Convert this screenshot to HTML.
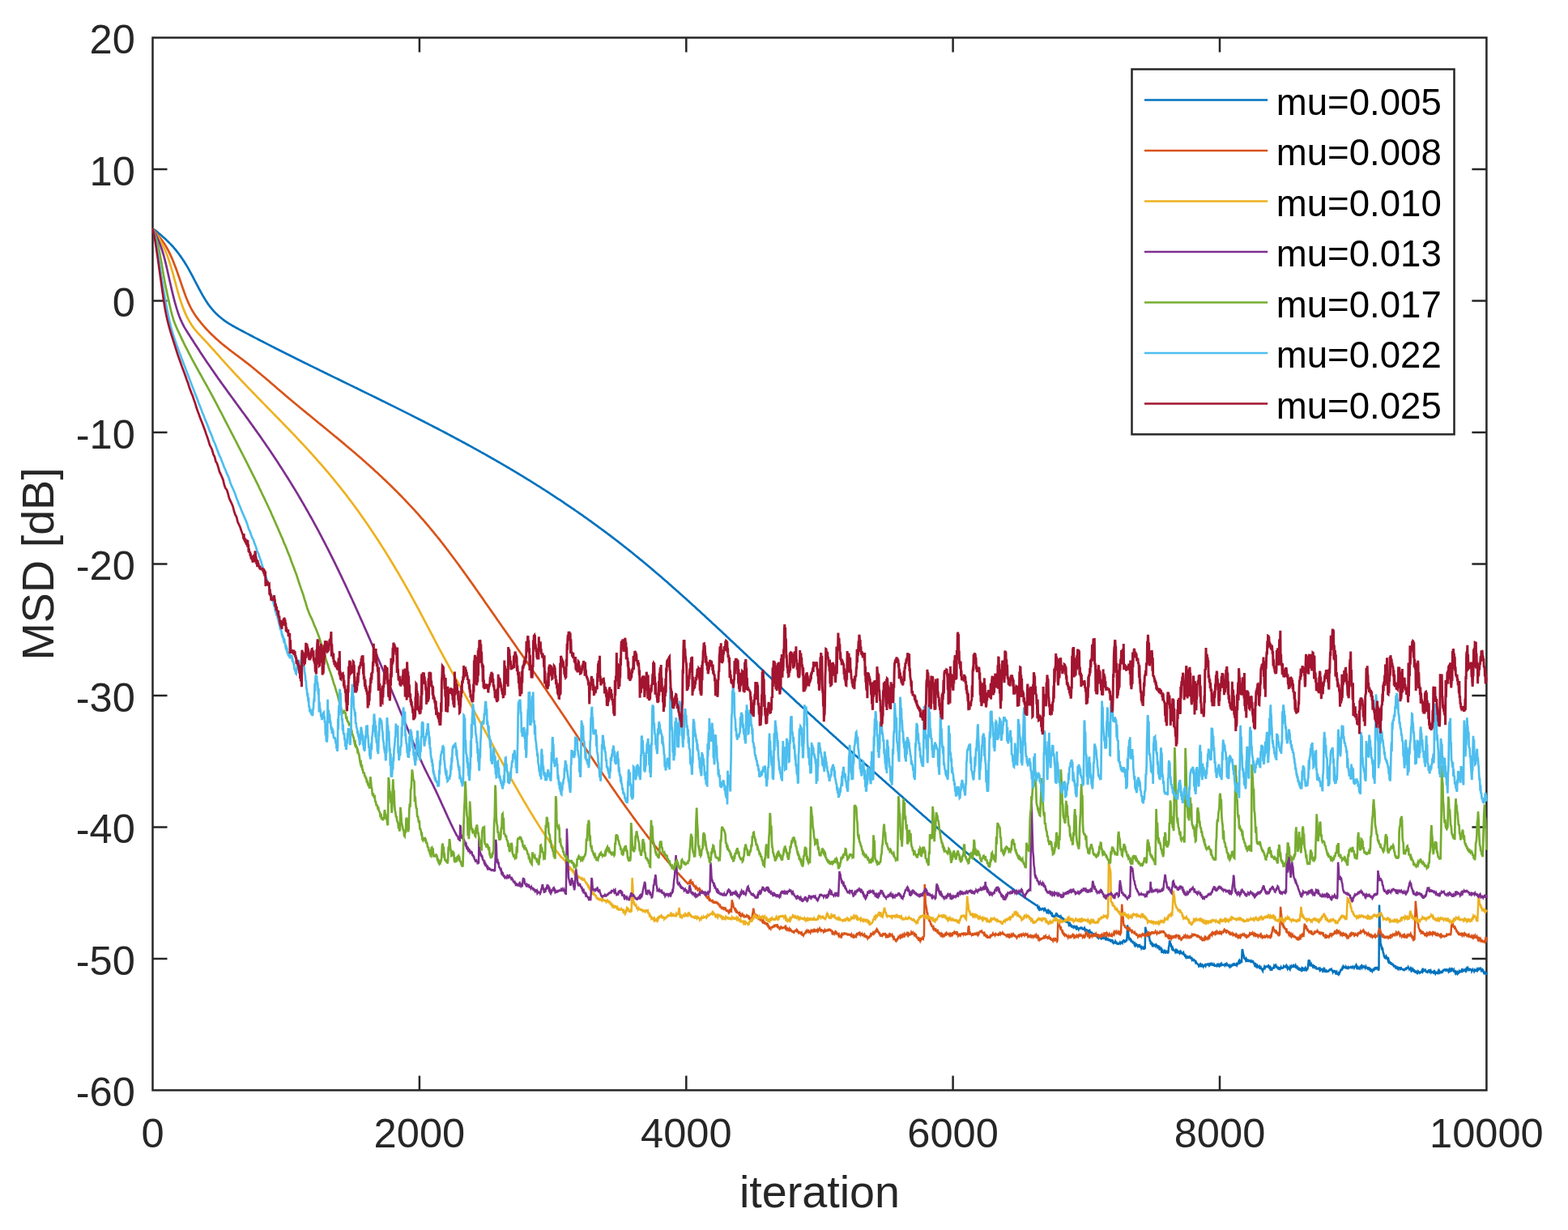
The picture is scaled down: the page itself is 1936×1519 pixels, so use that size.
<!DOCTYPE html>
<html lang="en"><head><meta charset="utf-8"><title>MSD vs iteration</title>
<style>html,body{margin:0;padding:0;background:#fff}body{width:1936px;height:1519px;overflow:hidden}svg{display:block}text{font-family:"Liberation Sans",sans-serif}</style></head><body>
<svg width="1936" height="1519" viewBox="0 0 1936 1519">
<rect width="1936" height="1519" fill="#fff"/>
<defs><clipPath id="ax"><rect x="187.2" y="45.2" width="1649.5" height="1302.5"/></clipPath></defs>
<g stroke="#262626" stroke-width="2.5" fill="none">
<path d="M517.9,1346.4 v-18 M517.9,46.5 v18"/>
<path d="M847.3,1346.4 v-18 M847.3,46.5 v18"/>
<path d="M1176.6,1346.4 v-18 M1176.6,46.5 v18"/>
<path d="M1506.0,1346.4 v-18 M1506.0,46.5 v18"/>
<path d="M188.5,209.0 h18 M1835.4,209.0 h-18"/>
<path d="M188.5,371.5 h18 M1835.4,371.5 h-18"/>
<path d="M188.5,534.0 h18 M1835.4,534.0 h-18"/>
<path d="M188.5,696.5 h18 M1835.4,696.5 h-18"/>
<path d="M188.5,858.9 h18 M1835.4,858.9 h-18"/>
<path d="M188.5,1021.4 h18 M1835.4,1021.4 h-18"/>
<path d="M188.5,1183.9 h18 M1835.4,1183.9 h-18"/>
<rect x="188.5" y="46.5" width="1646.9" height="1299.9"/>
</g>
<g clip-path="url(#ax)" fill="none" stroke-width="2.7" stroke-linejoin="round" stroke-linecap="butt">
<path stroke="#0072BD" d="M188.5,282.1 L190.0,283.3 L191.5,284.4 L193.0,285.6 L194.5,286.8 L196.0,288.1 L197.5,289.3 L199.0,290.6 L200.5,291.9 L202.0,293.2 L203.5,294.5 L205.0,295.9 L206.5,297.4 L208.0,298.8 L209.5,300.4 L211.0,301.9 L212.5,303.5 L214.0,305.2 L215.5,307.0 L217.0,308.7 L218.5,310.6 L220.0,312.5 L221.5,314.5 L223.0,316.6 L224.5,318.7 L226.0,321.0 L227.5,323.3 L229.0,325.7 L230.5,328.1 L232.0,330.7 L233.5,333.4 L235.0,336.1 L236.5,338.9 L238.0,341.7 L239.5,344.6 L241.0,347.5 L242.5,350.3 L244.0,353.2 L245.5,356.1 L247.0,358.9 L248.5,361.6 L250.0,364.3 L251.5,366.9 L253.0,369.4 L254.5,371.8 L256.0,374.1 L257.5,376.2 L259.0,378.3 L260.5,380.2 L262.0,382.0 L263.5,383.7 L265.0,385.3 L266.5,386.9 L268.0,388.3 L269.5,389.7 L271.0,391.0 L272.5,392.3 L274.0,393.5 L275.5,394.7 L277.0,395.8 L278.5,396.9 L280.0,397.9 L281.5,398.9 L283.0,399.8 L284.5,400.7 L286.0,401.6 L287.5,402.5 L289.0,403.3 L290.5,404.1 L292.0,405.0 L293.5,405.8 L295.0,406.6 L296.5,407.4 L298.0,408.2 L299.5,409.0 L301.0,409.8 L302.5,410.6 L304.0,411.4 L305.5,412.1 L307.0,412.9 L308.5,413.7 L310.0,414.5 L311.5,415.3 L313.0,416.1 L314.5,416.9 L316.0,417.6 L317.5,418.4 L319.0,419.2 L320.5,420.0 L322.0,420.8 L323.5,421.5 L325.0,422.3 L326.5,423.1 L328.0,423.8 L329.5,424.6 L331.0,425.4 L332.5,426.1 L334.0,426.9 L335.5,427.7 L337.0,428.4 L338.5,429.2 L340.0,430.0 L341.5,430.7 L343.0,431.5 L344.5,432.2 L346.0,433.0 L347.5,433.7 L349.0,434.5 L350.5,435.3 L352.0,436.0 L353.5,436.8 L355.0,437.5 L356.5,438.3 L358.0,439.0 L359.5,439.8 L361.0,440.5 L362.5,441.3 L364.0,442.0 L365.5,442.8 L367.0,443.5 L368.5,444.2 L370.0,445.0 L371.5,445.7 L373.0,446.5 L374.5,447.2 L376.0,448.0 L377.5,448.7 L379.0,449.4 L380.5,450.2 L382.0,450.9 L383.5,451.7 L385.0,452.4 L386.5,453.1 L388.0,453.9 L389.5,454.6 L391.0,455.3 L392.5,456.1 L394.0,456.8 L395.5,457.6 L397.0,458.3 L398.5,459.0 L400.0,459.8 L401.5,460.5 L403.0,461.2 L404.5,462.0 L406.0,462.7 L407.5,463.4 L409.0,464.2 L410.5,464.9 L412.0,465.6 L413.5,466.4 L415.0,467.1 L416.5,467.8 L418.0,468.5 L419.5,469.3 L421.0,470.0 L422.5,470.7 L424.0,471.5 L425.5,472.2 L427.0,472.9 L428.5,473.7 L430.0,474.4 L431.5,475.1 L433.0,475.9 L434.5,476.6 L436.0,477.3 L437.5,478.1 L439.0,478.8 L440.5,479.5 L442.0,480.3 L443.5,481.0 L445.0,481.7 L446.5,482.5 L448.0,483.2 L449.5,483.9 L451.0,484.7 L452.5,485.4 L454.0,486.1 L455.5,486.9 L457.0,487.6 L458.5,488.3 L460.0,489.1 L461.5,489.8 L463.0,490.5 L464.5,491.3 L466.0,492.0 L467.5,492.8 L469.0,493.5 L470.5,494.2 L472.0,495.0 L473.5,495.7 L475.0,496.4 L476.5,497.2 L478.0,497.9 L479.5,498.7 L481.0,499.4 L482.5,500.2 L484.0,500.9 L485.5,501.6 L487.0,502.4 L488.5,503.1 L490.0,503.9 L491.5,504.6 L493.0,505.4 L494.5,506.1 L496.0,506.9 L497.5,507.6 L499.0,508.4 L500.5,509.1 L502.0,509.9 L503.5,510.6 L505.0,511.4 L506.5,512.1 L508.0,512.9 L509.5,513.7 L511.0,514.4 L512.5,515.2 L514.0,515.9 L515.5,516.7 L517.0,517.5 L518.5,518.2 L520.0,519.0 L521.5,519.7 L523.0,520.5 L524.5,521.3 L526.0,522.1 L527.5,522.8 L529.0,523.6 L530.5,524.4 L532.0,525.1 L533.5,525.9 L535.0,526.7 L536.5,527.5 L538.0,528.2 L539.5,529.0 L541.0,529.8 L542.5,530.6 L544.0,531.4 L545.5,532.1 L547.0,532.9 L548.5,533.7 L550.0,534.5 L551.5,535.3 L553.0,536.1 L554.5,536.9 L556.0,537.7 L557.5,538.5 L559.0,539.3 L560.5,540.1 L562.0,540.9 L563.5,541.7 L565.0,542.5 L566.5,543.3 L568.0,544.1 L569.5,544.9 L571.0,545.7 L572.5,546.5 L574.0,547.3 L575.5,548.1 L577.0,549.0 L578.5,549.8 L580.0,550.6 L581.5,551.4 L583.0,552.2 L584.5,553.1 L586.0,553.9 L587.5,554.7 L589.0,555.6 L590.5,556.4 L592.0,557.2 L593.5,558.1 L595.0,558.9 L596.5,559.7 L598.0,560.6 L599.5,561.4 L601.0,562.3 L602.5,563.1 L604.0,564.0 L605.5,564.8 L607.0,565.7 L608.5,566.5 L610.0,567.4 L611.5,568.2 L613.0,569.1 L614.5,570.0 L616.0,570.8 L617.5,571.7 L619.0,572.6 L620.5,573.4 L622.0,574.3 L623.5,575.2 L625.0,576.1 L626.5,577.0 L628.0,577.8 L629.5,578.7 L631.0,579.6 L632.5,580.5 L634.0,581.4 L635.5,582.3 L637.0,583.2 L638.5,584.1 L640.0,585.0 L641.5,585.9 L643.0,586.8 L644.5,587.7 L646.0,588.6 L647.5,589.5 L649.0,590.5 L650.5,591.4 L652.0,592.3 L653.5,593.2 L655.0,594.2 L656.5,595.1 L658.0,596.0 L659.5,597.0 L661.0,597.9 L662.5,598.8 L664.0,599.8 L665.5,600.7 L667.0,601.7 L668.5,602.6 L670.0,603.6 L671.5,604.5 L673.0,605.5 L674.5,606.5 L676.0,607.4 L677.5,608.4 L679.0,609.4 L680.5,610.3 L682.0,611.3 L683.5,612.3 L685.0,613.3 L686.5,614.3 L688.0,615.3 L689.5,616.3 L691.0,617.2 L692.5,618.2 L694.0,619.2 L695.5,620.2 L697.0,621.3 L698.5,622.3 L700.0,623.3 L701.5,624.3 L703.0,625.3 L704.5,626.3 L706.0,627.4 L707.5,628.4 L709.0,629.4 L710.5,630.5 L712.0,631.5 L713.5,632.5 L715.0,633.6 L716.5,634.6 L718.0,635.7 L719.5,636.7 L721.0,637.8 L722.5,638.9 L724.0,639.9 L725.5,641.0 L727.0,642.1 L728.5,643.1 L730.0,644.2 L731.5,645.3 L733.0,646.4 L734.5,647.5 L736.0,648.6 L737.5,649.7 L739.0,650.8 L740.5,651.9 L742.0,653.0 L743.5,654.1 L745.0,655.2 L746.5,656.3 L748.0,657.4 L749.5,658.5 L751.0,659.7 L752.5,660.8 L754.0,661.9 L755.5,663.1 L757.0,664.2 L758.5,665.4 L760.0,666.5 L761.5,667.7 L763.0,668.8 L764.5,670.0 L766.0,671.2 L767.5,672.3 L769.0,673.5 L770.5,674.7 L772.0,675.9 L773.5,677.0 L775.0,678.2 L776.5,679.4 L778.0,680.6 L779.5,681.8 L781.0,683.0 L782.5,684.2 L784.0,685.5 L785.5,686.7 L787.0,687.9 L788.5,689.1 L790.0,690.4 L791.5,691.6 L793.0,692.8 L794.5,694.1 L796.0,695.3 L797.5,696.6 L799.0,697.8 L800.5,699.1 L802.0,700.3 L803.5,701.6 L805.0,702.9 L806.5,704.1 L808.0,705.4 L809.5,706.7 L811.0,708.0 L812.5,709.2 L814.0,710.5 L815.5,711.8 L817.0,713.1 L818.5,714.4 L820.0,715.7 L821.5,717.0 L823.0,718.3 L824.5,719.6 L826.0,721.0 L827.5,722.3 L829.0,723.6 L830.5,724.9 L832.0,726.2 L833.5,727.6 L835.0,728.9 L836.5,730.2 L838.0,731.6 L839.5,732.9 L841.0,734.2 L842.5,735.6 L844.0,736.9 L845.5,738.3 L847.0,739.6 L848.5,741.0 L850.0,742.3 L851.5,743.7 L853.0,745.1 L854.5,746.4 L856.0,747.8 L857.5,749.1 L859.0,750.5 L860.5,751.9 L862.0,753.3 L863.5,754.6 L865.0,756.0 L866.5,757.4 L868.0,758.8 L869.5,760.1 L871.0,761.5 L872.5,762.9 L874.0,764.3 L875.5,765.7 L877.0,767.1 L878.5,768.5 L880.0,769.9 L881.5,771.2 L883.0,772.6 L884.5,774.0 L886.0,775.4 L887.5,776.8 L889.0,778.2 L890.5,779.6 L892.0,781.0 L893.5,782.4 L895.0,783.8 L896.5,785.2 L898.0,786.7 L899.5,788.1 L901.0,789.5 L902.5,790.9 L904.0,792.3 L905.5,793.7 L907.0,795.1 L908.5,796.5 L910.0,797.9 L911.5,799.3 L913.0,800.8 L914.5,802.2 L916.0,803.6 L917.5,805.0 L919.0,806.4 L920.5,807.8 L922.0,809.2 L923.5,810.6 L925.0,812.1 L926.5,813.5 L928.0,814.9 L929.5,816.3 L931.0,817.7 L932.5,819.1 L934.0,820.5 L935.5,822.0 L937.0,823.4 L938.5,824.8 L940.0,826.2 L941.5,827.6 L943.0,829.0 L944.5,830.4 L946.0,831.9 L947.5,833.3 L949.0,834.7 L950.5,836.1 L952.0,837.5 L953.5,838.9 L955.0,840.3 L956.5,841.7 L958.0,843.1 L959.5,844.5 L961.0,845.9 L962.5,847.3 L964.0,848.7 L965.5,850.1 L967.0,851.5 L968.5,852.9 L970.0,854.3 L971.5,855.7 L973.0,857.1 L974.5,858.5 L976.0,859.9 L977.5,861.3 L979.0,862.7 L980.5,864.1 L982.0,865.5 L983.5,866.9 L985.0,868.2 L986.5,869.6 L988.0,871.0 L989.5,872.4 L991.0,873.8 L992.5,875.1 L994.0,876.5 L995.5,877.9 L997.0,879.3 L998.5,880.7 L1000.0,882.0 L1001.5,883.4 L1003.0,884.8 L1004.5,886.1 L1006.0,887.5 L1007.5,888.9 L1009.0,890.2 L1010.5,891.6 L1012.0,893.0 L1013.5,894.3 L1015.0,895.7 L1016.5,897.1 L1018.0,898.4 L1019.5,899.8 L1021.0,901.1 L1022.5,902.5 L1024.0,903.9 L1025.5,905.2 L1027.0,906.6 L1028.5,907.9 L1030.0,909.3 L1031.5,910.6 L1033.0,912.0 L1034.5,913.3 L1036.0,914.7 L1037.5,916.0 L1039.0,917.4 L1040.5,918.7 L1042.0,920.1 L1043.5,921.4 L1045.0,922.8 L1046.5,924.1 L1048.0,925.5 L1049.5,926.8 L1051.0,928.1 L1052.5,929.5 L1054.0,930.8 L1055.5,932.2 L1057.0,933.5 L1058.5,934.8 L1060.0,936.2 L1061.5,937.5 L1063.0,938.9 L1064.5,940.2 L1066.0,941.5 L1067.5,942.9 L1069.0,944.2 L1070.5,945.5 L1072.0,946.9 L1073.5,948.2 L1075.0,949.5 L1076.5,950.9 L1078.0,952.2 L1079.5,953.6 L1081.0,954.9 L1082.5,956.2 L1084.0,957.5 L1085.5,958.9 L1087.0,960.2 L1088.5,961.5 L1090.0,962.9 L1091.5,964.2 L1093.0,965.5 L1094.5,966.9 L1096.0,968.2 L1097.5,969.5 L1099.0,970.9 L1100.5,972.2 L1102.0,973.5 L1103.5,974.8 L1105.0,976.2 L1106.5,977.5 L1108.0,978.8 L1109.5,980.2 L1111.0,981.5 L1112.5,982.8 L1114.0,984.1 L1115.5,985.5 L1117.0,986.8 L1118.5,988.1 L1120.0,989.4 L1121.5,990.8 L1123.0,992.1 L1124.5,993.4 L1126.0,994.8 L1127.5,996.1 L1129.0,997.4 L1130.5,998.7 L1132.0,1000.0 L1133.5,1001.4 L1135.0,1002.7 L1136.5,1004.0 L1138.0,1005.3 L1139.5,1006.7 L1141.0,1008.0 L1142.5,1009.3 L1144.0,1010.6 L1145.5,1011.9 L1147.0,1013.2 L1148.5,1014.5 L1150.0,1015.8 L1151.5,1017.2 L1153.0,1018.5 L1154.5,1019.8 L1156.0,1021.1 L1157.5,1022.4 L1159.0,1023.7 L1160.5,1025.0 L1162.0,1026.3 L1163.5,1027.6 L1165.0,1028.9 L1166.5,1030.2 L1168.0,1031.4 L1169.5,1032.7 L1171.0,1034.0 L1172.5,1035.3 L1174.0,1036.6 L1175.5,1037.9 L1177.0,1039.1 L1178.5,1040.4 L1180.0,1041.7 L1181.5,1043.0 L1183.0,1044.2 L1184.5,1045.5 L1186.0,1046.8 L1187.5,1048.0 L1189.0,1049.3 L1190.5,1050.5 L1192.0,1051.8 L1193.5,1053.0 L1195.0,1054.3 L1196.5,1055.5 L1198.0,1056.7 L1199.5,1058.0 L1201.0,1059.2 L1202.5,1060.4 L1204.0,1061.7 L1205.5,1062.9 L1207.0,1064.1 L1208.5,1065.3 L1210.0,1066.5 L1211.5,1067.8 L1213.0,1069.0 L1214.5,1070.2 L1216.0,1071.4 L1217.5,1072.6 L1219.0,1073.8 L1220.5,1074.9 L1222.0,1076.1 L1223.5,1077.3 L1225.0,1078.5 L1226.5,1079.6 L1228.0,1080.8 L1229.5,1082.0 L1231.0,1083.1 L1232.5,1084.3 L1234.0,1085.4 L1235.5,1086.6 L1237.0,1087.7 L1238.5,1088.9 L1240.0,1090.0 L1241.5,1091.1 L1243.0,1092.3 L1244.5,1093.4 L1246.0,1094.5 L1247.5,1095.6 L1249.0,1096.7 L1250.5,1097.8 L1252.0,1098.9 L1253.5,1100.0 L1255.0,1101.1 L1256.5,1102.2 L1258.0,1103.2 L1259.5,1104.3 L1261.0,1105.4 L1262.5,1106.4 L1264.0,1107.5 L1265.5,1108.5 L1267.0,1109.6 L1268.5,1110.6 L1270.0,1111.7 L1271.5,1112.7 L1273.0,1113.7 L1274.5,1114.7 L1276.0,1115.7 L1277.5,1116.7 L1279.0,1117.7 L1280.2,1118.5"/>
<path stroke="#0072BD" stroke-width="2.5" stroke-linejoin="miter" stroke-miterlimit="3" d="M1280.2,1118.5 L1280.8,1118.2 L1281.4,1120.8 L1282.0,1120.4 L1282.6,1122.3 L1283.2,1121.1 L1283.8,1122.9 L1284.4,1122.0 L1285.0,1122.5 L1285.6,1123.3 L1286.2,1122.6 L1286.8,1122.8 L1287.3,1121.1 L1287.9,1123.1 L1288.5,1121.4 L1289.1,1123.7 L1289.7,1122.7 L1290.3,1125.1 L1290.8,1123.2 L1291.4,1124.1 L1292.0,1125.6 L1292.6,1123.8 L1293.2,1125.8 L1293.8,1124.7 L1294.4,1126.6 L1295.0,1125.3 L1295.6,1126.6 L1296.2,1127.3 L1296.8,1126.3 L1297.4,1127.8 L1298.0,1127.7 L1298.6,1129.9 L1299.2,1129.1 L1299.8,1131.5 L1300.4,1131.6 L1301.0,1131.3 L1301.6,1133.0 L1302.2,1130.1 L1302.8,1132.5 L1303.4,1130.5 L1304.2,1127.3 L1304.8,1128.6 L1305.3,1130.9 L1305.8,1131.3 L1306.5,1130.8 L1307.1,1132.8 L1307.8,1130.6 L1308.4,1132.2 L1309.0,1132.9 L1309.7,1131.7 L1310.3,1133.6 L1310.9,1132.2 L1311.6,1135.0 L1312.2,1133.3 L1312.8,1135.1 L1313.4,1136.6 L1314.0,1134.5 L1314.6,1137.6 L1315.1,1135.6 L1315.7,1139.0 L1316.3,1136.6 L1316.9,1139.5 L1317.5,1138.1 L1318.1,1138.8 L1318.6,1138.6 L1319.2,1139.9 L1319.8,1142.1 L1320.4,1141.1 L1321.0,1143.8 L1321.6,1141.6 L1322.2,1142.9 L1322.8,1141.8 L1323.4,1145.2 L1324.0,1143.9 L1324.6,1144.4 L1325.2,1145.4 L1325.8,1144.5 L1326.3,1146.2 L1326.9,1143.4 L1327.5,1145.1 L1328.1,1144.6 L1328.7,1146.3 L1329.3,1145.2 L1329.8,1146.5 L1330.4,1145.5 L1331.0,1146.3 L1331.7,1147.8 L1332.3,1145.7 L1332.9,1147.8 L1333.5,1145.2 L1334.1,1147.5 L1334.7,1144.6 L1335.4,1146.8 L1336.0,1144.9 L1336.6,1148.0 L1337.2,1146.2 L1337.8,1148.6 L1338.4,1147.1 L1339.0,1146.1 L1339.6,1148.2 L1340.2,1146.9 L1340.8,1149.5 L1341.3,1147.5 L1341.9,1149.8 L1342.5,1148.0 L1343.1,1150.7 L1343.7,1148.2 L1344.3,1151.1 L1344.8,1150.3 L1345.4,1149.5 L1346.0,1151.6 L1346.6,1151.2 L1347.2,1152.0 L1347.8,1151.8 L1348.4,1153.6 L1349.0,1152.8 L1349.6,1153.5 L1350.3,1154.5 L1350.9,1153.9 L1351.5,1156.4 L1352.1,1153.4 L1352.7,1156.3 L1353.3,1154.8 L1353.9,1155.6 L1354.6,1155.6 L1355.2,1157.1 L1355.8,1155.9 L1356.4,1157.6 L1357.0,1156.0 L1357.6,1156.7 L1358.2,1157.9 L1358.8,1157.4 L1359.4,1158.7 L1360.0,1157.5 L1360.6,1158.5 L1361.1,1157.9 L1361.7,1158.5 L1362.3,1156.5 L1362.9,1159.2 L1363.5,1157.7 L1364.0,1159.1 L1364.6,1159.6 L1365.2,1158.5 L1365.8,1161.5 L1366.4,1158.8 L1367.0,1160.3 L1367.5,1158.3 L1368.1,1161.3 L1368.7,1159.5 L1369.3,1162.3 L1369.9,1159.6 L1370.5,1161.5 L1371.1,1162.0 L1371.7,1160.1 L1372.3,1162.0 L1372.9,1160.4 L1373.6,1163.1 L1374.2,1162.5 L1374.8,1164.4 L1375.4,1163.7 L1376.1,1163.9 L1376.7,1165.3 L1377.3,1162.6 L1377.9,1163.8 L1378.5,1163.8 L1379.2,1166.2 L1379.8,1164.4 L1380.4,1166.6 L1381.0,1163.9 L1381.7,1165.5 L1382.3,1165.0 L1382.9,1163.7 L1383.5,1164.8 L1384.2,1163.2 L1384.8,1165.4 L1385.4,1162.6 L1386.0,1164.0 L1386.6,1161.9 L1387.3,1161.5 L1387.8,1163.6 L1388.4,1160.9 L1389.0,1162.9 L1389.6,1162.2 L1390.1,1162.4 L1390.7,1160.8 L1391.3,1162.3 L1392.1,1142.3 L1392.6,1148.1 L1393.1,1151.3 L1393.7,1157.5 L1394.2,1159.1 L1394.8,1157.8 L1395.4,1161.2 L1396.0,1159.0 L1396.5,1162.0 L1397.1,1161.8 L1397.7,1163.1 L1398.3,1163.8 L1398.8,1162.1 L1399.4,1165.3 L1400.0,1163.9 L1400.6,1166.3 L1401.2,1165.3 L1401.8,1167.3 L1402.3,1166.1 L1402.9,1168.8 L1403.5,1166.5 L1404.1,1167.1 L1404.7,1168.4 L1405.2,1166.9 L1405.8,1169.2 L1406.4,1166.2 L1407.0,1169.8 L1407.6,1168.5 L1408.2,1170.6 L1408.7,1168.3 L1409.3,1170.9 L1409.9,1169.7 L1410.5,1171.2 L1411.1,1171.2 L1411.8,1170.3 L1412.4,1172.8 L1413.0,1170.4 L1413.7,1172.0 L1414.2,1144.7 L1414.8,1148.0 L1415.4,1149.1 L1416.1,1153.5 L1416.7,1154.8 L1417.3,1153.6 L1417.9,1155.8 L1418.5,1155.9 L1419.1,1157.8 L1419.7,1161.8 L1420.3,1162.0 L1420.9,1165.5 L1421.5,1165.9 L1422.0,1165.2 L1422.6,1167.2 L1423.2,1166.2 L1423.8,1167.4 L1424.3,1165.7 L1424.9,1167.9 L1425.5,1167.9 L1426.2,1166.0 L1426.8,1168.0 L1427.5,1166.5 L1428.1,1167.1 L1428.7,1168.8 L1429.3,1167.2 L1429.9,1171.1 L1430.5,1170.0 L1431.1,1171.4 L1431.7,1170.2 L1432.3,1172.2 L1432.9,1172.0 L1433.5,1171.3 L1434.1,1174.4 L1434.7,1173.6 L1435.3,1176.8 L1435.9,1174.1 L1436.5,1175.7 L1437.1,1174.5 L1437.7,1176.0 L1438.3,1176.4 L1438.9,1174.8 L1439.5,1175.7 L1440.1,1173.9 L1440.7,1176.5 L1441.3,1175.0 L1441.9,1177.4 L1442.5,1176.0 L1443.0,1169.9 L1443.6,1167.7 L1444.1,1161.5 L1444.7,1163.1 L1445.3,1166.8 L1445.9,1166.6 L1446.5,1169.6 L1447.1,1171.4 L1447.7,1170.5 L1448.2,1172.8 L1448.8,1172.5 L1449.4,1173.7 L1449.9,1173.5 L1450.5,1173.6 L1451.1,1175.3 L1451.7,1173.7 L1452.3,1175.0 L1452.9,1173.8 L1453.5,1175.4 L1454.1,1174.8 L1454.7,1176.3 L1455.3,1176.0 L1455.9,1175.4 L1456.5,1177.0 L1457.1,1175.8 L1457.7,1178.1 L1458.3,1176.5 L1458.9,1178.0 L1459.5,1175.7 L1460.1,1177.6 L1460.7,1178.2 L1461.3,1177.0 L1461.9,1179.7 L1462.5,1178.0 L1463.0,1180.4 L1463.6,1180.0 L1464.2,1181.7 L1464.8,1180.1 L1465.4,1182.2 L1465.9,1181.7 L1466.5,1181.6 L1467.1,1183.6 L1467.7,1180.4 L1468.3,1182.1 L1468.9,1181.5 L1469.4,1183.3 L1470.0,1181.6 L1470.6,1184.6 L1471.2,1182.1 L1471.8,1185.3 L1472.4,1184.5 L1472.9,1184.8 L1473.5,1185.9 L1474.1,1185.2 L1474.7,1186.1 L1475.3,1186.2 L1475.9,1187.9 L1476.5,1186.4 L1477.1,1189.6 L1477.7,1189.6 L1478.4,1190.1 L1479.0,1191.2 L1479.7,1191.6 L1480.3,1193.4 L1480.9,1192.8 L1481.5,1191.4 L1482.1,1192.5 L1482.7,1191.1 L1483.3,1192.3 L1483.9,1191.8 L1484.4,1194.3 L1485.0,1192.5 L1485.6,1193.6 L1486.2,1191.2 L1486.8,1193.0 L1487.3,1192.8 L1487.9,1191.6 L1488.5,1192.7 L1489.1,1190.1 L1489.7,1192.4 L1490.3,1190.0 L1490.8,1192.0 L1491.4,1189.6 L1492.0,1191.2 L1492.6,1190.7 L1493.2,1192.6 L1493.8,1192.0 L1494.3,1189.1 L1494.9,1192.2 L1495.5,1190.3 L1496.1,1191.2 L1496.7,1190.5 L1497.2,1192.3 L1497.8,1190.6 L1498.4,1192.8 L1499.0,1191.3 L1499.6,1192.8 L1500.2,1192.8 L1500.7,1191.1 L1501.3,1193.6 L1501.9,1191.6 L1502.5,1194.1 L1503.1,1191.5 L1503.6,1192.0 L1504.2,1191.1 L1504.8,1192.1 L1505.4,1190.1 L1506.0,1192.7 L1506.6,1192.0 L1507.1,1190.8 L1507.7,1191.8 L1508.3,1190.6 L1508.9,1192.7 L1509.5,1190.6 L1510.1,1192.5 L1510.6,1190.6 L1511.2,1193.0 L1511.8,1190.5 L1512.4,1191.9 L1513.0,1190.4 L1513.6,1190.6 L1514.2,1191.6 L1514.8,1190.2 L1515.4,1191.1 L1516.0,1191.4 L1516.6,1192.5 L1517.2,1192.2 L1517.8,1193.6 L1518.4,1194.3 L1518.9,1193.0 L1519.5,1194.8 L1520.1,1192.0 L1520.7,1193.5 L1521.3,1190.9 L1521.8,1193.3 L1522.4,1189.7 L1523.0,1191.2 L1523.6,1190.4 L1524.2,1191.2 L1524.8,1192.6 L1525.4,1189.8 L1526.0,1191.2 L1526.6,1190.4 L1527.2,1191.9 L1527.8,1190.3 L1528.4,1190.4 L1529.0,1188.8 L1529.5,1187.4 L1530.1,1188.5 L1530.7,1186.5 L1531.3,1187.8 L1531.8,1186.3 L1532.4,1188.2 L1533.0,1188.0 L1533.8,1172.0 L1534.4,1174.1 L1535.0,1178.2 L1535.6,1179.6 L1536.2,1183.2 L1536.8,1184.0 L1537.5,1183.7 L1538.1,1185.6 L1538.7,1184.2 L1539.4,1186.4 L1540.0,1185.9 L1540.5,1185.6 L1541.1,1187.8 L1541.7,1185.1 L1542.2,1187.8 L1542.8,1186.5 L1543.4,1186.4 L1544.0,1187.3 L1544.5,1186.4 L1545.1,1187.1 L1545.7,1185.7 L1546.2,1189.0 L1546.8,1186.3 L1547.4,1188.0 L1548.0,1189.3 L1548.5,1189.6 L1549.1,1191.8 L1549.7,1190.9 L1550.3,1192.6 L1550.8,1191.5 L1551.4,1192.8 L1552.0,1194.0 L1552.6,1192.6 L1553.2,1194.0 L1553.8,1193.8 L1554.4,1194.6 L1555.0,1193.6 L1555.6,1195.6 L1556.2,1196.0 L1556.8,1194.9 L1557.4,1196.8 L1557.9,1195.5 L1558.5,1198.2 L1559.1,1199.2 L1559.5,1196.8 L1560.0,1196.8 L1560.6,1195.8 L1561.2,1193.9 L1561.8,1195.1 L1562.4,1192.8 L1563.0,1195.3 L1563.6,1192.5 L1564.2,1193.8 L1564.8,1193.6 L1565.4,1193.0 L1566.0,1195.1 L1566.6,1193.6 L1567.2,1195.0 L1567.8,1194.2 L1568.4,1196.5 L1569.0,1195.4 L1569.6,1196.8 L1570.2,1198.7 L1570.8,1195.6 L1571.4,1196.8 L1572.0,1193.9 L1572.6,1196.2 L1573.2,1192.9 L1573.8,1193.9 L1574.4,1192.0 L1575.0,1191.6 L1575.6,1194.4 L1576.2,1192.6 L1576.8,1195.8 L1577.4,1194.2 L1578.0,1197.2 L1578.6,1195.7 L1579.2,1196.8 L1579.8,1197.0 L1580.4,1194.4 L1581.0,1195.7 L1581.5,1194.6 L1582.1,1196.6 L1582.7,1194.3 L1583.3,1196.8 L1583.9,1194.2 L1584.5,1195.7 L1585.0,1193.1 L1585.6,1193.6 L1586.2,1193.9 L1586.8,1193.4 L1587.4,1193.7 L1587.9,1192.8 L1588.5,1195.8 L1589.1,1194.4 L1589.7,1196.4 L1590.3,1195.2 L1590.9,1197.1 L1591.4,1195.3 L1592.0,1196.0 L1592.6,1197.0 L1593.2,1194.0 L1593.8,1194.9 L1594.4,1193.5 L1594.9,1195.1 L1595.5,1192.9 L1596.1,1194.6 L1596.7,1192.8 L1597.3,1193.5 L1597.8,1192.3 L1598.4,1192.8 L1599.0,1193.6 L1599.6,1192.3 L1600.2,1194.3 L1600.8,1193.8 L1601.3,1194.9 L1601.9,1194.4 L1602.5,1197.6 L1603.1,1194.7 L1603.7,1196.8 L1604.3,1196.2 L1604.8,1196.8 L1605.4,1198.6 L1606.0,1195.4 L1606.6,1197.5 L1607.2,1196.1 L1607.8,1197.6 L1608.4,1196.5 L1609.0,1198.0 L1609.6,1197.6 L1610.2,1194.9 L1610.8,1196.9 L1611.4,1195.8 L1612.0,1198.9 L1612.6,1196.9 L1613.2,1198.1 L1613.8,1197.3 L1614.4,1196.8 L1615.1,1193.0 L1615.7,1186.4 L1616.3,1186.3 L1616.8,1189.5 L1617.4,1188.7 L1617.9,1192.2 L1618.4,1192.0 L1619.1,1190.9 L1619.7,1193.4 L1620.3,1191.4 L1620.9,1193.6 L1621.6,1192.6 L1622.2,1194.0 L1622.8,1192.2 L1623.4,1195.5 L1624.0,1194.4 L1624.7,1194.3 L1625.3,1197.3 L1625.9,1195.2 L1626.5,1197.1 L1627.1,1195.3 L1627.7,1197.3 L1628.3,1194.7 L1628.9,1196.8 L1629.5,1198.1 L1630.1,1196.6 L1630.7,1197.9 L1631.3,1197.2 L1631.9,1197.2 L1632.5,1196.0 L1633.1,1199.1 L1633.7,1198.4 L1634.3,1197.0 L1634.9,1198.8 L1635.5,1197.6 L1636.1,1200.1 L1636.7,1198.4 L1637.3,1200.9 L1637.9,1198.7 L1638.5,1199.2 L1639.1,1200.7 L1639.7,1198.5 L1640.3,1200.3 L1640.9,1197.4 L1641.5,1199.0 L1642.1,1196.2 L1642.7,1197.4 L1643.3,1197.6 L1643.9,1196.9 L1644.5,1198.5 L1645.1,1198.7 L1645.7,1200.5 L1646.3,1198.9 L1646.9,1200.8 L1647.5,1198.1 L1648.1,1200.0 L1648.6,1200.9 L1649.2,1198.8 L1649.8,1201.2 L1650.4,1200.3 L1650.9,1202.4 L1651.5,1202.4 L1652.1,1203.2 L1652.6,1203.7 L1653.2,1201.5 L1653.8,1202.0 L1654.4,1200.1 L1654.9,1199.7 L1655.5,1197.6 L1656.1,1197.6 L1656.7,1197.7 L1657.4,1195.1 L1658.0,1195.5 L1658.6,1193.0 L1659.3,1193.6 L1659.9,1195.5 L1660.5,1193.7 L1661.1,1196.0 L1661.7,1194.1 L1662.3,1195.3 L1662.9,1194.7 L1663.5,1195.4 L1664.1,1196.0 L1664.7,1194.8 L1665.3,1196.2 L1665.9,1193.7 L1666.5,1195.9 L1667.1,1194.1 L1667.7,1195.9 L1668.3,1194.1 L1668.9,1194.4 L1669.5,1195.0 L1670.1,1194.1 L1670.7,1195.8 L1671.3,1193.7 L1671.9,1195.2 L1672.5,1193.7 L1673.1,1193.6 L1673.7,1192.8 L1674.3,1191.8 L1674.9,1194.5 L1675.5,1193.7 L1676.1,1195.6 L1676.7,1194.9 L1677.3,1197.2 L1677.9,1193.9 L1678.5,1195.2 L1679.1,1196.0 L1679.7,1193.7 L1680.3,1194.0 L1680.9,1192.9 L1681.5,1194.8 L1682.1,1193.3 L1682.7,1194.2 L1683.3,1193.6 L1683.9,1193.2 L1684.5,1195.7 L1685.1,1193.7 L1685.7,1195.2 L1686.3,1193.8 L1686.9,1195.9 L1687.5,1193.7 L1688.1,1196.0 L1688.7,1196.5 L1689.3,1194.3 L1689.9,1197.4 L1690.5,1196.1 L1691.1,1197.2 L1691.7,1196.6 L1692.3,1199.1 L1692.9,1199.2 L1693.5,1198.2 L1694.1,1199.2 L1694.7,1196.6 L1695.3,1198.1 L1695.9,1197.2 L1696.5,1197.7 L1697.1,1195.5 L1697.7,1195.2 L1698.3,1197.6 L1698.9,1194.7 L1699.5,1196.3 L1700.1,1194.0 L1700.7,1197.3 L1701.3,1194.8 L1701.9,1198.5 L1702.5,1196.8 L1703.0,1117.5 L1703.5,1133.6 L1704.1,1152.2 L1704.6,1167.1 L1705.2,1167.0 L1705.9,1171.1 L1706.5,1170.4 L1707.1,1171.4 L1707.7,1176.3 L1708.3,1177.3 L1708.9,1180.8 L1709.6,1182.3 L1710.2,1181.6 L1710.8,1182.7 L1711.5,1181.2 L1712.1,1183.2 L1712.7,1183.9 L1713.3,1183.4 L1713.8,1186.0 L1714.4,1185.0 L1715.0,1188.1 L1715.5,1187.5 L1716.1,1188.0 L1716.7,1190.4 L1717.3,1188.3 L1717.8,1191.6 L1718.4,1189.7 L1719.0,1191.9 L1719.6,1189.9 L1720.1,1192.0 L1720.7,1192.9 L1721.3,1191.4 L1721.9,1194.2 L1722.5,1192.3 L1723.1,1194.7 L1723.7,1194.2 L1724.3,1195.6 L1724.9,1196.0 L1725.5,1195.0 L1726.1,1196.2 L1726.7,1194.1 L1727.3,1196.0 L1727.9,1194.4 L1728.5,1196.4 L1729.1,1195.4 L1729.7,1195.2 L1730.3,1197.6 L1730.9,1195.8 L1731.5,1197.7 L1732.1,1196.1 L1732.7,1198.6 L1733.3,1196.2 L1733.9,1197.7 L1734.5,1196.8 L1735.1,1196.4 L1735.7,1198.1 L1736.3,1194.7 L1736.9,1196.9 L1737.5,1194.2 L1738.1,1195.9 L1738.7,1194.2 L1739.3,1195.2 L1739.9,1196.7 L1740.5,1195.2 L1741.1,1197.8 L1741.7,1196.3 L1742.3,1198.2 L1742.9,1196.9 L1743.5,1198.9 L1744.1,1198.4 L1744.7,1197.1 L1745.3,1198.3 L1745.9,1197.2 L1746.5,1200.6 L1747.1,1198.3 L1747.7,1201.8 L1748.3,1199.1 L1748.9,1200.8 L1749.5,1201.5 L1750.1,1199.9 L1750.7,1201.2 L1751.3,1200.3 L1751.9,1201.9 L1752.5,1199.7 L1753.1,1201.5 L1753.8,1200.8 L1754.4,1200.4 L1755.0,1200.3 L1755.6,1198.8 L1756.2,1199.9 L1756.8,1197.7 L1757.4,1198.8 L1758.0,1197.6 L1758.6,1198.4 L1759.2,1198.9 L1759.8,1198.1 L1760.4,1200.2 L1761.0,1198.4 L1761.6,1201.4 L1762.2,1198.7 L1762.8,1200.2 L1763.4,1199.2 L1764.0,1198.5 L1764.6,1199.6 L1765.2,1197.3 L1765.8,1199.3 L1766.4,1198.5 L1767.0,1200.8 L1767.6,1199.8 L1768.2,1200.0 L1768.8,1200.6 L1769.4,1200.1 L1770.0,1201.2 L1770.6,1200.1 L1771.2,1202.4 L1771.8,1200.9 L1772.4,1202.6 L1773.0,1201.6 L1773.5,1199.7 L1774.1,1202.7 L1774.7,1199.9 L1775.3,1201.1 L1775.9,1199.3 L1776.5,1200.5 L1777.0,1198.9 L1777.6,1200.4 L1778.2,1199.0 L1778.8,1202.0 L1779.4,1200.8 L1780.0,1200.1 L1780.6,1201.8 L1781.2,1198.6 L1781.8,1199.9 L1782.4,1196.9 L1783.0,1199.2 L1783.6,1197.4 L1784.2,1197.6 L1784.8,1198.2 L1785.4,1196.5 L1786.0,1199.2 L1786.6,1197.8 L1787.2,1198.4 L1787.8,1197.9 L1788.4,1199.7 L1789.0,1198.4 L1789.6,1197.1 L1790.2,1198.9 L1790.8,1197.6 L1791.4,1198.3 L1792.0,1196.9 L1792.6,1198.1 L1793.2,1197.1 L1793.8,1198.4 L1794.4,1198.7 L1795.0,1197.7 L1795.6,1200.9 L1796.2,1198.5 L1796.8,1201.1 L1797.4,1200.2 L1798.0,1202.3 L1798.6,1201.6 L1799.2,1200.6 L1799.8,1202.3 L1800.4,1201.0 L1801.0,1201.4 L1801.6,1199.8 L1802.2,1201.5 L1802.8,1198.2 L1803.4,1200.0 L1804.0,1199.9 L1804.6,1198.3 L1805.2,1199.4 L1805.8,1198.2 L1806.4,1200.3 L1807.0,1196.9 L1807.6,1199.2 L1808.2,1197.6 L1808.8,1197.4 L1809.4,1198.8 L1810.0,1197.3 L1810.6,1198.4 L1811.2,1196.0 L1811.8,1196.9 L1812.4,1195.4 L1813.0,1196.8 L1813.6,1197.7 L1814.2,1195.8 L1814.8,1197.9 L1815.4,1196.1 L1816.0,1198.6 L1816.6,1196.8 L1817.2,1199.5 L1817.8,1198.4 L1818.4,1197.4 L1819.0,1199.3 L1819.6,1197.5 L1820.2,1199.5 L1820.8,1198.2 L1821.4,1199.8 L1822.0,1197.8 L1822.6,1197.6 L1823.2,1198.4 L1823.8,1196.9 L1824.4,1198.3 L1825.0,1197.0 L1825.6,1197.4 L1826.2,1196.1 L1826.8,1196.8 L1827.4,1196.8 L1828.0,1196.0 L1828.7,1198.0 L1829.3,1196.8 L1830.0,1200.2 L1830.6,1197.6 L1831.2,1198.4 L1831.9,1200.6 L1832.5,1199.5 L1833.2,1203.4 L1833.8,1201.6 L1834.3,1201.1 L1834.9,1203.5 L1835.4,1202.4 L1836.9,1201.9"/>
<path stroke="#D95319" d="M188.5,282.1 L190.0,284.2 L191.5,286.2 L193.0,288.1 L194.5,289.9 L196.0,291.8 L197.5,293.6 L199.0,295.5 L200.5,297.5 L202.0,299.7 L203.5,301.9 L205.0,304.4 L206.5,307.0 L208.0,309.8 L209.5,312.9 L211.0,316.1 L212.5,319.5 L214.0,323.1 L215.5,326.9 L217.0,330.8 L218.5,334.9 L220.0,339.2 L221.5,343.5 L223.0,347.9 L224.5,352.4 L226.0,356.7 L227.5,361.0 L229.0,365.1 L230.5,369.0 L232.0,372.6 L233.5,375.9 L235.0,379.0 L236.5,381.9 L238.0,384.5 L239.5,386.9 L241.0,389.2 L242.5,391.4 L244.0,393.4 L245.5,395.4 L247.0,397.2 L248.5,399.1 L250.0,400.9 L251.5,402.6 L253.0,404.3 L254.5,406.0 L256.0,407.6 L257.5,409.2 L259.0,410.7 L260.5,412.2 L262.0,413.7 L263.5,415.1 L265.0,416.5 L266.5,417.9 L268.0,419.3 L269.5,420.6 L271.0,421.9 L272.5,423.2 L274.0,424.5 L275.5,425.7 L277.0,426.9 L278.5,428.1 L280.0,429.3 L281.5,430.5 L283.0,431.7 L284.5,432.8 L286.0,434.0 L287.5,435.1 L289.0,436.2 L290.5,437.4 L292.0,438.5 L293.5,439.6 L295.0,440.7 L296.5,441.9 L298.0,443.0 L299.5,444.1 L301.0,445.3 L302.5,446.4 L304.0,447.6 L305.5,448.7 L307.0,449.9 L308.5,451.1 L310.0,452.3 L311.5,453.5 L313.0,454.7 L314.5,456.0 L316.0,457.2 L317.5,458.4 L319.0,459.7 L320.5,460.9 L322.0,462.2 L323.5,463.5 L325.0,464.7 L326.5,466.0 L328.0,467.3 L329.5,468.6 L331.0,469.8 L332.5,471.1 L334.0,472.4 L335.5,473.7 L337.0,475.0 L338.5,476.3 L340.0,477.6 L341.5,478.9 L343.0,480.2 L344.5,481.5 L346.0,482.8 L347.5,484.0 L349.0,485.3 L350.5,486.6 L352.0,487.9 L353.5,489.2 L355.0,490.4 L356.5,491.7 L358.0,493.0 L359.5,494.2 L361.0,495.5 L362.5,496.7 L364.0,498.0 L365.5,499.2 L367.0,500.5 L368.5,501.7 L370.0,503.0 L371.5,504.2 L373.0,505.4 L374.5,506.7 L376.0,507.9 L377.5,509.1 L379.0,510.4 L380.5,511.6 L382.0,512.8 L383.5,514.1 L385.0,515.3 L386.5,516.5 L388.0,517.7 L389.5,519.0 L391.0,520.2 L392.5,521.4 L394.0,522.7 L395.5,523.9 L397.0,525.1 L398.5,526.3 L400.0,527.6 L401.5,528.8 L403.0,530.0 L404.5,531.3 L406.0,532.5 L407.5,533.7 L409.0,535.0 L410.5,536.2 L412.0,537.4 L413.5,538.7 L415.0,539.9 L416.5,541.1 L418.0,542.4 L419.5,543.6 L421.0,544.9 L422.5,546.1 L424.0,547.4 L425.5,548.6 L427.0,549.9 L428.5,551.2 L430.0,552.4 L431.5,553.7 L433.0,555.0 L434.5,556.3 L436.0,557.5 L437.5,558.8 L439.0,560.1 L440.5,561.4 L442.0,562.7 L443.5,564.0 L445.0,565.3 L446.5,566.6 L448.0,567.9 L449.5,569.3 L451.0,570.6 L452.5,571.9 L454.0,573.2 L455.5,574.6 L457.0,575.9 L458.5,577.3 L460.0,578.6 L461.5,580.0 L463.0,581.4 L464.5,582.8 L466.0,584.1 L467.5,585.5 L469.0,586.9 L470.5,588.3 L472.0,589.7 L473.5,591.2 L475.0,592.6 L476.5,594.0 L478.0,595.4 L479.5,596.9 L481.0,598.3 L482.5,599.8 L484.0,601.3 L485.5,602.8 L487.0,604.2 L488.5,605.7 L490.0,607.2 L491.5,608.8 L493.0,610.3 L494.5,611.8 L496.0,613.3 L497.5,614.9 L499.0,616.4 L500.5,618.0 L502.0,619.6 L503.5,621.2 L505.0,622.8 L506.5,624.4 L508.0,626.0 L509.5,627.6 L511.0,629.2 L512.5,630.9 L514.0,632.5 L515.5,634.2 L517.0,635.9 L518.5,637.6 L520.0,639.3 L521.5,641.0 L523.0,642.7 L524.5,644.5 L526.0,646.2 L527.5,648.0 L529.0,649.7 L530.5,651.5 L532.0,653.3 L533.5,655.1 L535.0,656.9 L536.5,658.8 L538.0,660.6 L539.5,662.5 L541.0,664.3 L542.5,666.2 L544.0,668.1 L545.5,670.0 L547.0,671.9 L548.5,673.9 L550.0,675.8 L551.5,677.8 L553.0,679.7 L554.5,681.7 L556.0,683.7 L557.5,685.7 L559.0,687.7 L560.5,689.7 L562.0,691.7 L563.5,693.8 L565.0,695.8 L566.5,697.8 L568.0,699.9 L569.5,702.0 L571.0,704.0 L572.5,706.1 L574.0,708.2 L575.5,710.3 L577.0,712.4 L578.5,714.5 L580.0,716.6 L581.5,718.7 L583.0,720.8 L584.5,722.9 L586.0,725.1 L587.5,727.2 L589.0,729.3 L590.5,731.5 L592.0,733.6 L593.5,735.8 L595.0,737.9 L596.5,740.1 L598.0,742.2 L599.5,744.4 L601.0,746.5 L602.5,748.7 L604.0,750.8 L605.5,753.0 L607.0,755.1 L608.5,757.3 L610.0,759.4 L611.5,761.6 L613.0,763.7 L614.5,765.9 L616.0,768.0 L617.5,770.2 L619.0,772.3 L620.5,774.5 L622.0,776.6 L623.5,778.8 L625.0,780.9 L626.5,783.1 L628.0,785.2 L629.5,787.3 L631.0,789.5 L632.5,791.6 L634.0,793.8 L635.5,795.9 L637.0,798.1 L638.5,800.2 L640.0,802.4 L641.5,804.5 L643.0,806.7 L644.5,808.8 L646.0,811.0 L647.5,813.1 L649.0,815.3 L650.5,817.4 L652.0,819.6 L653.5,821.7 L655.0,823.9 L656.5,826.1 L658.0,828.2 L659.5,830.4 L661.0,832.6 L662.5,834.8 L664.0,836.9 L665.5,839.1 L667.0,841.3 L668.5,843.5 L670.0,845.7 L671.5,847.9 L673.0,850.1 L674.5,852.3 L676.0,854.5 L677.5,856.7 L679.0,858.9 L680.5,861.1 L682.0,863.3 L683.5,865.5 L685.0,867.7 L686.5,870.0 L688.0,872.2 L689.5,874.4 L691.0,876.6 L692.5,878.9 L694.0,881.1 L695.5,883.3 L697.0,885.6 L698.5,887.8 L700.0,890.1 L701.5,892.3 L703.0,894.5 L704.5,896.8 L706.0,899.0 L707.5,901.3 L709.0,903.5 L710.5,905.7 L712.0,908.0 L713.5,910.2 L715.0,912.5 L716.5,914.7 L718.0,916.9 L719.5,919.2 L721.0,921.4 L722.5,923.6 L724.0,925.9 L725.5,928.1 L727.0,930.3 L728.5,932.6 L730.0,934.8 L731.5,937.0 L733.0,939.2 L734.5,941.4 L736.0,943.7 L737.5,945.9 L739.0,948.1 L740.5,950.3 L742.0,952.5 L743.5,954.7 L745.0,956.9 L746.5,959.1 L748.0,961.3 L749.5,963.4 L751.0,965.6 L752.5,967.8 L754.0,970.0 L755.5,972.1 L757.0,974.3 L758.5,976.4 L760.0,978.6 L761.5,980.7 L763.0,982.9 L764.5,985.0 L766.0,987.1 L767.5,989.3 L769.0,991.4 L770.5,993.5 L772.0,995.6 L773.5,997.7 L775.0,999.8 L776.5,1001.8 L778.0,1003.9 L779.5,1006.0 L781.0,1008.0 L782.5,1010.1 L784.0,1012.1 L785.5,1014.2 L787.0,1016.2 L788.5,1018.2 L790.0,1020.2 L791.5,1022.2 L793.0,1024.2 L794.5,1026.2 L796.0,1028.2 L797.5,1030.2 L799.0,1032.1 L800.5,1034.1 L802.0,1036.0 L803.5,1037.9 L805.0,1039.8 L806.5,1041.8 L808.0,1043.7 L809.5,1045.5 L811.0,1047.4 L812.5,1049.3 L814.0,1051.1 L815.5,1053.0 L817.0,1054.8 L818.5,1056.6 L820.0,1058.5 L821.5,1060.3 L823.0,1062.0 L824.5,1063.8 L826.0,1065.6 L827.5,1067.3 L829.0,1069.1 L830.5,1070.8 L832.0,1072.5 L833.5,1074.2 L835.0,1075.9 L836.5,1077.6 L838.0,1079.2 L839.5,1080.9 L841.0,1082.5 L842.5,1084.1 L844.0,1085.7 L845.5,1087.3 L847.0,1088.9 L848.5,1090.4 L850.0,1092.0 L850.1,1092.1"/>
<path stroke="#D95319" stroke-width="2.5" stroke-linejoin="miter" stroke-miterlimit="3" d="M850.1,1092.1 L850.8,1089.8 L851.5,1090.4 L852.2,1087.3 L852.8,1087.0 L853.3,1090.1 L853.8,1089.8 L854.4,1091.8 L854.9,1092.1 L855.5,1090.8 L856.2,1093.3 L856.8,1093.2 L857.4,1094.8 L858.0,1094.7 L858.6,1096.4 L859.2,1095.1 L859.9,1096.8 L860.5,1096.4 L861.1,1098.1 L861.7,1096.6 L862.3,1098.9 L862.9,1098.5 L863.5,1097.7 L864.2,1100.4 L864.8,1099.7 L865.4,1102.5 L866.0,1100.5 L866.6,1102.4 L867.2,1100.7 L867.9,1103.2 L868.5,1101.5 L869.1,1104.3 L869.7,1102.6 L870.3,1104.9 L870.9,1104.9 L871.5,1104.7 L872.1,1108.2 L872.7,1106.6 L873.3,1108.5 L873.9,1108.0 L874.5,1109.2 L875.1,1108.1 L875.7,1110.5 L876.3,1109.3 L876.9,1112.8 L877.5,1111.3 L878.1,1113.5 L878.7,1111.1 L879.3,1112.9 L879.9,1112.4 L880.5,1114.5 L881.1,1114.7 L881.7,1112.7 L882.3,1115.1 L882.9,1113.6 L883.5,1115.8 L884.2,1114.1 L884.8,1114.6 L885.4,1115.3 L885.9,1115.0 L886.5,1117.2 L887.1,1115.1 L887.7,1118.5 L888.3,1116.9 L888.8,1120.4 L889.4,1119.1 L890.0,1121.3 L890.6,1119.7 L891.2,1121.6 L891.8,1120.9 L892.4,1120.8 L893.0,1122.0 L893.6,1120.1 L894.2,1122.9 L894.8,1121.0 L895.4,1124.0 L896.0,1122.5 L896.6,1124.1 L897.1,1125.6 L897.7,1123.5 L898.3,1125.9 L898.9,1124.4 L899.5,1126.4 L900.1,1125.2 L900.6,1126.2 L901.2,1124.7 L901.8,1126.2 L902.4,1124.2 L903.0,1124.9 L903.8,1111.3 L904.4,1114.5 L905.0,1115.7 L905.6,1119.7 L906.2,1120.9 L906.8,1121.7 L907.4,1123.5 L908.0,1122.9 L908.6,1125.4 L909.2,1124.7 L909.8,1126.4 L910.4,1126.0 L911.0,1127.3 L911.6,1127.7 L912.1,1126.4 L912.7,1128.7 L913.3,1127.7 L913.9,1129.8 L914.5,1129.1 L915.0,1131.0 L915.6,1129.9 L916.2,1130.4 L916.8,1129.1 L917.4,1130.5 L918.0,1131.4 L918.5,1129.4 L919.1,1132.1 L919.7,1130.7 L920.3,1133.3 L920.9,1131.0 L921.5,1132.8 L922.0,1130.7 L922.6,1131.4 L923.2,1129.7 L923.8,1132.1 L924.4,1133.6 L925.0,1132.7 L925.6,1134.2 L926.2,1132.8 L926.8,1135.1 L927.4,1132.8 L928.0,1134.6 L928.6,1134.6 L929.1,1128.9 L929.7,1126.2 L930.2,1121.7 L930.7,1124.2 L931.3,1127.9 L931.8,1130.5 L932.4,1130.0 L933.0,1132.5 L933.5,1130.7 L934.1,1131.9 L934.7,1131.3 L935.3,1133.8 L935.9,1132.1 L936.4,1134.2 L937.0,1133.4 L937.6,1134.4 L938.2,1135.4 L938.8,1133.5 L939.4,1136.4 L940.0,1134.8 L940.7,1136.9 L941.3,1135.6 L941.9,1138.1 L942.5,1136.9 L943.1,1139.2 L943.7,1138.9 L944.4,1141.0 L945.0,1139.3 L945.6,1142.1 L946.2,1140.2 L946.8,1140.3 L947.4,1142.3 L948.0,1141.8 L948.6,1144.3 L949.2,1144.0 L949.8,1146.1 L950.4,1145.4 L951.0,1145.8 L951.6,1146.9 L952.2,1144.7 L952.8,1146.5 L953.5,1144.2 L954.1,1146.0 L954.7,1143.1 L955.3,1145.0 L955.9,1143.2 L956.5,1143.8 L957.2,1141.9 L957.8,1144.6 L958.4,1141.5 L959.0,1143.4 L959.6,1144.3 L960.2,1143.4 L960.8,1145.2 L961.3,1145.0 L961.9,1146.1 L962.5,1144.5 L963.1,1146.7 L963.7,1145.7 L964.2,1147.0 L964.8,1145.1 L965.4,1145.8 L966.0,1147.2 L966.6,1144.6 L967.3,1146.6 L967.9,1144.5 L968.5,1146.5 L969.1,1145.0 L969.7,1146.3 L970.3,1144.8 L971.0,1146.8 L971.6,1145.4 L972.2,1148.0 L972.8,1147.2 L973.4,1147.4 L974.0,1148.6 L974.6,1147.1 L975.2,1148.8 L975.7,1146.4 L976.3,1150.2 L976.9,1148.1 L977.5,1150.6 L978.1,1149.3 L978.7,1151.8 L979.2,1149.6 L979.8,1151.4 L980.4,1151.6 L981.0,1149.4 L981.6,1150.8 L982.2,1148.2 L982.8,1150.5 L983.4,1148.6 L984.0,1149.9 L984.6,1149.0 L985.2,1149.9 L985.8,1151.5 L986.4,1150.1 L987.0,1153.1 L987.5,1150.6 L988.1,1152.3 L988.7,1152.0 L989.3,1153.3 L989.9,1152.2 L990.5,1154.2 L991.0,1154.6 L991.6,1152.8 L992.2,1154.9 L992.8,1153.6 L993.4,1153.1 L993.9,1151.6 L994.5,1153.4 L995.1,1149.0 L995.7,1150.9 L996.3,1149.3 L996.9,1150.5 L997.4,1149.8 L998.1,1149.2 L998.7,1151.0 L999.4,1150.3 L1000.0,1150.6 L1000.6,1151.8 L1001.2,1150.0 L1001.7,1151.3 L1002.3,1148.3 L1002.9,1150.8 L1003.5,1147.8 L1004.1,1149.9 L1004.7,1148.9 L1005.2,1151.2 L1005.8,1149.0 L1006.4,1149.8 L1007.0,1150.0 L1007.6,1147.6 L1008.2,1150.2 L1008.7,1148.0 L1009.3,1149.7 L1009.9,1148.1 L1010.5,1149.2 L1011.1,1147.4 L1011.6,1148.8 L1012.2,1146.8 L1012.8,1148.2 L1013.4,1149.2 L1014.0,1147.3 L1014.6,1150.4 L1015.1,1148.5 L1015.7,1150.4 L1016.3,1148.2 L1016.9,1150.6 L1017.5,1149.7 L1018.1,1151.5 L1018.6,1148.8 L1019.2,1149.8 L1019.8,1149.8 L1020.4,1147.8 L1021.0,1150.2 L1021.6,1148.0 L1022.2,1150.3 L1022.8,1147.1 L1023.4,1148.3 L1024.0,1148.2 L1024.6,1147.9 L1025.2,1149.0 L1025.8,1148.8 L1026.3,1150.5 L1026.9,1148.8 L1027.5,1152.0 L1028.1,1151.1 L1028.7,1152.7 L1029.3,1151.6 L1029.8,1151.7 L1030.4,1153.0 L1031.0,1151.5 L1031.6,1153.4 L1032.2,1151.6 L1032.8,1152.9 L1033.3,1152.4 L1033.9,1154.2 L1034.5,1152.4 L1035.1,1154.5 L1035.7,1153.7 L1036.2,1156.2 L1036.8,1155.4 L1037.4,1155.8 L1038.0,1156.8 L1038.6,1155.0 L1039.2,1156.0 L1039.7,1154.1 L1040.3,1155.4 L1040.9,1152.7 L1041.5,1154.6 L1042.1,1151.6 L1042.7,1154.2 L1043.2,1153.0 L1043.8,1152.9 L1044.4,1154.4 L1045.0,1152.1 L1045.6,1154.1 L1046.1,1152.8 L1046.7,1155.5 L1047.3,1152.7 L1047.9,1155.3 L1048.5,1154.0 L1049.1,1154.1 L1049.6,1154.6 L1050.2,1153.1 L1050.8,1155.2 L1051.4,1154.1 L1052.0,1156.1 L1052.5,1156.2 L1053.1,1157.1 L1053.7,1155.9 L1054.3,1158.5 L1054.9,1156.4 L1055.5,1157.1 L1056.0,1157.0 L1056.6,1155.4 L1057.2,1156.3 L1057.8,1154.4 L1058.3,1155.4 L1058.9,1152.2 L1059.5,1154.0 L1060.0,1152.2 L1060.7,1151.9 L1061.3,1153.6 L1061.9,1152.6 L1062.5,1154.2 L1063.2,1152.4 L1063.8,1154.8 L1064.4,1153.5 L1065.0,1155.0 L1065.7,1154.6 L1066.2,1154.3 L1066.8,1155.6 L1067.4,1154.3 L1068.0,1156.1 L1068.6,1155.8 L1069.1,1156.7 L1069.7,1155.0 L1070.3,1157.4 L1070.9,1156.0 L1071.5,1158.8 L1072.1,1157.8 L1072.7,1158.0 L1073.3,1157.9 L1073.9,1156.3 L1074.5,1156.3 L1075.1,1153.9 L1075.7,1154.6 L1076.3,1152.0 L1076.9,1153.8 L1077.5,1153.6 L1078.1,1151.9 L1078.7,1153.1 L1079.3,1151.3 L1079.9,1153.3 L1080.5,1150.3 L1081.1,1150.3 L1081.7,1149.0 L1082.3,1147.8 L1082.9,1149.7 L1083.5,1149.0 L1084.1,1151.3 L1084.7,1149.9 L1085.3,1153.6 L1085.9,1151.6 L1086.5,1154.6 L1087.1,1156.4 L1087.7,1154.2 L1088.3,1156.6 L1088.9,1153.6 L1089.5,1155.1 L1090.1,1153.7 L1090.7,1154.2 L1091.3,1153.0 L1091.9,1153.0 L1092.5,1153.8 L1093.1,1153.4 L1093.7,1155.8 L1094.3,1154.6 L1094.9,1158.2 L1095.5,1155.5 L1096.1,1156.2 L1096.7,1156.8 L1097.3,1155.3 L1097.9,1157.1 L1098.5,1154.3 L1099.1,1155.3 L1099.7,1154.1 L1100.3,1154.9 L1100.9,1155.4 L1101.5,1154.5 L1102.1,1156.8 L1102.7,1156.5 L1103.3,1159.0 L1103.9,1158.2 L1104.5,1160.6 L1105.1,1159.3 L1105.7,1161.8 L1106.3,1162.3 L1106.9,1159.8 L1107.5,1162.0 L1108.1,1159.3 L1108.7,1159.3 L1109.3,1157.2 L1109.9,1157.9 L1110.5,1157.8 L1111.1,1156.2 L1111.7,1157.6 L1112.3,1155.9 L1112.9,1157.1 L1113.5,1156.0 L1114.1,1158.2 L1114.7,1154.5 L1115.3,1155.4 L1115.9,1156.0 L1116.6,1153.8 L1117.2,1155.3 L1117.9,1153.8 L1118.5,1153.8 L1119.1,1153.9 L1119.7,1152.8 L1120.3,1154.5 L1120.9,1153.2 L1121.5,1154.9 L1122.1,1153.4 L1122.7,1154.7 L1123.3,1154.6 L1123.9,1153.5 L1124.6,1153.6 L1125.2,1151.3 L1125.9,1152.8 L1126.5,1152.2 L1127.1,1151.6 L1127.7,1154.4 L1128.3,1152.6 L1128.9,1154.5 L1129.5,1153.3 L1130.1,1154.7 L1130.7,1153.3 L1131.3,1156.2 L1131.9,1158.2 L1132.4,1156.6 L1133.0,1159.9 L1133.6,1158.1 L1134.2,1161.8 L1134.7,1159.8 L1135.3,1161.0 L1135.9,1162.1 L1136.4,1159.6 L1137.0,1160.5 L1137.6,1158.4 L1138.2,1160.8 L1138.7,1158.6 L1139.3,1159.4 L1139.8,1159.8 L1140.4,1156.6 L1140.9,1156.2 L1141.7,1092.1 L1142.3,1104.5 L1142.8,1116.1 L1143.5,1119.1 L1144.1,1122.5 L1144.6,1127.3 L1145.2,1127.5 L1145.7,1132.1 L1146.4,1134.4 L1147.0,1133.8 L1147.6,1138.3 L1148.3,1136.8 L1148.9,1140.2 L1149.5,1141.8 L1150.1,1141.8 L1150.7,1144.8 L1151.3,1143.3 L1151.9,1145.7 L1152.5,1144.8 L1153.1,1147.5 L1153.7,1146.6 L1154.3,1146.9 L1154.9,1148.8 L1155.5,1148.3 L1156.1,1150.5 L1156.7,1148.1 L1157.3,1150.6 L1157.9,1149.6 L1158.5,1151.4 L1159.1,1152.5 L1159.7,1151.1 L1160.3,1154.3 L1160.9,1152.6 L1161.4,1154.5 L1162.0,1153.3 L1162.6,1155.0 L1163.2,1154.1 L1163.8,1155.8 L1164.3,1154.7 L1164.9,1155.4 L1165.5,1156.1 L1166.1,1154.4 L1166.7,1154.8 L1167.3,1153.3 L1167.9,1154.0 L1168.5,1152.4 L1169.1,1153.6 L1169.7,1153.0 L1170.3,1152.8 L1170.9,1154.7 L1171.5,1153.0 L1172.1,1154.7 L1172.7,1153.6 L1173.3,1154.9 L1173.9,1153.2 L1174.5,1153.8 L1175.1,1154.9 L1175.7,1153.3 L1176.3,1154.0 L1176.9,1152.2 L1177.5,1151.9 L1178.1,1151.0 L1178.7,1152.6 L1179.3,1152.2 L1179.9,1150.2 L1180.5,1152.6 L1181.1,1152.1 L1181.7,1154.6 L1182.3,1153.2 L1182.9,1155.3 L1183.5,1154.0 L1184.1,1153.8 L1184.7,1156.2 L1185.3,1154.6 L1185.9,1155.2 L1186.5,1152.7 L1187.1,1154.7 L1187.6,1152.0 L1188.2,1154.5 L1188.8,1152.2 L1189.4,1153.6 L1190.0,1151.7 L1190.5,1153.0 L1191.1,1153.6 L1191.7,1151.8 L1192.3,1153.9 L1192.8,1153.4 L1193.4,1154.9 L1194.0,1152.7 L1194.6,1154.6 L1195.1,1152.0 L1195.6,1145.5 L1196.2,1143.4 L1196.7,1149.4 L1197.3,1153.0 L1197.9,1152.4 L1198.6,1154.5 L1199.2,1152.8 L1199.8,1154.6 L1200.5,1153.6 L1201.1,1154.8 L1201.8,1154.6 L1202.4,1152.6 L1203.0,1154.8 L1203.6,1151.8 L1204.2,1155.0 L1204.8,1152.4 L1205.4,1155.0 L1206.0,1152.9 L1206.6,1153.8 L1207.2,1154.7 L1207.8,1152.6 L1208.4,1153.4 L1209.0,1151.7 L1209.6,1151.3 L1210.2,1150.2 L1210.8,1150.4 L1211.4,1149.8 L1212.0,1149.5 L1212.6,1151.6 L1213.2,1151.7 L1213.8,1152.3 L1214.4,1152.0 L1215.0,1153.9 L1215.6,1152.9 L1216.2,1155.4 L1216.8,1155.9 L1217.4,1155.3 L1218.0,1157.7 L1218.6,1154.5 L1219.2,1158.8 L1219.8,1156.1 L1220.4,1158.4 L1221.0,1157.0 L1221.6,1157.0 L1222.2,1157.5 L1222.8,1155.5 L1223.4,1156.0 L1224.0,1154.2 L1224.6,1156.0 L1225.2,1154.2 L1225.8,1153.0 L1226.4,1155.4 L1226.9,1152.9 L1227.5,1154.9 L1228.1,1152.8 L1228.7,1154.8 L1229.3,1153.6 L1229.9,1155.1 L1230.4,1153.4 L1231.0,1155.1 L1231.6,1153.1 L1232.2,1154.6 L1232.8,1155.8 L1233.4,1152.0 L1234.0,1154.6 L1234.6,1152.7 L1235.2,1153.9 L1235.8,1152.5 L1236.4,1153.2 L1237.0,1153.0 L1237.6,1152.0 L1238.1,1154.3 L1238.7,1151.9 L1239.3,1154.4 L1239.9,1153.0 L1240.5,1155.3 L1241.1,1153.7 L1241.6,1155.6 L1242.2,1153.7 L1242.8,1156.4 L1243.4,1156.2 L1244.0,1154.9 L1244.6,1156.1 L1245.1,1155.2 L1245.7,1156.4 L1246.3,1155.2 L1246.9,1157.0 L1247.5,1156.1 L1248.0,1157.2 L1248.6,1154.6 L1249.2,1155.8 L1249.8,1154.6 L1250.4,1153.7 L1251.0,1155.1 L1251.5,1154.3 L1252.1,1156.0 L1252.7,1154.1 L1253.3,1157.1 L1253.9,1155.2 L1254.5,1158.0 L1255.0,1156.1 L1255.6,1158.1 L1256.2,1157.0 L1256.8,1156.1 L1257.4,1155.9 L1258.0,1153.8 L1258.6,1155.7 L1259.2,1154.6 L1259.8,1155.3 L1260.4,1154.2 L1261.0,1153.8 L1261.6,1155.2 L1262.2,1153.5 L1262.7,1155.5 L1263.3,1154.0 L1263.9,1155.7 L1264.5,1152.9 L1265.1,1155.0 L1265.7,1153.9 L1266.2,1155.5 L1266.8,1152.7 L1267.4,1154.6 L1268.0,1154.9 L1268.6,1154.1 L1269.2,1156.7 L1269.8,1155.9 L1270.4,1156.6 L1271.0,1155.9 L1271.6,1156.9 L1272.2,1157.0 L1272.8,1155.6 L1273.4,1156.7 L1274.0,1155.0 L1274.5,1156.6 L1275.1,1154.7 L1275.7,1157.2 L1276.3,1156.2 L1276.9,1156.5 L1277.5,1155.5 L1278.0,1156.5 L1278.6,1155.4 L1279.2,1154.4 L1279.8,1156.2 L1280.4,1154.6 L1280.9,1156.8 L1281.5,1156.1 L1282.1,1159.4 L1282.7,1158.4 L1283.3,1160.3 L1283.9,1158.9 L1284.4,1161.3 L1285.0,1159.4 L1285.6,1159.6 L1286.2,1159.5 L1286.8,1158.8 L1287.4,1158.8 L1288.0,1158.1 L1288.6,1159.6 L1289.2,1156.2 L1289.8,1156.2 L1290.4,1157.2 L1291.0,1156.2 L1291.6,1159.0 L1292.2,1156.4 L1292.8,1159.1 L1293.4,1156.3 L1294.0,1158.5 L1294.6,1157.8 L1295.2,1156.7 L1295.8,1158.5 L1296.4,1158.5 L1297.0,1160.7 L1297.6,1159.3 L1298.2,1160.5 L1298.8,1160.3 L1299.4,1161.0 L1300.0,1162.0 L1300.6,1160.0 L1301.1,1160.8 L1301.7,1160.1 L1302.3,1160.9 L1302.9,1159.1 L1303.4,1159.4 L1304.0,1160.7 L1304.5,1161.0 L1305.1,1162.5 L1305.6,1161.5 L1306.4,1137.5 L1307.0,1139.2 L1307.6,1141.8 L1308.2,1142.9 L1308.8,1144.7 L1309.4,1146.7 L1310.0,1146.1 L1310.5,1148.4 L1311.1,1148.9 L1311.7,1151.1 L1312.2,1150.5 L1312.8,1152.7 L1313.4,1154.0 L1314.0,1153.4 L1314.6,1154.8 L1315.2,1153.1 L1315.8,1155.3 L1316.4,1153.9 L1317.0,1156.3 L1317.6,1156.7 L1318.2,1155.3 L1318.8,1157.6 L1319.4,1156.3 L1319.9,1157.9 L1320.5,1155.7 L1321.1,1157.3 L1321.7,1156.5 L1322.3,1157.1 L1322.9,1154.8 L1323.4,1157.5 L1324.0,1155.1 L1324.6,1154.2 L1325.2,1155.4 L1325.8,1153.7 L1326.3,1157.1 L1326.9,1156.1 L1327.5,1157.4 L1328.1,1156.5 L1328.7,1156.4 L1329.3,1155.4 L1329.8,1156.7 L1330.4,1155.9 L1331.0,1154.3 L1331.6,1156.4 L1332.2,1155.0 L1332.8,1156.8 L1333.4,1154.0 L1334.0,1156.1 L1334.6,1154.4 L1335.2,1155.1 L1335.8,1156.9 L1336.4,1154.8 L1336.9,1157.0 L1337.5,1155.9 L1338.1,1158.2 L1338.7,1156.8 L1339.2,1157.5 L1339.9,1156.3 L1340.6,1152.5 L1341.3,1151.1 L1341.9,1152.4 L1342.4,1152.7 L1342.9,1155.0 L1343.5,1154.1 L1344.0,1155.9 L1344.7,1157.2 L1345.3,1155.2 L1345.9,1156.4 L1346.5,1154.5 L1347.1,1156.7 L1347.8,1155.0 L1348.4,1156.2 L1349.0,1154.4 L1349.6,1155.1 L1350.2,1155.6 L1350.8,1153.9 L1351.4,1156.7 L1352.0,1154.4 L1352.6,1155.2 L1353.2,1153.6 L1353.8,1155.4 L1354.4,1154.3 L1355.1,1154.3 L1355.7,1155.3 L1356.3,1155.3 L1356.9,1156.7 L1357.6,1155.5 L1358.2,1156.4 L1358.8,1155.5 L1359.4,1158.0 L1360.0,1155.9 L1360.7,1154.4 L1361.3,1156.4 L1361.9,1154.0 L1362.5,1157.0 L1363.2,1153.7 L1363.8,1154.8 L1364.4,1151.6 L1365.0,1153.1 L1365.7,1152.7 L1366.2,1152.1 L1366.8,1155.2 L1367.4,1154.1 L1368.0,1156.0 L1368.6,1153.5 L1369.1,1154.9 L1369.7,1153.4 L1370.3,1154.8 L1370.9,1154.7 L1371.5,1155.9 L1372.1,1155.9 L1372.7,1154.1 L1373.3,1155.2 L1373.9,1153.3 L1374.5,1155.3 L1375.1,1152.6 L1375.7,1153.7 L1376.3,1150.9 L1376.9,1151.9 L1377.5,1151.8 L1378.1,1150.5 L1378.7,1152.0 L1379.3,1150.6 L1379.9,1153.2 L1380.5,1151.2 L1381.1,1152.6 L1381.7,1151.6 L1382.3,1152.9 L1382.9,1151.4 L1383.5,1153.2 L1384.1,1151.9 L1384.6,1133.7 L1385.2,1116.7 L1385.9,1126.0 L1386.6,1132.9 L1387.3,1141.5 L1387.8,1143.5 L1388.4,1142.0 L1389.0,1144.7 L1389.6,1144.7 L1390.1,1146.3 L1390.7,1144.6 L1391.3,1146.3 L1391.9,1147.7 L1392.5,1146.9 L1393.1,1148.7 L1393.7,1147.0 L1394.3,1148.3 L1394.9,1147.1 L1395.5,1148.8 L1396.1,1148.7 L1396.7,1148.7 L1397.3,1150.8 L1397.9,1150.0 L1398.5,1152.1 L1399.1,1150.0 L1399.7,1151.9 L1400.3,1151.5 L1400.9,1151.1 L1401.5,1154.0 L1402.1,1152.2 L1402.7,1154.0 L1403.3,1153.7 L1403.9,1155.7 L1404.5,1153.7 L1405.1,1156.9 L1405.7,1155.9 L1406.3,1155.4 L1406.9,1157.4 L1407.5,1155.7 L1408.1,1157.1 L1408.7,1154.6 L1409.3,1155.9 L1409.9,1154.2 L1410.5,1153.5 L1411.1,1154.5 L1411.7,1154.0 L1412.3,1155.9 L1412.9,1153.2 L1413.5,1155.0 L1414.1,1153.5 L1414.7,1155.7 L1415.3,1155.1 L1415.9,1153.5 L1416.5,1154.4 L1417.1,1152.7 L1417.7,1153.8 L1418.3,1152.3 L1418.9,1153.8 L1419.5,1151.9 L1420.1,1151.9 L1420.7,1153.4 L1421.3,1151.8 L1421.8,1153.4 L1422.4,1150.1 L1423.0,1153.6 L1423.6,1150.7 L1424.2,1152.8 L1424.8,1150.8 L1425.3,1152.1 L1425.9,1151.4 L1426.5,1150.3 L1427.1,1152.7 L1427.7,1150.8 L1428.3,1152.7 L1428.9,1151.4 L1429.5,1153.3 L1430.1,1151.4 L1430.7,1153.4 L1431.3,1151.9 L1431.9,1150.9 L1432.5,1152.8 L1433.0,1149.6 L1433.6,1151.5 L1434.2,1149.7 L1434.8,1151.8 L1435.4,1149.2 L1436.0,1152.2 L1436.5,1149.2 L1437.1,1151.6 L1437.7,1151.9 L1438.3,1152.1 L1438.9,1154.4 L1439.5,1153.1 L1440.0,1155.8 L1440.6,1155.6 L1441.2,1156.4 L1441.8,1155.6 L1442.4,1157.5 L1442.9,1156.5 L1443.5,1159.0 L1444.1,1159.1 L1444.7,1156.9 L1445.3,1158.2 L1445.9,1157.0 L1446.5,1158.9 L1447.1,1157.4 L1447.7,1157.9 L1448.3,1156.4 L1448.9,1156.7 L1449.5,1157.3 L1450.1,1155.0 L1450.7,1156.7 L1451.3,1156.0 L1451.9,1157.0 L1452.5,1155.3 L1453.1,1156.1 L1453.7,1155.9 L1454.3,1155.6 L1454.9,1157.3 L1455.5,1156.4 L1456.1,1158.5 L1456.7,1157.5 L1457.3,1159.9 L1457.9,1158.4 L1458.5,1160.7 L1459.1,1160.3 L1459.7,1157.6 L1460.3,1159.2 L1460.9,1156.3 L1461.5,1158.8 L1462.1,1156.4 L1462.7,1157.6 L1463.3,1157.5 L1463.9,1155.6 L1464.5,1157.0 L1465.1,1155.0 L1465.7,1157.5 L1466.3,1156.2 L1466.9,1157.7 L1467.5,1156.9 L1468.1,1156.7 L1468.7,1157.6 L1469.3,1155.6 L1469.9,1158.2 L1470.5,1155.1 L1471.1,1156.5 L1471.7,1154.9 L1472.3,1156.6 L1472.9,1154.3 L1473.5,1153.9 L1474.1,1155.9 L1474.7,1153.4 L1475.3,1155.8 L1475.8,1154.6 L1476.4,1155.1 L1477.0,1154.9 L1477.6,1155.8 L1478.2,1154.4 L1478.8,1156.6 L1479.3,1156.7 L1479.9,1156.1 L1480.5,1157.0 L1481.1,1155.7 L1481.7,1159.3 L1482.3,1158.1 L1482.8,1160.6 L1483.4,1158.7 L1484.0,1160.2 L1484.6,1159.5 L1485.2,1162.1 L1485.7,1159.9 L1486.3,1159.7 L1486.9,1160.4 L1487.5,1157.8 L1488.1,1159.0 L1488.7,1157.8 L1489.3,1159.3 L1489.9,1158.3 L1490.5,1158.3 L1491.1,1159.3 L1491.7,1157.5 L1492.3,1158.2 L1492.9,1156.5 L1493.5,1157.5 L1494.2,1154.6 L1494.8,1154.7 L1495.4,1153.5 L1495.9,1152.8 L1496.5,1154.4 L1497.1,1152.6 L1497.7,1154.2 L1498.3,1152.3 L1498.8,1152.9 L1499.4,1152.2 L1500.0,1153.4 L1500.6,1151.7 L1501.2,1152.7 L1501.8,1151.1 L1502.4,1150.2 L1503.0,1151.8 L1503.6,1150.3 L1504.2,1153.0 L1504.8,1151.0 L1505.4,1153.9 L1506.0,1151.5 L1506.6,1152.7 L1507.1,1153.0 L1507.7,1151.4 L1508.3,1152.5 L1508.9,1150.5 L1509.5,1152.5 L1510.1,1149.5 L1510.6,1150.5 L1511.2,1149.1 L1511.8,1151.0 L1512.4,1148.7 L1513.0,1149.5 L1513.5,1150.4 L1514.1,1148.2 L1514.7,1150.2 L1515.3,1148.8 L1515.9,1151.3 L1516.5,1149.9 L1517.0,1151.7 L1517.6,1151.3 L1518.2,1152.8 L1518.8,1151.6 L1519.4,1151.9 L1520.0,1154.9 L1520.6,1152.3 L1521.2,1154.8 L1521.8,1153.1 L1522.4,1154.7 L1523.0,1153.9 L1523.6,1155.9 L1524.2,1154.3 L1524.8,1154.6 L1525.3,1155.5 L1525.9,1154.1 L1526.5,1155.7 L1527.1,1154.7 L1527.7,1156.0 L1528.2,1154.4 L1528.8,1157.3 L1529.4,1156.4 L1530.0,1158.9 L1530.6,1156.7 L1531.2,1155.4 L1531.8,1157.0 L1532.4,1155.5 L1533.0,1155.4 L1533.6,1153.5 L1534.2,1155.6 L1534.8,1153.7 L1535.4,1154.3 L1536.0,1156.2 L1536.6,1154.4 L1537.2,1155.8 L1537.8,1155.4 L1538.4,1156.7 L1539.0,1155.7 L1539.6,1157.4 L1540.2,1156.7 L1540.8,1156.0 L1541.4,1156.4 L1542.0,1154.8 L1542.6,1154.9 L1543.2,1152.8 L1543.8,1153.7 L1544.4,1152.8 L1545.0,1153.5 L1545.6,1152.9 L1546.2,1152.1 L1546.7,1154.8 L1547.3,1152.8 L1547.9,1154.5 L1548.5,1153.0 L1549.1,1154.1 L1549.6,1152.1 L1550.2,1154.9 L1550.8,1153.9 L1551.4,1154.3 L1552.0,1156.7 L1552.6,1155.4 L1553.1,1156.4 L1553.7,1153.7 L1554.3,1157.1 L1554.9,1155.2 L1555.5,1157.0 L1556.1,1155.1 L1556.6,1156.2 L1557.2,1154.4 L1557.8,1155.9 L1558.3,1157.1 L1558.9,1155.1 L1559.4,1157.4 L1560.0,1156.7 L1560.6,1155.4 L1561.2,1158.6 L1561.8,1156.3 L1562.4,1156.9 L1563.0,1155.4 L1563.6,1157.6 L1564.2,1155.3 L1564.8,1155.9 L1565.4,1156.9 L1566.0,1155.0 L1566.6,1157.6 L1567.2,1154.9 L1567.8,1156.8 L1568.4,1155.8 L1569.0,1157.5 L1569.6,1156.7 L1570.2,1152.4 L1570.9,1149.9 L1571.5,1145.5 L1572.1,1145.1 L1572.7,1147.7 L1573.3,1148.1 L1573.8,1150.4 L1574.4,1150.3 L1575.0,1149.9 L1575.7,1153.1 L1576.3,1151.2 L1576.9,1152.5 L1577.5,1152.1 L1578.1,1153.9 L1578.8,1153.0 L1579.4,1154.9 L1580.0,1154.3 L1580.6,1136.1 L1581.1,1119.9 L1581.8,1127.4 L1582.5,1133.4 L1583.2,1141.5 L1583.9,1142.9 L1584.5,1142.2 L1585.1,1146.4 L1585.8,1144.1 L1586.4,1147.1 L1587.0,1147.5 L1587.6,1146.3 L1588.1,1149.4 L1588.7,1148.7 L1589.3,1151.4 L1589.9,1151.2 L1590.4,1151.9 L1591.0,1153.4 L1591.6,1152.3 L1592.2,1154.7 L1592.8,1153.5 L1593.4,1155.0 L1594.0,1153.8 L1594.6,1156.3 L1595.2,1155.1 L1595.8,1154.3 L1596.4,1157.4 L1597.0,1155.0 L1597.6,1156.4 L1598.2,1156.2 L1598.8,1158.2 L1599.4,1156.4 L1600.0,1158.3 L1600.6,1158.8 L1601.2,1158.6 L1601.7,1160.6 L1602.3,1159.3 L1602.9,1161.5 L1603.5,1159.1 L1604.0,1159.9 L1604.7,1159.7 L1605.3,1156.5 L1606.0,1157.7 L1606.6,1155.1 L1607.2,1154.3 L1607.8,1155.5 L1608.4,1154.4 L1609.0,1155.8 L1609.6,1155.9 L1610.2,1147.4 L1610.8,1140.7 L1611.3,1143.1 L1611.9,1143.3 L1612.5,1145.6 L1613.1,1145.0 L1613.6,1147.1 L1614.2,1148.7 L1614.8,1148.3 L1615.4,1150.5 L1615.9,1148.9 L1616.5,1152.6 L1617.1,1149.0 L1617.6,1151.1 L1618.2,1151.9 L1618.8,1151.1 L1619.4,1153.5 L1619.9,1152.3 L1620.5,1154.3 L1621.1,1152.0 L1621.6,1153.5 L1622.3,1152.8 L1622.9,1151.1 L1623.5,1151.8 L1624.1,1149.9 L1624.8,1151.9 L1625.4,1149.2 L1626.0,1151.8 L1626.6,1149.4 L1627.3,1150.3 L1627.9,1152.5 L1628.5,1150.5 L1629.1,1152.4 L1629.7,1151.7 L1630.3,1152.7 L1630.9,1151.1 L1631.5,1153.5 L1632.1,1151.9 L1632.7,1152.1 L1633.3,1153.8 L1633.9,1153.2 L1634.5,1156.5 L1635.1,1154.8 L1635.7,1156.6 L1636.3,1155.6 L1636.9,1157.5 L1637.5,1158.8 L1638.1,1156.1 L1638.7,1157.1 L1639.3,1156.8 L1639.9,1156.9 L1640.5,1154.9 L1641.1,1156.9 L1641.7,1155.9 L1642.3,1153.9 L1642.9,1154.7 L1643.5,1153.8 L1644.1,1155.1 L1644.7,1152.8 L1645.3,1155.3 L1645.9,1153.2 L1646.5,1153.5 L1647.1,1152.8 L1647.7,1151.1 L1648.3,1152.1 L1649.0,1150.9 L1649.6,1151.8 L1650.2,1150.0 L1650.8,1151.4 L1651.4,1149.5 L1652.1,1150.3 L1652.6,1151.4 L1653.2,1150.4 L1653.8,1152.0 L1654.4,1152.4 L1654.9,1153.8 L1655.5,1152.2 L1656.1,1153.5 L1656.7,1154.4 L1657.3,1151.9 L1657.9,1154.1 L1658.5,1153.0 L1659.1,1154.3 L1659.7,1153.6 L1660.3,1155.0 L1660.9,1155.1 L1661.4,1154.4 L1662.0,1157.3 L1662.6,1155.9 L1663.2,1157.7 L1663.7,1156.6 L1664.3,1158.2 L1664.9,1158.3 L1665.5,1155.5 L1666.1,1157.0 L1666.7,1154.4 L1667.4,1155.2 L1668.0,1153.3 L1668.6,1154.1 L1669.2,1152.4 L1669.9,1153.4 L1670.5,1152.7 L1671.1,1152.5 L1671.7,1154.2 L1672.3,1152.7 L1672.9,1154.7 L1673.5,1153.7 L1674.1,1155.7 L1674.7,1152.9 L1675.3,1154.3 L1675.9,1155.1 L1676.5,1152.9 L1677.0,1153.4 L1677.6,1151.7 L1678.2,1153.8 L1678.8,1150.4 L1679.4,1152.1 L1679.9,1150.4 L1680.5,1151.6 L1681.1,1150.3 L1681.7,1150.3 L1682.3,1150.2 L1682.9,1149.2 L1683.5,1151.6 L1684.1,1150.2 L1684.7,1151.7 L1685.3,1150.0 L1685.9,1153.1 L1686.5,1151.9 L1687.1,1152.1 L1687.7,1153.9 L1688.3,1152.6 L1688.9,1155.0 L1689.5,1153.3 L1690.1,1154.7 L1690.7,1153.7 L1691.3,1154.3 L1691.9,1155.8 L1692.5,1155.0 L1693.1,1156.3 L1693.7,1155.4 L1694.3,1156.7 L1694.9,1154.8 L1695.5,1156.9 L1696.1,1156.7 L1696.7,1155.7 L1697.3,1156.5 L1697.9,1154.9 L1698.5,1156.5 L1699.1,1154.9 L1699.7,1157.4 L1700.3,1155.6 L1700.9,1155.1 L1701.5,1154.5 L1702.1,1150.2 L1702.7,1150.0 L1703.3,1147.1 L1703.9,1147.9 L1704.5,1151.8 L1705.1,1151.7 L1705.7,1154.3 L1706.3,1155.9 L1706.9,1154.9 L1707.5,1156.3 L1708.1,1155.5 L1708.7,1157.1 L1709.3,1156.9 L1709.9,1158.8 L1710.5,1156.7 L1711.2,1156.9 L1711.8,1158.7 L1712.4,1155.8 L1713.1,1157.5 L1713.7,1158.3 L1714.3,1156.3 L1714.9,1159.0 L1715.5,1156.9 L1716.1,1157.5 L1716.7,1155.8 L1717.3,1156.8 L1717.9,1153.8 L1718.5,1155.1 L1719.1,1155.9 L1719.7,1154.5 L1720.3,1156.1 L1720.9,1153.4 L1721.5,1155.4 L1722.1,1152.6 L1722.7,1154.5 L1723.3,1153.5 L1723.9,1151.7 L1724.5,1153.0 L1725.0,1151.1 L1725.6,1153.2 L1726.2,1152.1 L1726.8,1153.7 L1727.3,1151.9 L1727.9,1152.8 L1728.5,1155.2 L1729.0,1154.2 L1729.6,1156.1 L1730.2,1154.5 L1730.8,1156.7 L1731.3,1155.9 L1731.9,1155.1 L1732.5,1156.1 L1733.1,1155.0 L1733.7,1156.4 L1734.3,1155.0 L1734.9,1156.4 L1735.5,1155.0 L1736.1,1157.5 L1736.7,1157.8 L1737.3,1155.5 L1737.9,1156.2 L1738.5,1154.8 L1739.1,1156.1 L1739.7,1153.6 L1740.3,1155.1 L1740.9,1154.3 L1741.6,1153.1 L1742.2,1155.7 L1742.8,1155.4 L1743.4,1157.5 L1744.1,1157.0 L1744.7,1159.6 L1745.3,1158.6 L1745.9,1160.5 L1746.5,1159.9 L1747.2,1136.0 L1747.8,1112.7 L1748.5,1120.9 L1749.1,1127.2 L1749.7,1135.1 L1750.3,1139.0 L1750.9,1140.4 L1751.5,1144.5 L1752.1,1147.1 L1752.8,1148.1 L1753.4,1151.0 L1754.1,1148.3 L1754.7,1151.9 L1755.4,1151.1 L1756.0,1150.9 L1756.6,1152.4 L1757.2,1151.8 L1757.8,1153.7 L1758.4,1152.0 L1759.0,1154.2 L1759.6,1153.7 L1760.2,1155.1 L1760.7,1154.8 L1761.3,1153.3 L1761.9,1155.2 L1762.5,1154.1 L1763.1,1155.5 L1763.6,1152.6 L1764.2,1153.2 L1764.8,1152.2 L1765.4,1153.4 L1766.0,1151.4 L1766.6,1151.9 L1767.2,1154.7 L1767.8,1152.1 L1768.4,1153.7 L1769.0,1151.9 L1769.6,1152.8 L1770.2,1151.8 L1770.8,1153.0 L1771.4,1153.5 L1772.0,1152.4 L1772.6,1153.7 L1773.2,1152.2 L1773.8,1154.2 L1774.4,1153.7 L1775.0,1156.1 L1775.6,1153.6 L1776.2,1154.3 L1776.7,1156.1 L1777.3,1153.4 L1777.9,1155.5 L1778.5,1154.6 L1779.1,1156.5 L1779.7,1155.0 L1780.2,1156.3 L1780.8,1155.6 L1781.4,1156.3 L1782.0,1155.8 L1782.6,1155.9 L1783.2,1156.5 L1783.8,1155.0 L1784.4,1157.1 L1785.0,1155.1 L1785.6,1156.6 L1786.2,1154.3 L1786.8,1154.9 L1787.4,1154.3 L1787.9,1153.1 L1788.5,1155.3 L1789.1,1152.9 L1789.7,1154.9 L1790.2,1152.4 L1790.8,1154.9 L1791.4,1153.5 L1791.9,1145.5 L1792.5,1138.3 L1793.2,1141.6 L1793.9,1141.4 L1794.6,1144.7 L1795.2,1145.1 L1795.9,1144.6 L1796.5,1147.8 L1797.1,1146.4 L1797.8,1147.9 L1798.4,1150.0 L1799.0,1149.9 L1799.6,1151.7 L1800.2,1152.7 L1800.8,1152.2 L1801.4,1155.1 L1801.9,1153.3 L1802.5,1155.0 L1803.1,1152.0 L1803.7,1154.0 L1804.3,1153.4 L1804.8,1154.4 L1805.4,1151.7 L1806.0,1154.6 L1806.6,1153.5 L1807.2,1153.1 L1807.8,1154.8 L1808.4,1153.3 L1809.0,1155.0 L1809.6,1152.6 L1810.2,1155.7 L1810.8,1154.0 L1811.4,1155.9 L1812.0,1155.6 L1812.6,1154.7 L1813.1,1156.0 L1813.7,1154.9 L1814.3,1157.4 L1814.9,1155.3 L1815.5,1157.8 L1816.1,1156.0 L1816.6,1158.6 L1817.2,1155.9 L1817.8,1156.7 L1818.4,1157.9 L1819.0,1156.3 L1819.5,1157.5 L1820.1,1156.3 L1820.7,1157.1 L1821.3,1155.6 L1821.9,1157.5 L1822.5,1157.2 L1823.0,1157.7 L1823.6,1156.6 L1824.2,1158.3 L1824.8,1160.1 L1825.4,1159.0 L1826.0,1160.7 L1826.6,1159.3 L1827.2,1160.5 L1827.8,1159.5 L1828.4,1161.7 L1829.0,1160.7 L1829.6,1160.9 L1830.3,1163.4 L1830.9,1161.9 L1831.6,1164.2 L1832.2,1162.3 L1832.9,1161.8 L1833.5,1162.9 L1834.1,1159.9 L1834.8,1161.2 L1835.4,1158.4 L1836.9,1158.9"/>
<path stroke="#EDB120" d="M188.5,282.1 L190.0,284.5 L191.5,286.9 L193.0,289.2 L194.5,291.5 L196.0,294.0 L197.5,296.5 L199.0,299.1 L200.5,301.9 L202.0,304.9 L203.5,308.1 L205.0,311.7 L206.5,315.5 L208.0,319.7 L209.5,324.2 L211.0,329.1 L212.5,334.3 L214.0,339.7 L215.5,345.3 L217.0,350.9 L218.5,356.5 L220.0,361.8 L221.5,366.9 L223.0,371.6 L224.5,376.0 L226.0,380.1 L227.5,383.9 L229.0,387.4 L230.5,390.6 L232.0,393.6 L233.5,396.3 L235.0,398.8 L236.5,401.2 L238.0,403.4 L239.5,405.4 L241.0,407.3 L242.5,409.1 L244.0,410.8 L245.5,412.5 L247.0,414.1 L248.5,415.7 L250.0,417.3 L251.5,418.9 L253.0,420.5 L254.5,422.1 L256.0,423.7 L257.5,425.4 L259.0,427.0 L260.5,428.7 L262.0,430.3 L263.5,432.0 L265.0,433.7 L266.5,435.4 L268.0,437.0 L269.5,438.7 L271.0,440.4 L272.5,442.1 L274.0,443.8 L275.5,445.4 L277.0,447.1 L278.5,448.8 L280.0,450.4 L281.5,452.1 L283.0,453.7 L284.5,455.4 L286.0,457.0 L287.5,458.6 L289.0,460.3 L290.5,461.9 L292.0,463.5 L293.5,465.1 L295.0,466.7 L296.5,468.3 L298.0,469.9 L299.5,471.5 L301.0,473.0 L302.5,474.6 L304.0,476.2 L305.5,477.8 L307.0,479.3 L308.5,480.9 L310.0,482.4 L311.5,484.0 L313.0,485.5 L314.5,487.1 L316.0,488.6 L317.5,490.2 L319.0,491.7 L320.5,493.3 L322.0,494.8 L323.5,496.3 L325.0,497.9 L326.5,499.4 L328.0,500.9 L329.5,502.5 L331.0,504.0 L332.5,505.5 L334.0,507.1 L335.5,508.6 L337.0,510.1 L338.5,511.7 L340.0,513.2 L341.5,514.7 L343.0,516.3 L344.5,517.8 L346.0,519.3 L347.5,520.9 L349.0,522.4 L350.5,524.0 L352.0,525.5 L353.5,527.1 L355.0,528.6 L356.5,530.2 L358.0,531.7 L359.5,533.3 L361.0,534.9 L362.5,536.4 L364.0,538.0 L365.5,539.6 L367.0,541.2 L368.5,542.8 L370.0,544.4 L371.5,546.0 L373.0,547.6 L374.5,549.2 L376.0,550.8 L377.5,552.4 L379.0,554.1 L380.5,555.7 L382.0,557.3 L383.5,559.0 L385.0,560.7 L386.5,562.3 L388.0,564.0 L389.5,565.7 L391.0,567.4 L392.5,569.1 L394.0,570.8 L395.5,572.5 L397.0,574.2 L398.5,575.9 L400.0,577.7 L401.5,579.4 L403.0,581.2 L404.5,582.9 L406.0,584.7 L407.5,586.5 L409.0,588.3 L410.5,590.1 L412.0,591.9 L413.5,593.8 L415.0,595.6 L416.5,597.5 L418.0,599.3 L419.5,601.2 L421.0,603.1 L422.5,605.0 L424.0,606.9 L425.5,608.8 L427.0,610.8 L428.5,612.7 L430.0,614.7 L431.5,616.7 L433.0,618.7 L434.5,620.7 L436.0,622.7 L437.5,624.7 L439.0,626.8 L440.5,628.9 L442.0,630.9 L443.5,633.0 L445.0,635.1 L446.5,637.2 L448.0,639.4 L449.5,641.5 L451.0,643.7 L452.5,645.8 L454.0,648.0 L455.5,650.2 L457.0,652.4 L458.5,654.7 L460.0,656.9 L461.5,659.2 L463.0,661.4 L464.5,663.7 L466.0,666.0 L467.5,668.3 L469.0,670.7 L470.5,673.0 L472.0,675.4 L473.5,677.7 L475.0,680.1 L476.5,682.5 L478.0,684.9 L479.5,687.4 L481.0,689.8 L482.5,692.3 L484.0,694.7 L485.5,697.2 L487.0,699.7 L488.5,702.2 L490.0,704.8 L491.5,707.3 L493.0,709.9 L494.5,712.5 L496.0,715.1 L497.5,717.7 L499.0,720.3 L500.5,722.9 L502.0,725.6 L503.5,728.2 L505.0,730.9 L506.5,733.6 L508.0,736.3 L509.5,739.1 L511.0,741.8 L512.5,744.6 L514.0,747.3 L515.5,750.1 L517.0,752.9 L518.5,755.7 L520.0,758.6 L521.5,761.4 L523.0,764.2 L524.5,767.1 L526.0,769.9 L527.5,772.8 L529.0,775.7 L530.5,778.5 L532.0,781.4 L533.5,784.2 L535.0,787.1 L536.5,790.0 L538.0,792.8 L539.5,795.6 L541.0,798.5 L542.5,801.3 L544.0,804.1 L545.5,806.9 L547.0,809.7 L548.5,812.5 L550.0,815.2 L551.5,818.0 L553.0,820.7 L554.5,823.4 L556.0,826.1 L557.5,828.8 L559.0,831.4 L560.5,834.1 L562.0,836.7 L563.5,839.4 L565.0,842.0 L566.5,844.7 L568.0,847.3 L569.5,850.0 L571.0,852.6 L572.5,855.2 L574.0,857.9 L575.5,860.5 L577.0,863.2 L578.5,865.9 L580.0,868.5 L581.5,871.2 L583.0,873.9 L584.5,876.6 L586.0,879.3 L587.5,882.0 L589.0,884.8 L590.5,887.5 L592.0,890.2 L593.5,893.0 L595.0,895.7 L596.5,898.4 L598.0,901.2 L599.5,904.0 L601.0,906.7 L602.5,909.5 L604.0,912.2 L605.5,915.0 L607.0,917.7 L608.5,920.5 L610.0,923.2 L611.5,926.0 L613.0,928.8 L614.5,931.5 L616.0,934.3 L617.5,937.0 L619.0,939.7 L620.5,942.5 L622.0,945.2 L623.5,947.9 L625.0,950.6 L626.5,953.4 L628.0,956.1 L629.5,958.8 L631.0,961.4 L632.5,964.1 L634.0,966.8 L635.5,969.4 L637.0,972.1 L638.5,974.7 L640.0,977.4 L641.5,980.0 L643.0,982.6 L644.5,985.2 L646.0,987.7 L647.5,990.3 L649.0,992.8 L650.5,995.4 L652.0,997.9 L653.5,1000.4 L655.0,1002.9 L656.5,1005.3 L658.0,1007.8 L659.5,1010.2 L661.0,1012.6 L662.5,1015.0 L664.0,1017.4 L665.5,1019.7 L667.0,1022.1 L668.5,1024.4 L670.0,1026.7 L671.5,1028.9 L673.0,1031.2 L674.5,1033.4 L676.0,1035.6 L677.5,1037.7 L679.0,1039.9 L680.5,1042.0 L682.0,1044.1 L683.5,1046.1 L685.0,1048.2 L686.5,1050.2 L688.0,1052.2 L689.5,1054.1 L691.0,1056.0 L692.5,1057.9 L694.0,1059.8 L694.2,1060.1"/>
<path stroke="#EDB120" stroke-width="2.5" stroke-linejoin="miter" stroke-miterlimit="3" d="M694.2,1060.1 L694.8,1060.1 L695.4,1060.0 L696.0,1062.3 L696.6,1060.7 L697.2,1063.6 L697.8,1062.3 L698.4,1065.1 L699.0,1064.3 L699.6,1066.5 L700.2,1068.3 L700.8,1068.3 L701.4,1070.7 L701.9,1069.3 L702.5,1071.6 L703.1,1070.1 L703.7,1073.0 L704.3,1072.4 L704.8,1075.0 L705.4,1072.3 L706.0,1074.5 L706.6,1075.5 L707.2,1075.2 L707.9,1078.3 L708.5,1077.0 L709.1,1078.9 L709.7,1078.0 L710.3,1080.4 L710.9,1080.0 L711.6,1081.9 L712.2,1079.4 L712.8,1081.7 L713.4,1081.5 L714.0,1082.5 L714.6,1083.3 L715.3,1083.1 L715.9,1085.2 L716.5,1083.5 L717.1,1085.4 L717.7,1083.6 L718.3,1086.8 L718.9,1085.5 L719.6,1087.7 L720.2,1084.7 L720.8,1087.5 L721.4,1086.1 L722.0,1087.3 L722.6,1088.9 L723.3,1089.2 L723.9,1091.8 L724.5,1089.9 L725.1,1093.6 L725.7,1092.0 L726.3,1095.2 L727.0,1094.7 L727.6,1097.4 L728.2,1097.0 L728.8,1099.0 L729.4,1098.4 L730.0,1100.1 L730.6,1102.6 L731.2,1101.2 L731.8,1104.8 L732.4,1103.1 L732.9,1104.5 L733.5,1104.0 L734.1,1104.9 L734.7,1105.1 L735.3,1106.5 L735.9,1106.4 L736.4,1108.1 L737.1,1110.3 L737.7,1107.9 L738.3,1110.9 L738.9,1108.8 L739.5,1112.0 L740.1,1109.4 L740.7,1112.2 L741.4,1109.5 L742.0,1112.4 L742.6,1110.6 L743.2,1112.0 L743.8,1110.4 L744.4,1111.3 L745.0,1112.9 L745.6,1110.7 L746.2,1112.2 L746.8,1112.3 L747.4,1113.6 L747.9,1111.2 L748.5,1113.3 L749.1,1111.9 L749.7,1114.5 L750.3,1112.2 L750.8,1112.9 L751.4,1114.5 L752.0,1112.3 L752.6,1115.9 L753.2,1114.4 L753.8,1117.6 L754.3,1116.0 L754.9,1117.3 L755.5,1116.9 L756.1,1119.2 L756.7,1118.1 L757.3,1119.3 L757.8,1120.1 L758.4,1117.9 L759.0,1119.9 L759.6,1118.3 L760.2,1120.2 L760.7,1120.1 L761.3,1121.4 L761.9,1120.5 L762.5,1123.2 L763.1,1121.6 L763.7,1122.5 L764.3,1124.6 L764.9,1122.0 L765.5,1124.5 L766.1,1121.8 L766.7,1124.3 L767.3,1122.5 L767.9,1123.5 L768.5,1124.1 L769.0,1122.7 L769.6,1125.8 L770.2,1124.8 L770.7,1126.5 L771.3,1126.2 L771.9,1128.4 L772.5,1127.3 L773.0,1124.3 L773.5,1124.5 L774.1,1120.9 L774.7,1121.4 L775.3,1123.6 L776.0,1123.1 L776.6,1125.4 L777.3,1125.7 L777.9,1124.8 L778.5,1126.8 L779.1,1124.9 L779.7,1125.7 L780.1,1105.2 L780.6,1084.1 L781.4,1097.2 L782.1,1114.5 L782.6,1116.0 L783.2,1115.4 L783.8,1118.3 L784.4,1116.7 L784.9,1119.6 L785.5,1118.4 L786.1,1120.9 L786.7,1122.8 L787.2,1120.2 L787.8,1122.8 L788.4,1121.6 L789.0,1123.9 L789.6,1121.8 L790.2,1124.0 L790.7,1122.0 L791.3,1124.6 L791.9,1122.2 L792.5,1124.1 L793.1,1124.8 L793.6,1123.3 L794.2,1126.5 L794.8,1124.1 L795.4,1126.0 L796.0,1123.6 L796.6,1125.3 L797.1,1124.0 L797.7,1126.2 L798.3,1123.2 L798.9,1125.7 L799.5,1126.2 L800.0,1125.3 L800.6,1128.6 L801.2,1126.8 L801.8,1129.9 L802.4,1128.8 L803.0,1132.6 L803.5,1131.2 L804.1,1133.9 L804.7,1132.8 L805.3,1133.8 L805.9,1134.6 L806.4,1134.2 L807.0,1135.6 L807.6,1134.4 L808.1,1136.6 L808.7,1135.5 L809.3,1137.0 L809.9,1136.9 L810.5,1135.8 L811.2,1137.0 L811.8,1134.7 L812.4,1135.7 L813.0,1133.0 L813.7,1133.3 L814.3,1131.8 L814.9,1132.1 L815.5,1131.4 L816.1,1130.8 L816.6,1132.2 L817.2,1131.4 L817.8,1132.6 L818.4,1131.4 L819.0,1134.2 L819.6,1132.0 L820.1,1134.9 L820.7,1134.0 L821.3,1133.8 L821.9,1135.0 L822.5,1131.9 L823.1,1133.6 L823.7,1130.7 L824.3,1132.6 L824.9,1130.4 L825.5,1130.9 L826.1,1130.5 L826.7,1130.0 L827.3,1131.7 L828.0,1129.0 L828.6,1130.3 L829.2,1128.9 L829.8,1130.3 L830.4,1129.7 L831.0,1130.7 L831.6,1129.7 L832.3,1131.6 L832.9,1129.8 L833.5,1132.0 L834.1,1130.5 L834.8,1128.6 L835.4,1130.2 L836.0,1128.9 L836.7,1129.0 L837.3,1128.9 L838.0,1124.1 L838.6,1120.9 L839.2,1127.4 L839.7,1132.1 L840.3,1131.9 L840.9,1134.0 L841.5,1131.4 L842.1,1132.5 L842.7,1130.4 L843.3,1132.2 L843.9,1130.5 L844.5,1131.2 L845.1,1129.9 L845.7,1131.8 L846.3,1129.3 L846.9,1130.5 L847.5,1132.2 L848.1,1129.7 L848.7,1129.9 L849.3,1128.7 L849.8,1130.2 L850.4,1129.0 L851.0,1131.0 L851.6,1129.0 L852.2,1130.4 L852.7,1129.8 L853.3,1130.5 L853.9,1133.1 L854.5,1131.1 L855.1,1133.5 L855.7,1131.4 L856.2,1133.3 L856.8,1131.8 L857.4,1134.5 L858.0,1133.1 L858.6,1134.6 L859.1,1132.7 L859.7,1133.8 L860.3,1134.5 L860.9,1132.8 L861.5,1134.3 L862.1,1131.8 L862.7,1134.5 L863.3,1133.2 L863.9,1135.7 L864.5,1134.6 L865.1,1134.0 L865.7,1135.0 L866.3,1133.2 L866.9,1134.7 L867.4,1132.3 L868.0,1134.4 L868.6,1132.5 L869.2,1134.0 L869.8,1131.6 L870.4,1133.6 L870.9,1132.1 L871.5,1131.8 L872.1,1133.2 L872.7,1131.7 L873.3,1132.1 L873.9,1129.9 L874.5,1130.7 L875.1,1130.2 L875.7,1130.5 L876.3,1130.2 L876.9,1127.7 L877.5,1129.5 L878.1,1127.7 L878.7,1129.6 L879.3,1127.6 L879.9,1128.7 L880.5,1126.5 L881.1,1127.3 L881.7,1128.5 L882.3,1128.7 L882.9,1130.4 L883.5,1128.9 L884.2,1131.6 L884.8,1130.8 L885.4,1132.1 L886.0,1133.0 L886.6,1130.2 L887.3,1131.1 L887.9,1130.0 L888.6,1130.5 L889.1,1131.4 L889.7,1129.9 L890.3,1132.1 L890.9,1131.8 L891.5,1134.0 L892.0,1133.1 L892.6,1134.1 L893.2,1133.2 L893.8,1134.6 L894.4,1134.1 L895.0,1133.8 L895.5,1134.6 L896.1,1132.5 L896.7,1133.8 L897.3,1133.1 L897.9,1134.5 L898.5,1132.1 L899.0,1135.5 L899.6,1133.1 L900.2,1135.5 L900.8,1133.8 L901.4,1133.8 L901.9,1136.1 L902.5,1133.0 L903.1,1134.4 L903.7,1132.8 L904.3,1134.4 L904.9,1132.2 L905.4,1134.4 L906.0,1134.0 L906.6,1135.7 L907.2,1133.0 L907.8,1134.6 L908.4,1134.7 L909.0,1133.3 L909.6,1135.1 L910.2,1134.0 L910.8,1135.3 L911.4,1134.2 L912.0,1136.1 L912.6,1135.4 L913.2,1135.4 L913.8,1137.2 L914.4,1136.2 L915.0,1139.2 L915.6,1137.3 L916.2,1138.9 L916.8,1136.9 L917.4,1138.6 L918.0,1140.0 L918.6,1138.6 L919.2,1140.4 L919.9,1139.1 L920.5,1140.4 L921.1,1138.9 L921.7,1139.7 L922.4,1140.0 L923.0,1140.2 L923.6,1141.6 L924.2,1140.6 L924.8,1140.8 L925.5,1137.3 L926.1,1139.1 L926.7,1136.2 L927.3,1138.4 L928.0,1136.0 L928.6,1137.0 L929.2,1136.0 L929.9,1132.9 L930.5,1133.5 L931.1,1130.1 L931.8,1129.7 L932.4,1132.0 L933.1,1131.4 L933.7,1133.2 L934.3,1132.6 L935.0,1133.8 L935.6,1133.9 L936.2,1132.0 L936.8,1133.7 L937.5,1131.7 L938.1,1133.1 L938.7,1131.4 L939.3,1133.2 L939.9,1131.4 L940.5,1133.2 L941.1,1132.1 L941.8,1133.3 L942.4,1131.8 L943.0,1132.1 L943.6,1133.0 L944.2,1132.0 L944.8,1134.9 L945.4,1132.8 L946.0,1135.3 L946.6,1134.1 L947.2,1136.3 L947.8,1137.0 L948.4,1136.2 L949.0,1138.5 L949.5,1137.2 L950.1,1137.9 L950.7,1134.3 L951.3,1135.4 L951.9,1133.4 L952.5,1135.0 L953.0,1134.0 L953.6,1136.3 L954.2,1134.6 L954.8,1135.0 L955.4,1136.6 L956.1,1133.9 L956.7,1136.7 L957.3,1134.5 L957.9,1134.2 L958.5,1132.5 L959.1,1134.0 L959.7,1132.3 L960.4,1134.4 L961.0,1132.9 L961.6,1134.1 L962.2,1132.1 L962.8,1131.7 L963.4,1133.0 L964.0,1130.6 L964.5,1132.7 L965.1,1130.3 L965.7,1132.7 L966.3,1130.0 L966.9,1132.1 L967.5,1130.4 L968.0,1133.0 L968.6,1132.1 L969.2,1131.3 L969.8,1134.2 L970.4,1133.1 L971.0,1135.9 L971.6,1135.2 L972.2,1136.8 L972.8,1135.1 L973.4,1137.0 L974.0,1137.3 L974.6,1135.5 L975.2,1136.7 L975.8,1134.2 L976.4,1135.4 L977.0,1133.7 L977.6,1133.1 L978.2,1132.1 L978.8,1130.6 L979.5,1131.7 L980.1,1130.0 L980.7,1133.9 L981.3,1131.8 L981.9,1134.3 L982.5,1132.1 L983.2,1133.2 L983.8,1131.7 L984.4,1134.3 L985.0,1132.7 L985.6,1134.4 L986.2,1132.9 L986.8,1133.4 L987.4,1134.9 L988.0,1133.6 L988.6,1135.2 L989.1,1133.0 L989.7,1135.2 L990.3,1132.9 L990.9,1135.8 L991.5,1133.6 L992.1,1135.1 L992.6,1135.4 L993.2,1134.0 L993.8,1135.6 L994.4,1134.9 L995.0,1136.5 L995.5,1135.3 L996.1,1135.8 L996.7,1134.7 L997.3,1136.1 L997.9,1134.7 L998.5,1135.5 L999.0,1134.6 L999.5,1134.6 L1000.0,1134.6 L1000.6,1136.8 L1001.2,1135.2 L1001.7,1136.3 L1002.3,1133.9 L1002.9,1136.7 L1003.5,1134.9 L1004.1,1135.4 L1004.7,1134.3 L1005.2,1136.5 L1005.8,1134.8 L1006.4,1135.4 L1007.0,1136.7 L1007.6,1134.3 L1008.2,1137.0 L1008.7,1134.4 L1009.3,1136.1 L1009.9,1133.2 L1010.5,1134.0 L1011.1,1131.5 L1011.6,1132.1 L1012.2,1131.3 L1012.8,1132.1 L1013.4,1133.2 L1014.0,1131.0 L1014.6,1133.5 L1015.1,1130.9 L1015.7,1134.2 L1016.3,1132.6 L1016.9,1133.7 L1017.5,1133.5 L1018.1,1135.4 L1018.6,1133.1 L1019.2,1134.6 L1019.9,1133.2 L1020.6,1129.5 L1021.3,1128.1 L1021.8,1129.5 L1022.4,1129.4 L1022.9,1131.9 L1023.5,1131.9 L1024.0,1133.8 L1024.6,1133.8 L1025.2,1131.2 L1025.8,1132.6 L1026.4,1130.5 L1027.0,1131.9 L1027.6,1130.7 L1028.2,1131.8 L1028.8,1131.3 L1029.4,1130.6 L1030.0,1132.1 L1030.6,1131.3 L1031.2,1134.3 L1031.7,1132.7 L1032.3,1135.1 L1032.9,1133.1 L1033.5,1134.8 L1034.1,1133.9 L1034.6,1134.9 L1035.2,1135.4 L1035.8,1133.9 L1036.4,1135.4 L1037.0,1134.7 L1037.6,1136.4 L1038.1,1134.9 L1038.7,1137.2 L1039.3,1135.2 L1039.9,1137.7 L1040.5,1135.4 L1041.0,1136.9 L1041.6,1136.2 L1042.2,1135.7 L1042.8,1138.0 L1043.4,1134.9 L1044.0,1136.2 L1044.5,1135.1 L1045.1,1135.5 L1045.7,1134.3 L1046.3,1136.1 L1046.9,1133.2 L1047.5,1136.1 L1048.0,1135.4 L1048.6,1135.5 L1049.2,1136.5 L1049.8,1135.3 L1050.4,1135.1 L1051.0,1133.2 L1051.6,1134.1 L1052.2,1132.3 L1052.8,1134.5 L1053.4,1132.7 L1054.0,1133.6 L1054.6,1131.1 L1055.2,1132.1 L1055.9,1134.1 L1056.5,1132.1 L1057.1,1133.4 L1057.7,1132.1 L1058.4,1134.6 L1059.0,1133.5 L1059.6,1135.3 L1060.2,1134.8 L1060.8,1135.4 L1061.4,1135.2 L1062.0,1134.4 L1062.6,1136.4 L1063.2,1135.2 L1063.8,1137.7 L1064.3,1136.1 L1064.9,1136.9 L1065.5,1135.8 L1066.1,1136.9 L1066.7,1134.7 L1067.3,1136.2 L1067.9,1137.0 L1068.5,1134.9 L1069.1,1136.9 L1069.7,1135.2 L1070.3,1137.5 L1070.9,1136.7 L1071.5,1138.3 L1072.1,1137.0 L1072.7,1137.4 L1073.3,1140.4 L1074.0,1139.6 L1074.6,1141.6 L1075.3,1141.0 L1075.9,1140.6 L1076.5,1140.1 L1077.1,1138.8 L1077.7,1137.9 L1078.3,1134.7 L1078.9,1136.0 L1079.5,1132.9 L1080.1,1133.8 L1080.6,1134.6 L1081.2,1131.6 L1081.8,1132.7 L1082.4,1131.0 L1083.0,1131.5 L1083.6,1128.8 L1084.1,1131.1 L1084.7,1128.3 L1085.3,1129.2 L1085.9,1127.1 L1086.5,1127.3 L1087.1,1129.7 L1087.7,1128.7 L1088.4,1131.6 L1089.0,1131.1 L1089.7,1132.1 L1090.2,1129.9 L1090.8,1126.3 L1091.4,1124.4 L1091.9,1120.9 L1092.6,1123.2 L1093.2,1126.7 L1093.8,1126.9 L1094.5,1130.5 L1095.1,1131.6 L1095.7,1129.6 L1096.3,1132.3 L1096.9,1130.5 L1097.5,1132.4 L1098.1,1130.3 L1098.7,1131.8 L1099.3,1132.1 L1099.9,1130.5 L1100.4,1132.4 L1101.0,1131.4 L1101.6,1132.7 L1102.2,1130.4 L1102.8,1132.7 L1103.4,1130.4 L1103.9,1132.5 L1104.5,1129.8 L1105.1,1131.8 L1105.7,1130.5 L1106.3,1130.3 L1106.9,1131.6 L1107.5,1130.4 L1108.1,1131.5 L1108.7,1130.2 L1109.3,1133.5 L1109.9,1131.2 L1110.5,1131.3 L1111.1,1132.7 L1111.7,1132.0 L1112.3,1133.4 L1112.9,1132.2 L1113.5,1134.9 L1114.1,1132.8 L1114.7,1135.7 L1115.3,1135.4 L1115.9,1133.8 L1116.5,1136.2 L1117.0,1133.7 L1117.6,1135.8 L1118.2,1134.0 L1118.8,1135.5 L1119.4,1132.6 L1119.9,1135.9 L1120.5,1132.6 L1121.1,1134.5 L1121.7,1133.8 L1122.3,1132.9 L1122.9,1134.7 L1123.4,1133.0 L1124.0,1135.4 L1124.6,1133.3 L1125.2,1136.2 L1125.8,1134.6 L1126.4,1136.8 L1126.9,1134.7 L1127.5,1137.5 L1128.1,1135.4 L1128.7,1135.8 L1129.2,1138.2 L1129.8,1136.7 L1130.4,1139.5 L1131.0,1137.6 L1131.5,1140.1 L1132.1,1139.4 L1132.7,1137.6 L1133.2,1138.4 L1133.8,1135.1 L1134.4,1136.2 L1135.0,1132.2 L1135.5,1134.4 L1136.1,1132.1 L1136.7,1130.6 L1137.3,1133.4 L1137.9,1130.3 L1138.5,1132.3 L1139.1,1129.7 L1139.7,1132.5 L1140.3,1130.5 L1140.9,1131.3 L1141.5,1132.4 L1142.1,1130.3 L1142.7,1132.9 L1143.2,1131.4 L1143.8,1133.0 L1144.4,1132.1 L1145.0,1133.4 L1145.6,1132.2 L1146.1,1133.6 L1146.7,1132.1 L1147.3,1132.1 L1147.9,1134.9 L1148.5,1132.5 L1149.1,1134.3 L1149.6,1133.1 L1150.2,1135.6 L1150.8,1134.3 L1151.4,1135.7 L1152.0,1134.8 L1152.6,1138.3 L1153.1,1135.6 L1153.7,1137.8 L1154.3,1138.3 L1154.9,1135.5 L1155.5,1136.1 L1156.1,1134.3 L1156.7,1136.5 L1157.3,1133.8 L1157.9,1132.8 L1158.5,1132.1 L1159.1,1130.8 L1159.7,1132.6 L1160.3,1130.5 L1160.9,1132.2 L1161.4,1130.4 L1162.0,1131.8 L1162.6,1129.5 L1163.2,1131.8 L1163.8,1131.0 L1164.3,1132.1 L1164.9,1131.3 L1165.5,1130.5 L1166.1,1132.0 L1166.7,1131.4 L1167.3,1132.7 L1167.8,1132.1 L1168.4,1135.3 L1169.0,1132.9 L1169.6,1135.2 L1170.2,1134.4 L1170.8,1136.4 L1171.3,1135.4 L1171.9,1134.1 L1172.5,1136.3 L1173.1,1134.0 L1173.7,1136.9 L1174.2,1134.7 L1174.8,1135.9 L1175.4,1134.2 L1176.0,1136.6 L1176.6,1135.3 L1177.2,1136.6 L1177.7,1136.2 L1178.3,1134.9 L1178.9,1137.9 L1179.5,1135.1 L1180.1,1138.0 L1180.6,1136.0 L1181.2,1138.8 L1181.8,1137.5 L1182.4,1138.7 L1183.0,1137.8 L1183.6,1139.0 L1184.1,1139.4 L1184.7,1136.4 L1185.3,1136.5 L1185.9,1133.8 L1186.5,1132.1 L1187.1,1132.3 L1187.7,1129.9 L1188.3,1132.4 L1188.8,1130.4 L1189.4,1132.4 L1190.0,1130.8 L1190.5,1129.7 L1191.1,1132.2 L1191.7,1131.7 L1192.3,1134.7 L1192.9,1135.4 L1193.6,1120.7 L1194.2,1106.5 L1194.9,1113.5 L1195.5,1117.5 L1196.2,1124.1 L1196.8,1125.8 L1197.4,1125.6 L1198.0,1129.1 L1198.6,1130.5 L1199.2,1127.7 L1199.8,1131.0 L1200.4,1129.6 L1201.0,1131.3 L1201.6,1130.0 L1202.2,1131.3 L1202.8,1129.3 L1203.4,1129.7 L1204.0,1131.5 L1204.6,1129.9 L1205.2,1131.0 L1205.8,1130.5 L1206.4,1133.1 L1207.0,1131.8 L1207.6,1133.5 L1208.2,1132.1 L1208.7,1132.0 L1209.3,1133.8 L1209.9,1132.7 L1210.5,1135.1 L1211.1,1132.5 L1211.7,1134.0 L1212.2,1133.6 L1212.8,1135.4 L1213.4,1133.8 L1214.0,1135.4 L1214.6,1133.8 L1215.2,1133.5 L1215.8,1135.7 L1216.4,1133.3 L1217.1,1135.4 L1217.7,1135.1 L1218.3,1137.1 L1218.9,1135.8 L1219.5,1137.7 L1220.2,1137.8 L1220.8,1135.7 L1221.4,1139.6 L1222.0,1137.4 L1222.7,1137.4 L1223.3,1135.3 L1223.9,1136.6 L1224.5,1134.9 L1225.2,1135.5 L1225.8,1135.4 L1226.4,1133.5 L1227.0,1135.9 L1227.6,1134.5 L1228.2,1136.4 L1228.8,1134.2 L1229.4,1136.1 L1230.0,1135.5 L1230.6,1136.2 L1231.2,1137.5 L1231.7,1136.6 L1232.3,1138.4 L1232.9,1136.6 L1233.5,1138.6 L1234.1,1136.7 L1234.7,1139.1 L1235.2,1137.3 L1235.8,1140.4 L1236.4,1138.8 L1237.0,1139.4 L1237.6,1141.9 L1238.2,1138.3 L1238.8,1139.5 L1239.4,1136.6 L1240.0,1138.4 L1240.6,1135.6 L1241.2,1137.2 L1241.8,1135.4 L1242.4,1135.2 L1243.0,1137.4 L1243.5,1134.8 L1244.1,1136.1 L1244.7,1133.7 L1245.3,1136.3 L1245.9,1132.9 L1246.4,1134.3 L1247.0,1131.4 L1247.6,1134.8 L1248.2,1133.8 L1248.8,1131.5 L1249.4,1133.2 L1250.1,1130.5 L1250.7,1131.2 L1251.3,1128.9 L1251.9,1130.5 L1252.6,1127.3 L1253.2,1128.1 L1253.8,1126.5 L1254.4,1126.2 L1254.9,1128.6 L1255.5,1128.1 L1256.1,1130.1 L1256.7,1129.0 L1257.2,1130.8 L1257.8,1131.3 L1258.4,1130.8 L1259.0,1132.2 L1259.6,1131.8 L1260.2,1133.2 L1260.8,1133.1 L1261.4,1136.0 L1262.0,1135.2 L1262.6,1135.4 L1263.2,1135.2 L1263.9,1132.9 L1264.5,1133.4 L1265.2,1130.8 L1265.8,1131.3 L1266.4,1131.9 L1267.0,1130.6 L1267.6,1132.0 L1268.1,1130.4 L1268.7,1132.9 L1269.3,1129.7 L1269.9,1133.4 L1270.5,1131.1 L1271.0,1133.9 L1271.6,1133.4 L1272.2,1133.8 L1272.8,1136.2 L1273.4,1135.1 L1274.0,1136.5 L1274.6,1135.7 L1275.2,1138.0 L1275.8,1136.8 L1276.4,1140.6 L1277.0,1138.6 L1277.6,1138.7 L1278.2,1140.0 L1278.8,1137.2 L1279.3,1138.9 L1279.9,1136.8 L1280.5,1136.7 L1281.1,1135.2 L1281.7,1135.4 L1282.3,1134.4 L1282.8,1135.6 L1283.4,1135.4 L1284.0,1134.8 L1284.6,1136.5 L1285.2,1134.0 L1285.7,1135.8 L1286.3,1134.9 L1286.9,1136.3 L1287.5,1134.8 L1288.1,1135.1 L1288.7,1134.2 L1289.2,1134.9 L1289.8,1134.6 L1290.4,1133.5 L1291.0,1137.0 L1291.6,1136.2 L1292.2,1138.1 L1292.8,1136.8 L1293.4,1140.0 L1294.0,1138.3 L1294.6,1141.0 L1295.2,1140.6 L1295.8,1138.8 L1296.3,1139.3 L1296.9,1137.9 L1297.5,1139.2 L1298.1,1138.4 L1298.6,1138.6 L1299.3,1140.2 L1300.0,1137.5 L1300.6,1135.5 L1301.1,1137.2 L1301.7,1135.6 L1302.3,1136.2 L1302.9,1134.8 L1303.4,1135.8 L1304.0,1134.3 L1304.6,1135.5 L1305.1,1136.5 L1305.7,1136.0 L1306.3,1137.3 L1306.9,1135.5 L1307.4,1139.0 L1308.0,1138.3 L1308.6,1137.0 L1309.2,1138.3 L1309.8,1136.8 L1310.3,1138.2 L1310.9,1137.6 L1311.5,1138.2 L1312.1,1136.7 L1312.7,1139.1 L1313.2,1136.8 L1313.8,1138.5 L1314.4,1136.7 L1315.0,1136.1 L1315.6,1138.1 L1316.2,1136.2 L1316.7,1136.3 L1317.3,1135.6 L1317.9,1137.6 L1318.5,1133.8 L1319.1,1134.5 L1319.7,1133.3 L1320.2,1135.5 L1320.8,1134.3 L1321.4,1134.5 L1322.0,1135.8 L1322.6,1135.1 L1323.1,1136.9 L1323.7,1134.6 L1324.3,1137.7 L1324.9,1136.1 L1325.5,1137.8 L1326.1,1136.2 L1326.6,1138.4 L1327.2,1136.7 L1327.8,1135.5 L1328.4,1137.3 L1329.0,1135.6 L1329.6,1136.5 L1330.1,1134.8 L1330.7,1138.0 L1331.3,1136.3 L1331.9,1137.2 L1332.5,1136.2 L1333.0,1137.0 L1333.6,1135.1 L1334.2,1135.0 L1334.8,1136.8 L1335.4,1135.5 L1336.0,1137.1 L1336.5,1136.1 L1337.1,1137.9 L1337.7,1135.4 L1338.3,1137.1 L1338.9,1134.5 L1339.4,1136.2 L1340.0,1136.7 L1340.6,1135.3 L1341.2,1137.5 L1341.8,1135.3 L1342.4,1137.1 L1342.9,1136.1 L1343.5,1138.6 L1344.1,1137.3 L1344.7,1139.0 L1345.3,1138.2 L1345.9,1139.7 L1346.4,1138.3 L1347.1,1136.7 L1347.7,1138.4 L1348.3,1137.1 L1348.9,1137.9 L1349.5,1136.7 L1350.1,1138.4 L1350.7,1137.7 L1351.4,1140.2 L1352.0,1138.5 L1352.6,1140.8 L1353.2,1138.0 L1353.8,1140.3 L1354.4,1138.3 L1355.0,1138.3 L1355.6,1139.0 L1356.2,1136.0 L1356.8,1136.6 L1357.4,1133.8 L1358.0,1135.3 L1358.6,1134.6 L1359.2,1133.5 L1359.8,1135.2 L1360.4,1132.4 L1361.0,1133.9 L1361.6,1131.6 L1362.2,1133.9 L1362.8,1131.1 L1363.4,1131.9 L1364.0,1131.9 L1364.6,1130.1 L1365.2,1131.9 L1365.8,1131.5 L1366.3,1132.7 L1366.9,1131.4 L1367.5,1132.8 L1368.1,1131.1 L1368.9,1064.7 L1369.5,1067.3 L1370.1,1071.7 L1370.7,1073.2 L1371.3,1077.5 L1371.7,1112.7 L1372.3,1114.3 L1372.9,1114.5 L1373.5,1117.0 L1374.1,1116.4 L1374.7,1119.0 L1375.3,1119.1 L1375.9,1119.0 L1376.5,1121.2 L1377.1,1120.0 L1377.7,1123.5 L1378.3,1121.9 L1378.9,1124.7 L1379.5,1123.4 L1380.1,1125.5 L1380.7,1126.8 L1381.3,1124.4 L1381.9,1127.5 L1382.5,1127.0 L1383.1,1128.7 L1383.7,1127.2 L1384.3,1130.2 L1384.9,1130.3 L1385.5,1129.1 L1386.1,1129.6 L1386.7,1128.2 L1387.3,1129.5 L1387.9,1128.6 L1388.5,1131.0 L1389.1,1127.9 L1389.7,1128.7 L1390.3,1130.8 L1390.9,1130.2 L1391.5,1131.6 L1392.1,1130.7 L1392.7,1132.4 L1393.3,1131.0 L1393.9,1133.1 L1394.5,1131.9 L1395.1,1131.7 L1395.6,1133.6 L1396.2,1131.4 L1396.8,1132.6 L1397.4,1130.2 L1398.0,1131.5 L1398.5,1129.6 L1399.1,1130.1 L1399.7,1128.9 L1400.3,1129.7 L1400.9,1129.5 L1401.5,1128.3 L1402.0,1131.2 L1402.6,1129.3 L1403.2,1130.9 L1403.8,1129.5 L1404.4,1130.3 L1405.0,1130.0 L1405.5,1132.4 L1406.1,1130.5 L1406.7,1132.6 L1407.3,1131.1 L1407.9,1131.1 L1408.4,1132.1 L1409.0,1130.6 L1409.6,1132.4 L1410.2,1130.4 L1410.8,1131.8 L1411.4,1130.3 L1411.9,1131.5 L1412.5,1131.1 L1413.1,1132.8 L1413.7,1131.9 L1414.3,1132.3 L1414.8,1134.4 L1415.4,1134.2 L1416.0,1136.4 L1416.5,1134.9 L1417.1,1139.1 L1417.7,1138.3 L1418.3,1136.5 L1418.9,1139.4 L1419.6,1137.2 L1420.2,1138.9 L1420.8,1136.7 L1421.4,1140.4 L1422.1,1138.5 L1422.7,1139.5 L1423.3,1138.3 L1423.9,1138.1 L1424.5,1139.7 L1425.1,1137.9 L1425.7,1140.0 L1426.3,1138.3 L1426.9,1140.0 L1427.5,1139.0 L1428.1,1139.9 L1428.7,1140.4 L1429.3,1139.1 L1429.8,1139.4 L1430.4,1138.5 L1431.0,1140.7 L1431.6,1139.4 L1432.2,1139.7 L1432.8,1138.2 L1433.3,1139.4 L1433.9,1136.1 L1434.5,1137.5 L1435.1,1138.3 L1435.7,1137.5 L1436.3,1138.3 L1436.8,1135.9 L1437.4,1137.1 L1438.0,1134.7 L1438.6,1135.8 L1439.2,1134.3 L1439.7,1136.0 L1440.3,1134.3 L1440.9,1135.1 L1441.5,1135.5 L1442.2,1132.1 L1442.8,1132.6 L1443.5,1129.9 L1444.1,1130.3 L1444.8,1129.4 L1445.4,1128.6 L1446.0,1130.5 L1446.7,1129.0 L1447.3,1129.5 L1447.8,1120.6 L1448.4,1109.4 L1448.9,1099.9 L1449.5,1105.1 L1450.1,1107.7 L1450.7,1114.4 L1451.3,1117.5 L1451.9,1118.3 L1452.5,1120.8 L1453.1,1120.9 L1453.7,1122.3 L1454.3,1123.8 L1454.9,1122.4 L1455.5,1124.7 L1456.1,1123.3 L1456.7,1125.5 L1457.3,1124.7 L1457.9,1126.0 L1458.5,1127.1 L1459.2,1127.4 L1459.8,1130.8 L1460.4,1130.6 L1461.1,1134.2 L1461.7,1133.5 L1462.3,1133.3 L1462.9,1134.1 L1463.5,1133.3 L1464.1,1133.6 L1464.7,1132.5 L1465.3,1135.5 L1465.9,1134.2 L1466.5,1135.1 L1467.1,1136.5 L1467.7,1136.1 L1468.2,1139.0 L1468.8,1138.4 L1469.4,1139.8 L1470.0,1140.5 L1470.5,1141.5 L1471.1,1142.8 L1471.7,1140.1 L1472.2,1140.4 L1472.8,1138.1 L1473.4,1139.8 L1474.0,1136.0 L1474.5,1136.7 L1475.1,1136.4 L1475.7,1134.2 L1476.3,1136.3 L1476.9,1135.1 L1477.4,1136.8 L1478.0,1135.3 L1478.6,1137.3 L1479.2,1134.9 L1479.8,1137.1 L1480.4,1135.0 L1480.9,1135.1 L1481.5,1136.3 L1482.1,1135.1 L1482.7,1136.3 L1483.3,1135.6 L1483.9,1137.1 L1484.5,1136.4 L1485.1,1138.6 L1485.7,1138.3 L1486.3,1137.4 L1486.9,1141.1 L1487.5,1138.5 L1488.1,1139.5 L1488.7,1138.3 L1489.3,1139.9 L1489.9,1138.5 L1490.5,1139.9 L1491.1,1140.0 L1491.7,1136.6 L1492.3,1138.5 L1492.9,1137.0 L1493.5,1139.4 L1494.2,1136.9 L1494.8,1140.3 L1495.4,1136.7 L1496.0,1136.6 L1496.6,1137.5 L1497.2,1136.5 L1497.8,1137.9 L1498.4,1135.6 L1499.0,1138.0 L1499.6,1136.5 L1500.2,1136.7 L1500.8,1138.1 L1501.4,1137.1 L1502.0,1139.2 L1502.6,1136.9 L1503.2,1138.7 L1503.8,1137.0 L1504.4,1140.4 L1505.0,1139.1 L1505.5,1137.7 L1506.1,1139.1 L1506.7,1137.2 L1507.3,1138.7 L1507.9,1136.5 L1508.5,1137.8 L1509.0,1137.8 L1509.6,1137.8 L1510.2,1135.4 L1510.8,1137.5 L1511.4,1135.9 L1512.0,1135.1 L1512.6,1137.1 L1513.2,1135.8 L1513.8,1137.3 L1514.4,1136.2 L1515.0,1138.5 L1515.6,1136.2 L1516.2,1136.7 L1516.8,1137.8 L1517.4,1136.2 L1518.0,1137.8 L1518.7,1135.0 L1519.3,1136.3 L1519.9,1133.9 L1520.5,1134.9 L1521.1,1132.5 L1521.8,1132.7 L1522.3,1134.9 L1522.9,1133.3 L1523.5,1135.3 L1524.1,1133.8 L1524.6,1136.1 L1525.2,1133.7 L1525.8,1135.1 L1526.4,1135.9 L1526.9,1133.6 L1527.5,1136.1 L1528.1,1134.3 L1528.7,1136.5 L1529.3,1134.9 L1529.9,1136.4 L1530.4,1134.6 L1531.0,1135.2 L1531.6,1132.8 L1532.2,1135.1 L1532.8,1135.3 L1533.3,1134.2 L1533.9,1137.4 L1534.5,1135.7 L1535.1,1138.4 L1535.7,1136.7 L1536.3,1137.6 L1536.8,1136.3 L1537.4,1138.3 L1538.0,1136.0 L1538.6,1137.5 L1539.2,1137.3 L1539.7,1135.8 L1540.3,1136.6 L1540.9,1135.9 L1541.5,1138.2 L1542.1,1134.9 L1542.7,1136.7 L1543.2,1134.7 L1543.8,1136.3 L1544.4,1134.3 L1545.0,1135.1 L1545.6,1135.6 L1546.2,1134.3 L1546.7,1136.4 L1547.3,1134.8 L1547.9,1135.9 L1548.5,1133.4 L1549.1,1135.2 L1549.6,1134.1 L1550.2,1134.6 L1550.8,1133.5 L1551.4,1135.1 L1552.0,1135.7 L1552.6,1133.8 L1553.1,1135.2 L1553.7,1133.5 L1554.3,1137.0 L1554.9,1134.2 L1555.5,1134.6 L1556.1,1131.5 L1556.6,1132.5 L1557.2,1131.8 L1557.8,1132.7 L1558.3,1134.8 L1558.9,1134.1 L1559.4,1136.1 L1560.0,1134.3 L1560.6,1133.6 L1561.2,1133.3 L1561.8,1131.1 L1562.4,1133.3 L1563.0,1131.9 L1563.6,1134.3 L1564.2,1131.6 L1564.8,1131.9 L1565.4,1132.5 L1566.0,1130.7 L1566.6,1132.1 L1567.2,1131.4 L1567.8,1132.7 L1568.4,1131.4 L1569.0,1133.5 L1569.6,1133.5 L1570.2,1131.7 L1570.9,1132.5 L1571.5,1131.4 L1572.2,1133.0 L1572.8,1131.1 L1573.5,1131.9 L1574.1,1134.6 L1574.7,1133.7 L1575.4,1136.5 L1576.0,1136.7 L1576.6,1136.6 L1577.2,1137.9 L1577.8,1135.1 L1578.4,1138.6 L1579.0,1136.6 L1579.6,1137.5 L1580.2,1134.2 L1580.8,1135.1 L1581.4,1135.4 L1582.0,1134.4 L1582.6,1136.4 L1583.2,1135.3 L1583.8,1137.0 L1584.4,1136.1 L1585.0,1138.1 L1585.6,1136.7 L1586.2,1135.7 L1586.8,1136.5 L1587.4,1134.1 L1588.0,1135.0 L1588.6,1134.2 L1589.2,1134.5 L1589.8,1132.8 L1590.4,1134.3 L1591.0,1134.7 L1591.6,1133.8 L1592.2,1136.1 L1592.8,1134.2 L1593.4,1137.1 L1594.0,1135.4 L1594.6,1137.6 L1595.2,1136.7 L1595.8,1135.7 L1596.4,1137.2 L1597.0,1134.7 L1597.6,1138.0 L1598.2,1135.7 L1598.8,1137.6 L1599.4,1135.6 L1600.0,1137.5 L1600.6,1138.0 L1601.2,1136.3 L1601.8,1138.3 L1602.4,1136.2 L1603.0,1136.8 L1603.6,1136.1 L1604.2,1137.0 L1604.8,1136.7 L1605.4,1129.9 L1605.9,1127.4 L1606.4,1119.9 L1607.0,1124.0 L1607.5,1129.5 L1608.0,1132.7 L1608.6,1131.5 L1609.2,1134.1 L1609.8,1132.7 L1610.4,1134.1 L1611.0,1134.4 L1611.6,1136.0 L1612.2,1134.1 L1612.8,1135.9 L1613.4,1136.9 L1614.0,1135.4 L1614.6,1136.5 L1615.2,1135.5 L1615.8,1135.6 L1616.4,1134.9 L1617.0,1136.1 L1617.6,1136.7 L1618.2,1135.4 L1618.8,1137.8 L1619.4,1137.0 L1620.0,1137.8 L1620.6,1134.7 L1621.1,1135.9 L1621.7,1135.0 L1622.3,1135.4 L1622.9,1134.5 L1623.5,1135.8 L1624.0,1135.1 L1624.7,1134.8 L1625.3,1136.4 L1625.9,1135.7 L1626.5,1136.9 L1627.1,1136.5 L1627.7,1137.8 L1628.3,1136.5 L1628.9,1138.3 L1629.4,1137.6 L1630.0,1136.2 L1630.6,1135.6 L1631.1,1132.7 L1631.7,1134.0 L1632.3,1132.2 L1632.9,1132.7 L1633.6,1131.7 L1634.2,1128.9 L1634.9,1128.7 L1635.5,1130.4 L1636.0,1130.5 L1636.6,1134.0 L1637.1,1133.2 L1637.7,1135.1 L1638.2,1136.1 L1638.8,1135.3 L1639.4,1137.9 L1639.9,1136.0 L1640.5,1137.7 L1641.1,1136.8 L1641.7,1136.7 L1642.2,1137.5 L1642.8,1135.9 L1643.4,1136.5 L1644.0,1134.8 L1644.5,1136.6 L1645.1,1135.7 L1645.7,1135.1 L1646.3,1137.1 L1646.9,1135.2 L1647.5,1137.5 L1648.1,1137.5 L1648.7,1138.9 L1649.3,1138.0 L1649.9,1139.9 L1650.5,1139.9 L1651.0,1139.3 L1651.6,1139.6 L1652.2,1137.3 L1652.8,1137.1 L1653.3,1135.6 L1653.9,1135.9 L1654.5,1135.1 L1655.1,1132.9 L1655.8,1133.2 L1656.4,1131.6 L1657.0,1132.6 L1657.7,1131.9 L1658.3,1129.9 L1658.9,1133.1 L1659.5,1131.3 L1660.1,1134.7 L1660.7,1133.3 L1661.3,1135.2 L1661.9,1135.1 L1662.5,1135.1 L1663.1,1123.6 L1663.8,1109.5 L1664.3,1110.0 L1664.8,1112.4 L1665.4,1111.5 L1665.9,1114.4 L1666.5,1114.3 L1667.1,1115.2 L1667.7,1120.6 L1668.3,1120.7 L1668.9,1123.9 L1669.5,1126.7 L1670.2,1125.0 L1670.8,1128.6 L1671.4,1128.5 L1672.1,1130.3 L1672.7,1132.2 L1673.3,1130.4 L1673.9,1132.9 L1674.5,1130.9 L1675.1,1133.2 L1675.7,1131.9 L1676.3,1133.0 L1676.9,1133.5 L1677.5,1132.2 L1678.1,1133.8 L1678.7,1131.2 L1679.3,1131.9 L1679.9,1130.0 L1680.5,1132.6 L1681.1,1130.6 L1681.7,1131.1 L1682.3,1131.6 L1682.9,1131.1 L1683.5,1132.2 L1684.1,1130.8 L1684.7,1133.1 L1685.3,1131.0 L1685.9,1133.1 L1686.5,1132.7 L1687.1,1132.6 L1687.7,1133.6 L1688.3,1131.8 L1688.9,1133.2 L1689.5,1131.9 L1690.1,1133.4 L1690.7,1132.6 L1691.3,1134.3 L1691.9,1133.4 L1692.5,1131.6 L1693.1,1133.5 L1693.7,1132.6 L1694.3,1133.2 L1694.9,1131.4 L1695.5,1131.5 L1696.1,1130.3 L1696.7,1128.6 L1697.3,1131.4 L1697.9,1129.5 L1698.5,1132.1 L1699.1,1129.3 L1699.7,1131.3 L1700.3,1130.2 L1700.9,1131.1 L1701.5,1132.1 L1702.2,1130.9 L1702.8,1130.4 L1703.5,1128.0 L1704.1,1128.7 L1704.8,1128.9 L1705.4,1128.2 L1706.0,1130.6 L1706.7,1130.7 L1707.3,1132.7 L1707.9,1134.6 L1708.5,1133.1 L1709.1,1135.8 L1709.7,1134.0 L1710.3,1135.9 L1710.9,1134.0 L1711.5,1135.8 L1712.1,1135.1 L1712.7,1134.2 L1713.4,1135.1 L1714.0,1134.1 L1714.6,1135.4 L1715.2,1135.3 L1715.9,1137.6 L1716.5,1136.4 L1717.1,1139.0 L1717.7,1137.5 L1718.3,1137.4 L1719.0,1137.6 L1719.6,1135.7 L1720.2,1138.3 L1720.8,1136.1 L1721.5,1139.3 L1722.1,1136.3 L1722.7,1137.3 L1723.3,1136.7 L1723.9,1136.1 L1724.5,1137.8 L1725.1,1136.7 L1725.7,1138.0 L1726.3,1136.1 L1726.9,1138.8 L1727.5,1137.2 L1728.1,1137.5 L1728.7,1137.6 L1729.3,1135.7 L1729.9,1137.0 L1730.5,1134.1 L1731.1,1135.0 L1731.7,1132.2 L1732.3,1134.3 L1732.9,1132.7 L1733.6,1132.9 L1734.2,1134.3 L1734.9,1132.0 L1735.5,1133.3 L1736.1,1131.9 L1736.7,1132.1 L1737.3,1133.9 L1737.9,1132.5 L1738.4,1133.6 L1739.0,1132.1 L1739.6,1134.5 L1740.1,1134.3 L1740.8,1127.7 L1741.4,1124.7 L1742.1,1127.9 L1742.7,1129.0 L1743.3,1133.5 L1743.9,1133.7 L1744.5,1132.6 L1745.1,1134.5 L1745.6,1133.6 L1746.2,1134.4 L1746.8,1134.0 L1747.3,1134.3 L1747.9,1135.6 L1748.5,1134.5 L1749.1,1137.1 L1749.7,1135.9 L1750.3,1137.3 L1750.9,1136.8 L1751.5,1138.7 L1752.1,1138.3 L1752.7,1136.6 L1753.3,1137.4 L1754.0,1135.0 L1754.6,1136.5 L1755.2,1133.9 L1755.8,1135.4 L1756.4,1132.6 L1757.0,1133.5 L1757.6,1135.2 L1758.2,1132.1 L1758.8,1136.1 L1759.4,1134.0 L1760.0,1135.8 L1760.6,1133.1 L1761.2,1135.5 L1761.8,1134.3 L1762.3,1132.7 L1762.9,1134.8 L1763.5,1133.2 L1764.1,1133.9 L1764.7,1132.8 L1765.2,1132.8 L1765.8,1130.8 L1766.4,1132.4 L1767.0,1130.2 L1767.6,1131.4 L1768.2,1131.1 L1768.8,1130.6 L1769.4,1133.6 L1770.0,1133.2 L1770.6,1135.5 L1771.2,1134.1 L1771.8,1136.8 L1772.4,1135.3 L1773.0,1136.7 L1773.6,1136.5 L1774.2,1134.1 L1774.8,1135.7 L1775.4,1134.6 L1776.0,1136.3 L1776.6,1135.0 L1777.2,1136.4 L1777.8,1135.1 L1778.4,1134.2 L1778.9,1136.1 L1779.5,1133.5 L1780.1,1135.4 L1780.7,1132.8 L1781.3,1136.0 L1781.8,1134.2 L1782.4,1135.8 L1783.0,1134.0 L1783.6,1136.3 L1784.2,1134.3 L1784.8,1134.4 L1785.4,1136.1 L1786.0,1135.3 L1786.6,1136.4 L1787.2,1135.5 L1787.8,1137.8 L1788.4,1135.7 L1789.0,1136.7 L1789.6,1138.4 L1790.3,1137.2 L1790.9,1139.1 L1791.5,1137.3 L1792.2,1139.9 L1792.8,1139.4 L1793.3,1136.4 L1793.9,1137.8 L1794.5,1136.0 L1795.1,1137.0 L1795.7,1135.1 L1796.3,1135.5 L1796.8,1133.2 L1797.4,1134.8 L1798.0,1133.0 L1798.6,1133.5 L1799.2,1134.3 L1799.8,1133.8 L1800.4,1134.7 L1801.0,1133.5 L1801.6,1136.1 L1802.2,1133.9 L1802.8,1136.2 L1803.4,1135.9 L1804.0,1134.5 L1804.6,1136.7 L1805.1,1134.9 L1805.7,1137.0 L1806.3,1134.5 L1806.9,1136.6 L1807.5,1135.5 L1808.0,1136.4 L1808.6,1134.9 L1809.2,1135.9 L1809.8,1135.1 L1810.4,1135.4 L1811.0,1137.5 L1811.5,1136.4 L1812.1,1137.2 L1812.7,1135.9 L1813.3,1136.6 L1813.9,1135.6 L1814.5,1136.6 L1815.0,1135.3 L1815.6,1137.4 L1816.2,1136.7 L1816.8,1134.4 L1817.4,1135.8 L1818.0,1133.7 L1818.6,1134.2 L1819.2,1131.1 L1819.8,1132.2 L1820.4,1131.1 L1821.0,1131.1 L1821.6,1132.8 L1822.3,1133.1 L1822.9,1136.1 L1823.6,1135.9 L1824.2,1138.3 L1824.8,1124.1 L1825.5,1107.9 L1826.1,1110.1 L1826.8,1115.2 L1827.4,1117.5 L1828.0,1117.5 L1828.7,1120.7 L1829.3,1120.5 L1830.0,1123.7 L1830.6,1123.1 L1831.2,1122.9 L1831.8,1124.3 L1832.4,1123.9 L1833.0,1125.3 L1833.6,1124.0 L1834.2,1126.0 L1834.8,1124.8 L1835.4,1124.7 L1836.9,1125.0"/>
<path stroke="#7E2F8E" d="M188.5,282.1 L190.0,285.0 L191.5,288.0 L193.0,291.0 L194.5,294.2 L196.0,297.7 L197.5,301.4 L199.0,305.5 L200.5,310.0 L202.0,315.0 L203.5,320.6 L205.0,326.8 L206.5,333.3 L208.0,340.0 L209.5,346.7 L211.0,353.3 L212.5,359.8 L214.0,365.9 L215.5,371.8 L217.0,377.2 L218.5,382.2 L220.0,386.8 L221.5,390.9 L223.0,394.6 L224.5,397.9 L226.0,401.0 L227.5,403.8 L229.0,406.4 L230.5,408.8 L232.0,411.2 L233.5,413.5 L235.0,415.9 L236.5,418.2 L238.0,420.5 L239.5,422.9 L241.0,425.2 L242.5,427.5 L244.0,429.8 L245.5,432.1 L247.0,434.4 L248.5,436.7 L250.0,438.9 L251.5,441.2 L253.0,443.4 L254.5,445.7 L256.0,447.9 L257.5,450.1 L259.0,452.3 L260.5,454.5 L262.0,456.7 L263.5,458.8 L265.0,461.0 L266.5,463.1 L268.0,465.2 L269.5,467.4 L271.0,469.5 L272.5,471.6 L274.0,473.7 L275.5,475.8 L277.0,477.9 L278.5,479.9 L280.0,482.0 L281.5,484.1 L283.0,486.1 L284.5,488.2 L286.0,490.3 L287.5,492.3 L289.0,494.4 L290.5,496.4 L292.0,498.5 L293.5,500.5 L295.0,502.6 L296.5,504.6 L298.0,506.7 L299.5,508.7 L301.0,510.8 L302.5,512.8 L304.0,514.9 L305.5,516.9 L307.0,519.0 L308.5,521.1 L310.0,523.2 L311.5,525.3 L313.0,527.4 L314.5,529.5 L316.0,531.6 L317.5,533.7 L319.0,535.8 L320.5,537.9 L322.0,540.1 L323.5,542.2 L325.0,544.4 L326.5,546.6 L328.0,548.7 L329.5,550.9 L331.0,553.1 L332.5,555.3 L334.0,557.6 L335.5,559.8 L337.0,562.0 L338.5,564.3 L340.0,566.5 L341.5,568.8 L343.0,571.1 L344.5,573.4 L346.0,575.7 L347.5,578.0 L349.0,580.4 L350.5,582.7 L352.0,585.1 L353.5,587.4 L355.0,589.8 L356.5,592.2 L358.0,594.6 L359.5,597.1 L361.0,599.5 L362.5,602.0 L364.0,604.4 L365.5,606.9 L367.0,609.4 L368.5,611.9 L370.0,614.5 L371.5,617.0 L373.0,619.6 L374.5,622.2 L376.0,624.7 L377.5,627.4 L379.0,630.0 L380.5,632.6 L382.0,635.3 L383.5,638.0 L385.0,640.7 L386.5,643.4 L388.0,646.1 L389.5,648.9 L391.0,651.6 L392.5,654.4 L394.0,657.2 L395.5,660.1 L397.0,662.9 L398.5,665.8 L400.0,668.6 L401.5,671.6 L403.0,674.5 L404.5,677.4 L406.0,680.4 L407.5,683.4 L409.0,686.4 L410.5,689.4 L412.0,692.4 L413.5,695.4 L415.0,698.5 L416.5,701.6 L418.0,704.7 L419.5,707.8 L421.0,710.9 L422.5,714.1 L424.0,717.3 L425.5,720.4 L427.0,723.6 L428.5,726.8 L430.0,730.1 L431.5,733.3 L433.0,736.6 L434.5,739.8 L436.0,743.1 L437.5,746.4 L439.0,749.7 L440.5,753.0 L442.0,756.4 L443.5,759.7 L445.0,763.1 L446.5,766.4 L448.0,769.8 L449.5,773.2 L451.0,776.6 L452.5,780.0 L454.0,783.4 L455.5,786.9 L457.0,790.3 L458.5,793.8 L460.0,797.2 L461.5,800.7 L463.0,804.2 L464.5,807.7 L466.0,811.2 L467.5,814.7 L469.0,818.2 L470.5,821.7 L472.0,825.3 L473.5,828.8 L475.0,832.4 L476.5,835.9 L478.0,839.5 L479.5,843.0 L481.0,846.6 L482.5,850.2 L484.0,853.8 L485.5,857.4 L487.0,860.9 L488.5,864.5 L490.0,868.1 L491.5,871.7 L493.0,875.4 L494.5,879.0 L496.0,882.6 L497.5,886.2 L499.0,889.8 L500.5,893.4 L502.0,897.1 L503.5,900.7 L505.0,904.3 L506.5,908.0 L508.0,911.6 L509.5,915.2 L511.0,918.8 L512.5,922.3 L514.0,925.9 L515.5,929.4 L517.0,932.9 L518.5,936.3 L520.0,939.6 L521.5,943.0 L523.0,946.2 L524.5,949.4 L526.0,952.5 L527.5,955.5 L529.0,958.5 L530.5,961.4 L532.0,964.3 L533.5,967.2 L535.0,970.2 L536.5,973.3 L538.0,976.4 L539.5,979.6 L541.0,982.8 L542.5,986.1 L544.0,989.4 L545.5,992.7 L547.0,996.0 L548.5,999.3 L550.0,1002.6 L551.5,1005.9 L553.0,1009.2 L554.5,1012.5 L556.0,1015.7 L557.5,1018.9 L559.0,1022.0 L560.5,1025.0 L562.0,1028.0 L563.5,1030.9 L564.5,1032.9"/>
<path stroke="#7E2F8E" stroke-width="2.5" stroke-linejoin="miter" stroke-miterlimit="3" d="M564.5,1032.9 L565.2,1032.9 L565.8,1035.8 L566.5,1035.7 L567.1,1037.4 L567.7,1037.7 L568.2,1020.1 L568.8,1020.5 L569.3,1032.9 L569.9,1035.3 L570.5,1033.9 L571.1,1035.5 L571.6,1035.6 L572.2,1037.9 L572.8,1036.8 L573.3,1037.7 L573.9,1040.8 L574.5,1039.7 L575.1,1043.4 L575.6,1042.7 L576.2,1046.8 L576.8,1046.4 L577.3,1048.9 L577.9,1050.1 L578.5,1048.6 L579.1,1050.4 L579.7,1049.9 L580.3,1052.2 L580.9,1050.9 L581.5,1054.2 L582.1,1052.1 L582.7,1052.7 L583.3,1057.1 L584.0,1055.2 L584.6,1058.0 L585.2,1058.0 L585.8,1061.1 L586.4,1061.5 L587.0,1063.3 L587.5,1063.0 L588.1,1062.5 L588.7,1064.7 L589.2,1063.0 L589.8,1067.2 L590.4,1065.2 L591.0,1066.5 L591.4,1034.5 L592.0,1045.9 L592.6,1052.1 L593.1,1053.0 L593.7,1056.1 L594.3,1055.9 L594.8,1057.9 L595.4,1057.8 L596.0,1061.5 L596.6,1061.7 L597.2,1062.8 L597.8,1065.3 L598.4,1064.6 L599.0,1067.7 L599.6,1067.1 L600.2,1069.1 L600.8,1068.9 L601.4,1071.3 L602.0,1072.7 L602.6,1071.5 L603.2,1073.7 L603.8,1071.1 L604.4,1074.6 L605.0,1073.2 L605.6,1074.0 L606.2,1074.5 L606.8,1073.0 L607.4,1075.5 L608.0,1073.3 L608.6,1075.6 L609.2,1074.0 L609.8,1076.3 L610.4,1074.5 L611.0,1076.1 L611.6,1061.6 L612.3,1036.9 L612.8,1043.0 L613.4,1060.1 L613.9,1063.6 L614.5,1062.9 L615.1,1066.2 L615.7,1066.0 L616.2,1070.7 L616.8,1070.9 L617.4,1072.9 L618.0,1074.2 L618.6,1073.6 L619.2,1078.0 L619.8,1077.4 L620.4,1079.7 L621.0,1079.1 L621.6,1081.7 L622.2,1082.5 L622.8,1082.0 L623.3,1083.4 L623.9,1082.1 L624.5,1085.1 L625.1,1082.2 L625.7,1083.5 L626.3,1081.7 L626.8,1082.5 L627.4,1080.4 L628.0,1083.2 L628.6,1082.5 L629.2,1081.7 L629.8,1084.6 L630.4,1082.9 L631.0,1084.6 L631.6,1083.0 L632.2,1086.9 L632.8,1085.2 L633.4,1087.3 L634.0,1089.4 L634.6,1087.9 L635.2,1091.1 L635.8,1089.8 L636.4,1091.5 L637.0,1090.1 L637.6,1092.6 L638.2,1092.1 L638.8,1092.1 L639.4,1094.3 L640.0,1091.2 L640.6,1092.6 L641.2,1091.2 L641.8,1092.7 L642.4,1091.0 L643.0,1092.1 L643.5,1094.2 L644.1,1093.2 L644.6,1095.3 L645.1,1092.0 L645.7,1086.3 L646.2,1084.1 L646.8,1087.0 L647.4,1086.6 L648.0,1090.8 L648.6,1092.1 L649.2,1092.7 L649.8,1093.8 L650.5,1092.3 L651.1,1093.5 L651.7,1091.7 L652.3,1094.0 L653.0,1092.1 L653.6,1096.7 L654.2,1095.3 L654.8,1095.3 L655.4,1097.0 L656.1,1095.5 L656.7,1097.7 L657.3,1095.7 L657.9,1098.0 L658.5,1097.6 L659.1,1098.8 L659.7,1098.4 L660.4,1100.0 L661.0,1098.2 L661.6,1100.9 L662.2,1100.9 L662.8,1100.0 L663.4,1102.9 L664.0,1101.8 L664.6,1103.4 L665.2,1100.8 L665.8,1103.6 L666.4,1101.2 L667.0,1103.3 L667.6,1102.1 L668.2,1098.4 L668.7,1098.3 L669.3,1094.1 L669.9,1092.1 L670.5,1096.2 L671.2,1097.9 L671.8,1101.7 L672.4,1101.6 L673.0,1099.3 L673.6,1099.8 L674.2,1095.7 L674.8,1098.5 L675.4,1094.6 L676.0,1095.5 L676.6,1093.7 L677.3,1094.4 L677.9,1098.7 L678.5,1097.9 L679.2,1102.4 L679.8,1103.3 L680.5,1100.2 L681.1,1101.2 L681.7,1099.5 L682.4,1099.3 L683.0,1096.9 L683.7,1096.3 L684.3,1099.1 L684.9,1098.7 L685.6,1102.2 L686.2,1101.7 L686.8,1100.8 L687.4,1102.6 L688.0,1100.4 L688.5,1101.9 L689.1,1100.1 L690.0,1100.1 L690.6,1099.6 L691.2,1100.9 L691.7,1098.7 L692.3,1100.5 L692.9,1098.5 L693.5,1099.3 L694.1,1098.2 L694.7,1100.3 L695.2,1097.7 L695.8,1101.0 L696.4,1098.5 L697.0,1099.7 L697.6,1102.4 L698.2,1102.3 L698.8,1104.9 L699.4,1065.2 L699.9,1023.3 L700.6,1041.8 L701.3,1064.6 L702.0,1084.1 L702.6,1086.2 L703.2,1089.3 L703.8,1091.0 L704.4,1093.7 L704.9,1091.9 L705.5,1086.5 L706.0,1084.1 L706.7,1088.5 L707.3,1088.4 L707.9,1093.3 L708.6,1095.7 L709.2,1099.3 L709.9,1093.6 L710.6,1078.8 L711.3,1072.9 L711.9,1080.2 L712.6,1084.2 L713.2,1090.5 L713.8,1092.5 L714.4,1091.8 L714.9,1094.3 L715.5,1091.2 L716.1,1094.7 L716.6,1093.5 L717.2,1095.3 L717.8,1096.3 L718.4,1096.0 L719.0,1099.2 L719.6,1098.7 L720.2,1100.9 L720.8,1100.0 L721.4,1102.7 L722.0,1103.3 L722.6,1102.9 L723.2,1105.6 L723.8,1104.7 L724.4,1106.9 L725.0,1107.0 L725.6,1108.2 L726.2,1108.1 L726.8,1110.3 L727.4,1109.5 L728.0,1111.5 L728.6,1109.7 L729.2,1112.1 L729.8,1101.5 L730.4,1084.1 L731.0,1086.1 L731.7,1096.3 L732.4,1100.1 L733.0,1097.5 L733.6,1100.6 L734.1,1098.1 L734.7,1099.6 L735.3,1098.3 L735.9,1099.0 L736.4,1098.5 L737.1,1097.4 L737.7,1100.4 L738.4,1098.7 L739.0,1100.6 L739.6,1100.1 L740.3,1099.6 L740.9,1102.8 L741.6,1103.8 L742.2,1106.3 L742.8,1106.5 L743.4,1107.1 L744.0,1107.6 L744.6,1105.7 L745.2,1107.6 L745.8,1104.9 L746.4,1106.9 L747.0,1105.3 L747.6,1106.5 L748.2,1106.6 L748.8,1104.7 L749.4,1106.4 L750.0,1103.8 L750.6,1105.4 L751.1,1102.7 L751.7,1104.2 L752.3,1101.7 L752.9,1103.8 L753.5,1101.9 L754.0,1101.7 L754.7,1102.1 L755.3,1099.1 L755.9,1101.2 L756.5,1099.0 L757.1,1101.4 L757.7,1099.9 L758.3,1101.6 L758.9,1100.1 L759.5,1099.2 L760.1,1103.0 L760.8,1103.4 L761.4,1105.2 L762.1,1104.9 L762.7,1103.7 L763.3,1104.2 L764.0,1100.0 L764.6,1101.3 L765.3,1100.1 L765.9,1100.0 L766.5,1102.1 L767.1,1101.5 L767.7,1104.0 L768.3,1103.1 L768.9,1106.8 L769.5,1104.5 L770.1,1106.5 L770.6,1108.3 L771.2,1107.0 L771.8,1109.0 L772.4,1107.9 L773.0,1108.7 L773.6,1107.9 L774.1,1109.9 L774.7,1109.1 L775.3,1110.8 L775.9,1109.1 L776.5,1111.3 L777.1,1111.2 L777.7,1107.0 L778.4,1106.8 L779.0,1103.4 L779.7,1103.3 L780.3,1105.5 L780.8,1104.7 L781.4,1105.6 L782.0,1104.3 L782.6,1107.1 L783.2,1105.9 L783.7,1108.2 L784.3,1108.8 L784.9,1109.9 L785.5,1110.1 L786.1,1109.7 L786.7,1111.6 L787.2,1109.3 L787.8,1109.6 L788.4,1108.4 L789.0,1109.0 L789.6,1107.4 L790.2,1108.4 L790.7,1106.3 L791.3,1107.3 L791.9,1105.6 L792.5,1106.5 L793.1,1104.4 L793.7,1100.3 L794.2,1098.1 L794.8,1094.7 L795.4,1092.7 L796.0,1088.9 L796.7,1091.8 L797.4,1100.8 L798.1,1104.9 L798.7,1102.7 L799.3,1103.4 L799.9,1100.0 L800.5,1100.1 L801.1,1102.7 L801.7,1101.3 L802.3,1103.4 L802.9,1102.9 L803.5,1106.3 L804.1,1104.5 L804.7,1108.4 L805.3,1108.1 L805.9,1103.2 L806.4,1100.3 L807.0,1092.4 L807.6,1093.3 L808.1,1086.8 L808.7,1085.1 L809.3,1080.1 L809.9,1083.9 L810.5,1093.5 L811.1,1094.8 L811.7,1100.1 L812.3,1099.8 L812.9,1099.3 L813.5,1100.2 L814.1,1098.8 L814.7,1100.6 L815.3,1098.5 L815.9,1102.2 L816.5,1100.1 L817.1,1099.9 L817.7,1103.8 L818.3,1101.7 L818.9,1103.8 L819.5,1101.3 L820.1,1106.0 L820.7,1103.1 L821.3,1106.5 L821.9,1105.5 L822.5,1104.7 L823.1,1106.2 L823.7,1103.1 L824.3,1105.7 L824.9,1103.2 L825.5,1105.9 L826.1,1104.9 L826.7,1104.3 L827.3,1105.5 L827.9,1103.8 L828.5,1105.0 L829.1,1102.5 L829.7,1103.8 L830.3,1099.6 L830.9,1100.1 L831.5,1095.3 L832.1,1087.9 L832.7,1083.9 L833.3,1077.7 L834.0,1064.9 L834.6,1056.1 L835.2,1069.0 L835.9,1079.0 L836.5,1090.5 L837.1,1091.6 L837.7,1089.8 L838.2,1092.3 L838.8,1091.1 L839.4,1093.2 L839.9,1092.2 L840.5,1095.3 L841.1,1096.4 L841.7,1095.9 L842.3,1097.5 L842.9,1095.6 L843.5,1098.5 L844.1,1096.9 L844.7,1099.5 L845.3,1098.5 L845.9,1097.9 L846.5,1100.8 L847.1,1098.2 L847.7,1101.6 L848.3,1101.3 L848.9,1103.5 L849.5,1102.1 L850.1,1103.3 L850.7,1100.3 L851.2,1095.2 L851.7,1092.9 L852.3,1097.0 L852.8,1098.5 L853.3,1101.7 L853.9,1103.9 L854.6,1101.4 L855.2,1103.8 L855.8,1103.0 L856.4,1104.0 L857.0,1102.7 L857.6,1105.5 L858.3,1104.4 L858.9,1106.6 L859.5,1105.3 L860.1,1106.4 L860.7,1104.3 L861.3,1106.5 L861.9,1106.2 L862.5,1103.4 L863.1,1105.7 L863.7,1103.0 L864.3,1104.1 L864.9,1101.5 L865.5,1103.5 L866.1,1101.7 L866.7,1100.9 L867.3,1103.6 L867.9,1100.5 L868.5,1104.1 L869.0,1100.9 L869.6,1103.8 L870.2,1102.6 L870.8,1104.3 L871.4,1103.3 L872.0,1105.1 L872.5,1104.9 L873.1,1103.4 L873.7,1104.8 L874.3,1102.4 L874.8,1103.4 L875.4,1100.9 L876.0,1102.2 L876.5,1100.1 L877.3,1064.9 L877.9,1070.1 L878.4,1081.1 L878.9,1087.3 L879.5,1087.2 L880.1,1090.6 L880.7,1089.5 L881.3,1092.8 L881.9,1092.2 L882.5,1095.6 L883.1,1095.0 L883.8,1096.9 L884.4,1098.8 L885.0,1097.3 L885.6,1100.6 L886.2,1099.6 L886.8,1101.9 L887.4,1101.3 L888.0,1103.3 L888.6,1103.3 L889.2,1103.3 L889.8,1105.5 L890.4,1102.6 L891.0,1105.3 L891.6,1103.4 L892.2,1106.2 L892.9,1104.7 L893.5,1105.3 L894.1,1103.9 L894.7,1105.8 L895.3,1103.8 L895.9,1106.5 L896.6,1104.9 L897.2,1103.6 L897.8,1103.3 L898.5,1100.3 L899.1,1100.6 L899.8,1098.5 L900.4,1098.9 L901.0,1101.4 L901.7,1101.1 L902.3,1105.1 L903.0,1104.9 L903.6,1103.6 L904.2,1104.2 L904.8,1101.4 L905.4,1104.5 L906.0,1101.3 L906.6,1104.4 L907.2,1103.0 L907.8,1101.7 L908.4,1103.5 L909.0,1102.4 L909.6,1104.7 L910.2,1104.0 L910.8,1106.4 L911.4,1105.9 L912.0,1107.0 L912.6,1108.1 L913.2,1105.5 L913.9,1105.9 L914.5,1102.7 L915.1,1103.4 L915.8,1100.1 L916.4,1101.1 L917.0,1102.2 L917.6,1101.5 L918.2,1105.0 L918.8,1102.7 L919.4,1104.0 L920.0,1104.0 L920.6,1104.9 L921.2,1103.4 L921.8,1099.4 L922.4,1097.8 L923.0,1095.3 L923.6,1094.7 L924.1,1098.6 L924.7,1098.1 L925.3,1101.7 L925.8,1100.2 L926.4,1102.3 L927.0,1103.3 L927.6,1103.6 L928.1,1105.8 L928.7,1104.5 L929.3,1105.3 L929.9,1104.6 L930.5,1106.5 L931.1,1104.6 L931.6,1107.1 L932.2,1107.3 L932.8,1109.5 L933.4,1108.1 L934.0,1107.7 L934.6,1109.5 L935.2,1106.2 L935.8,1106.9 L936.4,1103.0 L937.0,1103.7 L937.6,1101.8 L938.2,1103.3 L938.8,1103.7 L939.3,1100.9 L939.9,1101.4 L940.5,1098.5 L941.1,1098.3 L941.6,1095.9 L942.2,1096.1 L942.8,1098.2 L943.4,1097.8 L944.0,1099.9 L944.6,1100.1 L945.2,1097.9 L945.8,1099.5 L946.4,1096.3 L947.0,1096.1 L947.6,1098.2 L948.1,1097.3 L948.7,1099.7 L949.3,1098.5 L949.9,1100.9 L950.4,1100.3 L951.0,1101.7 L951.6,1103.0 L952.2,1102.1 L952.7,1104.5 L953.3,1102.6 L953.9,1104.6 L954.5,1103.5 L955.1,1105.3 L955.7,1104.4 L956.2,1106.8 L956.8,1104.2 L957.4,1104.9 L958.0,1106.1 L958.6,1104.3 L959.2,1106.0 L959.8,1105.9 L960.4,1107.8 L961.0,1106.2 L961.6,1107.3 L962.2,1108.1 L962.9,1106.0 L963.5,1106.7 L964.1,1102.7 L964.8,1102.8 L965.4,1100.9 L966.0,1100.8 L966.6,1102.1 L967.2,1101.5 L967.7,1102.5 L968.3,1101.5 L968.9,1104.3 L969.5,1102.2 L970.1,1103.1 L970.7,1101.9 L971.2,1102.9 L971.8,1103.3 L972.4,1100.2 L973.0,1102.4 L973.6,1099.5 L974.2,1101.7 L974.8,1099.9 L975.4,1101.3 L976.0,1098.6 L976.6,1100.1 L977.2,1101.8 L977.8,1100.2 L978.4,1102.9 L979.0,1101.8 L979.6,1103.9 L980.2,1104.1 L980.8,1106.1 L981.4,1106.5 L982.0,1106.9 L982.6,1108.1 L983.2,1106.1 L983.8,1108.6 L984.4,1107.6 L985.0,1110.3 L985.6,1107.4 L986.2,1108.1 L986.8,1109.2 L987.4,1107.0 L988.0,1109.6 L988.6,1108.5 L989.2,1110.5 L989.8,1109.2 L990.4,1112.6 L991.0,1112.9 L991.7,1111.4 L992.3,1111.6 L993.0,1109.7 L993.6,1110.0 L994.2,1108.1 L994.8,1108.3 L995.4,1112.4 L996.0,1111.3 L996.6,1112.9 L997.2,1112.4 L997.8,1109.3 L998.4,1108.4 L999.0,1106.5 L999.5,1106.7 L1000.0,1108.1 L1000.6,1108.9 L1001.2,1107.8 L1001.8,1108.9 L1002.4,1107.2 L1003.0,1107.4 L1003.6,1106.9 L1004.2,1107.6 L1004.8,1106.5 L1005.4,1106.7 L1006.0,1108.0 L1006.6,1107.1 L1007.2,1109.8 L1007.8,1108.5 L1008.4,1111.1 L1009.0,1111.0 L1009.6,1112.1 L1010.2,1111.0 L1010.9,1108.3 L1011.5,1108.2 L1012.2,1105.2 L1012.8,1104.9 L1013.4,1106.3 L1014.0,1104.0 L1014.6,1106.8 L1015.2,1105.2 L1015.8,1107.1 L1016.4,1105.4 L1017.0,1107.7 L1017.6,1106.5 L1018.2,1104.8 L1018.8,1107.2 L1019.3,1105.2 L1019.9,1107.6 L1020.5,1106.6 L1021.0,1109.4 L1021.6,1108.1 L1022.3,1105.5 L1022.9,1105.8 L1023.5,1102.0 L1024.2,1102.7 L1024.8,1099.3 L1025.5,1100.1 L1026.1,1103.0 L1026.7,1101.9 L1027.4,1104.6 L1028.0,1104.9 L1028.6,1105.1 L1029.2,1106.1 L1029.7,1104.0 L1030.3,1106.5 L1030.9,1104.3 L1031.5,1105.4 L1032.0,1103.3 L1032.7,1103.0 L1033.3,1104.8 L1033.9,1103.9 L1034.6,1106.3 L1035.2,1107.3 L1035.9,1088.4 L1036.5,1076.1 L1037.1,1079.0 L1037.6,1079.7 L1038.1,1084.2 L1038.7,1085.9 L1039.2,1088.9 L1039.9,1091.5 L1040.5,1090.1 L1041.2,1092.4 L1041.8,1091.2 L1042.4,1093.7 L1043.0,1095.5 L1043.6,1095.0 L1044.1,1097.5 L1044.7,1097.5 L1045.3,1099.7 L1045.9,1100.6 L1046.4,1101.7 L1047.0,1103.0 L1047.6,1100.2 L1048.2,1101.6 L1048.8,1100.4 L1049.4,1102.0 L1050.0,1100.5 L1050.6,1100.7 L1051.2,1100.1 L1051.8,1100.0 L1052.4,1103.5 L1053.0,1103.9 L1053.6,1106.5 L1054.2,1106.1 L1054.8,1103.8 L1055.4,1105.1 L1055.9,1102.0 L1056.5,1103.0 L1057.1,1100.6 L1057.6,1100.1 L1058.3,1100.7 L1058.9,1097.9 L1059.5,1100.2 L1060.1,1098.7 L1060.8,1100.7 L1061.4,1098.7 L1062.0,1099.9 L1062.6,1097.6 L1063.2,1099.3 L1063.9,1102.4 L1064.5,1101.0 L1065.1,1102.9 L1065.7,1102.4 L1066.4,1105.9 L1067.0,1105.4 L1067.6,1108.0 L1068.2,1107.3 L1068.9,1109.7 L1069.5,1108.8 L1070.1,1105.6 L1070.8,1105.7 L1071.4,1101.6 L1072.1,1101.7 L1072.7,1103.7 L1073.3,1100.9 L1073.9,1101.5 L1074.5,1100.5 L1075.1,1101.6 L1075.7,1100.9 L1076.3,1101.3 L1076.9,1100.9 L1077.4,1100.4 L1078.0,1102.2 L1078.6,1101.4 L1079.2,1104.5 L1079.8,1102.6 L1080.4,1105.2 L1080.9,1104.4 L1081.5,1105.9 L1082.1,1104.9 L1082.7,1107.8 L1083.3,1108.1 L1083.9,1105.8 L1084.5,1107.0 L1085.1,1104.3 L1085.7,1105.3 L1086.3,1103.0 L1086.9,1103.2 L1087.5,1100.0 L1088.1,1100.1 L1088.7,1101.1 L1089.3,1100.8 L1089.9,1104.7 L1090.5,1102.1 L1091.1,1107.4 L1091.7,1104.9 L1092.3,1107.6 L1092.9,1108.1 L1093.5,1108.2 L1094.0,1109.1 L1094.6,1106.7 L1095.2,1108.7 L1095.8,1105.9 L1096.4,1107.8 L1096.9,1104.5 L1097.5,1106.1 L1098.1,1105.1 L1098.7,1107.0 L1099.3,1104.9 L1099.9,1103.7 L1100.5,1106.1 L1101.1,1105.5 L1101.7,1106.9 L1102.3,1105.6 L1102.9,1107.8 L1103.5,1106.8 L1104.1,1108.1 L1104.7,1108.3 L1105.3,1106.3 L1105.9,1107.5 L1106.5,1104.6 L1107.1,1107.4 L1107.7,1104.0 L1108.3,1106.1 L1108.9,1104.1 L1109.5,1102.3 L1110.1,1104.7 L1110.8,1104.3 L1111.4,1106.0 L1112.0,1105.6 L1112.6,1107.4 L1113.2,1105.9 L1113.9,1109.1 L1114.5,1109.7 L1115.1,1107.3 L1115.8,1107.0 L1116.4,1103.8 L1117.1,1102.6 L1117.7,1100.1 L1118.3,1098.0 L1118.9,1100.0 L1119.5,1097.6 L1120.1,1098.6 L1120.8,1095.9 L1121.4,1096.9 L1121.9,1099.7 L1122.5,1099.6 L1123.0,1103.5 L1123.6,1102.9 L1124.1,1106.5 L1124.7,1105.4 L1125.3,1102.2 L1125.9,1102.9 L1126.5,1100.1 L1127.1,1098.8 L1127.7,1102.0 L1128.2,1099.8 L1128.8,1103.8 L1129.4,1102.3 L1130.0,1103.4 L1130.6,1101.9 L1131.2,1104.4 L1131.7,1103.1 L1132.3,1106.2 L1132.9,1104.9 L1133.5,1104.7 L1134.1,1107.5 L1134.6,1105.2 L1135.2,1106.5 L1135.8,1105.3 L1136.4,1106.1 L1137.0,1104.8 L1137.6,1105.6 L1138.1,1104.9 L1138.7,1107.0 L1139.3,1104.9 L1139.9,1101.7 L1140.6,1103.1 L1141.2,1100.2 L1141.9,1100.1 L1142.5,1097.7 L1143.2,1097.7 L1143.8,1101.4 L1144.4,1100.8 L1145.1,1105.0 L1145.7,1104.9 L1146.3,1103.8 L1146.9,1104.8 L1147.5,1104.3 L1148.0,1106.4 L1148.6,1104.0 L1149.2,1107.1 L1149.8,1104.8 L1150.4,1107.5 L1151.0,1106.5 L1151.5,1108.9 L1152.1,1108.1 L1152.8,1107.2 L1153.4,1109.2 L1154.0,1107.3 L1154.7,1109.6 L1155.3,1108.9 L1156.0,1097.8 L1156.6,1091.3 L1157.2,1094.1 L1157.8,1094.2 L1158.4,1098.7 L1158.9,1098.2 L1159.5,1101.8 L1160.1,1103.3 L1160.7,1102.1 L1161.3,1104.0 L1161.9,1102.8 L1162.5,1105.4 L1163.0,1105.0 L1163.6,1108.0 L1164.2,1106.4 L1164.8,1108.3 L1165.4,1107.9 L1165.9,1109.4 L1166.5,1108.1 L1167.2,1107.7 L1167.8,1108.7 L1168.4,1107.0 L1169.0,1107.8 L1169.6,1106.1 L1170.3,1107.7 L1170.9,1104.6 L1171.5,1105.3 L1172.1,1104.9 L1172.8,1104.3 L1173.4,1108.0 L1174.1,1106.9 L1174.7,1110.8 L1175.3,1109.7 L1176.0,1108.0 L1176.6,1110.0 L1177.2,1107.6 L1177.8,1108.8 L1178.4,1106.0 L1179.1,1108.0 L1179.7,1105.6 L1180.3,1107.5 L1180.9,1106.5 L1181.5,1105.2 L1182.1,1107.3 L1182.7,1104.3 L1183.3,1105.3 L1183.9,1101.7 L1184.4,1104.0 L1185.0,1102.4 L1185.6,1103.6 L1186.2,1101.6 L1186.8,1102.6 L1187.3,1101.7 L1187.9,1100.7 L1188.5,1105.1 L1189.1,1102.6 L1189.7,1104.6 L1190.3,1101.4 L1190.9,1104.0 L1191.5,1102.6 L1192.1,1103.3 L1192.7,1102.4 L1193.3,1100.9 L1194.0,1102.0 L1194.6,1100.0 L1195.2,1101.6 L1195.8,1100.1 L1196.4,1102.1 L1197.0,1100.1 L1197.6,1100.1 L1198.2,1102.1 L1198.8,1100.5 L1199.4,1101.9 L1200.0,1101.1 L1200.6,1103.6 L1201.2,1102.2 L1201.8,1101.7 L1202.3,1104.2 L1202.9,1100.6 L1203.5,1101.9 L1204.1,1099.8 L1204.7,1101.6 L1205.2,1099.4 L1205.8,1100.6 L1206.4,1100.1 L1207.0,1101.2 L1207.6,1099.4 L1208.2,1100.1 L1208.8,1099.7 L1209.4,1097.7 L1210.0,1099.8 L1210.6,1097.4 L1211.2,1098.5 L1211.8,1097.4 L1212.4,1098.2 L1213.0,1096.9 L1213.6,1096.2 L1214.2,1099.2 L1214.9,1096.3 L1215.5,1097.3 L1216.2,1096.1 L1216.6,1088.9 L1217.4,1096.9 L1218.0,1096.4 L1218.6,1099.4 L1219.2,1098.3 L1219.7,1100.6 L1220.3,1099.9 L1220.9,1102.7 L1221.4,1102.5 L1222.0,1105.2 L1222.6,1104.9 L1223.2,1102.9 L1223.8,1104.0 L1224.4,1103.3 L1225.0,1104.8 L1225.6,1103.1 L1226.2,1104.9 L1226.8,1102.0 L1227.4,1101.7 L1227.9,1102.1 L1228.5,1099.1 L1229.1,1099.3 L1229.7,1097.8 L1230.2,1098.7 L1230.8,1096.1 L1231.4,1096.1 L1232.0,1097.8 L1232.5,1097.0 L1233.1,1099.6 L1233.7,1098.8 L1234.2,1101.9 L1234.8,1101.8 L1235.4,1103.3 L1236.0,1105.0 L1236.6,1103.6 L1237.2,1108.4 L1237.8,1105.2 L1238.4,1108.4 L1239.0,1107.8 L1239.6,1111.5 L1240.2,1109.7 L1240.8,1108.7 L1241.4,1109.6 L1242.0,1106.7 L1242.6,1107.6 L1243.2,1105.0 L1243.8,1105.5 L1244.4,1102.8 L1245.0,1103.3 L1245.6,1102.7 L1246.2,1102.4 L1246.7,1103.0 L1247.3,1101.8 L1247.9,1102.6 L1248.5,1100.9 L1249.1,1103.7 L1249.6,1101.3 L1250.2,1101.8 L1250.8,1099.6 L1251.4,1100.1 L1252.0,1102.2 L1252.6,1099.9 L1253.2,1102.3 L1253.8,1101.1 L1254.4,1101.9 L1255.0,1100.8 L1255.6,1103.8 L1256.2,1103.3 L1256.8,1101.6 L1257.4,1102.3 L1258.0,1100.8 L1258.6,1102.4 L1259.2,1100.0 L1259.8,1102.4 L1260.4,1099.4 L1261.0,1098.5 L1261.6,1100.4 L1262.1,1099.9 L1262.7,1102.7 L1263.3,1103.5 L1263.9,1105.6 L1264.4,1105.8 L1265.0,1108.1 L1265.6,1107.9 L1266.1,1103.8 L1266.7,1105.2 L1267.3,1102.2 L1267.9,1103.4 L1268.4,1100.5 L1269.0,1100.1 L1269.6,1101.4 L1270.3,1098.0 L1270.9,1100.5 L1271.6,1098.0 L1272.2,1098.5 L1272.8,1044.0 L1273.3,984.8 L1274.0,1003.6 L1274.7,1030.5 L1275.4,1052.1 L1276.0,1057.9 L1276.6,1069.0 L1277.2,1071.7 L1277.8,1080.9 L1278.4,1083.2 L1279.0,1082.5 L1279.5,1085.2 L1280.1,1083.6 L1280.7,1088.5 L1281.2,1086.9 L1281.8,1088.9 L1282.4,1090.5 L1283.0,1088.8 L1283.6,1090.7 L1284.2,1089.5 L1284.8,1091.9 L1285.4,1090.1 L1286.0,1092.5 L1286.6,1092.1 L1287.3,1090.6 L1287.9,1092.6 L1288.5,1091.8 L1289.2,1094.3 L1289.8,1093.7 L1290.5,1094.6 L1291.1,1098.7 L1291.7,1098.5 L1292.4,1100.7 L1293.0,1101.7 L1293.6,1100.2 L1294.2,1102.9 L1294.8,1100.7 L1295.4,1103.8 L1296.0,1102.0 L1296.6,1103.3 L1297.2,1101.3 L1297.8,1101.7 L1298.4,1103.8 L1298.9,1102.9 L1299.5,1105.4 L1300.0,1104.7 L1300.6,1103.6 L1301.2,1104.7 L1301.8,1102.9 L1302.4,1104.4 L1303.0,1103.0 L1303.6,1103.8 L1304.2,1103.8 L1304.8,1103.1 L1305.4,1105.1 L1306.0,1104.2 L1306.7,1105.6 L1307.3,1104.3 L1307.9,1106.3 L1308.5,1103.8 L1309.2,1106.1 L1309.8,1105.6 L1310.4,1107.9 L1311.0,1107.9 L1311.7,1106.3 L1312.3,1106.9 L1312.9,1104.1 L1313.5,1105.2 L1314.1,1103.1 L1314.8,1105.1 L1315.4,1101.7 L1316.0,1103.1 L1316.6,1103.7 L1317.3,1102.5 L1317.9,1103.9 L1318.5,1100.3 L1319.1,1102.2 L1319.7,1100.9 L1320.4,1101.6 L1321.0,1099.7 L1321.6,1099.1 L1322.2,1100.6 L1322.9,1098.7 L1323.5,1100.6 L1324.1,1099.3 L1324.7,1100.1 L1325.4,1099.2 L1326.0,1102.1 L1326.6,1100.8 L1327.2,1101.5 L1327.8,1103.4 L1328.5,1102.4 L1329.1,1103.4 L1329.7,1102.9 L1330.3,1102.9 L1331.0,1101.4 L1331.6,1102.5 L1332.2,1100.9 L1332.8,1103.1 L1333.4,1102.2 L1334.1,1099.5 L1334.7,1101.0 L1335.3,1099.5 L1335.9,1100.5 L1336.6,1099.5 L1337.2,1100.9 L1337.8,1097.4 L1338.4,1097.5 L1339.0,1098.5 L1339.6,1098.0 L1340.2,1099.5 L1340.8,1098.4 L1341.4,1100.1 L1342.0,1099.7 L1342.6,1101.7 L1343.2,1101.5 L1343.8,1100.3 L1344.4,1101.0 L1345.0,1099.6 L1345.6,1100.0 L1346.2,1098.8 L1346.8,1100.3 L1347.4,1099.4 L1348.0,1099.9 L1348.6,1095.1 L1349.2,1087.9 L1349.9,1090.5 L1350.5,1094.1 L1351.2,1096.7 L1351.8,1096.0 L1352.4,1099.1 L1353.0,1097.4 L1353.5,1100.7 L1354.1,1100.5 L1354.7,1102.3 L1355.2,1101.5 L1355.8,1101.6 L1356.4,1102.2 L1357.0,1100.2 L1357.5,1101.7 L1358.1,1100.6 L1358.7,1101.2 L1359.2,1099.1 L1359.8,1099.4 L1360.4,1101.7 L1361.0,1101.6 L1361.6,1103.8 L1362.2,1104.0 L1362.8,1106.8 L1363.4,1106.3 L1364.0,1107.9 L1364.7,1108.8 L1365.3,1106.8 L1366.0,1108.3 L1366.6,1106.4 L1367.3,1105.5 L1367.9,1106.9 L1368.5,1104.0 L1369.1,1105.5 L1369.7,1103.4 L1370.3,1105.5 L1370.9,1103.0 L1371.5,1105.4 L1372.1,1103.1 L1372.7,1103.8 L1373.3,1105.7 L1374.0,1105.9 L1374.6,1108.2 L1375.3,1108.7 L1375.9,1106.8 L1376.5,1107.6 L1377.2,1103.5 L1377.8,1105.2 L1378.5,1103.1 L1379.1,1103.0 L1379.7,1105.5 L1380.4,1103.9 L1381.0,1107.0 L1381.7,1106.3 L1382.3,1093.5 L1382.9,1087.1 L1383.6,1092.2 L1384.2,1095.0 L1384.9,1101.5 L1385.5,1103.6 L1386.1,1101.5 L1386.8,1104.8 L1387.4,1104.5 L1388.1,1104.7 L1388.7,1107.2 L1389.3,1104.8 L1390.0,1108.6 L1390.6,1107.1 L1391.3,1109.5 L1391.8,1110.1 L1392.4,1108.0 L1393.0,1109.8 L1393.6,1107.2 L1394.1,1107.7 L1394.7,1105.9 L1395.3,1106.3 L1396.1,1069.5 L1396.7,1072.2 L1397.3,1070.6 L1397.9,1074.8 L1398.5,1074.3 L1399.0,1078.4 L1399.5,1084.0 L1400.1,1087.1 L1400.7,1088.0 L1401.3,1092.3 L1401.9,1093.2 L1402.5,1096.7 L1403.1,1098.2 L1403.8,1098.3 L1404.4,1100.8 L1405.0,1101.0 L1405.7,1103.1 L1406.3,1104.4 L1406.9,1103.0 L1407.5,1105.3 L1408.1,1103.3 L1408.7,1105.6 L1409.3,1103.7 L1409.9,1104.7 L1410.5,1104.7 L1411.1,1103.5 L1411.6,1106.0 L1412.2,1103.5 L1412.8,1106.4 L1413.3,1104.6 L1413.9,1107.3 L1414.5,1107.1 L1415.1,1105.1 L1415.8,1105.9 L1416.4,1102.3 L1417.1,1103.0 L1417.7,1101.5 L1418.3,1100.1 L1418.9,1102.9 L1419.5,1100.9 L1420.1,1099.9 L1420.6,1088.7 L1421.1,1097.8 L1421.7,1099.9 L1422.3,1098.6 L1422.9,1100.2 L1423.4,1098.8 L1424.0,1102.0 L1424.6,1099.0 L1425.2,1101.1 L1425.8,1098.6 L1426.4,1101.2 L1426.9,1097.8 L1427.5,1099.7 L1428.1,1099.9 L1428.7,1099.1 L1429.3,1100.7 L1429.9,1099.2 L1430.5,1102.1 L1431.1,1100.4 L1431.7,1101.9 L1432.3,1098.7 L1432.9,1101.5 L1433.5,1100.2 L1434.2,1098.9 L1434.8,1100.9 L1435.5,1098.9 L1436.1,1099.9 L1436.7,1094.9 L1437.3,1088.9 L1437.9,1085.7 L1438.5,1079.9 L1439.1,1083.1 L1439.7,1089.0 L1440.3,1089.6 L1440.9,1095.1 L1441.5,1097.2 L1442.2,1094.7 L1442.8,1097.4 L1443.5,1096.7 L1444.1,1098.3 L1444.7,1099.9 L1445.3,1099.6 L1445.9,1102.5 L1446.5,1103.1 L1447.0,1096.1 L1447.6,1095.6 L1448.1,1088.7 L1448.8,1088.1 L1449.4,1092.6 L1450.0,1092.2 L1450.7,1095.5 L1451.3,1096.7 L1451.9,1093.7 L1452.5,1097.0 L1453.0,1095.2 L1453.6,1097.8 L1454.2,1097.4 L1454.7,1099.6 L1455.3,1098.3 L1456.0,1096.4 L1456.6,1096.9 L1457.2,1093.7 L1457.9,1095.7 L1458.5,1095.1 L1459.1,1095.5 L1459.7,1097.8 L1460.3,1097.1 L1460.9,1100.7 L1461.5,1100.1 L1462.1,1102.9 L1462.7,1102.3 L1463.3,1104.7 L1463.9,1106.1 L1464.5,1102.6 L1465.1,1103.8 L1465.7,1102.1 L1466.3,1103.2 L1466.9,1100.9 L1467.5,1102.6 L1468.1,1101.5 L1468.7,1100.1 L1469.3,1100.6 L1469.8,1097.5 L1470.4,1100.1 L1471.0,1096.7 L1471.6,1099.2 L1472.1,1096.7 L1472.7,1096.0 L1473.3,1098.7 L1473.8,1097.1 L1474.4,1100.1 L1475.0,1099.3 L1475.6,1101.6 L1476.1,1101.5 L1476.7,1102.0 L1477.3,1102.9 L1477.9,1102.0 L1478.5,1103.6 L1479.1,1102.0 L1479.7,1104.0 L1480.3,1102.0 L1480.9,1103.1 L1481.5,1104.0 L1482.1,1103.4 L1482.7,1106.9 L1483.3,1103.8 L1483.9,1108.8 L1484.5,1106.4 L1485.1,1109.6 L1485.7,1109.5 L1486.3,1108.4 L1486.9,1109.3 L1487.5,1107.2 L1488.1,1108.9 L1488.7,1106.2 L1489.3,1108.8 L1489.9,1106.6 L1490.5,1106.3 L1491.1,1106.3 L1491.7,1104.6 L1492.3,1104.8 L1492.9,1104.0 L1493.5,1104.8 L1494.2,1104.0 L1494.8,1105.4 L1495.4,1103.1 L1496.0,1101.6 L1496.6,1101.7 L1497.3,1098.3 L1497.9,1098.0 L1498.6,1095.9 L1499.2,1094.6 L1499.8,1097.7 L1500.5,1097.1 L1501.1,1099.6 L1501.8,1099.9 L1502.4,1098.5 L1503.0,1098.8 L1503.7,1096.6 L1504.3,1097.0 L1505.0,1095.1 L1505.6,1094.9 L1506.2,1097.4 L1506.8,1094.6 L1507.4,1098.0 L1508.0,1096.9 L1508.6,1098.2 L1509.2,1097.7 L1509.8,1098.3 L1510.3,1099.5 L1510.9,1097.9 L1511.5,1100.5 L1512.1,1097.9 L1512.7,1100.5 L1513.3,1098.4 L1513.8,1100.7 L1514.4,1100.2 L1515.0,1100.8 L1515.6,1099.9 L1516.2,1099.9 L1516.8,1101.4 L1517.4,1100.6 L1518.0,1102.5 L1518.6,1101.2 L1519.2,1102.8 L1519.8,1101.8 L1520.4,1103.4 L1521.0,1102.3 L1521.7,1094.3 L1522.4,1090.1 L1523.1,1080.7 L1523.7,1084.4 L1524.3,1095.1 L1525.0,1099.9 L1525.6,1099.4 L1526.2,1102.8 L1526.8,1102.8 L1527.5,1104.5 L1528.1,1103.3 L1528.7,1105.1 L1529.3,1102.9 L1530.0,1104.4 L1530.6,1105.5 L1531.2,1103.0 L1531.9,1103.6 L1532.5,1100.6 L1533.1,1101.3 L1533.8,1099.1 L1534.4,1099.9 L1535.0,1102.1 L1535.6,1100.6 L1536.2,1103.7 L1536.8,1102.5 L1537.4,1105.9 L1538.0,1104.8 L1538.6,1106.3 L1539.2,1106.4 L1539.8,1103.4 L1540.4,1104.9 L1541.0,1102.7 L1541.6,1103.7 L1542.2,1102.0 L1542.8,1103.7 L1543.4,1102.3 L1544.0,1101.4 L1544.6,1102.8 L1545.2,1102.5 L1545.8,1103.6 L1546.4,1103.1 L1547.0,1105.0 L1547.6,1104.4 L1548.2,1106.3 L1548.8,1107.6 L1549.4,1105.6 L1550.0,1106.5 L1550.6,1105.0 L1551.2,1105.4 L1551.8,1103.8 L1552.4,1104.3 L1553.0,1103.1 L1553.6,1100.9 L1554.2,1104.5 L1554.8,1101.9 L1555.4,1104.2 L1556.0,1100.5 L1556.6,1102.6 L1557.2,1100.2 L1557.8,1099.9 L1558.3,1099.0 L1558.9,1096.4 L1559.4,1096.3 L1560.0,1093.5 L1560.6,1094.9 L1561.3,1098.6 L1561.9,1098.7 L1562.6,1102.3 L1563.2,1103.1 L1563.8,1102.0 L1564.3,1102.7 L1564.9,1102.0 L1565.5,1103.0 L1566.1,1101.7 L1566.6,1104.0 L1567.2,1101.5 L1567.8,1099.2 L1568.3,1099.8 L1568.9,1097.9 L1569.5,1097.9 L1570.1,1095.7 L1570.6,1097.0 L1571.2,1095.1 L1571.8,1095.5 L1572.5,1099.0 L1573.1,1097.6 L1573.8,1101.0 L1574.4,1101.5 L1575.1,1098.9 L1575.7,1100.3 L1576.3,1096.0 L1577.0,1097.9 L1577.6,1094.3 L1578.3,1095.0 L1578.9,1098.1 L1579.5,1099.5 L1580.2,1102.6 L1580.8,1103.1 L1581.4,1102.0 L1582.0,1103.0 L1582.6,1102.3 L1583.2,1103.2 L1583.8,1101.2 L1584.4,1102.9 L1585.0,1100.5 L1585.6,1102.3 L1586.2,1102.7 L1586.8,1100.9 L1587.4,1102.4 L1588.0,1101.5 L1588.8,1053.5 L1589.5,1060.1 L1590.1,1077.5 L1590.6,1072.8 L1591.2,1061.6 L1591.7,1057.5 L1592.3,1068.6 L1593.0,1073.2 L1593.6,1083.9 L1594.2,1079.8 L1594.7,1070.3 L1595.2,1063.9 L1595.8,1069.2 L1596.4,1070.9 L1597.0,1079.6 L1597.6,1083.9 L1598.2,1084.6 L1598.8,1087.0 L1599.3,1086.8 L1599.9,1091.4 L1600.5,1090.2 L1601.1,1092.2 L1601.6,1093.5 L1602.2,1093.8 L1602.8,1097.0 L1603.4,1098.3 L1604.0,1100.4 L1604.6,1101.3 L1605.2,1103.8 L1605.8,1105.2 L1606.4,1107.1 L1607.1,1107.3 L1607.7,1104.0 L1608.4,1104.5 L1609.0,1100.8 L1609.6,1101.5 L1610.2,1103.4 L1610.8,1101.3 L1611.4,1102.9 L1612.0,1100.9 L1612.6,1103.1 L1613.2,1101.5 L1613.8,1104.0 L1614.4,1103.1 L1615.0,1102.0 L1615.6,1103.0 L1616.2,1101.2 L1616.8,1102.0 L1617.4,1100.8 L1618.0,1101.5 L1618.6,1099.4 L1619.2,1099.1 L1619.9,1102.1 L1620.5,1101.0 L1621.2,1104.4 L1621.8,1103.5 L1622.4,1105.5 L1623.1,1105.6 L1623.7,1102.9 L1624.4,1102.6 L1625.0,1098.8 L1625.7,1099.1 L1626.3,1101.1 L1626.9,1100.1 L1627.5,1102.4 L1628.1,1101.5 L1628.7,1104.9 L1629.3,1103.2 L1629.9,1106.1 L1630.5,1106.3 L1631.1,1106.7 L1631.7,1107.1 L1632.3,1105.7 L1632.9,1107.8 L1633.5,1105.8 L1634.1,1106.5 L1634.7,1104.7 L1635.3,1104.7 L1635.9,1106.1 L1636.5,1104.0 L1637.1,1105.5 L1637.7,1104.5 L1638.3,1106.4 L1638.9,1104.9 L1639.5,1106.5 L1640.1,1104.7 L1640.7,1105.2 L1641.3,1108.9 L1642.0,1106.6 L1642.6,1109.4 L1643.3,1110.3 L1643.8,1109.3 L1644.4,1110.2 L1645.0,1107.7 L1645.6,1108.9 L1646.1,1105.9 L1646.7,1107.3 L1647.3,1106.3 L1647.8,1105.3 L1648.4,1107.1 L1649.0,1105.8 L1649.6,1109.7 L1650.1,1106.8 L1650.7,1110.2 L1651.3,1107.9 L1652.1,1064.7 L1652.6,1070.3 L1653.1,1079.4 L1653.7,1085.5 L1654.3,1085.5 L1654.9,1086.8 L1655.5,1083.9 L1656.1,1084.7 L1656.7,1089.5 L1657.3,1090.9 L1657.9,1096.4 L1658.5,1099.9 L1659.0,1100.3 L1659.6,1103.1 L1660.2,1101.0 L1660.8,1103.4 L1661.3,1101.9 L1661.9,1104.6 L1662.5,1103.1 L1663.1,1102.9 L1663.6,1105.5 L1664.2,1103.4 L1664.8,1106.0 L1665.3,1104.6 L1665.9,1105.7 L1666.5,1106.3 L1667.0,1106.1 L1667.6,1109.9 L1668.1,1107.9 L1668.7,1112.1 L1669.2,1112.7 L1669.8,1110.9 L1670.4,1111.6 L1670.9,1108.4 L1671.5,1108.3 L1672.1,1106.3 L1672.7,1105.1 L1673.3,1107.1 L1673.9,1103.8 L1674.5,1105.6 L1675.1,1103.5 L1675.7,1105.3 L1676.3,1102.9 L1676.9,1102.3 L1677.5,1104.3 L1678.1,1101.4 L1678.7,1102.7 L1679.3,1100.1 L1679.9,1102.8 L1680.5,1100.8 L1681.1,1102.2 L1681.7,1101.5 L1682.3,1102.6 L1682.9,1104.3 L1683.5,1103.0 L1684.1,1105.8 L1684.7,1104.1 L1685.3,1106.8 L1685.9,1105.6 L1686.5,1107.9 L1687.1,1106.7 L1687.6,1105.6 L1688.2,1107.5 L1688.8,1105.3 L1689.4,1107.4 L1689.9,1104.8 L1690.5,1104.7 L1691.1,1106.8 L1691.6,1105.4 L1692.2,1108.4 L1692.8,1106.0 L1693.4,1109.0 L1693.9,1107.4 L1694.5,1109.5 L1695.1,1108.5 L1695.8,1106.3 L1696.4,1106.3 L1697.1,1103.5 L1697.7,1105.5 L1698.3,1105.3 L1698.9,1102.7 L1699.4,1105.9 L1700.0,1103.1 L1700.6,1104.7 L1701.4,1075.1 L1702.0,1079.6 L1702.7,1082.3 L1703.3,1087.1 L1703.9,1087.0 L1704.5,1084.4 L1705.1,1086.9 L1705.7,1087.1 L1706.4,1088.7 L1707.0,1093.2 L1707.6,1093.4 L1708.3,1098.3 L1708.9,1099.9 L1709.6,1099.4 L1710.2,1101.8 L1710.8,1100.1 L1711.5,1102.5 L1712.1,1103.1 L1712.7,1101.4 L1713.3,1102.3 L1713.8,1100.7 L1714.4,1101.7 L1715.0,1100.3 L1715.5,1101.7 L1716.1,1101.5 L1716.7,1099.8 L1717.3,1101.6 L1717.9,1100.0 L1718.5,1101.5 L1719.1,1098.6 L1719.7,1100.0 L1720.3,1096.9 L1720.9,1098.3 L1721.5,1099.0 L1722.1,1099.1 L1722.6,1100.2 L1723.2,1099.7 L1723.8,1101.7 L1724.4,1100.8 L1724.9,1103.1 L1725.6,1103.3 L1726.2,1100.5 L1726.8,1101.2 L1727.5,1099.6 L1728.1,1099.9 L1728.7,1100.9 L1729.3,1098.9 L1729.9,1101.8 L1730.5,1100.4 L1731.1,1101.7 L1731.7,1101.4 L1732.3,1102.9 L1732.9,1102.3 L1733.5,1101.3 L1734.1,1103.7 L1734.7,1101.7 L1735.3,1103.3 L1735.9,1101.8 L1736.5,1103.3 L1737.1,1102.2 L1737.7,1101.5 L1738.4,1099.7 L1739.0,1095.8 L1739.7,1094.5 L1740.3,1090.7 L1740.9,1089.5 L1741.6,1092.2 L1742.2,1091.7 L1742.9,1096.9 L1743.5,1097.1 L1744.1,1099.9 L1744.8,1102.4 L1745.4,1101.5 L1746.1,1104.3 L1746.7,1104.3 L1747.3,1104.7 L1747.9,1105.2 L1748.5,1103.4 L1749.1,1104.2 L1749.7,1102.8 L1750.3,1104.2 L1750.9,1103.3 L1751.5,1103.9 L1752.1,1103.1 L1752.8,1103.1 L1753.4,1105.3 L1754.0,1103.3 L1754.6,1105.5 L1755.3,1104.9 L1755.9,1107.1 L1756.5,1106.6 L1757.1,1108.7 L1757.8,1108.7 L1758.4,1107.2 L1759.0,1107.4 L1759.7,1105.9 L1760.3,1106.3 L1761.0,1104.7 L1761.5,1100.9 L1762.0,1100.8 L1762.6,1096.7 L1763.2,1096.6 L1763.8,1098.4 L1764.5,1097.5 L1765.1,1100.5 L1765.8,1099.9 L1766.4,1099.6 L1767.0,1101.5 L1767.6,1098.8 L1768.3,1101.8 L1768.9,1099.5 L1769.5,1102.0 L1770.1,1099.8 L1770.7,1103.3 L1771.4,1101.5 L1772.0,1102.3 L1772.6,1103.7 L1773.2,1102.4 L1773.8,1104.0 L1774.4,1104.2 L1775.0,1106.4 L1775.6,1103.1 L1776.2,1104.7 L1776.8,1105.7 L1777.4,1104.0 L1778.0,1104.9 L1778.6,1102.6 L1779.2,1104.1 L1779.8,1101.4 L1780.4,1102.2 L1781.0,1101.5 L1781.6,1101.2 L1782.2,1101.8 L1782.8,1101.2 L1783.4,1103.4 L1784.0,1103.9 L1784.6,1105.0 L1785.2,1104.8 L1785.8,1104.7 L1786.4,1105.5 L1787.0,1103.3 L1787.6,1104.9 L1788.2,1102.0 L1788.8,1104.5 L1789.4,1103.4 L1790.0,1105.5 L1790.6,1103.1 L1791.2,1103.7 L1791.9,1106.3 L1792.5,1103.6 L1793.1,1107.6 L1793.8,1106.3 L1794.4,1105.2 L1795.0,1107.4 L1795.6,1104.5 L1796.2,1106.2 L1796.8,1103.2 L1797.4,1104.2 L1798.0,1101.6 L1798.6,1101.5 L1799.2,1103.0 L1799.8,1101.5 L1800.4,1104.2 L1801.0,1102.4 L1801.6,1105.0 L1802.2,1103.4 L1802.8,1105.8 L1803.4,1104.7 L1804.0,1103.1 L1804.6,1104.2 L1805.2,1102.1 L1805.8,1103.1 L1806.4,1099.8 L1807.0,1102.1 L1807.6,1100.5 L1808.2,1102.3 L1808.8,1099.2 L1809.4,1102.0 L1810.0,1100.2 L1810.6,1099.9 L1811.2,1101.6 L1811.7,1099.8 L1812.3,1102.3 L1812.9,1100.8 L1813.5,1103.4 L1814.0,1101.6 L1814.6,1104.7 L1815.2,1104.3 L1815.8,1102.3 L1816.4,1104.3 L1817.0,1103.1 L1817.6,1104.2 L1818.2,1102.8 L1818.8,1105.1 L1819.4,1103.1 L1820.0,1103.0 L1820.6,1104.5 L1821.2,1103.1 L1821.8,1104.9 L1822.4,1102.9 L1823.0,1106.0 L1823.6,1103.5 L1824.2,1106.3 L1824.8,1106.9 L1825.4,1105.0 L1826.0,1106.7 L1826.5,1105.4 L1827.1,1106.1 L1827.7,1104.8 L1828.3,1107.0 L1828.9,1105.7 L1829.4,1109.0 L1830.0,1107.6 L1830.6,1107.1 L1831.2,1108.4 L1831.8,1106.8 L1832.4,1108.7 L1833.0,1106.4 L1833.6,1106.9 L1834.2,1105.0 L1834.8,1107.8 L1835.4,1107.1 L1836.9,1107.5"/>
<path stroke="#77AC30" d="M188.5,282.1 L190.0,286.5 L191.5,290.6 L193.0,295.0 L194.5,300.1 L196.0,306.3 L197.5,313.9 L199.0,322.4 L200.5,331.2 L202.0,340.1 L203.5,348.4 L205.0,356.0 L206.5,363.1 L208.0,369.9 L209.5,376.7 L211.0,383.3 L212.5,389.2 L214.0,394.2 L215.5,398.5 L217.0,402.2 L218.5,405.7 L220.0,409.0 L221.5,412.2 L223.0,415.4 L224.5,418.6 L226.0,421.7 L227.5,424.8 L229.0,427.8 L230.5,430.7 L232.0,433.7 L233.5,436.6 L235.0,439.4 L236.5,442.3 L238.0,445.1 L239.5,447.8 L241.0,450.6 L242.5,453.3 L244.0,456.1 L245.5,458.8 L247.0,461.5 L248.5,464.2 L250.0,466.9 L251.5,469.6 L253.0,472.3 L254.5,475.0 L256.0,477.7 L257.5,480.4 L259.0,483.2 L260.5,485.9 L262.0,488.7 L263.5,491.5 L265.0,494.3 L266.5,497.2 L268.0,500.0 L269.5,502.9 L271.0,505.8 L272.5,508.6 L274.0,511.5 L275.5,514.4 L277.0,517.3 L278.5,520.3 L280.0,523.2 L281.5,526.1 L283.0,529.0 L284.5,531.9 L286.0,534.8 L287.5,537.7 L289.0,540.6 L290.5,543.5 L292.0,546.4 L293.5,549.4 L295.0,552.3 L296.5,555.2 L298.0,558.1 L299.5,561.0 L301.0,564.0 L302.5,566.9 L304.0,569.9 L305.5,572.9 L307.0,575.8 L308.5,578.8 L310.0,581.8 L311.5,584.8 L313.0,587.8 L314.5,590.7 L316.0,594.0 L317.5,596.8 L319.0,599.9 L320.5,603.3 L322.0,606.2 L323.5,609.5 L325.0,612.7 L326.5,615.6 L328.0,619.0 L329.5,622.0 L331.0,625.2 L332.5,628.5 L334.0,631.6 L335.5,635.3 L337.0,638.5 L338.5,642.0 L340.0,645.3 L341.5,648.9 L343.0,652.0 L344.5,655.8 L346.0,659.1 L347.5,662.6 L349.0,665.8 L350.5,670.1 L352.0,673.1 L353.5,676.8 L355.0,680.9 L356.5,684.4 L358.0,688.0 L359.5,692.5 L361.0,696.4 L362.5,700.2 L364.0,704.5 L365.5,708.2 L367.0,712.6 L368.5,717.5 L370.0,721.9 L371.5,726.4 L373.0,730.5 L374.5,734.9 L376.0,740.1 L377.5,744.6 L379.0,749.9 L380.5,754.2 L382.0,758.0 L383.5,761.4 L385.0,764.3 L386.5,767.9 L388.0,772.1 L389.5,775.3 L391.0,778.9 L392.5,782.7 L394.0,786.8 L395.5,791.5 L397.0,796.3 L398.5,801.4 L400.0,806.1 L401.5,811.0 L403.0,815.9 L404.5,820.1 L406.0,825.2 L407.5,829.4 L409.0,833.6 L410.5,838.3 L412.0,843.7 L413.5,847.5 L415.0,853.0 L416.5,857.4 L418.0,863.4 L419.5,868.5 L421.0,873.6 L422.5,880.1 L422.9,881.5"/>
<path stroke="#77AC30" stroke-width="2.7" stroke-linejoin="miter" stroke-miterlimit="3" d="M422.9,881.5 L423.5,878.6 L424.2,880.8 L424.8,876.8 L425.5,881.0 L426.1,879.9 L426.7,880.5 L427.4,887.8 L428.0,884.7 L428.7,889.9 L429.3,891.1 L429.9,891.2 L430.6,893.7 L431.2,892.4 L431.9,896.2 L432.5,894.3 L433.1,895.9 L433.7,901.6 L434.3,902.1 L434.9,908.0 L435.5,906.8 L436.1,910.0 L436.7,911.1 L437.3,915.1 L437.9,917.9 L438.5,917.0 L439.1,923.2 L439.6,919.6 L440.2,924.2 L440.8,922.5 L441.4,927.8 L442.0,927.2 L442.6,930.9 L443.1,931.0 L443.7,934.3 L444.4,940.0 L445.0,942.6 L445.6,941.7 L446.2,947.8 L446.8,944.1 L447.4,950.4 L448.0,950.6 L448.6,955.4 L449.2,954.4 L449.8,955.0 L450.4,959.2 L451.0,957.7 L451.6,961.0 L452.2,961.1 L452.8,965.0 L453.4,964.7 L454.0,967.2 L454.7,970.6 L455.3,969.2 L455.9,972.6 L456.5,973.6 L457.3,959.2 L457.9,964.1 L458.5,971.7 L459.1,973.3 L459.7,980.0 L460.3,982.6 L460.9,979.5 L461.5,983.8 L462.1,984.8 L462.7,984.2 L463.3,989.8 L464.0,990.0 L464.6,994.3 L465.3,994.4 L465.9,994.9 L466.5,998.3 L467.2,997.9 L467.8,1001.0 L468.5,1002.4 L469.1,1003.4 L469.7,1009.3 L470.4,1005.0 L471.0,1011.0 L471.7,1011.3 L472.3,1010.8 L472.9,1013.1 L473.5,1010.5 L474.1,1010.5 L474.9,1000.0 L475.5,1004.3 L476.1,1005.8 L476.7,1010.6 L477.3,1012.1 L477.8,1012.7 L478.3,1017.7 L478.9,1019.3 L479.7,960.0 L480.3,963.4 L480.9,978.3 L481.5,976.9 L482.1,984.8 L482.6,992.0 L483.1,989.2 L483.7,1004.0 L484.2,996.3 L484.7,975.6 L485.3,962.4 L485.9,976.2 L486.5,976.5 L487.1,993.8 L487.7,1000.8 L488.3,1003.1 L489.0,1009.4 L489.6,1008.0 L490.2,1013.6 L490.9,1015.3 L491.5,1016.7 L492.1,1023.4 L492.7,1022.1 L493.3,1026.5 L493.8,1024.5 L494.4,996.8 L495.1,1003.9 L495.8,1014.9 L496.5,1018.5 L497.1,1021.2 L497.8,1025.6 L498.4,1024.4 L499.0,1032.0 L499.7,1032.9 L500.3,1024.5 L500.9,1028.6 L501.5,1011.3 L502.1,1009.7 L502.7,1020.5 L503.4,1020.8 L504.0,1027.3 L504.6,1023.9 L505.3,1000.0 L505.9,992.7 L506.5,996.6 L507.1,975.0 L507.7,973.6 L508.3,962.7 L508.8,950.4 L509.5,954.7 L510.2,962.2 L510.9,964.0 L511.5,965.1 L512.1,990.1 L512.7,983.6 L513.3,992.8 L513.9,997.9 L514.6,998.4 L515.2,1009.2 L515.9,1007.5 L516.5,1012.1 L517.1,1016.0 L517.8,1013.2 L518.4,1024.5 L519.1,1023.0 L519.7,1026.5 L520.3,1030.2 L520.9,1029.7 L521.5,1036.8 L522.1,1037.7 L522.7,1034.9 L523.4,1037.7 L524.0,1034.0 L524.7,1037.0 L525.3,1036.1 L525.9,1037.7 L526.5,1042.0 L527.1,1040.0 L527.7,1044.1 L528.3,1047.2 L528.9,1045.6 L529.4,1051.3 L530.0,1048.9 L530.6,1053.4 L531.1,1053.4 L531.7,1056.9 L532.2,1057.3 L532.8,1046.8 L533.3,1046.5 L533.9,1050.9 L534.5,1047.3 L535.1,1055.8 L535.7,1058.5 L536.4,1055.4 L537.0,1058.3 L537.6,1056.5 L538.3,1057.2 L538.9,1056.1 L539.6,1057.5 L540.2,1063.4 L540.8,1059.8 L541.5,1065.4 L542.1,1066.5 L542.7,1064.3 L543.3,1067.7 L543.9,1063.1 L544.5,1063.3 L545.2,1059.5 L545.9,1044.1 L546.6,1041.7 L547.1,1047.6 L547.7,1045.6 L548.2,1056.6 L548.8,1056.0 L549.3,1061.7 L550.0,1062.6 L550.6,1062.4 L551.2,1064.8 L551.9,1062.6 L552.5,1066.5 L553.1,1062.3 L553.7,1045.5 L554.3,1050.4 L554.9,1036.1 L555.5,1039.5 L556.1,1048.2 L556.7,1049.9 L557.3,1056.9 L557.9,1056.5 L558.4,1052.4 L558.9,1050.5 L559.6,1054.0 L560.2,1052.3 L560.9,1061.7 L561.5,1060.9 L562.1,1064.1 L562.7,1063.8 L563.3,1061.6 L563.8,1062.3 L564.4,1059.4 L565.0,1060.1 L565.6,1057.4 L566.1,1056.9 L566.8,1060.9 L567.4,1060.0 L568.1,1063.6 L568.7,1063.9 L569.3,1066.5 L570.0,1068.6 L570.7,1068.2 L571.4,1070.5 L572.0,1051.3 L572.5,1018.5 L573.2,998.9 L573.8,988.4 L574.5,964.8 L575.2,977.0 L575.9,997.2 L576.5,1007.3 L577.1,1010.0 L577.7,1032.3 L578.3,1027.3 L578.9,1036.1 L579.5,1024.5 L580.1,989.6 L580.8,1000.4 L581.5,1017.1 L582.1,1023.3 L582.7,1024.9 L583.3,1026.8 L584.0,1025.2 L584.6,1026.5 L585.2,1029.6 L585.8,1027.3 L586.4,1032.2 L587.0,1032.9 L587.5,1021.7 L588.0,1030.0 L588.6,1018.5 L589.2,1020.3 L589.8,1026.7 L590.5,1028.6 L591.1,1032.6 L591.8,1036.1 L592.4,1037.9 L593.0,1045.9 L593.6,1040.4 L594.2,1044.1 L594.7,1050.6 L595.3,1027.3 L596.0,1023.6 L596.7,1024.6 L597.4,1021.7 L597.9,1021.4 L598.4,1039.7 L599.0,1042.5 L599.6,1042.8 L600.2,1044.6 L600.9,1043.5 L601.5,1045.0 L602.2,1044.1 L602.7,1045.4 L603.3,1050.0 L603.9,1045.9 L604.5,1054.8 L605.0,1054.7 L605.6,1058.5 L606.2,1060.1 L606.8,1056.6 L607.4,1059.0 L608.1,1053.8 L608.7,1054.0 L609.4,1050.5 L610.1,1016.8 L610.8,1008.3 L611.5,969.6 L612.1,978.8 L612.7,1008.1 L613.4,1016.9 L614.0,1019.8 L614.7,1028.9 L615.3,1026.8 L615.9,1034.3 L616.6,1037.7 L617.1,1035.0 L617.6,1037.3 L618.2,1034.5 L618.8,1022.3 L619.4,1024.5 L620.0,1005.7 L620.6,1004.9 L621.2,1014.9 L621.8,1009.7 L622.4,1029.6 L623.0,1029.7 L623.6,1030.3 L624.3,1034.1 L624.9,1031.3 L625.5,1036.6 L626.2,1037.7 L626.8,1039.1 L627.5,1045.9 L628.1,1040.9 L628.7,1049.4 L629.4,1052.1 L630.1,1048.0 L630.8,1046.0 L631.5,1040.9 L632.1,1043.6 L632.7,1053.3 L633.4,1055.3 L634.0,1056.6 L634.5,1058.6 L635.1,1057.3 L635.7,1059.4 L636.2,1058.5 L636.8,1060.8 L637.4,1059.3 L637.9,1045.2 L638.5,1053.5 L639.0,1037.7 L639.6,1034.9 L640.1,1036.7 L640.7,1034.2 L641.3,1036.9 L641.9,1032.8 L642.4,1034.8 L643.0,1034.5 L643.6,1035.4 L644.3,1040.3 L644.9,1037.7 L645.6,1044.7 L646.2,1045.7 L646.8,1043.6 L647.4,1046.9 L648.0,1046.1 L648.6,1049.6 L649.2,1046.5 L649.8,1049.6 L650.4,1050.0 L651.0,1052.1 L651.6,1055.5 L652.3,1053.8 L652.9,1059.5 L653.6,1059.1 L654.2,1061.7 L654.8,1065.2 L655.4,1063.2 L656.0,1066.5 L656.6,1067.3 L657.4,1053.7 L658.0,1053.7 L658.6,1057.8 L659.1,1055.8 L659.7,1057.9 L660.3,1057.1 L660.8,1061.2 L661.4,1060.1 L662.0,1060.7 L662.6,1062.7 L663.1,1062.1 L663.7,1065.8 L664.3,1064.4 L664.8,1067.2 L665.4,1068.1 L666.1,1056.0 L666.7,1059.7 L667.3,1044.1 L667.9,1043.7 L668.5,1048.3 L669.1,1046.4 L669.6,1051.9 L670.2,1052.1 L670.8,1053.1 L671.4,1059.4 L672.0,1058.5 L672.6,1061.7 L673.2,1053.1 L673.8,1018.7 L674.4,1022.4 L675.0,1008.9 L675.7,1010.8 L676.3,1018.1 L676.9,1015.4 L677.6,1028.8 L678.2,1029.7 L678.9,1032.0 L679.5,1040.9 L680.1,1037.6 L680.8,1046.0 L681.4,1047.3 L682.0,1047.4 L682.6,1051.8 L683.1,1050.5 L683.7,1055.8 L684.3,1055.1 L684.9,1059.3 L685.4,1059.3 L686.2,983.2 L686.8,988.6 L687.3,1011.4 L687.8,1020.1 L688.4,1020.2 L688.9,1022.0 L689.4,1020.9 L690.0,1020.1 L690.6,1023.3 L691.2,1041.0 L691.8,1035.1 L692.4,1042.5 L693.0,1044.8 L693.5,1044.9 L694.1,1048.3 L694.7,1046.5 L695.3,1052.8 L695.8,1050.9 L696.4,1055.3 L697.0,1056.3 L697.6,1054.8 L698.2,1058.3 L698.8,1057.1 L699.4,1060.5 L700.0,1059.5 L700.6,1063.5 L701.2,1061.7 L701.8,1062.3 L702.4,1063.7 L703.0,1061.9 L703.6,1064.9 L704.2,1062.2 L704.8,1063.7 L705.4,1063.1 L706.0,1063.3 L706.6,1066.9 L707.2,1064.6 L707.8,1066.9 L708.4,1065.7 L709.0,1069.9 L709.6,1068.9 L710.2,1070.4 L710.8,1071.3 L711.5,1068.0 L712.1,1070.3 L712.7,1060.1 L713.4,1061.7 L714.0,1058.5 L714.6,1057.4 L715.2,1058.9 L715.7,1057.7 L716.3,1061.0 L716.9,1059.9 L717.4,1062.5 L718.0,1061.7 L718.6,1060.6 L719.2,1061.7 L719.8,1059.3 L720.4,1060.0 L721.0,1057.2 L721.6,1058.4 L722.2,1055.4 L722.8,1055.3 L723.4,1050.7 L724.0,1035.9 L724.6,1038.9 L725.2,1029.7 L725.8,1017.3 L726.3,1020.0 L726.8,1012.9 L727.4,1015.7 L728.0,1038.8 L728.6,1031.3 L729.2,1044.1 L729.9,1046.4 L730.5,1045.9 L731.2,1052.0 L731.8,1050.6 L732.4,1053.7 L733.0,1055.4 L733.6,1054.9 L734.2,1057.4 L734.8,1056.2 L735.4,1058.8 L736.0,1059.5 L736.6,1062.9 L737.2,1061.7 L737.8,1060.2 L738.4,1061.2 L739.0,1057.8 L739.5,1058.8 L740.1,1054.5 L740.7,1056.3 L741.2,1053.7 L741.8,1053.1 L742.4,1056.5 L743.0,1055.3 L743.6,1056.6 L744.2,1054.6 L744.8,1057.1 L745.4,1054.8 L746.0,1056.9 L746.6,1056.9 L747.2,1053.1 L747.8,1054.0 L748.3,1050.0 L748.9,1050.4 L749.5,1046.6 L750.0,1045.7 L750.6,1047.8 L751.2,1046.5 L751.8,1050.2 L752.3,1049.4 L752.9,1052.3 L753.5,1052.2 L754.0,1053.7 L754.7,1054.7 L755.3,1052.4 L755.9,1054.3 L756.5,1051.8 L757.1,1056.2 L757.7,1054.9 L758.3,1056.5 L758.9,1055.3 L759.4,1040.7 L759.9,1043.5 L760.5,1032.9 L761.0,1030.3 L761.5,1032.6 L762.1,1031.3 L762.7,1033.8 L763.3,1037.7 L764.0,1038.4 L764.6,1042.4 L765.3,1044.1 L765.9,1045.1 L766.5,1050.2 L767.2,1047.5 L767.8,1054.7 L768.5,1055.3 L769.0,1052.8 L769.6,1053.7 L770.2,1050.3 L770.7,1051.1 L771.3,1045.3 L771.9,1047.4 L772.5,1044.1 L773.1,1047.4 L773.7,1052.0 L774.3,1049.8 L774.9,1058.5 L775.5,1060.6 L776.1,1060.1 L776.8,1063.9 L777.4,1061.3 L778.1,1063.3 L778.6,1058.7 L779.2,1016.1 L779.9,1025.7 L780.6,1041.8 L781.3,1048.9 L781.8,1048.6 L782.3,1051.1 L782.9,1052.1 L783.4,1045.9 L784.0,1049.5 L784.6,1032.1 L785.2,1034.5 L785.8,1026.5 L786.3,1027.4 L786.8,1032.1 L787.4,1032.6 L787.9,1036.9 L788.5,1039.3 L789.1,1041.2 L789.8,1051.4 L790.4,1049.7 L791.0,1055.0 L791.7,1056.9 L792.3,1051.6 L792.9,1051.1 L793.5,1038.3 L794.1,1036.1 L794.7,1042.0 L795.4,1041.9 L796.0,1052.4 L796.6,1053.0 L797.3,1058.5 L797.9,1061.1 L798.6,1058.8 L799.2,1061.8 L799.8,1061.6 L800.5,1063.3 L801.1,1066.7 L801.7,1065.5 L802.3,1070.1 L802.9,1070.5 L803.4,1032.3 L804.0,1012.9 L804.7,1026.4 L805.4,1019.6 L806.1,1036.1 L806.7,1040.3 L807.4,1041.0 L808.0,1046.3 L808.7,1047.4 L809.3,1052.1 L809.9,1054.0 L810.4,1053.5 L811.0,1057.1 L811.6,1054.9 L812.2,1058.9 L812.7,1057.7 L813.3,1060.1 L814.0,1054.8 L814.7,1042.1 L815.4,1038.5 L815.9,1041.2 L816.5,1040.7 L817.0,1046.3 L817.6,1046.9 L818.1,1050.5 L818.7,1052.9 L819.3,1051.5 L819.9,1054.8 L820.5,1053.7 L821.1,1056.9 L821.7,1054.4 L822.3,1058.1 L822.9,1056.9 L823.5,1056.9 L824.1,1061.3 L824.7,1060.0 L825.3,1063.9 L825.9,1062.1 L826.5,1066.8 L827.1,1065.6 L827.7,1068.1 L828.3,1069.7 L828.9,1067.8 L829.5,1070.9 L830.1,1069.9 L830.7,1072.8 L831.3,1070.0 L831.9,1074.5 L832.5,1072.9 L833.1,1068.5 L833.7,1069.1 L834.3,1064.4 L834.9,1063.3 L835.5,1065.0 L836.1,1064.0 L836.7,1067.6 L837.3,1067.0 L837.9,1071.9 L838.5,1069.5 L839.1,1072.7 L839.7,1072.9 L840.3,1068.9 L840.9,1072.3 L841.5,1062.5 L842.1,1061.7 L842.7,1063.8 L843.3,1063.8 L843.9,1065.0 L844.5,1063.8 L845.1,1067.7 L845.7,1065.8 L846.3,1068.5 L846.9,1066.5 L847.5,1065.0 L848.1,1067.2 L848.6,1065.0 L849.2,1067.0 L849.8,1062.4 L850.4,1063.9 L850.9,1061.7 L851.5,1051.3 L852.1,1046.1 L852.7,1036.2 L853.3,1029.7 L853.9,1037.7 L854.5,1032.5 L855.1,1048.0 L855.7,1052.1 L856.3,1052.8 L856.9,1056.3 L857.5,1055.4 L858.1,1058.5 L858.8,1040.9 L859.5,1013.3 L860.2,997.6 L860.9,1017.2 L861.5,1025.1 L862.1,1044.1 L862.8,1047.3 L863.4,1046.6 L864.1,1056.8 L864.7,1053.3 L865.3,1056.9 L865.9,1055.9 L866.4,1049.2 L866.9,1048.9 L867.6,1047.1 L868.3,1031.5 L869.0,1028.1 L869.6,1032.1 L870.2,1031.8 L870.8,1042.1 L871.4,1041.3 L872.0,1045.6 L872.5,1048.9 L873.1,1050.8 L873.7,1053.6 L874.3,1053.5 L874.8,1059.0 L875.4,1059.2 L876.0,1064.3 L876.5,1064.9 L877.1,1061.3 L877.7,1061.5 L878.3,1051.3 L878.8,1055.5 L879.4,1049.0 L880.0,1049.3 L880.5,1044.1 L881.2,1044.7 L881.8,1051.6 L882.5,1051.4 L883.1,1055.7 L883.8,1058.5 L884.4,1058.6 L885.0,1060.3 L885.6,1058.3 L886.2,1060.9 L886.8,1058.9 L887.4,1061.6 L888.0,1060.7 L888.6,1063.3 L889.1,1055.6 L889.7,1036.9 L890.3,1039.6 L890.9,1026.1 L891.4,1020.9 L892.0,1022.2 L892.6,1022.8 L893.2,1025.6 L893.8,1024.0 L894.4,1026.9 L895.0,1028.1 L895.6,1030.6 L896.2,1041.7 L896.8,1040.3 L897.4,1045.7 L897.9,1047.2 L898.5,1046.1 L899.1,1049.1 L899.6,1049.1 L900.2,1051.0 L900.8,1050.9 L901.4,1052.1 L901.9,1055.0 L902.5,1054.8 L903.1,1059.5 L903.7,1057.4 L904.2,1061.5 L904.8,1060.0 L905.4,1063.3 L906.0,1063.1 L906.6,1057.9 L907.2,1058.4 L907.8,1053.1 L908.4,1055.3 L909.0,1050.7 L909.6,1050.3 L910.2,1047.3 L910.8,1048.7 L911.5,1054.9 L912.1,1051.3 L912.7,1057.1 L913.4,1058.5 L913.9,1059.3 L914.5,1061.6 L915.1,1059.0 L915.7,1062.8 L916.2,1059.9 L916.8,1064.0 L917.4,1063.3 L918.0,1058.5 L918.7,1056.6 L919.3,1047.6 L919.9,1047.3 L920.6,1042.5 L921.2,1045.1 L921.9,1049.7 L922.5,1048.4 L923.1,1054.7 L923.8,1056.9 L924.4,1054.2 L925.1,1055.0 L925.7,1051.5 L926.3,1052.0 L927.0,1050.5 L927.6,1043.2 L928.3,1045.6 L928.9,1032.4 L929.5,1034.8 L930.2,1028.1 L930.8,1027.8 L931.3,1033.2 L931.9,1034.1 L932.5,1037.9 L933.0,1037.7 L933.6,1042.8 L934.2,1042.5 L934.8,1043.4 L935.3,1047.8 L935.9,1047.2 L936.5,1050.0 L937.0,1050.4 L937.6,1054.2 L938.2,1053.7 L938.8,1054.8 L939.4,1058.9 L940.1,1057.0 L940.7,1061.8 L941.3,1062.0 L941.9,1065.9 L942.6,1064.9 L943.2,1069.1 L943.8,1069.7 L944.4,1060.0 L945.0,1059.8 L945.6,1047.5 L946.2,1042.5 L946.8,1048.9 L947.4,1048.8 L948.0,1056.3 L948.6,1060.1 L949.3,1036.2 L950.0,1026.5 L950.7,1004.0 L951.2,1008.8 L951.8,1030.2 L952.3,1019.6 L952.9,1038.6 L953.4,1045.7 L954.0,1048.0 L954.5,1054.0 L955.1,1053.0 L955.7,1058.1 L956.3,1056.7 L956.8,1062.1 L957.4,1063.3 L958.0,1059.6 L958.7,1061.2 L959.3,1055.8 L960.0,1056.3 L960.6,1052.1 L961.2,1051.7 L961.8,1055.7 L962.4,1055.1 L963.0,1056.9 L963.6,1056.6 L964.2,1059.6 L964.8,1059.2 L965.4,1061.7 L966.0,1061.5 L966.6,1055.6 L967.1,1056.5 L967.7,1051.1 L968.3,1052.0 L968.8,1046.1 L969.4,1045.7 L970.0,1049.0 L970.6,1049.0 L971.1,1054.2 L971.7,1051.8 L972.3,1057.9 L972.8,1059.1 L973.4,1061.7 L974.0,1059.1 L974.6,1053.4 L975.1,1053.1 L975.7,1044.5 L976.3,1047.6 L976.9,1042.3 L977.4,1039.3 L978.1,1039.8 L978.7,1036.5 L979.3,1037.0 L980.0,1033.4 L980.6,1035.3 L981.3,1039.0 L981.9,1037.9 L982.5,1044.9 L983.2,1045.4 L983.8,1048.9 L984.4,1052.0 L985.0,1051.0 L985.5,1057.1 L986.1,1054.3 L986.7,1059.8 L987.3,1059.3 L987.8,1061.7 L988.5,1063.5 L989.1,1062.6 L989.8,1067.7 L990.4,1067.8 L991.0,1070.5 L991.7,1066.7 L992.3,1056.4 L993.0,1058.0 L993.6,1049.5 L994.2,1045.7 L994.9,1050.8 L995.5,1050.0 L996.2,1059.9 L996.8,1059.4 L997.4,1063.3 L998.1,1065.2 L998.7,1063.5 L999.4,1064.9 L1000.0,1064.9 L1000.6,1038.8 L1001.3,996.0 L1001.8,1000.0 L1002.4,1007.1 L1002.9,1008.4 L1003.5,1020.2 L1004.0,1023.3 L1004.6,1026.6 L1005.2,1034.5 L1005.8,1035.7 L1006.4,1042.5 L1007.0,1042.0 L1007.6,1037.7 L1008.2,1038.2 L1008.8,1036.1 L1009.4,1039.4 L1010.1,1049.6 L1010.7,1045.6 L1011.4,1053.4 L1012.0,1056.9 L1012.6,1055.4 L1013.2,1057.5 L1013.7,1052.7 L1014.3,1054.1 L1014.9,1049.6 L1015.4,1050.1 L1016.0,1048.9 L1016.6,1049.7 L1017.2,1053.3 L1017.8,1052.5 L1018.4,1055.6 L1019.0,1054.8 L1019.6,1059.3 L1020.2,1059.6 L1020.8,1061.7 L1021.4,1062.8 L1022.0,1060.9 L1022.6,1064.9 L1023.2,1062.4 L1023.8,1066.7 L1024.4,1063.6 L1025.0,1066.7 L1025.6,1066.5 L1026.2,1066.3 L1026.8,1067.4 L1027.3,1063.2 L1027.9,1065.9 L1028.5,1064.7 L1029.1,1065.6 L1029.6,1064.9 L1030.3,1063.4 L1030.9,1063.9 L1031.5,1059.7 L1032.2,1061.5 L1032.8,1060.1 L1033.4,1061.1 L1033.9,1067.5 L1034.5,1064.0 L1035.0,1071.7 L1035.5,1072.9 L1036.2,1069.8 L1036.8,1070.9 L1037.4,1066.2 L1038.0,1064.8 L1038.6,1059.7 L1039.2,1060.1 L1039.9,1060.2 L1040.5,1057.6 L1041.2,1058.0 L1041.8,1054.0 L1042.4,1055.3 L1043.1,1055.2 L1043.8,1048.5 L1044.5,1048.9 L1045.2,1055.7 L1045.8,1057.1 L1046.4,1061.7 L1047.1,1061.1 L1047.7,1058.3 L1048.4,1058.4 L1049.0,1055.5 L1049.6,1055.3 L1050.2,1056.9 L1050.8,1054.4 L1051.4,1057.5 L1051.9,1056.3 L1052.5,1058.9 L1053.1,1058.2 L1053.6,1058.5 L1054.3,1039.1 L1054.9,996.0 L1055.5,994.1 L1056.1,996.8 L1056.7,996.3 L1057.3,997.6 L1058.0,1011.7 L1058.6,1016.3 L1059.2,1031.3 L1059.9,1033.9 L1060.5,1033.1 L1061.2,1039.6 L1061.8,1039.9 L1062.4,1042.5 L1063.0,1044.9 L1063.6,1045.4 L1064.2,1049.5 L1064.7,1049.7 L1065.3,1053.5 L1065.9,1052.8 L1066.5,1055.3 L1067.0,1057.4 L1067.6,1055.9 L1068.2,1057.5 L1068.7,1056.9 L1069.3,1059.3 L1069.9,1057.3 L1070.5,1058.5 L1071.0,1059.9 L1071.6,1058.2 L1072.2,1062.4 L1072.7,1061.0 L1073.3,1064.1 L1073.9,1063.2 L1074.5,1064.9 L1075.1,1065.1 L1075.7,1062.3 L1076.4,1063.2 L1077.0,1060.8 L1077.7,1061.7 L1078.5,1031.3 L1079.1,1039.1 L1079.7,1039.1 L1080.3,1057.9 L1080.9,1061.7 L1081.5,1062.3 L1082.1,1064.6 L1082.8,1064.1 L1083.4,1067.6 L1084.1,1067.3 L1084.7,1066.2 L1085.3,1067.8 L1086.0,1064.2 L1086.6,1065.7 L1087.3,1063.3 L1087.9,1055.9 L1088.5,1054.9 L1089.1,1045.4 L1089.7,1042.5 L1090.3,1034.3 L1091.0,1022.9 L1091.6,1017.7 L1092.3,1028.3 L1093.0,1028.5 L1093.7,1039.3 L1094.3,1043.0 L1095.0,1040.6 L1095.6,1045.4 L1096.2,1045.9 L1096.9,1048.9 L1097.4,1049.1 L1098.0,1047.7 L1098.6,1050.9 L1099.2,1049.9 L1099.7,1052.8 L1100.3,1050.8 L1100.9,1052.1 L1101.5,1055.0 L1102.2,1053.1 L1102.8,1055.1 L1103.4,1053.9 L1104.1,1056.9 L1104.7,1059.7 L1105.2,1058.6 L1105.8,1061.2 L1106.4,1060.0 L1106.9,1063.1 L1107.5,1061.4 L1108.1,1063.3 L1108.7,1028.7 L1109.4,983.2 L1109.9,988.6 L1110.5,1003.5 L1111.0,1004.7 L1111.6,1020.1 L1112.3,1037.5 L1113.0,1035.0 L1113.7,1045.7 L1114.3,1031.7 L1115.0,1002.8 L1115.6,986.4 L1116.2,998.0 L1116.8,990.7 L1117.3,1012.0 L1117.9,1007.4 L1118.5,1016.9 L1119.1,1024.7 L1119.7,1018.2 L1120.3,1041.1 L1120.9,1042.5 L1121.4,1034.5 L1122.0,1039.9 L1122.5,1024.9 L1123.1,1027.1 L1123.8,1036.1 L1124.4,1029.0 L1125.1,1042.2 L1125.7,1045.7 L1126.3,1046.2 L1127.0,1051.2 L1127.6,1049.2 L1128.3,1054.3 L1128.9,1053.7 L1129.5,1052.8 L1130.0,1056.4 L1130.6,1054.5 L1131.2,1058.1 L1131.8,1055.6 L1132.3,1059.5 L1132.9,1057.7 L1133.5,1054.2 L1134.2,1056.2 L1134.8,1048.1 L1135.5,1050.4 L1136.1,1047.3 L1136.6,1048.2 L1137.2,1056.7 L1137.7,1056.9 L1138.3,1052.5 L1138.9,1054.7 L1139.4,1045.9 L1140.0,1048.2 L1140.6,1045.7 L1141.1,1047.2 L1141.7,1053.4 L1142.2,1049.7 L1142.8,1059.6 L1143.3,1060.1 L1144.0,1060.8 L1144.6,1065.6 L1145.2,1062.7 L1145.9,1067.7 L1146.5,1068.9 L1147.0,1051.7 L1147.6,1055.3 L1148.1,1031.3 L1148.7,1031.2 L1149.3,1033.8 L1149.9,1033.9 L1150.5,1036.1 L1151.1,1025.3 L1151.6,996.0 L1152.3,1002.9 L1153.0,1030.3 L1153.7,1039.3 L1154.3,1026.2 L1154.9,1025.7 L1155.5,1011.3 L1156.1,1003.2 L1156.8,1007.0 L1157.4,1007.3 L1158.0,1013.2 L1158.7,1013.9 L1159.3,1018.5 L1159.9,1025.1 L1160.5,1026.8 L1161.1,1031.9 L1161.7,1036.1 L1162.3,1037.7 L1162.9,1042.1 L1163.4,1040.0 L1164.0,1045.3 L1164.6,1044.9 L1165.2,1049.1 L1165.7,1050.5 L1166.3,1049.2 L1166.9,1051.5 L1167.4,1050.3 L1168.0,1052.5 L1168.6,1050.8 L1169.2,1053.0 L1169.7,1053.7 L1170.3,1050.6 L1170.9,1052.6 L1171.5,1048.2 L1172.1,1048.9 L1172.7,1055.4 L1173.3,1050.9 L1173.9,1062.1 L1174.5,1065.7 L1175.2,1060.7 L1175.8,1062.1 L1176.5,1053.8 L1177.1,1053.6 L1177.7,1050.5 L1178.3,1052.2 L1178.9,1059.0 L1179.5,1057.1 L1180.1,1061.7 L1180.7,1059.5 L1181.3,1054.9 L1181.9,1055.2 L1182.5,1050.5 L1183.1,1052.4 L1183.7,1055.7 L1184.3,1054.6 L1184.8,1059.9 L1185.4,1059.3 L1186.0,1063.6 L1186.5,1064.9 L1187.1,1061.8 L1187.7,1063.1 L1188.3,1057.4 L1188.9,1056.9 L1189.6,1053.9 L1190.2,1042.5 L1190.9,1044.1 L1191.5,1056.7 L1192.1,1058.5 L1192.7,1058.4 L1193.3,1061.9 L1193.9,1060.8 L1194.4,1064.3 L1195.0,1063.2 L1195.6,1066.1 L1196.2,1065.7 L1196.8,1060.6 L1197.4,1059.9 L1198.0,1054.2 L1198.6,1053.7 L1199.2,1056.6 L1199.8,1056.1 L1200.4,1059.8 L1201.0,1060.1 L1201.5,1050.9 L1202.0,1051.3 L1202.6,1036.9 L1203.2,1040.4 L1203.8,1055.7 L1204.4,1047.7 L1205.0,1055.3 L1205.6,1055.7 L1206.2,1052.9 L1206.9,1054.1 L1207.5,1051.3 L1208.2,1052.1 L1208.8,1055.3 L1209.4,1055.3 L1210.1,1059.2 L1210.7,1061.0 L1211.4,1063.3 L1212.0,1063.4 L1212.6,1059.6 L1213.3,1060.9 L1213.9,1057.4 L1214.6,1056.9 L1215.1,1059.1 L1215.7,1057.3 L1216.3,1060.2 L1216.9,1059.5 L1217.4,1063.1 L1218.0,1061.4 L1218.6,1063.3 L1219.2,1067.0 L1219.9,1064.6 L1220.5,1070.2 L1221.1,1069.2 L1221.8,1071.3 L1222.4,1067.9 L1223.1,1060.8 L1223.7,1064.2 L1224.3,1053.9 L1225.0,1052.9 L1225.5,1056.9 L1226.1,1054.7 L1226.7,1059.4 L1227.3,1058.7 L1227.8,1062.6 L1228.4,1061.5 L1229.0,1064.9 L1229.5,1057.9 L1230.1,1033.3 L1230.6,1042.7 L1231.2,1025.2 L1231.7,1016.1 L1232.3,1017.7 L1232.9,1018.8 L1233.4,1021.8 L1234.0,1020.5 L1234.6,1023.3 L1235.2,1035.0 L1235.8,1033.6 L1236.4,1049.5 L1237.0,1048.9 L1237.6,1049.4 L1238.2,1053.1 L1238.8,1052.9 L1239.4,1055.3 L1240.0,1054.4 L1240.7,1049.5 L1241.3,1050.2 L1241.9,1046.6 L1242.6,1045.7 L1243.2,1046.3 L1243.8,1046.5 L1244.4,1049.2 L1245.0,1047.2 L1245.6,1050.8 L1246.2,1049.8 L1246.8,1051.8 L1247.4,1052.1 L1248.0,1047.0 L1248.7,1050.5 L1249.3,1038.1 L1250.0,1039.4 L1250.6,1036.1 L1251.2,1038.2 L1251.9,1043.5 L1252.5,1041.2 L1253.2,1048.4 L1253.8,1050.5 L1254.4,1050.3 L1254.9,1054.6 L1255.5,1053.0 L1256.1,1057.5 L1256.7,1055.7 L1257.2,1059.4 L1257.8,1060.1 L1258.4,1058.5 L1258.9,1060.0 L1259.5,1059.3 L1260.1,1061.0 L1260.7,1059.7 L1261.2,1063.5 L1261.8,1061.7 L1262.4,1060.8 L1263.0,1065.6 L1263.6,1064.0 L1264.2,1067.7 L1264.8,1066.5 L1265.4,1070.2 L1266.0,1070.3 L1266.6,1072.1 L1267.4,1040.9 L1268.0,1043.6 L1268.7,1045.3 L1269.3,1048.9 L1270.0,1048.5 L1270.6,1052.1 L1271.1,1038.6 L1271.7,1012.7 L1272.2,1004.0 L1272.9,1000.1 L1273.5,983.1 L1274.1,988.8 L1274.8,975.8 L1275.4,972.0 L1276.1,971.0 L1276.7,963.2 L1277.3,963.3 L1278.0,965.8 L1278.6,965.6 L1279.1,971.8 L1279.7,990.9 L1280.2,994.4 L1280.8,995.7 L1281.4,999.6 L1281.9,999.3 L1282.5,1002.9 L1283.1,1002.5 L1283.6,1006.9 L1284.2,1007.3 L1284.8,991.4 L1285.3,981.7 L1285.8,960.8 L1286.4,965.5 L1287.0,984.3 L1287.6,988.6 L1288.2,1000.8 L1288.9,1007.5 L1289.5,1002.9 L1290.1,1018.1 L1290.8,1016.0 L1291.4,1023.3 L1292.0,1026.1 L1292.6,1027.4 L1293.1,1033.8 L1293.7,1032.1 L1294.3,1038.7 L1294.9,1038.8 L1295.4,1042.5 L1296.0,1042.5 L1296.6,1038.2 L1297.2,1040.8 L1297.8,1039.3 L1298.4,1042.5 L1298.9,1048.4 L1299.5,1048.1 L1300.0,1055.1 L1300.6,1054.6 L1301.2,1050.5 L1301.8,1051.6 L1302.4,1048.7 L1303.0,1039.6 L1303.6,1046.7 L1304.2,1030.0 L1304.8,1027.8 L1305.4,1037.3 L1306.0,1032.3 L1306.6,1044.7 L1307.2,1048.7 L1307.7,1035.2 L1308.3,1038.0 L1308.8,1023.0 L1309.4,978.9 L1309.9,950.3 L1310.5,962.1 L1311.1,969.6 L1311.7,992.3 L1312.2,993.1 L1312.8,1007.0 L1313.4,1010.4 L1314.0,1011.3 L1314.6,1015.4 L1315.2,1016.6 L1315.8,1001.5 L1316.3,988.8 L1316.9,995.8 L1317.5,993.8 L1318.1,1008.6 L1318.6,1007.4 L1319.2,1016.6 L1319.9,1021.1 L1320.5,1019.5 L1321.1,1031.4 L1321.8,1031.0 L1322.4,1035.8 L1323.0,1038.8 L1323.6,1036.7 L1324.2,1042.5 L1324.8,1042.3 L1325.4,1027.8 L1326.0,1032.1 L1326.6,1006.6 L1327.2,999.0 L1327.8,1011.5 L1328.4,1006.9 L1329.0,1032.5 L1329.6,1039.0 L1330.2,1041.1 L1330.8,1044.5 L1331.4,1045.9 L1332.0,1048.7 L1332.6,1043.0 L1333.1,1022.4 L1333.6,1011.8 L1334.2,1002.5 L1334.7,979.6 L1335.2,968.0 L1335.8,986.1 L1336.4,981.7 L1337.0,1017.9 L1337.6,1027.8 L1338.2,1028.7 L1338.8,1031.4 L1339.4,1029.6 L1340.0,1032.6 L1340.6,1037.6 L1341.2,1031.8 L1341.8,1045.5 L1342.4,1047.1 L1343.0,1048.6 L1343.6,1054.1 L1344.2,1051.2 L1344.8,1055.1 L1345.4,1051.9 L1346.0,1045.7 L1346.6,1047.2 L1347.2,1042.3 L1347.9,1043.7 L1348.5,1047.7 L1349.2,1048.5 L1349.8,1054.0 L1350.4,1055.1 L1351.1,1054.8 L1351.7,1056.8 L1352.4,1054.5 L1353.0,1057.8 L1353.6,1058.3 L1354.3,1056.9 L1354.9,1057.0 L1355.6,1054.4 L1356.2,1055.3 L1356.8,1053.5 L1357.5,1044.6 L1358.2,1046.1 L1358.9,1040.7 L1359.5,1040.9 L1360.0,1048.6 L1360.6,1048.7 L1361.1,1053.0 L1361.6,1055.1 L1362.2,1054.2 L1362.8,1056.5 L1363.4,1052.6 L1364.0,1053.5 L1364.7,1056.3 L1365.3,1054.9 L1366.0,1059.4 L1366.6,1058.2 L1367.3,1059.9 L1367.9,1062.3 L1368.5,1060.8 L1369.2,1064.4 L1369.8,1063.6 L1370.5,1066.3 L1371.0,1064.9 L1371.6,1051.4 L1372.2,1055.6 L1372.8,1049.2 L1373.3,1045.5 L1373.9,1049.2 L1374.4,1046.7 L1375.0,1051.7 L1375.5,1049.6 L1376.1,1053.5 L1376.7,1054.6 L1377.3,1053.8 L1378.0,1055.5 L1378.6,1053.0 L1379.3,1056.7 L1379.9,1052.3 L1380.5,1032.3 L1381.2,1027.0 L1381.9,1034.2 L1382.6,1036.6 L1383.3,1047.1 L1383.9,1050.9 L1384.5,1047.6 L1385.1,1056.0 L1385.7,1056.7 L1386.3,1050.3 L1386.9,1049.7 L1387.5,1043.7 L1388.1,1042.3 L1388.7,1045.9 L1389.3,1044.8 L1390.0,1053.0 L1390.6,1050.6 L1391.3,1055.1 L1391.9,1056.8 L1392.6,1056.3 L1393.2,1059.3 L1393.8,1058.3 L1394.5,1059.9 L1395.1,1062.7 L1395.7,1061.8 L1396.3,1066.2 L1396.9,1067.9 L1397.5,1063.2 L1398.1,1067.7 L1398.7,1058.5 L1399.3,1056.7 L1399.8,1058.1 L1400.4,1056.0 L1401.0,1059.0 L1401.6,1058.5 L1402.1,1060.5 L1402.7,1059.4 L1403.3,1061.5 L1403.9,1064.6 L1404.4,1063.0 L1405.0,1064.4 L1405.6,1063.1 L1406.1,1067.6 L1406.7,1065.7 L1407.3,1066.3 L1407.9,1067.8 L1408.6,1066.4 L1409.2,1069.7 L1409.8,1067.8 L1410.5,1068.7 L1411.1,1067.9 L1411.8,1065.0 L1412.4,1063.6 L1413.0,1060.0 L1413.7,1059.9 L1414.2,1064.7 L1414.8,1062.4 L1415.3,1066.3 L1415.9,1061.3 L1416.6,1042.3 L1417.2,1036.6 L1417.8,1042.3 L1418.4,1040.3 L1418.9,1048.7 L1419.5,1048.0 L1420.1,1055.1 L1420.7,1056.3 L1421.2,1054.6 L1421.8,1059.3 L1422.4,1056.5 L1423.0,1061.4 L1423.5,1060.2 L1424.1,1061.5 L1424.7,1064.0 L1425.3,1061.6 L1425.9,1067.0 L1426.5,1067.1 L1427.1,1032.0 L1427.6,999.0 L1428.3,1021.3 L1429.0,1015.8 L1429.7,1035.8 L1430.3,1038.6 L1431.0,1037.4 L1431.6,1041.2 L1432.3,1041.1 L1432.9,1043.9 L1433.5,1048.6 L1434.2,1049.0 L1434.8,1053.0 L1435.5,1052.3 L1436.1,1058.3 L1436.7,1054.6 L1437.3,1033.2 L1437.9,1038.6 L1438.5,1027.8 L1439.1,1030.6 L1439.7,1044.6 L1440.3,1038.1 L1440.9,1045.5 L1441.5,1045.5 L1442.1,1041.8 L1442.7,1042.3 L1443.3,1039.0 L1443.8,1015.8 L1444.4,1018.0 L1444.9,988.6 L1445.5,991.7 L1446.1,1008.2 L1446.7,1008.9 L1447.3,1016.6 L1448.0,1022.7 L1448.6,1021.2 L1449.2,1026.2 L1449.8,982.9 L1450.4,923.1 L1451.0,940.3 L1451.6,967.3 L1452.3,982.5 L1452.9,1007.0 L1453.6,1013.7 L1454.2,1012.9 L1454.8,1021.0 L1455.5,1022.4 L1456.1,1027.8 L1456.7,1031.6 L1457.3,1026.5 L1457.9,1036.0 L1458.5,1037.4 L1459.1,1035.5 L1459.7,1035.7 L1460.3,1034.8 L1460.9,1034.2 L1461.5,1037.1 L1462.0,1036.3 L1462.5,1040.7 L1463.1,993.8 L1463.6,923.8 L1464.3,941.9 L1465.0,972.8 L1465.7,995.8 L1466.3,996.9 L1466.9,1010.8 L1467.5,1007.3 L1468.1,1013.4 L1468.7,1005.8 L1469.2,990.9 L1469.7,984.6 L1470.3,997.9 L1470.9,992.2 L1471.5,1013.9 L1472.1,1019.8 L1472.7,1018.7 L1473.3,1024.0 L1473.9,1020.3 L1474.5,1023.0 L1475.1,1033.3 L1475.6,1030.6 L1476.1,1039.0 L1476.7,1038.4 L1477.3,1018.1 L1477.9,1022.5 L1478.4,1000.0 L1479.0,997.4 L1479.6,1003.2 L1480.1,1004.0 L1480.7,1016.1 L1481.2,1013.7 L1481.7,1019.8 L1482.3,1022.4 L1482.9,1022.8 L1483.5,1028.9 L1484.0,1026.4 L1484.6,1032.7 L1485.2,1033.1 L1485.7,1035.8 L1486.4,1038.7 L1487.0,1037.9 L1487.7,1043.4 L1488.3,1043.3 L1488.9,1047.1 L1489.5,1048.2 L1490.1,1046.1 L1490.7,1048.7 L1491.3,1046.3 L1491.9,1049.2 L1492.5,1044.6 L1493.1,1047.5 L1493.8,1048.7 L1494.3,1049.1 L1494.9,1052.8 L1495.5,1052.0 L1496.0,1057.2 L1496.6,1055.7 L1497.2,1059.1 L1497.8,1059.9 L1498.4,1059.8 L1499.0,1062.5 L1499.7,1060.0 L1500.3,1061.7 L1501.0,1061.5 L1501.5,1039.9 L1502.0,1034.6 L1502.6,1016.6 L1503.2,1011.6 L1503.8,1015.3 L1504.4,1004.4 L1505.0,1000.6 L1505.5,997.5 L1506.0,982.1 L1506.6,979.8 L1507.2,988.8 L1507.8,986.7 L1508.4,1008.1 L1509.0,1015.0 L1509.6,1019.0 L1510.2,1036.7 L1510.8,1025.4 L1511.4,1037.4 L1512.0,1041.5 L1512.6,1040.3 L1513.3,1047.0 L1513.9,1045.4 L1514.6,1050.3 L1515.1,1054.1 L1515.7,1052.4 L1516.3,1057.2 L1516.9,1056.3 L1517.4,1059.4 L1518.0,1058.5 L1518.6,1061.5 L1519.2,1060.4 L1519.9,1057.0 L1520.5,1057.1 L1521.1,1052.1 L1521.8,1051.9 L1522.4,1054.4 L1523.0,1053.7 L1523.6,1059.5 L1524.2,1059.9 L1524.8,995.6 L1525.5,944.7 L1526.0,957.9 L1526.5,959.7 L1527.1,988.1 L1527.6,987.1 L1528.2,1003.8 L1528.8,1010.4 L1529.4,1006.4 L1530.0,1022.5 L1530.6,1023.0 L1531.2,1022.0 L1531.8,1024.8 L1532.4,1024.3 L1533.0,1024.6 L1533.6,1029.7 L1534.3,1028.8 L1534.9,1036.1 L1535.5,1036.1 L1536.2,1039.0 L1536.8,1041.9 L1537.3,1040.7 L1537.9,1046.1 L1538.5,1044.5 L1539.0,1049.4 L1539.6,1048.1 L1540.2,1050.3 L1540.8,1049.5 L1541.5,1047.0 L1542.1,1048.0 L1542.7,1045.0 L1543.4,1043.9 L1543.9,1049.1 L1544.5,1049.0 L1545.0,1051.9 L1545.6,943.9 L1546.2,954.1 L1546.8,962.3 L1547.4,978.9 L1548.0,973.9 L1548.6,1001.4 L1549.2,1003.7 L1549.8,1015.0 L1550.4,1028.6 L1551.0,1020.7 L1551.6,1036.5 L1552.2,1042.3 L1552.8,1041.0 L1553.5,1043.0 L1554.1,1039.5 L1554.8,1041.1 L1555.4,1039.0 L1556.0,1041.0 L1556.6,1044.5 L1557.2,1045.9 L1557.8,1048.7 L1558.3,1049.8 L1558.9,1048.7 L1559.4,1052.9 L1560.0,1051.9 L1560.6,1053.2 L1561.3,1056.2 L1561.9,1057.3 L1562.6,1061.3 L1563.2,1061.5 L1563.8,1057.3 L1564.3,1058.7 L1564.9,1053.4 L1565.5,1054.4 L1566.1,1049.6 L1566.6,1050.1 L1567.2,1047.1 L1567.8,1047.1 L1568.5,1054.5 L1569.1,1050.0 L1569.8,1058.2 L1570.4,1058.3 L1571.0,1057.8 L1571.6,1059.7 L1572.2,1057.9 L1572.8,1059.8 L1573.4,1059.0 L1574.0,1061.8 L1574.6,1059.3 L1575.2,1059.9 L1575.8,1062.3 L1576.4,1062.4 L1577.0,1065.3 L1577.6,1066.3 L1578.1,1048.5 L1578.7,1058.1 L1579.2,1043.1 L1579.8,1045.7 L1580.4,1055.2 L1581.0,1052.6 L1581.6,1061.5 L1582.2,1064.1 L1582.8,1061.8 L1583.3,1065.2 L1583.9,1065.1 L1584.5,1068.6 L1585.0,1067.9 L1585.6,1069.5 L1586.3,1069.4 L1586.9,1066.0 L1587.5,1065.0 L1588.2,1062.2 L1588.8,1061.5 L1589.4,1055.2 L1589.9,1041.5 L1590.4,1041.5 L1591.0,1046.6 L1591.6,1045.5 L1592.2,1055.6 L1592.8,1058.3 L1593.5,1056.5 L1594.1,1060.6 L1594.7,1059.9 L1595.4,1062.7 L1596.0,1061.5 L1596.7,1059.8 L1597.3,1060.1 L1597.9,1056.3 L1598.6,1056.8 L1599.2,1055.1 L1599.8,1028.5 L1600.4,1021.4 L1601.0,1039.3 L1601.7,1035.5 L1602.4,1051.9 L1603.0,1046.6 L1603.5,1034.0 L1604.0,1027.0 L1604.6,1039.3 L1605.2,1034.2 L1605.8,1048.6 L1606.4,1053.5 L1607.0,1041.6 L1607.6,1041.8 L1608.2,1024.0 L1608.8,1020.6 L1609.4,1030.2 L1610.0,1030.6 L1610.6,1045.9 L1611.2,1048.7 L1611.9,1051.7 L1612.5,1057.9 L1613.2,1057.4 L1613.8,1064.2 L1614.4,1066.3 L1615.0,1065.9 L1615.6,1067.7 L1616.2,1065.8 L1616.8,1067.9 L1617.4,1063.4 L1617.9,1052.9 L1618.4,1049.5 L1619.0,1052.7 L1619.6,1053.2 L1620.2,1060.1 L1620.8,1061.5 L1621.5,1060.6 L1622.1,1062.0 L1622.8,1060.1 L1623.4,1061.2 L1624.0,1059.9 L1624.6,1038.3 L1625.1,1027.8 L1625.7,1005.4 L1626.3,1014.1 L1626.9,1034.7 L1627.6,1039.0 L1628.3,1027.5 L1629.0,1024.9 L1629.7,1015.0 L1630.3,1015.9 L1630.9,1033.1 L1631.5,1030.2 L1632.1,1037.4 L1632.7,1039.2 L1633.3,1037.6 L1634.0,1040.5 L1634.6,1038.7 L1635.3,1040.7 L1635.9,1045.1 L1636.5,1043.9 L1637.2,1048.5 L1637.8,1049.7 L1638.5,1053.5 L1639.0,1055.0 L1639.6,1054.5 L1640.2,1057.0 L1640.7,1056.6 L1641.3,1059.0 L1641.9,1057.0 L1642.5,1059.9 L1643.0,1061.2 L1643.6,1059.7 L1644.2,1061.4 L1644.8,1060.7 L1645.3,1062.0 L1645.9,1060.7 L1646.5,1061.5 L1647.1,1060.7 L1647.7,1056.1 L1648.4,1058.3 L1649.0,1053.5 L1649.7,1053.5 L1650.3,1053.3 L1650.9,1043.4 L1651.5,1046.4 L1652.1,1042.3 L1652.6,1042.3 L1653.1,1057.9 L1653.7,1056.7 L1654.2,1054.7 L1654.8,1057.8 L1655.4,1057.1 L1656.0,1060.0 L1656.5,1058.4 L1657.1,1062.2 L1657.7,1061.5 L1658.3,1059.2 L1659.0,1061.9 L1659.6,1060.0 L1660.2,1061.4 L1660.9,1059.9 L1661.5,1061.6 L1662.1,1064.7 L1662.7,1065.5 L1663.3,1067.9 L1663.9,1068.9 L1664.5,1054.8 L1665.1,1058.5 L1665.7,1050.3 L1666.3,1048.7 L1666.8,1051.3 L1667.4,1049.0 L1668.0,1050.0 L1668.5,1047.6 L1669.1,1049.0 L1669.7,1047.1 L1670.3,1047.1 L1670.9,1052.4 L1671.5,1050.1 L1672.1,1055.1 L1672.7,1057.9 L1673.4,1056.9 L1674.0,1060.5 L1674.6,1058.6 L1675.3,1061.5 L1675.9,1054.4 L1676.6,1033.9 L1677.2,1027.8 L1677.9,1041.3 L1678.6,1041.6 L1679.3,1050.3 L1680.0,1048.8 L1680.7,1036.0 L1681.4,1036.6 L1681.9,1040.5 L1682.5,1040.2 L1683.0,1048.9 L1683.6,1046.1 L1684.1,1050.3 L1684.7,1053.7 L1685.4,1051.4 L1686.0,1054.8 L1686.7,1052.3 L1687.3,1055.9 L1687.9,1054.3 L1688.4,1052.6 L1689.0,1054.8 L1689.6,1053.0 L1690.2,1054.4 L1690.7,1051.0 L1691.3,1051.9 L1691.9,1047.9 L1692.5,1032.9 L1693.1,1032.6 L1693.7,1021.4 L1694.3,1011.5 L1694.9,1007.1 L1695.5,994.5 L1696.1,987.0 L1696.7,996.7 L1697.3,1001.8 L1697.9,1018.0 L1698.5,1021.4 L1699.1,1024.7 L1699.8,1031.2 L1700.4,1029.9 L1701.1,1037.6 L1701.7,1039.0 L1702.3,1038.6 L1702.9,1042.9 L1703.4,1041.6 L1704.0,1044.5 L1704.6,1043.9 L1705.1,1046.5 L1705.7,1047.1 L1706.4,1047.5 L1707.0,1049.2 L1707.6,1048.0 L1708.3,1051.4 L1708.9,1050.3 L1709.5,1044.7 L1710.1,1041.2 L1710.7,1032.4 L1711.3,1030.2 L1711.9,1039.7 L1712.5,1032.9 L1713.1,1050.8 L1713.7,1051.9 L1714.4,1049.7 L1715.0,1050.8 L1715.6,1047.7 L1716.3,1050.4 L1716.9,1047.1 L1717.6,1045.1 L1718.2,1048.3 L1718.8,1044.0 L1719.5,1045.5 L1720.1,1043.9 L1720.7,1045.4 L1721.3,1051.4 L1721.9,1051.9 L1722.5,1056.7 L1723.1,1057.9 L1723.7,1056.4 L1724.2,1059.0 L1724.8,1057.5 L1725.4,1060.8 L1726.0,1057.4 L1726.5,1059.9 L1727.1,1056.6 L1727.6,1026.8 L1728.1,1021.4 L1728.7,1020.0 L1729.3,1010.4 L1729.9,1014.0 L1730.5,1007.8 L1731.1,1013.4 L1731.6,1034.1 L1732.1,1039.0 L1732.7,1041.1 L1733.3,1055.1 L1733.9,1049.7 L1734.5,1055.1 L1735.2,1053.8 L1735.8,1048.8 L1736.5,1051.7 L1737.1,1045.3 L1737.7,1044.7 L1738.4,1048.3 L1739.0,1047.4 L1739.7,1056.6 L1740.3,1054.2 L1740.9,1056.7 L1741.5,1058.8 L1742.1,1057.8 L1742.7,1060.8 L1743.2,1060.4 L1743.8,1063.2 L1744.4,1061.8 L1744.9,1064.7 L1745.5,1068.7 L1746.1,1065.3 L1746.7,1069.4 L1747.2,1067.2 L1747.8,1070.6 L1748.4,1068.3 L1748.9,1070.3 L1749.5,1069.8 L1750.1,1067.1 L1750.7,1068.1 L1751.3,1064.2 L1751.9,1065.1 L1752.5,1063.5 L1753.1,1063.4 L1753.8,1061.5 L1754.4,1061.7 L1755.0,1066.1 L1755.6,1063.8 L1756.2,1065.7 L1756.8,1065.0 L1757.4,1067.9 L1758.0,1065.0 L1758.6,1067.9 L1759.2,1070.4 L1759.8,1067.5 L1760.4,1070.7 L1761.0,1069.3 L1761.6,1071.6 L1762.2,1070.4 L1762.8,1071.5 L1763.4,1071.1 L1764.0,1064.8 L1764.6,1066.5 L1765.2,1053.8 L1765.8,1051.9 L1766.3,1045.7 L1766.8,1028.5 L1767.4,1019.0 L1768.0,1029.8 L1768.6,1036.2 L1769.2,1047.3 L1769.8,1055.1 L1770.4,1047.8 L1771.0,1049.4 L1771.6,1042.1 L1772.2,1039.0 L1772.8,1043.9 L1773.4,1039.8 L1774.1,1051.8 L1774.7,1051.7 L1775.4,1056.7 L1776.0,1059.5 L1776.6,1057.7 L1777.3,1061.4 L1777.9,1059.2 L1778.6,1061.5 L1779.4,1023.0 L1780.2,945.5 L1780.7,963.3 L1781.3,966.9 L1781.8,988.6 L1782.3,993.8 L1782.9,1007.0 L1783.6,1016.3 L1784.3,1012.1 L1785.0,1021.4 L1785.6,1022.5 L1786.2,1020.5 L1786.8,1022.7 L1787.4,1021.4 L1788.2,983.8 L1788.8,987.4 L1789.4,1003.7 L1790.0,999.2 L1790.6,1010.2 L1791.2,1019.5 L1791.8,1020.1 L1792.4,1028.4 L1793.0,1031.0 L1793.6,1031.0 L1794.3,1035.6 L1794.9,1033.9 L1795.5,1035.8 L1796.2,1035.8 L1796.8,998.9 L1797.5,986.2 L1798.0,994.7 L1798.6,994.9 L1799.1,1002.6 L1799.6,1003.8 L1800.2,1011.8 L1800.8,1018.6 L1801.5,1018.9 L1802.1,1028.7 L1802.7,1030.6 L1803.4,1037.4 L1804.0,1034.3 L1804.6,1028.5 L1805.2,1029.6 L1805.8,1024.6 L1806.4,1027.0 L1807.1,1036.9 L1807.7,1031.3 L1808.4,1039.7 L1809.0,1042.3 L1809.6,1042.2 L1810.2,1046.1 L1810.8,1044.0 L1811.4,1048.5 L1812.0,1046.4 L1812.6,1051.0 L1813.2,1048.6 L1813.8,1051.9 L1814.4,1052.2 L1814.9,1051.0 L1815.5,1052.6 L1816.1,1051.3 L1816.7,1053.7 L1817.2,1052.2 L1817.8,1053.5 L1818.4,1057.1 L1819.1,1055.2 L1819.7,1060.6 L1820.4,1058.9 L1821.0,1062.3 L1821.6,1054.8 L1822.2,1040.3 L1822.8,1039.8 L1823.4,1031.0 L1823.9,1015.7 L1824.5,1012.9 L1825.0,1002.2 L1825.7,1013.5 L1826.4,1033.1 L1827.1,1043.9 L1827.7,1045.3 L1828.3,1051.4 L1828.8,1050.1 L1829.4,1055.1 L1830.0,1055.3 L1830.6,1058.3 L1831.1,1047.2 L1831.7,1022.4 L1832.2,1007.0 L1833.0,993.6 L1833.5,1009.0 L1834.1,1010.5 L1834.6,1023.0 L1835.4,1048.2 L1836.9,1048.6"/>
<path stroke="#4DBEEE" d="M188.5,282.1 L190.0,286.6 L191.5,293.1 L193.0,301.2 L194.5,310.3 L196.0,320.1 L197.5,330.0 L199.0,339.7 L200.5,349.2 L202.0,358.3 L203.5,367.1 L205.0,375.4 L206.5,383.2 L208.0,390.5 L209.5,397.2 L211.0,403.3 L212.5,408.8 L214.0,413.9 L215.5,418.5 L217.0,423.0 L218.5,427.2 L220.0,431.3 L221.5,435.4 L223.0,439.3 L224.5,443.2 L226.0,447.2 L227.5,451.1 L229.0,455.0 L230.5,459.0 L232.0,462.9 L233.5,466.8 L235.0,470.7 L236.5,474.7 L238.0,478.6 L239.5,482.5 L241.0,486.4 L242.5,490.2 L244.0,494.0 L245.5,498.2 L247.0,501.8 L248.5,505.6 L250.0,509.8 L251.5,513.3 L253.0,517.4 L254.5,520.9 L256.0,524.5 L257.5,528.4 L259.0,532.6 L260.5,535.7 L262.0,539.6 L263.5,544.1 L265.0,547.0 L266.5,550.7 L268.0,555.1 L269.5,559.0 L271.0,562.7 L272.5,565.6 L274.0,569.7 L275.5,573.3 L277.0,577.6 L278.5,580.5 L280.0,584.7 L281.5,587.6 L283.0,591.5 L284.5,596.4 L286.0,600.1 L287.5,603.2 L289.0,606.8 L290.5,610.4 L292.0,615.2 L293.5,618.5 L295.0,622.8 L296.5,625.9 L298.0,629.9 L299.5,633.6 L301.0,636.9 L302.5,640.4 L304.0,643.8 L305.5,648.0 L307.0,653.2 L308.5,655.9 L310.0,660.5 L311.5,664.5 L313.0,666.9 L314.5,671.8 L316.0,675.3 L317.5,680.6 L319.0,683.7 L320.5,688.2 L322.0,692.5 L323.5,697.3 L325.0,702.3 L326.5,706.1 L328.0,711.3 L329.5,715.7 L331.0,720.6 L332.5,725.5 L334.0,732.1 L335.5,736.5 L337.0,742.3 L338.5,748.0 L339.2,750.1"/>
<path stroke="#4DBEEE" stroke-width="2.7" stroke-linejoin="miter" stroke-miterlimit="3" d="M339.2,750.1 L339.6,749.9 L340.1,756.5 L340.5,754.6 L341.0,757.2 L341.5,756.3 L341.9,760.9 L342.4,759.5 L342.8,763.0 L343.3,765.5 L343.7,763.9 L344.2,770.0 L344.6,769.2 L345.0,773.1 L345.5,768.8 L345.9,777.8 L346.3,774.1 L346.8,778.5 L347.2,777.8 L347.6,780.6 L348.1,785.1 L348.5,782.5 L349.0,788.0 L349.4,785.0 L349.8,789.2 L350.3,789.0 L350.7,794.1 L351.1,788.7 L351.6,794.9 L352.0,793.9 L352.4,796.6 L352.9,801.6 L353.4,796.9 L353.8,803.8 L354.3,799.7 L354.7,807.3 L355.2,805.3 L355.7,807.8 L356.1,810.2 L356.5,804.7 L357.0,811.1 L357.4,805.9 L357.8,813.3 L358.3,808.1 L358.7,810.4 L359.1,808.9 L359.6,811.5 L360.0,809.0 L360.5,811.0 L360.9,815.0 L361.3,814.7 L361.8,818.4 L362.2,816.5 L362.6,821.0 L363.1,819.9 L363.5,827.5 L363.9,825.5 L364.4,828.1 L364.8,828.0 L365.3,831.9 L365.7,832.3 L366.2,826.9 L366.6,825.2 L367.1,819.7 L367.5,823.6 L368.0,815.7 L368.5,815.8 L368.9,822.8 L369.3,815.5 L369.7,826.3 L370.1,827.1 L370.5,822.5 L371.0,827.1 L371.4,816.1 L371.9,817.1 L372.3,806.6 L372.8,809.1 L373.3,804.6 L373.7,806.3 L374.2,816.4 L374.6,813.3 L375.1,822.1 L375.6,823.9 L376.0,829.5 L376.5,831.9 L376.9,834.6 L377.4,841.4 L377.8,840.3 L378.3,850.1 L378.8,850.7 L379.2,856.7 L379.7,859.1 L380.1,858.6 L380.6,866.9 L381.0,861.4 L381.5,873.8 L382.0,871.7 L382.4,879.3 L382.9,878.3 L383.3,875.4 L383.8,881.5 L384.2,876.9 L384.7,883.1 L385.2,879.9 L385.6,883.9 L386.1,883.1 L386.5,874.8 L386.9,875.7 L387.3,867.9 L387.7,863.9 L388.2,864.3 L388.6,843.8 L389.1,853.9 L389.6,835.3 L390.1,833.5 L390.6,836.4 L391.0,834.5 L391.5,843.6 L392.0,842.4 L392.5,847.9 L393.0,858.3 L393.4,850.0 L393.9,879.6 L394.4,866.5 L394.9,873.5 L395.4,876.5 L395.8,877.1 L396.3,885.4 L396.8,884.0 L397.3,887.9 L397.8,887.8 L398.2,881.4 L398.7,886.5 L399.2,880.5 L399.7,879.9 L400.1,886.3 L400.6,884.2 L401.0,892.7 L401.5,890.2 L401.9,908.3 L402.4,897.0 L402.8,912.6 L403.2,912.1 L403.7,916.7 L404.2,910.5 L404.6,863.8 L405.1,892.4 L405.6,876.7 L406.1,879.8 L406.6,889.1 L407.1,881.7 L407.5,893.7 L408.0,889.8 L408.5,895.9 L408.9,901.2 L409.4,897.0 L409.9,906.3 L410.3,899.1 L410.8,905.6 L411.2,901.6 L411.7,908.7 L412.2,911.7 L412.7,910.0 L413.1,913.2 L413.6,910.6 L414.1,913.5 L414.6,918.4 L415.1,914.7 L415.5,925.0 L416.0,923.0 L416.5,927.9 L416.9,921.7 L417.3,887.4 L417.7,900.7 L418.1,879.9 L418.5,871.1 L418.9,883.4 L419.3,852.0 L419.7,851.1 L420.1,866.9 L420.5,855.6 L420.9,876.7 L421.3,876.7 L421.8,880.4 L422.2,890.1 L422.7,887.3 L423.1,902.3 L423.6,894.5 L424.0,905.7 L424.5,907.1 L425.0,905.1 L425.4,914.2 L425.9,911.6 L426.3,921.9 L426.8,916.6 L427.2,924.6 L427.7,924.7 L428.2,914.2 L428.7,918.8 L429.1,905.4 L429.6,908.6 L430.1,899.1 L430.6,901.3 L431.1,909.7 L431.5,901.1 L432.0,918.6 L432.5,919.9 L433.0,903.1 L433.5,896.3 L434.0,861.7 L434.4,860.0 L434.9,844.7 L435.4,848.6 L435.9,858.8 L436.4,861.0 L436.8,872.9 L437.3,876.7 L437.8,877.5 L438.2,884.7 L438.7,879.0 L439.1,894.1 L439.6,892.0 L440.1,897.7 L440.5,899.1 L441.0,900.5 L441.4,906.1 L441.9,902.2 L442.3,909.9 L442.7,906.5 L443.2,913.3 L443.6,912.1 L444.1,918.7 L444.5,918.3 L444.9,906.0 L445.3,912.0 L445.7,897.8 L446.1,899.1 L446.6,902.9 L447.0,904.0 L447.5,914.6 L447.9,907.1 L448.3,920.4 L448.8,914.2 L449.2,926.1 L449.7,923.9 L450.1,927.9 L450.6,922.8 L451.1,908.7 L451.6,912.1 L452.0,901.4 L452.5,895.9 L453.0,902.1 L453.5,895.4 L454.0,909.0 L454.4,909.0 L454.9,916.7 L455.4,923.8 L455.9,921.9 L456.4,933.7 L456.8,932.5 L457.3,937.5 L457.8,933.4 L458.3,917.8 L458.8,926.3 L459.3,910.5 L459.7,908.7 L460.2,904.3 L460.7,895.0 L461.2,904.3 L461.7,883.1 L462.1,881.5 L462.6,890.6 L463.1,889.8 L463.6,910.7 L464.1,895.7 L464.5,911.9 L465.0,918.0 L465.5,915.1 L466.0,928.4 L466.5,925.9 L466.9,931.1 L467.3,922.5 L467.7,902.7 L468.1,909.8 L468.5,891.1 L469.0,886.3 L469.5,893.8 L470.0,887.6 L470.5,893.1 L470.9,889.5 L471.4,894.4 L471.9,901.6 L472.4,903.7 L472.9,912.5 L473.3,915.1 L473.8,917.2 L474.3,925.4 L474.7,924.8 L475.2,930.2 L475.6,926.4 L476.1,938.3 L476.5,939.1 L476.9,924.0 L477.3,930.3 L477.7,888.0 L478.1,886.3 L478.6,898.5 L479.1,896.1 L479.6,914.8 L480.1,902.5 L480.5,915.1 L481.0,928.5 L481.5,923.7 L481.9,946.1 L482.4,930.5 L482.8,959.4 L483.3,947.4 L483.8,960.0 L484.2,955.0 L484.7,939.9 L485.1,950.8 L485.6,934.8 L486.0,940.2 L486.5,926.6 L487.0,921.5 L487.4,919.3 L487.9,909.5 L488.3,911.1 L488.8,893.5 L489.2,904.2 L489.7,897.9 L490.2,895.9 L490.6,907.1 L491.1,895.7 L491.6,930.4 L492.1,927.0 L492.6,939.1 L493.0,936.1 L493.5,926.3 L494.0,933.4 L494.5,922.4 L495.0,921.5 L495.4,921.2 L495.9,897.5 L496.3,909.8 L496.8,885.8 L497.2,890.8 L497.7,878.4 L498.2,873.5 L498.6,885.0 L499.1,882.2 L499.5,896.0 L500.0,878.6 L500.4,907.8 L500.9,907.8 L501.4,915.1 L501.8,919.7 L502.3,917.9 L502.7,930.0 L503.2,926.4 L503.7,935.3 L504.1,930.0 L504.6,935.9 L505.0,932.2 L505.5,909.3 L506.0,928.0 L506.5,902.0 L507.0,900.7 L507.4,906.8 L507.9,903.0 L508.4,912.8 L508.9,912.2 L509.4,918.3 L509.8,924.5 L510.3,921.6 L510.7,933.5 L511.2,928.3 L511.7,938.3 L512.1,939.7 L512.6,945.5 L513.0,943.6 L513.5,928.0 L513.9,939.3 L514.4,911.2 L514.9,928.9 L515.3,902.3 L515.8,903.9 L516.3,914.9 L516.7,915.1 L517.2,933.6 L517.7,927.1 L518.2,939.1 L518.6,935.6 L519.1,923.8 L519.5,928.7 L520.0,909.2 L520.5,911.0 L520.9,894.3 L521.4,891.1 L521.9,899.2 L522.3,891.7 L522.8,911.2 L523.3,909.1 L523.8,921.5 L524.2,920.5 L524.7,914.5 L525.1,915.7 L525.5,911.2 L526.0,910.7 L526.4,904.5 L526.8,908.1 L527.3,900.2 L527.7,902.2 L528.1,893.4 L528.6,894.3 L529.0,901.8 L529.5,904.2 L530.0,919.5 L530.4,909.5 L530.9,925.2 L531.3,922.6 L531.8,931.1 L532.2,935.0 L532.7,936.3 L533.1,941.9 L533.5,937.6 L534.0,947.0 L534.4,942.7 L534.8,954.4 L535.3,950.9 L535.7,957.5 L536.2,955.4 L536.6,960.0 L537.0,962.8 L537.5,959.5 L537.9,965.3 L538.3,963.1 L538.8,965.3 L539.2,965.4 L539.6,967.3 L540.1,964.7 L540.5,971.6 L541.0,967.5 L541.4,971.2 L541.9,970.3 L542.3,950.9 L542.8,956.8 L543.2,939.2 L543.7,945.1 L544.1,934.3 L544.6,931.1 L545.1,930.6 L545.6,926.6 L546.0,928.4 L546.5,921.7 L547.0,921.5 L547.5,929.8 L548.0,922.2 L548.4,937.9 L548.9,940.7 L549.4,947.1 L549.9,952.4 L550.3,951.9 L550.8,957.9 L551.2,951.1 L551.7,962.5 L552.1,958.9 L552.6,964.8 L553.1,964.3 L553.5,961.1 L554.0,962.7 L554.4,960.2 L554.9,963.0 L555.3,958.3 L555.8,958.4 L556.3,954.7 L556.7,944.3 L557.2,950.9 L557.6,935.1 L558.1,941.7 L558.6,926.6 L559.0,923.1 L559.5,923.2 L559.9,920.2 L560.4,923.7 L560.8,919.5 L561.3,922.0 L561.8,918.5 L562.2,918.3 L562.7,923.0 L563.1,923.1 L563.6,933.7 L564.0,925.9 L564.5,937.4 L565.0,938.0 L565.4,942.3 L565.9,947.6 L566.3,944.5 L566.7,952.1 L567.2,946.7 L567.6,962.3 L568.1,957.2 L568.5,961.1 L569.0,961.1 L569.4,964.8 L569.9,966.3 L570.4,965.5 L570.9,971.3 L571.3,965.6 L571.8,969.6 L572.2,947.2 L572.6,883.1 L573.1,883.6 L573.5,898.3 L574.0,886.6 L574.4,916.8 L574.9,913.8 L575.4,929.1 L575.8,931.1 L576.3,932.6 L576.7,942.5 L577.2,935.5 L577.6,949.0 L578.0,941.9 L578.5,958.4 L578.9,955.1 L579.4,963.8 L579.8,963.2 L580.3,951.6 L580.7,948.6 L581.2,914.6 L581.6,935.6 L582.0,894.0 L582.5,911.7 L582.9,887.5 L583.4,880.7 L583.8,870.3 L584.3,870.8 L584.7,879.7 L585.2,876.5 L585.6,895.3 L586.1,886.7 L586.5,895.4 L586.9,897.6 L587.4,906.8 L587.8,907.1 L588.3,911.8 L588.7,918.2 L589.2,915.9 L589.6,930.6 L590.1,924.2 L590.5,940.7 L590.9,935.6 L591.4,949.0 L591.8,952.0 L592.3,935.1 L592.8,936.5 L593.3,915.4 L593.8,908.5 L594.2,895.9 L594.7,892.7 L595.2,895.5 L595.6,890.7 L596.1,893.8 L596.5,889.8 L597.0,894.7 L597.4,891.1 L597.9,880.9 L598.4,883.6 L598.9,872.2 L599.4,867.1 L600.0,867.1 L600.5,877.4 L601.0,875.4 L601.4,894.9 L601.9,889.8 L602.4,895.9 L602.9,903.4 L603.4,896.1 L603.8,910.9 L604.3,908.0 L604.8,915.1 L605.3,923.6 L605.8,913.0 L606.2,939.9 L606.7,935.0 L607.2,942.3 L607.7,942.5 L608.2,931.9 L608.6,935.2 L609.1,926.6 L609.6,923.1 L610.1,931.5 L610.5,933.2 L611.0,948.1 L611.4,933.9 L611.9,956.4 L612.4,949.9 L612.8,960.0 L613.2,959.8 L613.6,942.4 L614.0,949.6 L614.4,940.7 L614.9,940.2 L615.4,953.5 L615.9,947.8 L616.3,958.9 L616.8,958.4 L617.3,957.7 L617.7,964.6 L618.1,961.7 L618.6,967.9 L619.0,965.7 L619.5,970.8 L619.9,969.3 L620.4,973.3 L620.8,974.4 L621.3,964.3 L621.7,970.0 L622.2,957.4 L622.6,966.9 L623.1,944.7 L623.6,941.9 L624.0,935.9 L624.5,935.6 L625.0,950.6 L625.5,943.0 L625.9,950.6 L626.4,953.6 L626.9,954.9 L627.4,967.0 L627.9,961.3 L628.3,966.6 L628.8,968.0 L629.3,963.5 L629.7,965.4 L630.2,952.6 L630.7,960.8 L631.1,948.5 L631.6,947.6 L632.0,942.3 L632.5,939.1 L632.9,941.9 L633.4,931.1 L633.9,935.6 L634.3,929.8 L634.8,930.9 L635.2,926.3 L635.7,929.5 L636.1,938.1 L636.6,933.0 L637.1,948.6 L637.5,943.7 L638.0,953.6 L638.4,953.6 L638.8,928.5 L639.2,918.0 L639.6,885.4 L640.0,870.3 L640.5,870.9 L641.0,864.7 L641.5,868.2 L642.0,863.7 L642.4,865.5 L642.9,882.5 L643.4,878.8 L643.9,905.0 L644.4,898.7 L644.8,908.7 L645.3,909.5 L645.8,901.1 L646.3,907.7 L646.8,899.2 L647.2,899.1 L647.7,912.0 L648.2,904.3 L648.7,925.9 L649.2,921.9 L649.6,935.9 L650.1,930.8 L650.6,899.9 L651.1,908.1 L651.6,882.3 L652.0,875.1 L652.4,877.8 L652.8,854.6 L653.2,860.7 L653.6,854.3 L654.0,855.3 L654.4,895.7 L654.8,878.5 L655.2,895.9 L655.7,890.9 L656.1,865.1 L656.5,877.9 L656.9,865.5 L657.3,859.1 L657.8,870.3 L658.3,854.5 L658.8,892.7 L659.2,889.5 L659.7,890.5 L660.2,907.5 L660.7,895.4 L661.2,913.3 L661.6,915.1 L662.1,918.7 L662.6,925.0 L663.0,927.1 L663.5,934.5 L663.9,930.3 L664.4,941.7 L664.9,943.9 L665.3,946.2 L665.8,953.5 L666.3,949.4 L666.8,957.8 L667.3,958.4 L667.7,948.1 L668.1,962.6 L668.5,928.5 L668.9,924.7 L669.3,933.3 L669.8,933.3 L670.3,949.8 L670.8,945.6 L671.3,953.6 L671.7,957.6 L672.2,953.1 L672.6,959.6 L673.1,954.1 L673.5,964.2 L674.0,961.7 L674.5,963.2 L674.9,964.0 L675.4,956.6 L675.9,958.7 L676.4,951.3 L676.9,950.4 L677.3,955.3 L677.8,953.9 L678.2,959.8 L678.7,956.4 L679.1,961.9 L679.6,962.4 L680.1,964.8 L680.5,956.3 L681.0,928.7 L681.5,940.3 L682.0,911.8 L682.5,910.3 L682.9,920.0 L683.4,920.2 L683.9,943.0 L684.4,938.5 L684.9,947.1 L685.3,945.6 L685.8,938.1 L686.3,944.5 L686.8,938.0 L687.3,935.9 L687.7,945.6 L688.2,943.0 L688.7,962.4 L689.2,956.9 L689.7,963.2 L690.1,969.6 L690.6,964.9 L691.0,975.0 L691.5,965.9 L692.0,978.2 L692.4,977.3 L692.9,980.8 L693.3,981.2 L693.8,970.7 L694.2,976.2 L694.7,965.7 L695.2,969.2 L695.6,963.7 L696.1,961.6 L696.6,960.8 L697.0,948.4 L697.5,949.2 L698.0,939.1 L698.5,940.7 L698.9,946.4 L699.4,943.6 L699.8,953.2 L700.3,950.3 L700.8,956.3 L701.2,958.2 L701.7,961.6 L702.2,966.7 L702.6,965.3 L703.1,972.4 L703.6,974.7 L704.1,979.2 L704.5,974.1 L704.9,943.8 L705.3,944.9 L705.7,926.3 L706.1,927.0 L706.6,932.7 L707.1,927.4 L707.5,933.1 L708.0,932.3 L708.4,935.1 L708.9,935.9 L709.4,928.5 L709.8,933.1 L710.3,909.7 L710.8,917.3 L711.3,911.9 L711.7,913.6 L712.2,919.4 L712.7,910.6 L713.1,927.2 L713.6,926.4 L714.0,931.9 L714.5,934.3 L715.0,935.9 L715.4,953.8 L715.9,940.4 L716.4,959.6 L716.9,958.4 L717.5,916.3 L718.0,889.5 L718.5,896.4 L719.0,895.9 L719.5,915.2 L719.9,896.0 L720.4,913.0 L720.9,915.1 L721.4,916.1 L721.8,923.7 L722.3,922.5 L722.7,937.0 L723.2,928.2 L723.6,938.0 L724.1,939.1 L724.6,936.8 L725.0,941.0 L725.5,940.7 L725.9,944.9 L726.4,942.3 L726.8,948.2 L727.3,945.5 L727.8,931.4 L728.2,935.7 L728.7,915.3 L729.1,913.5 L729.6,885.9 L730.0,886.7 L730.5,875.1 L731.0,872.9 L731.5,891.5 L731.9,885.2 L732.4,903.4 L732.9,907.1 L733.4,905.6 L733.9,906.4 L734.3,902.2 L734.8,905.2 L735.3,900.7 L735.8,903.6 L736.3,921.7 L736.7,907.6 L737.2,928.6 L737.7,931.1 L738.2,932.0 L738.6,941.9 L739.0,941.3 L739.5,947.1 L739.9,948.8 L740.4,960.0 L740.8,956.9 L741.3,962.0 L741.7,964.8 L742.2,948.9 L742.7,951.4 L743.2,919.3 L743.6,926.3 L744.1,908.7 L744.6,908.0 L745.0,915.9 L745.5,915.8 L745.9,924.6 L746.4,921.6 L746.9,927.7 L747.3,927.9 L747.8,931.6 L748.3,940.4 L748.8,937.8 L749.2,948.5 L749.7,947.1 L750.2,947.3 L750.6,952.3 L751.1,949.7 L751.5,955.3 L752.0,956.1 L752.5,961.4 L752.9,960.0 L753.3,948.3 L753.7,953.2 L754.1,935.0 L754.5,937.5 L755.0,937.9 L755.4,930.8 L755.9,934.9 L756.3,925.3 L756.8,927.7 L757.3,920.7 L757.7,923.1 L758.2,930.0 L758.7,927.3 L759.2,941.6 L759.6,937.2 L760.1,943.9 L760.6,943.1 L761.1,932.6 L761.6,942.8 L762.0,930.0 L762.5,929.5 L763.0,937.5 L763.5,936.6 L764.0,953.4 L764.4,947.3 L764.9,955.2 L765.4,958.9 L765.8,956.0 L766.3,965.9 L766.8,959.1 L767.2,967.5 L767.7,967.8 L768.1,971.2 L768.6,975.9 L769.0,973.0 L769.5,980.6 L770.0,977.8 L770.4,981.7 L770.9,979.9 L771.3,984.0 L771.8,986.9 L772.2,984.4 L772.7,990.5 L773.2,986.6 L773.6,991.5 L774.1,990.5 L774.5,992.0 L774.9,986.7 L775.3,964.5 L775.7,971.0 L776.1,950.4 L776.6,952.5 L777.1,963.7 L777.6,953.5 L778.1,968.2 L778.5,968.0 L779.0,969.3 L779.5,984.4 L780.0,975.1 L780.5,986.4 L780.9,987.2 L781.3,969.2 L781.7,985.3 L782.1,946.7 L782.5,947.1 L783.0,951.6 L783.5,950.5 L784.0,959.3 L784.5,957.8 L784.9,963.2 L785.4,960.0 L785.9,945.6 L786.4,958.5 L786.9,946.4 L787.3,943.9 L787.8,948.2 L788.3,946.7 L788.7,954.0 L789.2,951.4 L789.6,959.4 L790.1,959.6 L790.5,963.2 L790.9,953.8 L791.3,932.1 L791.7,934.3 L792.1,908.7 L792.6,909.6 L793.1,920.2 L793.6,914.3 L794.1,926.7 L794.6,931.1 L795.0,929.8 L795.4,952.2 L795.8,947.2 L796.2,953.6 L796.6,950.6 L797.0,941.4 L797.5,946.8 L797.9,928.4 L798.4,931.0 L798.8,917.9 L799.3,924.3 L799.7,915.7 L800.2,911.9 L800.6,919.6 L801.1,920.2 L801.5,945.2 L802.0,919.6 L802.4,954.3 L802.9,951.9 L803.4,960.0 L803.8,952.1 L804.3,918.7 L804.8,918.7 L805.3,877.8 L805.8,870.3 L806.2,883.8 L806.7,871.6 L807.2,895.6 L807.7,892.9 L808.2,902.3 L808.6,907.6 L809.1,905.8 L809.5,920.1 L810.0,913.9 L810.4,924.3 L810.9,925.7 L811.4,931.1 L811.8,925.2 L812.3,899.8 L812.8,907.9 L813.3,895.0 L813.8,891.1 L814.2,894.3 L814.7,895.2 L815.2,906.2 L815.7,900.7 L816.2,903.9 L816.6,907.3 L817.1,906.2 L817.5,918.4 L818.0,908.8 L818.5,918.8 L818.9,918.5 L819.4,923.1 L819.9,932.7 L820.3,930.8 L820.8,947.5 L821.3,943.3 L821.8,950.4 L822.3,951.2 L822.7,942.1 L823.2,944.1 L823.7,937.7 L824.2,935.9 L824.7,940.5 L825.1,939.5 L825.6,947.8 L826.1,946.0 L826.6,950.4 L827.0,909.7 L827.4,847.9 L827.9,853.7 L828.3,878.8 L828.8,867.9 L829.3,899.4 L829.8,899.1 L830.3,904.2 L830.7,929.4 L831.2,917.1 L831.7,939.2 L832.2,937.5 L832.7,923.5 L833.1,933.3 L833.6,890.8 L834.1,905.9 L834.6,886.3 L835.0,888.9 L835.5,903.2 L836.0,892.3 L836.4,922.7 L836.9,907.8 L837.3,921.5 L837.8,923.1 L838.2,906.3 L838.6,908.5 L839.0,873.7 L839.4,865.5 L839.8,875.7 L840.2,867.8 L840.6,893.2 L841.0,891.1 L841.5,894.0 L841.9,907.0 L842.4,906.7 L842.9,917.5 L843.4,923.1 L843.9,905.4 L844.3,913.1 L844.8,882.3 L845.3,887.3 L845.8,875.1 L846.3,877.0 L846.8,887.8 L847.2,883.1 L847.7,896.3 L848.2,895.9 L848.6,897.2 L849.1,908.4 L849.6,900.5 L850.0,918.0 L850.5,910.2 L850.9,924.1 L851.4,924.7 L851.9,926.3 L852.3,943.8 L852.8,936.9 L853.2,945.6 L853.7,941.7 L854.1,954.6 L854.6,956.8 L855.0,933.9 L855.4,942.5 L855.8,897.6 L856.2,887.9 L856.7,893.7 L857.1,890.7 L857.6,901.7 L858.0,901.6 L858.5,910.1 L858.9,906.0 L859.4,911.9 L859.9,916.8 L860.3,913.0 L860.8,926.2 L861.2,918.2 L861.7,928.0 L862.1,925.7 L862.6,931.1 L863.1,938.7 L863.5,934.9 L864.0,949.1 L864.4,942.2 L864.9,953.8 L865.3,953.1 L865.8,958.4 L866.2,955.9 L866.6,929.1 L867.0,942.3 L867.4,931.1 L867.8,934.1 L868.3,938.8 L868.7,938.7 L869.2,946.1 L869.6,945.4 L870.0,958.0 L870.5,952.7 L870.9,963.0 L871.3,959.5 L871.8,968.0 L872.2,968.0 L872.7,953.3 L873.2,971.7 L873.7,918.3 L874.1,934.5 L874.6,918.3 L875.0,904.6 L875.4,926.1 L875.8,887.1 L876.2,894.3 L876.6,905.3 L877.0,900.0 L877.4,913.1 L877.8,915.1 L878.2,901.4 L878.6,916.0 L879.0,897.2 L879.4,892.7 L879.9,907.7 L880.4,900.4 L880.9,936.6 L881.3,927.1 L881.8,942.3 L882.2,944.3 L882.6,908.4 L883.0,928.7 L883.4,907.1 L883.9,911.0 L884.4,928.3 L884.9,920.6 L885.3,935.8 L885.8,940.7 L886.3,941.9 L886.8,957.1 L887.3,949.8 L887.7,959.7 L888.2,958.4 L888.7,958.3 L889.2,971.8 L889.7,965.0 L890.1,971.5 L890.6,972.8 L891.1,970.8 L891.6,969.3 L892.1,965.5 L892.5,966.8 L893.0,963.2 L893.5,965.5 L893.9,969.7 L894.4,969.7 L894.8,976.7 L895.3,970.0 L895.7,978.9 L896.1,978.4 L896.6,984.6 L897.0,985.6 L897.5,977.9 L898.0,993.5 L898.5,951.8 L899.0,968.3 L899.4,956.8 L899.9,958.5 L900.4,966.3 L900.9,965.6 L901.4,974.7 L901.8,977.6 L902.2,951.6 L902.6,936.7 L903.0,899.0 L903.4,883.1 L903.8,881.1 L904.2,853.2 L904.6,858.8 L905.0,846.3 L905.5,851.2 L906.0,866.3 L906.5,854.7 L907.0,884.1 L907.4,886.3 L907.9,888.7 L908.4,902.6 L908.9,899.0 L909.4,908.7 L910.0,911.9 L910.5,913.6 L910.9,907.6 L911.4,911.1 L911.8,906.6 L912.3,911.0 L912.7,906.4 L913.2,905.5 L913.7,903.9 L914.2,885.3 L914.6,896.5 L915.1,881.1 L915.6,879.9 L916.1,889.0 L916.6,882.3 L917.0,899.3 L917.5,893.6 L918.0,902.3 L918.5,907.0 L919.0,899.9 L919.4,912.3 L919.9,912.2 L920.4,918.3 L920.8,915.8 L921.2,877.3 L921.6,888.0 L922.0,870.3 L922.5,877.1 L923.0,884.6 L923.5,880.0 L923.9,905.9 L924.4,905.5 L924.8,893.5 L925.2,897.2 L925.6,877.9 L926.0,876.7 L926.5,884.4 L927.0,882.0 L927.5,897.2 L927.9,894.5 L928.4,899.1 L928.8,907.1 L929.2,899.8 L929.6,917.3 L930.0,916.7 L930.5,917.8 L931.0,924.5 L931.5,921.5 L931.9,930.8 L932.4,932.7 L932.9,931.9 L933.3,936.8 L933.8,936.9 L934.2,940.1 L934.7,940.2 L935.2,946.6 L935.6,943.9 L936.1,945.7 L936.6,952.5 L937.1,949.1 L937.5,959.7 L938.0,958.4 L938.5,956.2 L938.9,959.3 L939.4,954.5 L939.9,958.4 L940.3,952.1 L940.8,957.4 L941.2,953.6 L941.7,950.2 L942.1,954.0 L942.6,946.6 L943.1,952.3 L943.5,947.1 L944.0,949.1 L944.4,945.5 L944.9,949.4 L945.4,961.0 L945.9,957.4 L946.3,969.6 L946.8,971.2 L947.3,962.4 L947.8,961.6 L948.3,946.9 L948.8,949.0 L949.2,940.7 L949.6,917.2 L950.0,905.5 L950.5,917.4 L951.0,914.9 L951.5,933.7 L952.0,926.5 L952.4,940.7 L952.9,945.8 L953.4,933.9 L953.9,961.8 L954.4,956.5 L954.8,963.2 L955.3,949.0 L955.8,905.5 L956.3,927.3 L956.8,902.5 L957.2,889.5 L957.7,895.5 L958.2,897.3 L958.7,908.2 L959.2,904.2 L959.6,915.1 L960.0,922.5 L960.4,913.7 L960.8,932.4 L961.2,937.5 L961.7,941.0 L962.2,951.4 L962.7,946.5 L963.2,953.9 L963.6,955.2 L964.1,955.0 L964.5,961.7 L964.9,959.5 L965.3,963.1 L965.7,963.2 L966.3,932.6 L966.8,915.1 L967.3,929.9 L967.8,922.4 L968.3,944.4 L968.8,943.0 L969.2,950.4 L969.7,949.9 L970.2,922.3 L970.7,951.0 L971.2,913.7 L971.6,911.9 L972.1,920.3 L972.6,917.1 L973.1,934.5 L973.6,931.7 L974.0,940.7 L974.5,940.4 L975.0,914.0 L975.5,918.7 L976.0,895.6 L976.5,884.7 L976.9,890.3 L977.4,884.1 L977.9,906.7 L978.4,903.4 L978.9,910.3 L979.3,916.4 L979.8,910.1 L980.3,924.9 L980.8,919.7 L981.3,927.9 L981.7,935.3 L982.2,934.7 L982.7,946.4 L983.2,943.2 L983.7,953.6 L984.1,957.0 L984.6,953.4 L985.1,967.6 L985.6,966.4 L986.0,932.3 L986.4,927.7 L986.9,902.3 L987.3,899.6 L987.8,901.7 L988.3,896.8 L988.8,897.5 L989.3,907.9 L989.7,898.5 L990.2,921.7 L990.7,913.7 L991.2,935.2 L991.7,935.9 L992.1,918.6 L992.5,917.5 L992.9,883.4 L993.3,870.3 L993.7,874.7 L994.2,872.4 L994.7,875.2 L995.2,872.3 L995.7,876.7 L996.1,896.4 L996.5,885.7 L996.9,912.7 L997.3,921.5 L997.7,925.2 L998.2,936.2 L998.7,922.7 L999.2,942.3 L999.7,945.5 L1000.1,944.2 L1000.5,955.4 L1000.9,951.5 L1001.3,955.2 L1001.7,951.8 L1002.1,916.9 L1002.5,933.2 L1002.9,919.9 L1003.3,921.5 L1003.8,925.9 L1004.2,923.1 L1004.7,932.0 L1005.2,930.2 L1005.6,934.5 L1006.1,934.3 L1006.5,937.2 L1007.0,943.3 L1007.4,936.9 L1007.9,967.9 L1008.4,951.9 L1008.8,962.4 L1009.3,964.8 L1009.7,944.4 L1010.1,947.4 L1010.5,921.2 L1010.9,916.7 L1011.3,922.0 L1011.8,917.2 L1012.3,924.1 L1012.7,923.1 L1013.2,930.7 L1013.6,928.7 L1014.1,932.7 L1014.5,935.3 L1015.0,935.7 L1015.5,945.5 L1015.9,938.1 L1016.4,946.9 L1016.8,943.2 L1017.3,948.8 L1017.7,953.0 L1018.1,927.9 L1018.6,931.1 L1019.0,937.0 L1019.4,934.2 L1019.9,943.6 L1020.3,940.2 L1020.8,949.1 L1021.2,946.1 L1021.6,952.0 L1022.1,953.6 L1022.6,953.6 L1023.0,960.4 L1023.5,958.2 L1024.0,965.0 L1024.5,963.2 L1024.9,958.9 L1025.4,960.3 L1025.8,956.0 L1026.3,958.4 L1026.7,948.8 L1027.2,952.2 L1027.6,946.4 L1028.0,947.7 L1028.5,943.9 L1028.9,945.6 L1029.4,950.7 L1029.8,947.0 L1030.3,959.4 L1030.7,951.3 L1031.2,962.6 L1031.6,961.3 L1032.1,965.8 L1032.5,968.0 L1033.0,968.5 L1033.4,976.2 L1033.9,971.3 L1034.3,980.0 L1034.8,977.2 L1035.2,984.0 L1035.7,984.0 L1036.2,978.1 L1036.7,982.7 L1037.1,973.2 L1037.6,979.0 L1038.1,972.8 L1038.6,968.8 L1039.0,967.1 L1039.5,957.9 L1039.9,971.0 L1040.4,952.9 L1040.8,953.5 L1041.3,947.1 L1041.8,948.3 L1042.2,956.6 L1042.7,954.5 L1043.1,961.2 L1043.6,955.2 L1044.0,963.8 L1044.5,964.8 L1045.0,967.1 L1045.5,973.3 L1045.9,971.3 L1046.4,976.4 L1046.9,977.6 L1047.3,958.3 L1047.7,964.8 L1048.2,933.0 L1048.6,936.7 L1049.0,919.9 L1049.4,922.7 L1049.9,944.2 L1050.3,928.9 L1050.8,955.1 L1051.3,951.9 L1051.7,963.2 L1052.2,958.1 L1052.6,948.0 L1053.1,962.7 L1053.5,930.4 L1054.0,943.7 L1054.5,927.2 L1054.9,921.5 L1055.4,920.4 L1055.9,913.1 L1056.4,912.9 L1056.8,904.6 L1057.3,903.9 L1057.8,909.3 L1058.2,908.5 L1058.7,918.6 L1059.1,910.3 L1059.6,925.0 L1060.1,925.4 L1060.5,931.1 L1061.0,936.9 L1061.4,937.0 L1061.9,950.1 L1062.3,941.7 L1062.8,954.5 L1063.3,953.4 L1063.7,958.4 L1064.2,956.6 L1064.7,944.4 L1065.2,953.8 L1065.6,940.2 L1066.1,940.7 L1066.6,950.4 L1067.0,950.6 L1067.5,962.9 L1068.0,950.4 L1068.4,972.3 L1068.9,969.5 L1069.3,977.6 L1069.8,976.0 L1070.3,956.9 L1070.8,969.5 L1071.2,952.7 L1071.7,947.1 L1072.2,950.7 L1072.6,948.4 L1073.1,956.1 L1073.6,952.2 L1074.0,963.9 L1074.5,963.1 L1074.9,968.0 L1075.3,967.4 L1075.7,940.0 L1076.1,945.9 L1076.5,927.9 L1076.9,934.6 L1077.3,963.6 L1077.7,948.4 L1078.1,963.2 L1078.5,952.7 L1078.9,909.6 L1079.3,922.2 L1079.7,899.1 L1080.2,887.4 L1080.6,891.0 L1081.0,878.3 L1081.5,881.3 L1081.9,901.1 L1082.4,889.7 L1082.8,909.7 L1083.3,906.2 L1083.7,915.1 L1084.1,928.9 L1084.5,913.4 L1084.9,934.4 L1085.3,935.9 L1085.7,915.5 L1086.1,925.1 L1086.5,895.5 L1086.9,891.1 L1087.4,897.0 L1087.9,893.9 L1088.3,906.0 L1088.8,895.7 L1089.2,906.9 L1089.7,906.2 L1090.1,908.7 L1090.6,916.2 L1091.1,913.4 L1091.6,931.0 L1092.1,924.7 L1092.5,934.3 L1092.9,943.5 L1093.3,932.1 L1093.7,948.4 L1094.1,950.4 L1094.5,933.7 L1094.9,955.0 L1095.3,915.5 L1095.7,913.5 L1096.2,924.1 L1096.7,921.5 L1097.2,940.6 L1097.7,935.9 L1098.1,943.9 L1098.6,948.7 L1099.1,946.1 L1099.5,964.8 L1100.0,953.0 L1100.4,966.5 L1100.9,965.0 L1101.3,969.6 L1101.8,956.5 L1102.3,924.7 L1102.8,932.0 L1103.3,910.9 L1103.8,902.3 L1104.2,905.4 L1104.6,868.2 L1105.0,871.9 L1105.5,881.4 L1105.9,885.1 L1106.4,898.7 L1106.8,885.9 L1107.3,913.3 L1107.8,918.3 L1108.2,917.4 L1108.7,927.4 L1109.2,929.8 L1109.7,938.5 L1110.2,940.7 L1110.6,903.2 L1111.0,903.1 L1111.4,860.7 L1111.9,865.7 L1112.3,879.3 L1112.8,874.1 L1113.3,889.6 L1113.7,888.7 L1114.2,899.1 L1114.6,904.8 L1115.0,903.0 L1115.5,915.2 L1115.9,914.8 L1116.4,924.3 L1116.8,915.9 L1117.3,933.4 L1117.7,933.0 L1118.2,939.1 L1118.6,939.2 L1119.1,914.5 L1119.6,932.0 L1120.1,912.0 L1120.6,910.3 L1121.0,917.0 L1121.5,913.1 L1121.9,923.1 L1122.4,916.3 L1122.9,924.2 L1123.3,925.3 L1123.8,929.5 L1124.2,932.9 L1124.7,934.3 L1125.1,944.1 L1125.6,939.4 L1126.1,945.2 L1126.5,943.3 L1127.0,947.1 L1127.4,952.0 L1127.9,949.3 L1128.4,960.4 L1128.9,957.7 L1129.4,963.2 L1129.9,952.9 L1130.3,917.6 L1130.8,922.4 L1131.3,904.3 L1131.8,892.7 L1132.3,905.1 L1132.7,894.8 L1133.2,914.3 L1133.7,905.2 L1134.2,915.1 L1134.6,919.2 L1135.1,917.3 L1135.5,927.8 L1136.0,923.2 L1136.5,936.2 L1136.9,932.8 L1137.4,939.1 L1137.9,943.2 L1138.3,939.6 L1138.8,946.4 L1139.3,944.6 L1139.8,947.1 L1140.3,920.8 L1140.9,871.9 L1141.3,877.3 L1141.7,894.4 L1142.1,879.6 L1142.6,913.0 L1143.0,907.1 L1143.5,909.9 L1143.9,924.6 L1144.4,914.8 L1144.9,938.0 L1145.4,942.3 L1145.8,917.9 L1146.2,898.4 L1146.7,870.3 L1147.1,874.1 L1147.6,893.5 L1148.0,879.2 L1148.5,910.6 L1148.9,899.6 L1149.4,908.7 L1149.8,913.5 L1150.3,911.1 L1150.8,926.9 L1151.2,919.8 L1151.7,935.4 L1152.1,929.2 L1152.6,935.9 L1153.0,932.6 L1153.4,926.4 L1153.8,924.3 L1154.2,918.3 L1154.6,916.6 L1155.1,923.1 L1155.6,918.7 L1156.0,923.7 L1156.5,921.3 L1156.9,926.0 L1157.4,924.7 L1157.9,926.5 L1158.4,946.6 L1158.8,942.5 L1159.3,952.8 L1159.8,956.8 L1160.2,925.4 L1160.6,913.9 L1161.1,879.9 L1161.6,886.3 L1162.0,905.6 L1162.5,899.8 L1163.0,915.1 L1163.5,922.3 L1163.9,922.2 L1164.4,931.0 L1164.8,921.9 L1165.3,944.9 L1165.7,941.4 L1166.2,947.1 L1166.6,951.1 L1167.1,950.2 L1167.5,954.3 L1168.0,953.8 L1168.4,958.9 L1168.9,956.0 L1169.3,961.0 L1169.8,959.8 L1170.2,963.2 L1170.8,950.4 L1171.3,895.9 L1171.7,898.6 L1172.2,914.3 L1172.6,905.7 L1173.0,926.9 L1173.4,931.1 L1173.9,931.0 L1174.3,941.3 L1174.8,936.5 L1175.2,954.7 L1175.7,947.3 L1176.1,953.7 L1176.6,955.2 L1177.1,958.0 L1177.5,965.0 L1177.9,962.6 L1178.4,969.6 L1178.8,966.6 L1179.3,977.6 L1179.7,972.8 L1180.2,982.4 L1180.6,982.4 L1181.1,978.3 L1181.6,978.9 L1182.1,971.1 L1182.5,976.3 L1183.0,971.2 L1183.5,972.3 L1184.0,981.3 L1184.5,980.9 L1184.9,985.6 L1185.4,985.0 L1185.9,974.3 L1186.4,977.2 L1186.9,967.6 L1187.3,969.2 L1187.8,963.2 L1188.3,964.5 L1188.7,969.6 L1189.1,967.4 L1189.6,974.1 L1190.0,972.2 L1190.5,976.8 L1190.9,977.0 L1191.4,981.7 L1191.8,982.4 L1192.3,968.2 L1192.8,968.0 L1193.3,941.3 L1193.7,939.9 L1194.2,927.9 L1194.7,924.9 L1195.1,927.1 L1195.6,923.1 L1196.1,922.5 L1196.5,919.8 L1197.0,921.8 L1197.4,918.3 L1197.9,920.0 L1198.4,942.9 L1198.9,935.4 L1199.3,950.5 L1199.8,952.0 L1200.3,953.2 L1200.8,957.2 L1201.3,956.4 L1201.7,962.4 L1202.2,963.2 L1202.7,953.0 L1203.2,952.5 L1203.7,934.2 L1204.1,946.7 L1204.6,935.9 L1205.1,923.8 L1205.6,927.6 L1206.1,914.4 L1206.5,912.9 L1207.0,897.7 L1207.5,894.3 L1208.0,911.8 L1208.5,917.7 L1209.0,953.0 L1209.4,963.2 L1209.9,951.0 L1210.4,950.5 L1210.9,941.3 L1211.4,939.9 L1211.8,927.9 L1212.3,920.8 L1212.8,920.3 L1213.3,908.3 L1213.8,913.8 L1214.2,905.5 L1214.7,907.4 L1215.2,934.0 L1215.7,910.2 L1216.2,936.1 L1216.6,940.7 L1217.1,944.2 L1217.6,966.1 L1218.1,951.0 L1218.6,971.7 L1219.0,977.6 L1219.5,975.9 L1220.0,977.6 L1220.4,967.7 L1220.8,938.2 L1221.2,940.8 L1221.6,915.1 L1222.1,903.3 L1222.6,911.9 L1223.0,879.6 L1223.5,878.3 L1223.9,885.6 L1224.4,877.7 L1224.8,895.6 L1225.2,890.9 L1225.6,895.9 L1226.1,909.6 L1226.6,904.5 L1227.0,923.4 L1227.5,916.6 L1228.0,927.9 L1228.5,921.3 L1229.0,891.6 L1229.4,909.0 L1229.9,891.1 L1230.3,891.6 L1230.8,913.8 L1231.2,899.9 L1231.6,913.9 L1232.0,911.9 L1232.5,904.6 L1233.0,912.0 L1233.5,893.8 L1233.9,895.0 L1234.4,887.9 L1234.9,888.5 L1235.4,907.5 L1235.9,889.9 L1236.3,914.8 L1236.8,911.9 L1237.3,902.7 L1237.8,906.6 L1238.3,895.0 L1238.7,896.3 L1239.2,886.3 L1239.7,885.4 L1240.1,888.1 L1240.6,885.4 L1241.0,891.0 L1241.5,888.0 L1242.0,889.6 L1242.4,889.5 L1242.9,890.2 L1243.4,915.5 L1243.9,897.7 L1244.3,915.1 L1244.8,918.3 L1245.3,912.1 L1245.8,913.7 L1246.3,908.0 L1246.7,909.4 L1247.2,903.9 L1247.7,901.8 L1248.2,916.7 L1248.7,910.2 L1249.1,932.5 L1249.6,931.1 L1250.1,933.7 L1250.6,941.7 L1251.1,938.4 L1251.5,946.6 L1252.0,947.1 L1252.4,932.6 L1252.8,945.5 L1253.2,917.6 L1253.6,921.5 L1254.1,933.2 L1254.6,924.4 L1255.1,944.0 L1255.5,937.2 L1256.0,945.5 L1256.6,930.8 L1257.1,887.9 L1257.6,891.0 L1258.0,897.2 L1258.4,894.0 L1258.8,905.8 L1259.2,908.7 L1259.7,911.9 L1260.1,930.3 L1260.6,914.7 L1261.0,942.5 L1261.5,934.8 L1262.0,945.5 L1262.4,939.1 L1262.9,911.3 L1263.4,907.0 L1263.9,881.5 L1264.4,873.5 L1264.8,893.7 L1265.2,885.0 L1265.6,921.3 L1266.0,916.5 L1266.4,929.5 L1266.9,935.0 L1267.4,933.1 L1267.9,940.9 L1268.4,940.7 L1268.8,943.9 L1269.3,946.5 L1269.8,939.8 L1270.3,942.2 L1270.8,937.4 L1271.2,937.5 L1271.7,943.3 L1272.2,940.8 L1272.7,952.4 L1273.2,951.2 L1273.6,955.2 L1274.0,962.4 L1274.4,953.7 L1274.8,971.6 L1275.2,971.2 L1275.6,953.6 L1276.0,971.6 L1276.4,936.9 L1276.8,934.3 L1277.3,949.6 L1277.8,930.2 L1278.3,958.1 L1278.8,952.9 L1279.2,963.2 L1279.7,964.5 L1280.2,959.7 L1280.6,961.6 L1281.1,956.0 L1281.5,958.7 L1282.0,953.9 L1282.4,955.2 L1282.9,959.3 L1283.4,956.2 L1283.8,965.9 L1284.3,962.1 L1284.7,967.9 L1285.2,966.6 L1285.7,971.2 L1286.1,978.1 L1286.6,974.0 L1287.1,984.6 L1287.6,982.3 L1288.1,990.4 L1288.5,973.9 L1288.9,930.5 L1289.3,927.6 L1289.7,902.3 L1290.1,906.2 L1290.6,932.2 L1291.1,915.9 L1291.6,927.7 L1292.1,931.1 L1292.5,940.8 L1292.9,958.8 L1293.3,963.2 L1293.9,939.0 L1294.5,915.1 L1294.9,924.8 L1295.4,904.8 L1295.9,934.8 L1296.4,937.3 L1296.9,947.1 L1297.3,947.1 L1297.8,928.5 L1298.3,934.1 L1298.8,924.8 L1299.3,919.9 L1299.7,926.2 L1300.2,920.3 L1300.7,934.3 L1301.2,930.3 L1301.7,935.9 L1302.1,943.3 L1302.6,946.4 L1303.1,966.8 L1303.6,956.9 L1304.1,968.0 L1304.5,965.9 L1304.9,928.1 L1305.3,949.3 L1305.7,940.7 L1306.1,945.0 L1306.6,955.8 L1307.1,950.0 L1307.6,965.9 L1308.1,966.4 L1308.5,965.4 L1309.0,971.4 L1309.4,970.9 L1309.9,973.8 L1310.4,973.2 L1310.8,980.1 L1311.3,977.6 L1311.7,975.2 L1312.2,975.9 L1312.6,966.3 L1313.1,973.7 L1313.6,965.4 L1314.0,968.4 L1314.5,964.8 L1314.9,967.4 L1315.3,985.5 L1315.7,973.6 L1316.1,982.4 L1316.6,982.3 L1317.0,974.4 L1317.5,976.6 L1318.0,968.2 L1318.5,968.0 L1319.0,966.2 L1319.4,954.5 L1319.9,963.3 L1320.4,947.9 L1320.9,947.1 L1321.4,947.8 L1321.8,940.9 L1322.3,943.7 L1322.8,939.1 L1323.3,939.1 L1323.8,947.1 L1324.2,940.9 L1324.7,964.8 L1325.2,953.4 L1325.7,961.6 L1326.1,966.3 L1326.6,962.2 L1327.1,971.2 L1327.5,967.6 L1328.0,979.8 L1328.4,980.7 L1328.9,984.0 L1329.3,983.3 L1329.8,967.2 L1330.3,971.6 L1330.7,945.9 L1331.2,956.8 L1331.6,946.9 L1332.1,943.9 L1332.5,948.2 L1333.0,946.5 L1333.5,954.2 L1333.9,948.9 L1334.4,958.4 L1334.8,957.4 L1335.3,960.0 L1335.8,962.0 L1336.2,960.1 L1336.7,970.7 L1337.2,967.0 L1337.7,969.6 L1338.3,932.0 L1338.8,889.5 L1339.2,891.6 L1339.6,913.7 L1340.1,903.6 L1340.5,930.3 L1340.9,931.1 L1341.4,933.2 L1341.9,959.1 L1342.3,943.0 L1342.8,968.7 L1343.3,968.0 L1343.7,949.0 L1344.1,949.1 L1344.6,935.9 L1345.0,935.8 L1345.5,947.4 L1345.9,942.3 L1346.4,961.2 L1346.8,955.8 L1347.3,963.2 L1347.7,969.5 L1348.1,965.0 L1348.5,971.6 L1348.9,974.4 L1349.4,962.7 L1349.8,960.1 L1350.3,941.3 L1350.7,943.1 L1351.2,923.5 L1351.6,918.3 L1352.0,923.5 L1352.5,921.2 L1352.9,926.2 L1353.3,925.2 L1353.7,931.1 L1354.2,937.6 L1354.7,938.2 L1355.1,947.0 L1355.6,948.5 L1356.1,956.8 L1356.6,959.3 L1357.0,958.5 L1357.5,961.0 L1357.9,956.8 L1358.4,963.3 L1358.9,958.5 L1359.3,963.2 L1359.7,933.9 L1360.2,890.6 L1360.6,865.5 L1361.1,876.4 L1361.5,872.8 L1362.0,895.5 L1362.5,902.3 L1363.0,906.6 L1363.5,915.3 L1364.0,913.7 L1364.4,921.7 L1364.9,924.7 L1365.4,909.4 L1365.9,924.2 L1366.4,891.4 L1366.8,890.5 L1367.3,873.5 L1367.7,877.2 L1368.1,900.2 L1368.5,891.3 L1368.9,899.1 L1369.4,910.5 L1369.9,892.2 L1370.4,932.5 L1370.8,932.7 L1371.3,874.8 L1371.8,867.1 L1372.3,873.6 L1372.7,871.3 L1373.2,884.8 L1373.6,873.4 L1374.1,887.1 L1374.5,891.1 L1375.0,889.4 L1375.4,891.9 L1375.9,886.4 L1376.3,892.4 L1376.8,885.4 L1377.3,890.5 L1377.7,887.9 L1378.2,891.0 L1378.7,910.8 L1379.2,895.0 L1379.6,913.1 L1380.1,915.1 L1380.5,913.7 L1380.9,940.6 L1381.3,926.0 L1381.7,939.1 L1382.2,942.6 L1382.6,940.1 L1383.1,947.5 L1383.6,945.0 L1384.0,951.1 L1384.5,947.5 L1384.9,952.0 L1385.4,952.3 L1385.8,948.6 L1386.3,953.7 L1386.8,947.2 L1387.2,952.4 L1387.7,947.8 L1388.1,948.8 L1388.6,954.8 L1389.0,951.0 L1389.5,960.3 L1390.0,949.4 L1390.4,974.4 L1390.9,967.8 L1391.3,972.8 L1391.7,968.8 L1392.1,936.6 L1392.5,951.2 L1392.9,935.9 L1393.3,921.8 L1393.7,930.2 L1394.1,917.1 L1394.5,913.5 L1394.9,929.0 L1395.3,910.3 L1395.7,932.9 L1396.1,937.5 L1396.6,933.2 L1397.1,935.3 L1397.6,926.3 L1398.1,926.3 L1398.5,937.9 L1398.9,933.0 L1399.3,949.7 L1399.7,951.6 L1400.1,958.4 L1400.6,963.1 L1401.1,958.4 L1401.5,974.0 L1402.0,967.7 L1402.4,976.4 L1402.9,973.8 L1403.3,979.2 L1403.8,977.2 L1404.3,962.9 L1404.8,970.7 L1405.3,960.7 L1405.7,960.0 L1406.2,965.4 L1406.7,963.1 L1407.1,972.3 L1407.6,965.5 L1408.0,976.7 L1408.5,975.6 L1408.9,979.2 L1409.4,983.8 L1409.9,982.5 L1410.4,990.7 L1410.9,988.6 L1411.3,992.0 L1411.8,991.2 L1412.3,983.0 L1412.8,987.7 L1413.3,977.7 L1413.8,977.6 L1414.2,975.3 L1414.7,955.2 L1415.2,957.6 L1415.7,943.9 L1416.1,915.8 L1416.5,905.3 L1417.0,883.1 L1417.4,884.6 L1417.9,908.5 L1418.4,890.7 L1418.9,932.6 L1419.4,931.1 L1419.8,930.5 L1420.3,939.5 L1420.7,940.9 L1421.2,953.6 L1421.6,944.5 L1422.1,952.2 L1422.6,955.2 L1423.1,946.1 L1423.7,968.0 L1424.2,918.3 L1424.6,917.9 L1425.0,909.2 L1425.4,914.8 L1425.8,910.3 L1426.2,909.8 L1426.7,927.3 L1427.2,914.2 L1427.7,928.8 L1428.2,931.1 L1428.6,930.8 L1429.1,944.4 L1429.6,939.9 L1430.1,956.1 L1430.6,955.2 L1431.0,956.9 L1431.4,961.6 L1431.8,958.1 L1432.2,963.2 L1432.7,945.6 L1433.3,924.7 L1433.7,923.4 L1434.1,959.7 L1434.5,929.5 L1435.0,954.8 L1435.4,956.8 L1435.8,958.2 L1436.3,968.5 L1436.8,964.5 L1437.3,974.7 L1437.8,979.2 L1438.2,978.3 L1438.7,981.2 L1439.1,977.9 L1439.5,980.8 L1440.0,978.1 L1440.4,981.2 L1440.9,978.8 L1441.3,980.8 L1441.8,980.8 L1442.2,960.2 L1442.6,961.1 L1443.0,942.8 L1443.4,939.1 L1443.9,953.7 L1444.3,941.6 L1444.8,960.3 L1445.3,958.7 L1445.8,968.0 L1446.2,969.6 L1446.7,968.4 L1447.1,974.5 L1447.6,971.6 L1448.1,979.8 L1448.5,975.1 L1449.0,979.2 L1449.4,982.2 L1449.9,977.5 L1450.3,983.7 L1450.7,982.0 L1451.2,983.9 L1451.6,981.2 L1452.0,986.8 L1452.5,981.3 L1452.9,987.3 L1453.3,985.0 L1453.8,987.2 L1454.2,986.0 L1454.7,974.6 L1455.2,978.9 L1455.6,966.4 L1456.1,973.6 L1456.5,964.3 L1457.0,963.2 L1457.4,969.2 L1457.9,970.7 L1458.4,983.6 L1458.8,977.2 L1459.3,988.3 L1459.7,986.1 L1460.2,992.0 L1460.6,990.3 L1461.1,982.1 L1461.6,987.1 L1462.0,973.9 L1462.5,978.2 L1462.9,973.0 L1463.4,971.2 L1463.8,975.4 L1464.3,975.8 L1464.7,982.6 L1465.2,979.7 L1465.6,988.1 L1466.1,982.5 L1466.5,994.3 L1466.9,989.9 L1467.4,995.2 L1467.9,995.5 L1468.4,971.7 L1468.8,975.4 L1469.3,961.0 L1469.8,953.6 L1470.3,954.7 L1470.7,949.8 L1471.2,952.3 L1471.6,948.9 L1472.1,950.7 L1472.5,948.0 L1473.0,947.1 L1473.5,956.1 L1473.9,950.5 L1474.4,971.1 L1474.8,954.1 L1475.3,977.2 L1475.7,973.1 L1476.2,980.8 L1476.6,976.3 L1477.0,948.8 L1477.4,961.4 L1477.8,947.1 L1478.3,951.2 L1478.8,963.5 L1479.2,958.2 L1479.7,970.4 L1480.2,971.2 L1480.6,956.0 L1481.0,959.5 L1481.4,925.0 L1481.8,919.9 L1482.3,935.8 L1482.8,927.9 L1483.2,949.6 L1483.7,951.9 L1484.2,963.2 L1484.6,961.1 L1485.0,942.9 L1485.4,956.1 L1485.8,947.1 L1486.3,948.8 L1486.7,952.8 L1487.2,950.9 L1487.6,958.7 L1488.1,957.4 L1488.6,961.0 L1489.0,961.6 L1489.5,952.3 L1489.9,956.8 L1490.4,941.6 L1490.8,947.8 L1491.3,931.7 L1491.8,931.3 L1492.2,924.7 L1492.7,927.1 L1493.2,932.3 L1493.7,933.1 L1494.1,936.6 L1494.6,939.1 L1495.0,928.1 L1495.4,938.8 L1495.9,898.5 L1496.3,911.6 L1496.7,899.1 L1497.1,902.2 L1497.6,912.8 L1498.1,908.9 L1498.5,927.6 L1499.0,922.8 L1499.4,931.1 L1499.9,943.2 L1500.4,940.3 L1500.9,953.9 L1501.3,948.1 L1501.8,958.4 L1502.3,960.6 L1502.7,954.1 L1503.2,954.5 L1503.6,949.5 L1504.1,948.5 L1504.6,944.9 L1505.0,943.9 L1505.5,948.9 L1505.9,949.2 L1506.4,959.1 L1506.9,949.5 L1507.3,960.5 L1507.8,958.0 L1508.2,963.2 L1508.6,960.0 L1509.1,928.3 L1509.5,939.0 L1509.9,917.5 L1510.3,913.5 L1510.8,920.7 L1511.2,918.0 L1511.7,923.1 L1512.1,920.0 L1512.6,927.5 L1513.0,927.9 L1513.5,929.8 L1513.9,939.0 L1514.4,934.3 L1514.9,960.1 L1515.3,947.1 L1515.8,958.0 L1516.2,961.6 L1516.6,951.3 L1517.1,962.1 L1517.5,935.0 L1517.9,944.0 L1518.3,934.3 L1518.8,932.5 L1519.2,938.6 L1519.6,934.6 L1520.1,939.8 L1520.5,936.7 L1521.0,941.6 L1521.4,937.1 L1521.8,940.7 L1522.3,948.0 L1522.8,947.4 L1523.3,956.9 L1523.8,952.7 L1524.2,963.2 L1524.7,966.9 L1525.2,966.2 L1525.6,976.6 L1526.1,966.9 L1526.5,977.9 L1527.0,975.4 L1527.4,979.2 L1527.9,977.4 L1528.4,970.2 L1528.9,970.7 L1529.4,966.4 L1530.0,985.6 L1530.4,953.3 L1530.8,949.4 L1531.2,913.2 L1531.6,895.9 L1532.1,911.0 L1532.6,909.8 L1533.0,929.6 L1533.5,933.0 L1534.0,947.1 L1534.4,952.1 L1534.9,948.6 L1535.3,956.8 L1535.8,956.2 L1536.2,969.4 L1536.7,962.3 L1537.1,971.4 L1537.6,970.4 L1538.0,974.4 L1538.4,966.8 L1538.8,939.2 L1539.2,942.3 L1539.6,923.1 L1540.1,923.1 L1540.6,946.7 L1541.0,938.8 L1541.5,959.5 L1542.0,961.6 L1542.4,936.7 L1542.8,933.2 L1543.2,903.3 L1543.6,897.5 L1544.1,911.4 L1544.6,902.1 L1545.1,924.5 L1545.5,921.4 L1546.0,931.1 L1546.5,935.2 L1546.9,936.4 L1547.4,945.3 L1547.8,939.2 L1548.3,952.3 L1548.8,947.3 L1549.2,953.6 L1549.7,954.5 L1550.1,947.2 L1550.5,949.1 L1551.0,942.5 L1551.4,945.0 L1551.9,939.0 L1552.3,942.7 L1552.8,937.1 L1553.2,935.9 L1553.7,939.4 L1554.2,939.1 L1554.7,944.6 L1555.1,944.0 L1555.6,947.1 L1556.1,947.2 L1556.6,927.5 L1557.1,929.8 L1557.5,919.9 L1558.0,921.8 L1558.5,932.5 L1559.0,920.9 L1559.5,940.3 L1559.9,938.6 L1560.4,943.9 L1560.9,941.4 L1561.3,930.7 L1561.8,934.4 L1562.2,915.7 L1562.6,930.6 L1563.1,916.1 L1563.5,915.3 L1564.0,906.7 L1564.4,903.9 L1564.8,919.9 L1565.2,909.6 L1565.6,940.8 L1566.0,940.7 L1566.5,928.7 L1566.9,926.0 L1567.4,886.8 L1567.8,908.2 L1568.3,879.5 L1568.8,870.3 L1569.2,880.1 L1569.6,884.0 L1570.0,896.1 L1570.4,900.2 L1570.8,911.9 L1571.3,916.9 L1571.8,916.5 L1572.3,923.6 L1572.8,921.8 L1573.2,927.9 L1573.7,931.8 L1574.2,928.2 L1574.7,936.2 L1575.2,933.1 L1575.6,937.5 L1576.0,937.6 L1576.4,907.1 L1576.9,907.2 L1577.4,914.4 L1577.8,907.9 L1578.3,918.5 L1578.7,915.9 L1579.2,921.7 L1579.6,923.1 L1580.1,924.0 L1580.6,927.8 L1581.1,924.8 L1581.6,929.4 L1582.0,929.5 L1582.5,917.1 L1582.9,917.1 L1583.4,878.3 L1583.9,894.6 L1584.3,872.7 L1584.8,870.3 L1585.2,877.0 L1585.6,878.2 L1586.0,890.5 L1586.4,882.5 L1586.8,892.7 L1587.3,900.4 L1587.8,897.1 L1588.3,913.5 L1588.8,911.3 L1589.2,918.3 L1589.7,915.4 L1590.2,911.2 L1590.7,909.8 L1591.2,902.1 L1591.6,900.7 L1592.1,904.6 L1592.6,906.7 L1593.1,918.8 L1593.6,914.0 L1594.0,919.9 L1594.5,922.2 L1595.0,921.7 L1595.4,927.0 L1595.9,924.7 L1596.3,929.9 L1596.8,928.6 L1597.3,931.1 L1597.7,936.6 L1598.2,936.9 L1598.6,943.7 L1599.1,942.4 L1599.5,950.6 L1600.0,947.8 L1600.5,953.6 L1600.9,956.9 L1601.4,956.7 L1601.8,961.4 L1602.3,958.5 L1602.7,965.9 L1603.2,963.0 L1603.7,966.4 L1604.1,969.5 L1604.6,965.6 L1605.0,972.3 L1605.5,967.5 L1605.9,974.5 L1606.4,972.0 L1606.9,974.4 L1607.3,971.9 L1607.8,951.5 L1608.3,959.2 L1608.8,946.5 L1609.3,945.5 L1609.7,952.2 L1610.2,947.6 L1610.7,964.3 L1611.2,961.8 L1611.7,968.0 L1612.1,971.6 L1612.6,966.3 L1613.1,970.5 L1613.6,965.6 L1614.1,971.2 L1614.5,967.8 L1615.0,959.8 L1615.4,961.6 L1615.9,938.9 L1616.4,951.0 L1616.8,936.9 L1617.3,934.3 L1617.7,933.0 L1618.2,923.9 L1618.6,928.6 L1619.1,919.0 L1619.5,921.6 L1620.0,918.3 L1620.4,918.3 L1620.8,938.4 L1621.2,926.9 L1621.7,947.5 L1622.1,947.1 L1622.6,941.9 L1623.0,944.2 L1623.5,931.1 L1624.0,934.3 L1624.5,927.9 L1624.9,927.7 L1625.3,950.9 L1625.7,949.2 L1626.1,960.0 L1626.5,963.9 L1627.0,955.4 L1627.4,963.1 L1627.9,960.8 L1628.4,964.2 L1628.8,959.8 L1629.3,963.2 L1629.7,966.2 L1630.2,964.1 L1630.6,971.9 L1631.1,968.1 L1631.6,971.8 L1632.0,968.0 L1632.5,974.4 L1632.9,977.2 L1633.3,957.0 L1633.7,956.0 L1634.1,947.1 L1634.6,915.1 L1635.2,903.9 L1635.7,913.2 L1636.2,911.0 L1636.6,930.4 L1637.1,920.1 L1637.6,933.3 L1638.1,935.9 L1638.6,936.4 L1639.0,962.2 L1639.5,946.6 L1640.0,969.6 L1640.5,969.6 L1641.0,960.7 L1641.4,968.6 L1641.9,945.8 L1642.4,942.6 L1642.9,931.1 L1643.4,926.5 L1643.8,930.7 L1644.3,924.5 L1644.8,925.4 L1645.3,923.1 L1645.7,926.1 L1646.2,943.3 L1646.7,937.0 L1647.1,964.7 L1647.6,946.9 L1648.0,965.7 L1648.5,968.0 L1649.0,965.4 L1649.5,967.7 L1649.9,957.3 L1650.4,963.9 L1650.9,960.0 L1651.3,941.2 L1651.7,934.6 L1652.1,906.7 L1652.5,900.7 L1653.0,911.3 L1653.5,911.3 L1653.9,931.2 L1654.4,922.4 L1654.9,934.3 L1655.4,929.5 L1655.9,911.1 L1656.3,913.2 L1656.8,897.0 L1657.3,895.9 L1657.8,904.7 L1658.3,896.2 L1658.7,912.0 L1659.2,909.2 L1659.7,915.1 L1660.2,918.9 L1660.7,916.5 L1661.1,921.8 L1661.6,920.9 L1662.1,924.7 L1662.6,930.5 L1663.1,926.4 L1663.5,948.6 L1664.0,936.0 L1664.5,947.1 L1665.0,950.9 L1665.4,950.6 L1665.9,959.0 L1666.3,952.5 L1666.8,958.8 L1667.2,957.4 L1667.7,961.6 L1668.1,962.6 L1668.5,943.6 L1668.9,957.3 L1669.3,947.1 L1669.8,950.2 L1670.3,961.8 L1670.7,948.8 L1671.2,964.7 L1671.7,968.0 L1672.2,962.3 L1672.6,969.1 L1673.1,962.0 L1673.5,967.8 L1674.0,961.9 L1674.5,965.7 L1674.9,961.6 L1675.4,962.4 L1675.9,965.6 L1676.4,964.2 L1676.8,971.7 L1677.3,969.6 L1677.8,969.8 L1678.3,979.0 L1678.8,974.9 L1679.2,979.3 L1679.7,980.8 L1680.1,940.4 L1680.5,903.9 L1681.0,913.4 L1681.5,908.3 L1682.0,936.9 L1682.4,935.0 L1682.9,943.9 L1683.4,948.0 L1683.8,949.3 L1684.3,953.6 L1684.7,949.5 L1685.2,960.4 L1685.7,959.9 L1686.1,964.8 L1686.5,958.6 L1686.9,915.1 L1687.4,918.3 L1687.9,923.5 L1688.4,920.7 L1688.8,934.1 L1689.3,934.3 L1689.7,921.4 L1690.1,934.7 L1690.5,907.6 L1690.9,910.3 L1691.4,916.5 L1691.8,916.2 L1692.3,925.8 L1692.8,922.8 L1693.2,936.8 L1693.7,934.8 L1694.1,939.1 L1694.6,944.3 L1695.0,938.0 L1695.5,960.7 L1696.0,951.0 L1696.4,961.5 L1696.9,961.5 L1697.3,968.0 L1697.7,951.0 L1698.1,903.7 L1698.5,888.6 L1698.9,857.5 L1699.4,862.0 L1699.9,894.8 L1700.4,887.1 L1700.9,911.2 L1701.3,915.1 L1701.7,915.7 L1702.1,948.8 L1702.5,927.9 L1702.9,943.9 L1703.4,939.0 L1703.9,893.2 L1704.4,918.4 L1704.9,902.3 L1705.3,902.2 L1705.8,911.0 L1706.3,903.4 L1706.8,914.8 L1707.3,913.1 L1707.7,916.7 L1708.2,921.9 L1708.7,923.5 L1709.2,932.1 L1709.7,928.4 L1710.1,934.3 L1710.6,938.3 L1711.1,936.7 L1711.5,940.3 L1712.0,938.1 L1712.4,943.2 L1712.9,942.3 L1713.3,943.9 L1713.8,947.3 L1714.3,947.3 L1714.7,956.3 L1715.2,948.9 L1715.6,963.1 L1716.1,958.0 L1716.5,964.8 L1717.1,948.9 L1717.7,923.1 L1718.1,916.2 L1718.5,928.0 L1718.9,892.2 L1719.3,901.1 L1719.7,891.1 L1720.2,888.6 L1720.7,890.7 L1721.2,882.3 L1721.7,885.5 L1722.1,883.1 L1722.6,871.8 L1723.1,873.9 L1723.6,859.0 L1724.1,863.4 L1724.6,855.9 L1725.0,858.8 L1725.5,875.9 L1726.0,862.4 L1726.5,879.5 L1727.0,883.1 L1727.4,883.6 L1727.9,894.2 L1728.4,891.4 L1728.9,898.8 L1729.4,899.1 L1729.8,901.6 L1730.3,908.7 L1730.8,906.6 L1731.3,914.6 L1731.8,915.1 L1732.2,917.3 L1732.7,934.5 L1733.2,929.9 L1733.7,942.4 L1734.2,948.8 L1734.6,929.3 L1735.0,945.2 L1735.4,915.9 L1735.8,913.5 L1736.2,922.5 L1736.7,924.0 L1737.1,936.5 L1737.6,925.6 L1738.0,957.8 L1738.5,943.8 L1739.0,953.6 L1739.4,951.7 L1739.9,922.8 L1740.4,931.7 L1740.9,918.9 L1741.4,915.1 L1741.8,912.7 L1742.3,898.3 L1742.8,897.7 L1743.3,881.5 L1743.8,881.9 L1744.2,894.6 L1744.7,892.2 L1745.2,904.6 L1745.7,904.7 L1746.2,915.1 L1746.6,926.7 L1747.0,914.0 L1747.4,944.3 L1747.8,940.7 L1748.2,935.0 L1748.7,943.3 L1749.2,919.9 L1749.7,925.1 L1750.2,915.1 L1750.6,915.3 L1751.0,931.9 L1751.4,926.2 L1751.8,935.9 L1752.3,935.1 L1752.7,916.3 L1753.2,930.3 L1753.7,902.0 L1754.2,897.5 L1754.7,906.0 L1755.1,906.1 L1755.6,920.6 L1756.1,913.0 L1756.6,923.1 L1757.0,929.0 L1757.5,927.1 L1757.9,936.3 L1758.4,934.7 L1758.9,942.5 L1759.3,940.7 L1759.8,947.1 L1760.3,931.5 L1760.9,908.7 L1761.3,909.9 L1761.7,930.3 L1762.1,919.4 L1762.6,939.9 L1763.0,942.3 L1763.5,944.1 L1763.9,952.3 L1764.4,946.2 L1764.9,954.2 L1765.4,955.2 L1765.8,950.0 L1766.3,951.8 L1766.7,945.3 L1767.2,949.7 L1767.6,943.0 L1768.1,944.6 L1768.5,936.3 L1768.9,938.7 L1769.4,934.3 L1769.8,930.7 L1770.2,942.3 L1770.7,933.7 L1771.1,883.5 L1771.6,891.1 L1772.1,868.7 L1772.6,871.2 L1773.1,885.8 L1773.5,876.0 L1774.0,914.8 L1774.5,907.1 L1775.0,915.1 L1775.4,922.1 L1775.9,927.8 L1776.4,949.1 L1776.8,928.4 L1777.3,956.0 L1777.7,950.6 L1778.2,960.0 L1778.6,943.4 L1779.0,911.9 L1779.5,916.9 L1779.9,933.1 L1780.4,918.4 L1780.8,942.6 L1781.3,933.6 L1781.7,948.5 L1782.2,953.6 L1782.6,945.3 L1783.0,959.7 L1783.4,937.0 L1783.8,935.9 L1784.3,945.8 L1784.7,946.3 L1785.2,960.6 L1785.6,953.3 L1786.1,969.4 L1786.5,965.0 L1787.0,974.4 L1787.4,979.6 L1787.8,956.3 L1788.2,951.8 L1788.6,939.1 L1789.2,898.6 L1789.7,891.1 L1790.2,902.6 L1790.7,886.8 L1791.2,918.3 L1791.6,916.4 L1792.1,938.8 L1792.6,940.7 L1793.0,941.9 L1793.5,948.0 L1793.9,940.8 L1794.4,958.8 L1794.8,949.7 L1795.3,959.5 L1795.7,958.1 L1796.2,966.7 L1796.6,966.4 L1797.1,966.4 L1797.6,974.2 L1798.0,970.0 L1798.5,976.7 L1799.0,977.6 L1799.4,962.7 L1799.8,967.4 L1800.2,954.5 L1800.6,952.0 L1801.1,957.4 L1801.6,953.2 L1802.1,963.5 L1802.5,960.2 L1803.0,966.4 L1803.4,965.6 L1803.8,946.0 L1804.2,960.9 L1804.6,947.1 L1805.1,947.9 L1805.6,956.3 L1806.1,950.8 L1806.5,967.1 L1807.0,969.6 L1807.4,921.6 L1807.8,889.5 L1808.2,905.2 L1808.6,900.6 L1809.0,931.7 L1809.4,934.3 L1809.9,917.1 L1810.4,920.1 L1810.9,895.0 L1811.3,886.3 L1811.8,895.3 L1812.3,897.7 L1812.8,912.1 L1813.3,903.5 L1813.7,922.4 L1814.2,923.1 L1814.7,924.2 L1815.1,935.8 L1815.6,932.8 L1816.1,946.5 L1816.5,951.3 L1817.0,960.0 L1817.4,963.2 L1817.8,946.5 L1818.2,952.4 L1818.6,922.3 L1819.0,908.7 L1819.5,919.9 L1820.0,913.2 L1820.5,939.9 L1820.9,932.3 L1821.4,943.9 L1821.9,943.3 L1822.4,931.2 L1822.9,935.2 L1823.3,927.9 L1823.8,924.7 L1824.3,940.2 L1824.8,935.2 L1825.3,944.4 L1825.7,946.2 L1826.2,956.8 L1826.7,963.9 L1827.1,961.1 L1827.6,976.6 L1828.1,969.6 L1828.5,980.8 L1829.0,978.7 L1829.4,984.0 L1829.9,987.4 L1830.4,985.0 L1830.9,990.8 L1831.4,988.2 L1831.8,992.0 L1832.3,991.1 L1832.8,985.5 L1833.3,988.4 L1833.8,979.9 L1834.2,979.2 L1834.6,983.0 L1835.0,981.7 L1835.4,988.2 L1836.9,987.6"/>
<path stroke="#A2142F" d="M188.5,282.1 L190.0,288.7 L191.5,297.2 L193.0,306.9 L194.5,317.1 L196.0,327.6 L197.5,338.2 L199.0,348.9 L200.5,359.7 L202.0,370.2 L203.5,379.7 L205.0,387.8 L206.5,394.7 L208.0,400.7 L209.5,406.2 L211.0,411.3 L212.5,416.1 L214.0,420.9 L215.5,425.7 L217.0,430.4 L218.5,435.1 L220.0,439.6 L221.5,443.9 L223.0,448.1 L224.5,452.4 L226.0,456.4 L227.5,460.4 L229.0,464.5 L230.5,468.9 L232.0,472.7 L233.5,477.7 L235.0,481.8 L236.5,485.8 L238.0,489.3 L239.5,493.9 L241.0,498.0 L242.5,503.3 L244.0,507.5 L245.5,511.4 L247.0,515.8 L248.5,519.4 L250.0,523.2 L251.5,527.3 L253.0,531.2 L254.5,535.9 L256.0,539.9 L257.5,544.6 L259.0,549.6 L260.5,552.5 L262.0,555.8 L263.5,561.4 L265.0,564.0 L266.5,570.1 L268.0,572.3 L269.5,577.2 L271.0,582.7 L272.5,585.5 L274.0,589.1 L275.5,592.6 L277.0,599.2 L278.5,603.0 L280.0,604.8 L281.5,609.5 L283.0,615.3 L284.5,618.6 L286.0,621.8 L287.5,625.2 L289.0,631.3 L290.5,635.8 L292.0,638.3 L293.5,644.6 L295.0,647.7 L296.5,651.0 L298.0,655.5 L299.5,659.6 L299.9,661.2"/>
<path stroke="#A2142F" stroke-width="3.0" stroke-linejoin="miter" stroke-miterlimit="3" d="M299.9,661.2 L300.3,661.2 L300.7,665.6 L301.1,659.1 L301.6,667.4 L302.0,664.9 L302.4,668.9 L302.8,664.6 L303.2,670.6 L303.6,669.4 L304.0,671.6 L304.4,672.4 L304.7,666.5 L305.1,669.5 L305.5,675.4 L305.8,667.1 L306.2,674.3 L306.6,672.2 L307.0,681.6 L307.4,677.6 L307.8,682.7 L308.2,681.9 L308.6,681.1 L309.0,686.6 L309.4,683.5 L309.8,687.5 L310.2,687.1 L310.6,687.4 L311.1,691.5 L311.5,687.8 L311.9,693.4 L312.3,694.3 L312.7,691.9 L313.1,691.8 L313.5,684.8 L313.9,694.5 L314.2,686.5 L314.6,689.2 L315.0,680.3 L315.4,684.0 L315.7,687.6 L316.1,688.1 L316.4,692.2 L316.8,696.8 L317.3,690.8 L317.7,700.1 L318.1,692.0 L318.5,698.3 L318.9,694.8 L319.3,699.7 L319.7,698.1 L320.2,700.6 L320.6,700.5 L321.0,698.5 L321.4,703.6 L321.8,701.6 L322.2,704.0 L322.6,701.3 L323.0,704.0 L323.5,700.9 L323.9,704.3 L324.3,701.8 L324.7,704.7 L325.1,706.3 L325.5,702.0 L325.9,708.9 L326.4,703.7 L326.8,711.6 L327.2,708.8 L327.6,708.4 L328.0,724.0 L328.4,715.4 L328.8,719.1 L329.2,721.5 L329.6,717.7 L330.0,721.5 L330.4,717.7 L330.8,722.8 L331.2,719.4 L331.6,723.5 L331.9,722.2 L332.4,721.7 L332.8,734.5 L333.2,727.5 L333.6,735.8 L334.0,733.6 L334.4,734.6 L334.8,741.7 L335.2,738.2 L335.7,740.7 L336.1,741.9 L336.5,738.2 L336.9,740.8 L337.3,737.7 L337.7,739.5 L338.1,736.7 L338.6,735.4 L339.0,741.3 L339.4,741.3 L339.8,749.2 L340.2,748.1 L340.6,747.8 L341.0,753.9 L341.4,749.0 L341.9,753.7 L342.3,754.3 L342.7,754.8 L343.1,759.4 L343.6,753.9 L344.0,763.1 L344.4,761.4 L344.8,760.4 L345.2,768.1 L345.6,765.7 L346.0,771.6 L346.4,765.8 L346.8,774.6 L347.2,766.3 L347.6,774.2 L348.0,776.9 L348.4,768.1 L348.8,770.4 L349.2,768.1 L349.6,772.6 L350.0,764.4 L350.4,767.3 L350.8,763.0 L351.2,763.7 L351.6,769.4 L352.0,764.7 L352.4,773.2 L352.8,768.9 L353.2,779.9 L353.6,774.3 L354.0,779.0 L354.4,780.6 L354.9,779.1 L355.3,781.5 L355.7,777.4 L356.1,786.3 L356.5,782.3 L356.9,784.8 L357.3,783.8 L357.7,781.7 L358.1,806.9 L358.5,790.3 L358.9,801.4 L359.3,806.6 L359.7,801.6 L360.1,804.4 L360.5,802.6 L360.9,806.8 L361.3,802.3 L361.7,807.1 L362.1,803.7 L362.5,808.2 L362.9,802.7 L363.3,809.2 L363.7,807.8 L364.1,804.1 L364.5,811.7 L364.9,809.1 L365.3,812.6 L365.7,812.7 L366.1,819.8 L366.5,815.1 L366.9,817.9 L367.3,815.7 L367.7,821.6 L368.1,818.1 L368.5,822.3 L368.9,825.5 L369.3,825.2 L369.7,831.6 L370.1,821.4 L370.5,837.9 L370.9,835.9 L371.3,839.5 L371.7,841.5 L372.1,822.7 L372.5,848.3 L372.9,802.7 L373.3,804.6 L373.7,808.7 L374.1,805.2 L374.5,815.9 L374.9,806.6 L375.3,819.6 L375.7,813.1 L376.1,819.5 L376.5,819.0 L376.9,812.9 L377.3,811.9 L377.7,793.9 L378.1,812.7 L378.5,798.4 L378.9,795.0 L379.3,799.0 L379.7,798.3 L380.1,809.3 L380.5,800.7 L380.9,810.4 L381.3,806.0 L381.7,815.0 L382.1,814.2 L382.5,812.5 L382.9,812.8 L383.3,807.8 L383.7,813.1 L384.1,803.5 L384.5,807.2 L384.9,801.6 L385.3,801.4 L385.7,805.7 L386.1,803.9 L386.5,810.7 L386.9,803.2 L387.3,816.2 L387.7,812.4 L388.1,817.8 L388.5,819.0 L388.9,817.9 L389.3,829.6 L389.7,827.3 L390.1,830.3 L390.5,832.6 L390.9,801.9 L391.3,809.0 L391.7,795.1 L392.2,789.4 L392.5,798.9 L392.9,790.6 L393.3,820.4 L393.7,812.2 L394.1,822.3 L394.5,821.9 L394.9,807.1 L395.3,818.8 L395.7,797.9 L396.1,803.4 L396.5,796.6 L396.9,796.8 L397.3,811.7 L397.7,799.6 L398.1,833.6 L398.5,818.0 L398.9,831.9 L399.3,830.2 L399.7,816.6 L400.1,821.3 L400.5,796.3 L400.9,812.0 L401.3,791.2 L401.7,798.7 L402.1,791.8 L402.5,792.7 L402.9,800.7 L403.3,791.2 L403.7,805.4 L404.1,798.9 L404.5,804.6 L404.9,804.3 L405.3,800.7 L405.7,803.7 L406.1,793.8 L406.5,796.8 L406.9,789.9 L407.3,793.3 L407.7,788.6 L408.1,791.6 L408.5,787.0 L408.9,780.0 L409.3,810.8 L409.7,794.7 L410.1,804.6 L410.5,808.0 L410.9,806.2 L411.3,814.0 L411.7,807.1 L412.1,818.3 L412.5,815.0 L412.9,821.2 L413.3,819.0 L413.7,816.3 L414.1,823.7 L414.5,820.8 L414.9,823.5 L415.3,818.7 L415.7,825.4 L416.1,821.6 L416.5,825.5 L416.9,827.4 L417.3,817.3 L417.7,824.2 L418.1,812.6 L418.5,816.6 L418.9,832.9 L419.3,804.1 L419.7,835.6 L420.1,828.6 L420.5,838.3 L420.9,838.7 L421.3,833.0 L421.7,836.0 L422.1,830.7 L422.5,837.0 L422.9,831.9 L423.3,831.7 L423.7,838.0 L424.1,833.3 L424.5,847.8 L424.9,839.9 L425.3,850.2 L425.7,846.2 L426.1,851.1 L426.5,856.0 L426.9,851.0 L427.3,867.1 L427.7,860.4 L428.1,875.5 L428.5,878.3 L428.9,865.1 L429.3,871.1 L429.7,845.9 L430.1,855.3 L430.5,823.1 L430.9,838.3 L431.3,818.5 L431.7,815.8 L432.1,818.5 L432.5,816.7 L432.9,829.1 L433.3,823.7 L433.7,830.8 L434.1,830.3 L434.5,825.4 L434.9,831.7 L435.3,821.9 L435.7,827.5 L436.1,817.0 L436.5,817.4 L436.9,825.5 L437.3,821.1 L437.7,848.5 L438.1,835.5 L438.5,855.5 L438.9,840.7 L439.3,855.1 L439.7,854.3 L440.1,848.8 L440.5,853.5 L440.9,845.5 L441.3,847.1 L441.7,830.6 L442.1,843.4 L442.5,831.9 L442.9,834.3 L443.3,825.2 L443.7,825.5 L444.1,825.2 L444.5,821.3 L444.9,822.4 L445.3,817.7 L445.7,822.6 L446.1,813.1 L446.5,817.0 L446.9,809.9 L447.3,813.5 L447.7,811.0 L448.1,809.4 L448.5,832.7 L448.9,818.5 L449.3,839.3 L449.7,834.8 L450.1,841.5 L450.5,847.9 L450.9,838.9 L451.3,850.9 L451.7,846.4 L452.1,851.4 L452.5,851.1 L452.9,853.5 L453.3,857.8 L453.7,855.0 L454.1,874.4 L454.5,866.5 L454.9,870.3 L455.3,870.9 L455.7,853.9 L456.1,865.7 L456.5,846.9 L456.9,855.8 L457.3,844.7 L457.7,836.8 L458.1,843.9 L458.5,831.2 L458.9,839.5 L459.3,830.0 L459.7,831.9 L460.1,828.3 L460.5,817.1 L460.9,822.7 L461.3,794.7 L461.7,818.1 L462.1,807.7 L462.5,809.5 L462.9,801.4 L463.3,802.4 L463.7,809.7 L464.1,801.0 L464.5,819.4 L464.9,807.6 L465.3,823.3 L465.7,819.2 L466.1,822.3 L466.5,829.7 L466.9,824.0 L467.3,853.0 L467.7,823.8 L468.1,847.7 L468.5,844.7 L468.9,844.0 L469.3,853.2 L469.7,851.5 L470.1,872.8 L470.5,849.7 L470.9,866.7 L471.3,862.2 L471.7,867.1 L472.1,867.5 L472.5,846.5 L472.9,861.5 L473.3,848.3 L473.7,848.9 L474.1,839.9 L474.5,830.5 L474.9,845.1 L475.3,821.3 L475.7,832.6 L476.1,823.1 L476.5,823.9 L476.9,828.6 L477.3,824.1 L477.7,838.3 L478.1,824.4 L478.5,843.3 L478.9,844.7 L479.3,847.9 L479.7,860.6 L480.1,839.3 L480.5,861.2 L480.9,857.2 L481.3,865.5 L481.7,858.7 L482.1,831.7 L482.5,846.9 L482.9,812.7 L483.3,836.4 L483.8,822.3 L484.2,817.6 L484.6,820.4 L485.0,799.8 L485.4,817.9 L485.8,793.8 L486.2,795.0 L486.6,803.2 L487.0,795.4 L487.4,801.4 L487.8,797.8 L488.2,805.1 L488.6,803.8 L489.0,807.7 L489.4,807.8 L489.8,805.8 L490.2,831.1 L490.6,799.4 L491.0,827.5 L491.4,826.1 L491.8,835.1 L492.2,840.6 L492.6,836.3 L493.0,839.6 L493.4,834.8 L493.8,846.3 L494.2,842.1 L494.6,847.5 L495.0,846.3 L495.4,839.9 L495.8,843.3 L496.2,838.7 L496.6,845.7 L497.0,834.2 L497.4,839.0 L497.8,829.8 L498.2,830.3 L498.6,837.4 L499.0,827.2 L499.4,847.6 L499.8,825.6 L500.2,860.6 L500.6,846.0 L501.0,858.1 L501.4,860.7 L501.8,849.7 L502.2,864.6 L502.6,817.4 L503.0,827.1 L503.4,832.5 L503.8,829.2 L504.2,843.3 L504.6,834.5 L505.0,861.1 L505.4,845.5 L505.8,857.8 L506.2,857.5 L506.6,856.2 L507.0,867.4 L507.4,863.4 L507.8,870.8 L508.2,866.2 L508.6,873.5 L509.0,871.8 L509.4,876.7 L509.8,880.8 L510.2,877.7 L510.6,889.3 L511.0,881.4 L511.4,886.9 L511.8,887.9 L512.2,875.3 L512.6,885.8 L513.0,860.4 L513.4,862.1 L513.8,844.2 L514.2,844.7 L514.6,856.9 L515.0,853.0 L515.4,877.2 L515.8,856.0 L516.2,873.2 L516.6,873.5 L517.0,873.4 L517.4,879.1 L517.8,875.3 L518.2,882.1 L518.6,877.7 L519.0,881.5 L519.4,876.5 L519.8,859.1 L520.2,876.6 L520.6,832.2 L521.0,858.5 L521.4,837.3 L521.8,838.0 L522.2,830.3 L522.6,832.1 L523.0,838.3 L523.4,830.5 L523.8,845.0 L524.2,835.7 L524.6,843.4 L525.0,840.9 L525.4,846.3 L525.8,852.6 L526.2,848.7 L526.6,869.9 L527.0,854.0 L527.4,865.3 L527.8,867.1 L528.2,858.8 L528.6,866.7 L529.0,837.4 L529.4,863.8 L529.8,831.3 L530.2,830.3 L530.6,834.5 L531.0,829.7 L531.4,838.3 L531.8,830.6 L532.2,847.3 L532.6,840.5 L533.0,847.5 L533.4,847.9 L533.8,846.2 L534.2,858.6 L534.6,847.7 L535.0,863.7 L535.4,858.6 L535.8,863.5 L536.2,861.0 L536.6,865.5 L537.0,868.6 L537.4,864.9 L537.8,876.1 L538.2,865.9 L538.6,883.3 L539.0,873.7 L539.4,879.1 L539.8,879.9 L540.2,879.3 L540.6,886.3 L541.0,879.9 L541.4,888.5 L541.8,880.5 L542.2,892.4 L542.6,889.5 L543.0,895.9 L543.4,893.2 L543.8,895.9 L544.2,886.1 L544.6,867.5 L545.0,879.4 L545.4,840.3 L545.8,835.5 L546.2,822.3 L546.6,822.8 L547.0,837.2 L547.4,823.1 L547.8,837.4 L548.2,832.9 L548.6,838.3 L549.0,850.9 L549.4,843.5 L549.8,860.4 L550.2,836.9 L550.6,879.1 L551.0,863.6 L551.4,875.9 L551.8,878.3 L552.2,869.2 L552.6,879.7 L553.0,847.8 L553.4,872.4 L553.8,851.6 L554.2,854.3 L554.6,854.5 L555.0,850.6 L555.4,856.8 L555.8,850.8 L556.2,855.9 L556.6,849.4 L557.0,854.0 L557.4,851.1 L557.8,850.2 L558.2,859.0 L558.6,850.7 L559.0,864.7 L559.4,856.4 L559.8,870.5 L560.2,868.6 L560.6,873.5 L561.0,872.6 L561.4,829.4 L561.8,858.6 L562.2,839.9 L562.6,839.2 L563.0,844.3 L563.4,844.7 L563.8,850.6 L564.2,845.1 L564.6,851.1 L565.0,857.7 L565.4,855.1 L565.8,865.3 L566.2,853.1 L566.6,870.6 L567.0,867.8 L567.4,880.3 L567.8,879.9 L568.2,874.3 L568.6,871.0 L569.0,860.3 L569.4,861.6 L569.8,846.5 L570.2,856.3 L570.6,840.6 L571.0,841.5 L571.4,841.7 L571.8,835.2 L572.2,839.6 L572.6,822.1 L573.0,836.9 L573.4,826.3 L573.8,828.1 L574.2,825.5 L574.6,825.3 L575.0,828.5 L575.4,826.8 L575.8,835.3 L576.2,829.9 L576.6,835.4 L577.0,834.1 L577.4,839.8 L577.8,838.0 L578.2,839.9 L578.6,845.0 L579.0,839.0 L579.4,851.1 L579.8,845.1 L580.2,855.8 L580.6,851.5 L581.0,861.7 L581.4,859.1 L581.8,857.5 L582.2,865.8 L582.6,861.5 L583.0,867.5 L583.4,861.6 L583.8,867.1 L584.2,862.2 L584.6,844.9 L585.0,854.8 L585.4,815.4 L585.8,823.9 L586.2,811.0 L586.6,808.9 L587.0,833.7 L587.4,811.0 L587.8,844.9 L588.2,838.4 L588.6,846.3 L589.0,842.8 L589.4,829.4 L589.8,842.5 L590.2,803.3 L590.6,834.6 L591.0,799.9 L591.4,819.0 L591.8,790.4 L592.2,798.4 L592.6,790.2 L593.0,791.5 L593.4,805.5 L593.8,795.5 L594.2,818.7 L594.6,804.8 L595.0,819.0 L595.4,824.4 L595.8,819.5 L596.2,842.1 L596.6,821.4 L597.0,849.4 L597.4,839.7 L597.8,847.5 L598.2,851.1 L598.7,848.2 L599.1,850.1 L599.6,845.5 L600.0,844.7 L600.4,849.0 L600.8,844.7 L601.2,849.1 L601.6,844.8 L602.0,850.8 L602.4,847.6 L602.8,855.5 L603.2,851.1 L603.6,848.0 L604.0,847.5 L604.4,845.1 L604.8,845.0 L605.2,835.8 L605.6,843.1 L606.0,832.6 L606.4,839.1 L606.8,829.7 L607.2,831.9 L607.6,834.8 L608.0,831.2 L608.4,842.8 L608.8,838.0 L609.2,846.9 L609.6,847.9 L610.0,847.7 L610.4,853.1 L610.8,851.2 L611.2,862.2 L611.6,851.6 L612.0,862.3 L612.4,860.3 L612.8,863.7 L613.2,864.0 L613.6,867.1 L614.0,862.5 L614.4,849.5 L614.8,865.7 L615.2,832.8 L615.6,849.4 L616.0,838.3 L616.4,836.5 L616.8,844.4 L617.2,837.8 L617.6,846.7 L618.0,842.3 L618.4,848.7 L618.8,845.3 L619.2,851.1 L619.6,852.9 L620.0,852.6 L620.4,857.8 L620.8,852.0 L621.2,860.8 L621.6,860.7 L622.0,850.8 L622.4,858.8 L622.8,815.5 L623.2,858.7 L623.6,822.5 L624.0,827.1 L624.4,831.6 L624.8,825.8 L625.2,843.1 L625.6,833.2 L626.0,843.3 L626.4,844.7 L626.8,829.8 L627.2,847.9 L627.6,799.0 L628.0,821.1 L628.4,801.7 L628.8,803.0 L629.2,809.9 L629.6,810.8 L630.0,820.6 L630.4,815.7 L630.8,825.7 L631.2,827.1 L631.6,824.3 L632.0,826.3 L632.4,824.3 L632.8,826.0 L633.2,821.4 L633.6,822.3 L634.0,822.1 L634.4,809.6 L634.8,825.3 L635.2,810.5 L635.6,808.5 L636.0,804.6 L636.4,806.2 L636.8,814.1 L637.2,807.8 L637.6,818.2 L638.0,810.5 L638.4,829.3 L638.8,821.6 L639.2,827.1 L639.6,833.8 L640.0,833.1 L640.4,844.0 L640.8,829.5 L641.2,850.7 L641.6,846.3 L642.0,859.6 L642.4,857.5 L642.8,850.5 L643.2,856.7 L643.6,836.0 L644.0,856.9 L644.4,828.7 L644.8,843.4 L645.2,824.4 L645.6,822.3 L646.0,825.9 L646.4,820.3 L646.8,822.6 L647.2,815.5 L647.6,821.3 L648.0,813.7 L648.4,819.4 L648.8,815.8 L649.2,809.9 L649.6,813.5 L650.0,791.8 L650.4,804.6 L650.8,791.7 L651.2,798.0 L651.6,786.4 L652.0,785.4 L652.4,797.7 L652.8,790.9 L653.2,806.4 L653.6,800.2 L654.0,828.1 L654.4,809.1 L654.8,823.2 L655.2,822.3 L655.7,824.3 L656.1,837.5 L656.5,821.1 L656.9,837.5 L657.3,835.1 L657.7,822.8 L658.1,824.1 L658.5,790.6 L658.9,802.0 L659.2,785.4 L659.6,784.9 L660.0,794.4 L660.4,783.7 L660.8,798.6 L661.2,795.3 L661.6,799.8 L662.0,804.9 L662.4,800.6 L662.8,812.4 L663.2,807.8 L663.6,813.3 L664.0,814.2 L664.4,808.0 L664.9,814.5 L665.3,786.3 L665.7,804.3 L666.1,795.8 L666.5,793.4 L666.9,800.8 L667.3,792.3 L667.7,805.1 L668.1,801.2 L668.5,807.3 L668.9,807.8 L669.3,807.8 L669.7,812.6 L670.1,806.5 L670.5,812.5 L670.9,809.8 L671.3,814.2 L671.7,824.2 L672.1,809.3 L672.5,844.5 L672.9,828.3 L673.3,840.9 L673.7,841.5 L674.1,842.8 L674.5,848.1 L674.9,842.8 L675.3,849.8 L675.7,848.3 L676.1,851.1 L676.5,847.7 L676.9,830.8 L677.3,847.5 L677.7,823.3 L678.1,831.0 L678.5,820.7 L678.9,822.2 L679.3,828.6 L679.7,821.3 L680.1,833.9 L680.5,822.0 L680.9,835.8 L681.3,831.7 L681.7,838.3 L682.1,838.0 L682.5,824.6 L682.9,832.5 L683.3,824.4 L683.7,829.6 L684.1,822.3 L684.5,822.8 L684.9,828.6 L685.3,828.1 L685.7,838.3 L686.1,834.1 L686.5,845.3 L686.9,839.2 L687.3,844.7 L687.7,850.5 L688.1,843.2 L688.5,857.1 L688.9,845.2 L689.3,859.3 L689.7,856.8 L690.1,862.2 L690.5,862.3 L690.9,848.3 L691.3,858.8 L691.7,818.7 L692.1,857.5 L692.5,809.9 L692.9,811.0 L693.3,815.7 L693.7,812.5 L694.1,817.6 L694.5,814.7 L694.9,823.1 L695.3,816.2 L695.7,824.6 L696.1,823.9 L696.5,824.2 L696.9,833.2 L697.3,826.8 L697.7,836.7 L698.1,834.0 L698.5,836.7 L698.9,836.2 L699.3,814.2 L699.7,823.1 L700.1,794.8 L700.5,802.7 L700.9,788.6 L701.3,783.8 L701.7,791.4 L702.1,779.9 L702.5,786.8 L702.9,780.1 L703.3,782.2 L703.7,790.1 L704.1,781.5 L704.5,807.0 L704.9,789.2 L705.3,805.2 L705.7,806.2 L706.1,804.8 L706.5,810.6 L706.9,808.4 L707.3,812.0 L707.7,805.9 L708.1,813.1 L708.5,811.6 L708.9,812.6 L709.3,818.0 L709.7,813.2 L710.1,819.4 L710.5,811.1 L710.9,826.6 L711.3,820.0 L711.7,828.4 L712.1,827.1 L712.5,822.5 L712.9,830.3 L713.3,819.1 L713.7,823.0 L714.1,816.9 L714.5,817.4 L714.9,822.6 L715.3,821.7 L715.7,830.4 L716.1,824.5 L716.5,832.0 L716.9,831.9 L717.3,826.7 L717.7,831.7 L718.1,827.2 L718.5,828.5 L718.9,821.4 L719.3,825.0 L719.7,821.2 L720.1,821.3 L720.5,816.2 L720.9,817.4 L721.3,819.7 L721.7,821.3 L722.1,834.7 L722.5,817.5 L722.9,829.7 L723.3,827.0 L723.7,833.2 L724.1,835.1 L724.5,835.4 L724.9,838.4 L725.3,836.8 L725.7,840.4 L726.1,839.5 L726.5,846.5 L726.9,842.4 L727.3,844.7 L727.7,869.4 L728.1,854.3 L728.5,847.3 L728.9,852.8 L729.3,842.7 L729.7,845.9 L730.1,836.9 L730.5,835.1 L730.9,838.2 L731.3,838.9 L731.7,846.9 L732.1,838.4 L732.5,852.9 L732.9,845.2 L733.3,857.6 L733.7,857.5 L734.1,851.7 L734.5,855.4 L734.9,853.3 L735.3,856.1 L735.7,848.2 L736.1,852.0 L736.5,847.3 L736.9,847.9 L737.3,851.3 L737.7,831.3 L738.1,837.2 L738.5,819.4 L738.9,828.2 L739.3,815.8 L739.7,818.0 L740.1,835.3 L740.5,809.8 L740.9,842.1 L741.3,834.7 L741.7,844.7 L742.1,846.4 L742.5,840.4 L742.9,844.2 L743.3,839.7 L743.7,842.5 L744.1,838.5 L744.5,839.3 L744.9,838.3 L745.3,838.2 L745.7,843.2 L746.1,843.4 L746.5,856.5 L746.9,848.0 L747.3,852.9 L747.7,848.4 L748.1,854.3 L748.5,860.6 L748.9,851.4 L749.3,871.5 L749.7,861.3 L750.1,871.9 L750.5,870.3 L750.9,859.9 L751.3,867.0 L751.7,854.5 L752.1,864.1 L752.5,848.8 L752.9,849.5 L753.3,853.4 L753.7,852.5 L754.1,861.6 L754.5,851.0 L754.9,861.9 L755.3,856.4 L755.7,865.0 L756.1,863.9 L756.5,864.1 L756.9,870.6 L757.3,871.0 L757.7,881.4 L758.1,875.3 L758.5,883.1 L758.9,883.8 L759.3,840.1 L759.7,859.1 L760.1,844.7 L760.5,834.6 L760.9,841.1 L761.3,805.9 L761.7,836.5 L762.1,821.1 L762.5,819.0 L762.9,825.7 L763.3,820.1 L763.7,851.0 L764.1,830.2 L764.5,846.6 L764.9,847.9 L765.3,834.9 L765.7,837.8 L766.1,812.8 L766.5,821.6 L766.9,799.4 L767.3,791.8 L767.7,794.7 L768.1,791.2 L768.5,797.3 L768.9,789.3 L769.3,801.8 L769.7,798.7 L770.1,804.7 L770.5,803.0 L770.9,797.7 L771.3,797.5 L771.7,787.8 L772.1,790.2 L772.5,795.9 L772.9,793.3 L773.3,814.5 L773.7,799.2 L774.1,812.2 L774.5,812.6 L774.9,813.1 L775.3,823.7 L775.7,816.8 L776.1,838.7 L776.5,824.5 L776.9,834.6 L777.3,835.4 L777.7,839.9 L778.1,840.7 L778.5,834.0 L778.9,839.0 L779.3,829.5 L779.7,836.9 L780.1,826.4 L780.5,831.3 L780.9,828.7 L781.3,824.5 L781.7,827.2 L782.1,809.9 L782.5,827.2 L782.9,810.8 L783.3,814.8 L783.7,804.0 L784.1,804.6 L784.5,807.3 L784.9,804.9 L785.3,816.7 L785.7,807.3 L786.1,815.1 L786.5,815.8 L786.9,817.0 L787.3,821.1 L787.7,815.0 L788.1,823.3 L788.5,818.0 L788.9,823.9 L789.3,834.0 L789.7,827.4 L790.1,861.8 L790.5,837.2 L790.9,852.1 L791.3,855.9 L791.7,849.3 L792.1,849.1 L792.5,838.7 L792.9,849.6 L793.3,836.5 L793.8,835.1 L794.2,843.5 L794.6,834.3 L795.0,850.5 L795.4,840.6 L795.8,861.0 L796.2,857.5 L796.6,847.7 L797.0,852.2 L797.4,835.3 L797.8,852.9 L798.2,829.9 L798.6,831.9 L799.0,841.3 L799.4,835.1 L799.8,863.1 L800.2,833.4 L800.6,857.9 L801.0,845.9 L801.4,865.0 L801.8,863.9 L802.2,856.4 L802.6,863.6 L803.0,851.8 L803.4,855.4 L803.8,850.0 L804.2,854.5 L804.6,846.2 L805.0,844.7 L805.4,843.6 L805.8,832.0 L806.2,845.9 L806.6,818.0 L807.0,827.9 L807.4,819.0 L807.8,819.5 L808.2,838.3 L808.6,835.6 L809.0,857.8 L809.4,842.8 L809.8,854.3 L810.2,858.0 L810.6,856.6 L811.0,860.8 L811.4,862.4 L811.8,867.7 L812.2,867.1 L812.6,860.8 L813.0,866.9 L813.4,840.9 L813.8,859.3 L814.2,830.9 L814.6,839.4 L815.0,826.9 L815.4,823.9 L815.8,835.0 L816.2,821.1 L816.6,854.4 L817.0,836.9 L817.4,849.2 L817.8,851.1 L818.2,850.1 L818.6,867.5 L819.0,848.7 L819.4,878.9 L819.8,866.1 L820.2,873.5 L820.6,870.9 L821.0,846.2 L821.4,860.0 L821.8,837.7 L822.2,855.5 L822.6,824.7 L823.0,830.4 L823.4,819.0 L823.8,815.2 L824.2,823.6 L824.6,813.8 L825.0,818.8 L825.4,812.6 L825.8,815.6 L826.2,811.5 L826.6,811.0 L827.0,828.1 L827.4,827.4 L827.8,841.9 L828.2,851.1 L828.6,850.4 L829.0,863.5 L829.4,853.2 L829.8,864.4 L830.2,864.3 L830.6,874.1 L831.0,869.8 L831.4,875.1 L831.8,873.5 L832.2,866.9 L832.6,871.6 L833.0,861.2 L833.4,869.0 L833.8,859.1 L834.2,862.6 L834.6,857.5 L835.0,857.7 L835.4,865.4 L835.8,861.9 L836.2,875.1 L836.6,869.2 L837.0,873.4 L837.4,871.7 L837.8,878.3 L838.2,880.4 L838.6,879.6 L839.0,884.7 L839.4,881.6 L839.8,888.7 L840.2,887.0 L840.6,891.1 L841.0,890.1 L841.4,898.3 L841.8,895.9 L842.2,872.2 L842.6,867.9 L843.0,826.4 L843.4,832.2 L843.8,803.9 L844.2,790.2 L844.6,798.2 L845.0,790.1 L845.4,811.7 L845.8,800.8 L846.2,810.3 L846.6,811.7 L847.0,817.9 L847.4,819.0 L847.8,826.9 L848.2,853.2 L848.6,834.0 L849.0,851.1 L849.4,850.1 L849.8,839.7 L850.2,848.0 L850.6,836.3 L851.0,839.5 L851.4,831.9 L851.8,825.3 L852.2,829.7 L852.6,818.3 L853.0,830.6 L853.4,814.0 L853.8,814.2 L854.2,829.2 L854.6,810.8 L855.0,858.9 L855.4,835.6 L855.8,853.4 L856.2,851.1 L856.6,845.6 L857.0,851.0 L857.4,844.2 L857.8,849.7 L858.2,840.3 L858.6,845.1 L859.0,836.0 L859.4,838.3 L859.8,840.5 L860.2,833.4 L860.6,834.0 L861.0,825.7 L861.4,836.1 L861.8,825.4 L862.2,829.7 L862.6,825.5 L863.0,826.1 L863.4,838.8 L863.8,824.3 L864.2,852.9 L864.6,837.4 L865.0,857.3 L865.4,851.0 L865.8,859.1 L866.2,856.0 L866.6,821.1 L867.0,840.2 L867.4,816.4 L867.8,819.4 L868.2,803.0 L868.6,803.8 L869.0,795.0 L869.4,794.8 L869.8,804.4 L870.2,796.7 L870.6,805.6 L871.0,807.7 L871.4,818.7 L871.8,810.0 L872.2,815.8 L872.6,821.9 L873.0,817.0 L873.4,827.7 L873.8,817.8 L874.2,832.1 L874.6,830.3 L875.0,826.1 L875.4,827.0 L875.8,818.0 L876.2,823.7 L876.6,814.9 L877.0,821.3 L877.4,817.3 L877.8,815.8 L878.2,819.2 L878.6,816.4 L879.0,823.0 L879.4,820.6 L879.8,828.1 L880.2,820.6 L880.6,832.1 L881.0,827.9 L881.4,832.8 L881.8,833.5 L882.2,833.6 L882.6,841.8 L883.0,837.2 L883.4,859.3 L883.8,839.4 L884.2,851.8 L884.6,849.3 L885.0,856.1 L885.4,856.2 L885.8,860.7 L886.2,857.8 L886.6,839.4 L887.0,840.2 L887.4,828.6 L887.8,830.0 L888.2,809.5 L888.6,807.3 L889.0,798.2 L889.4,801.3 L889.8,814.4 L890.2,794.4 L890.6,817.9 L891.0,811.5 L891.4,819.0 L891.8,817.5 L892.2,808.4 L892.6,817.2 L893.0,802.5 L893.4,808.5 L893.8,803.0 L894.2,798.0 L894.6,804.2 L895.0,798.1 L895.4,804.0 L895.8,791.3 L896.2,796.5 L896.6,791.5 L897.0,791.8 L897.4,798.2 L897.8,792.3 L898.2,806.3 L898.6,800.3 L899.0,812.3 L899.4,809.4 L899.8,810.9 L900.2,818.3 L900.6,811.9 L901.0,837.2 L901.4,827.3 L901.8,833.9 L902.2,833.1 L902.6,839.9 L903.0,844.1 L903.4,839.4 L903.8,844.4 L904.2,839.0 L904.6,845.3 L905.0,842.6 L905.4,849.6 L905.8,846.3 L906.2,839.0 L906.6,838.8 L907.0,816.1 L907.4,832.4 L907.8,820.3 L908.2,815.8 L908.7,816.3 L909.1,813.0 L909.6,817.5 L910.0,814.2 L910.4,817.2 L910.8,832.8 L911.2,815.2 L911.6,844.6 L912.0,826.2 L912.4,850.9 L912.8,848.3 L913.2,854.3 L913.6,851.2 L914.0,841.5 L914.4,847.8 L914.8,830.8 L915.2,845.7 L915.6,834.2 L916.0,832.3 L916.4,828.7 L916.8,829.1 L917.2,843.7 L917.6,828.8 L918.0,854.3 L918.4,844.7 L918.8,851.1 L919.2,855.3 L919.6,817.7 L920.1,837.1 L920.5,815.6 L920.9,814.2 L921.3,826.8 L921.7,824.8 L922.0,852.0 L922.4,837.1 L922.8,849.5 L923.2,852.9 L923.6,848.1 L924.0,853.0 L924.4,850.7 L924.8,853.1 L925.2,851.8 L925.6,853.7 L926.0,854.3 L926.4,855.0 L926.8,865.0 L927.2,860.0 L927.6,881.3 L928.0,867.5 L928.4,879.5 L928.8,877.9 L929.2,883.1 L929.6,880.1 L930.0,869.2 L930.4,885.3 L930.8,864.1 L931.2,870.9 L931.6,863.9 L932.0,857.2 L932.4,864.1 L932.8,842.0 L933.2,857.8 L933.6,844.5 L934.0,844.7 L934.4,854.0 L934.8,842.3 L935.2,864.0 L935.6,845.8 L936.0,869.7 L936.4,870.3 L936.8,870.1 L937.2,882.4 L937.7,872.0 L938.1,896.5 L938.5,886.2 L938.9,894.3 L939.3,894.3 L939.7,881.5 L940.1,884.7 L940.5,857.4 L940.9,864.9 L941.2,829.6 L941.6,840.3 L942.0,827.1 L942.4,833.1 L942.8,845.8 L943.2,838.5 L943.6,873.1 L944.0,858.1 L944.4,873.5 L944.8,883.6 L945.3,874.7 L945.7,893.8 L946.1,883.4 L946.5,892.7 L946.9,892.5 L947.3,876.5 L947.7,884.0 L948.1,873.6 L948.5,878.4 L948.8,869.1 L949.2,867.1 L949.6,871.6 L950.0,868.8 L950.4,880.4 L950.8,869.5 L951.2,880.1 L951.6,879.9 L952.0,869.5 L952.4,877.2 L952.8,861.2 L953.2,860.7 L953.6,861.9 L954.0,824.5 L954.4,848.0 L954.8,824.5 L955.2,815.8 L955.6,828.9 L956.0,816.4 L956.4,839.2 L956.8,817.7 L957.2,841.8 L957.6,844.1 L958.0,851.1 L958.4,848.4 L958.8,836.5 L959.2,853.1 L959.6,821.7 L960.0,829.2 L960.4,819.0 L960.8,821.0 L961.2,836.5 L961.6,817.5 L962.0,850.3 L962.4,849.7 L962.8,857.5 L963.2,855.1 L963.6,828.2 L964.0,851.0 L964.4,813.1 L964.8,820.9 L965.2,809.4 L965.6,808.4 L966.0,836.8 L966.4,818.1 L966.8,828.7 L967.2,822.3 L967.6,801.5 L968.0,805.5 L968.4,777.6 L968.8,771.0 L969.2,782.6 L969.6,774.7 L970.0,801.5 L970.4,788.6 L970.8,812.6 L971.2,808.6 L971.6,819.0 L972.0,825.5 L972.4,821.9 L972.8,831.9 L973.2,827.4 L973.6,835.3 L974.0,835.1 L974.4,828.7 L974.9,830.9 L975.3,806.0 L975.7,828.2 L976.1,805.1 L976.5,818.6 L976.9,806.0 L977.3,806.2 L977.7,811.2 L978.1,807.4 L978.5,817.8 L978.9,815.2 L979.3,823.5 L979.7,825.5 L980.1,811.1 L980.5,823.5 L980.9,806.1 L981.3,804.6 L981.7,809.3 L982.1,806.7 L982.5,813.2 L982.9,798.3 L983.3,816.9 L983.7,814.4 L984.1,824.3 L984.5,823.9 L984.9,823.1 L985.3,835.7 L985.7,818.5 L986.1,837.4 L986.5,832.4 L986.9,836.7 L987.3,831.6 L987.7,803.1 L988.1,822.1 L988.5,807.8 L988.9,806.6 L989.3,821.3 L989.7,811.8 L990.1,823.4 L990.5,820.7 L990.9,827.1 L991.3,834.4 L991.7,824.3 L992.1,854.3 L992.5,834.4 L992.9,852.8 L993.3,852.7 L993.7,847.9 L994.1,852.1 L994.5,839.9 L994.9,850.2 L995.3,831.8 L995.7,839.3 L996.1,830.4 L996.5,831.9 L996.9,836.2 L997.3,834.9 L997.7,847.5 L998.1,840.1 L998.5,844.2 L998.9,844.7 L999.3,840.2 L999.7,843.6 L1000.1,838.3 L1000.5,841.6 L1000.9,833.3 L1001.3,839.1 L1001.7,830.5 L1002.1,833.1 L1002.5,830.2 L1002.9,828.7 L1003.3,829.4 L1003.7,824.1 L1004.1,829.9 L1004.5,817.0 L1004.9,824.1 L1005.3,818.1 L1005.7,823.0 L1006.1,820.7 L1006.5,820.4 L1006.9,821.6 L1007.3,817.5 L1007.7,821.7 L1008.1,817.3 L1008.5,819.0 L1008.9,826.1 L1009.3,826.3 L1009.7,835.3 L1010.1,826.4 L1010.5,844.5 L1010.9,832.4 L1011.3,851.0 L1011.7,852.7 L1012.1,839.8 L1012.5,838.9 L1012.9,811.4 L1013.3,827.6 L1013.7,806.1 L1014.1,811.0 L1014.5,826.2 L1014.9,810.0 L1015.3,848.4 L1015.7,854.3 L1016.1,854.3 L1016.5,872.5 L1016.9,858.0 L1017.3,891.3 L1017.7,873.9 L1018.1,883.1 L1018.5,869.7 L1018.9,835.2 L1019.3,826.1 L1019.7,801.4 L1020.1,801.6 L1020.5,806.3 L1020.9,806.8 L1021.3,812.9 L1021.7,804.7 L1022.1,814.0 L1022.5,811.1 L1022.9,815.8 L1023.3,822.9 L1023.7,817.6 L1024.1,829.3 L1024.5,814.4 L1024.9,844.3 L1025.3,835.4 L1025.7,846.5 L1026.1,846.3 L1026.5,838.6 L1026.9,846.2 L1027.3,818.4 L1027.7,834.2 L1028.1,818.1 L1028.5,819.0 L1028.9,823.5 L1029.3,820.4 L1029.7,834.7 L1030.1,823.2 L1030.5,834.2 L1030.9,832.9 L1031.3,841.5 L1031.7,841.5 L1032.1,831.2 L1032.5,829.9 L1032.9,798.4 L1033.3,832.2 L1033.7,802.7 L1034.1,803.0 L1034.5,802.9 L1034.9,781.5 L1035.3,795.6 L1035.7,790.2 L1036.1,790.0 L1036.5,802.5 L1036.9,795.2 L1037.3,814.5 L1037.7,805.4 L1038.1,814.2 L1038.5,816.5 L1038.9,813.2 L1039.3,821.5 L1039.7,814.4 L1040.1,818.7 L1040.5,816.7 L1040.9,820.9 L1041.3,819.0 L1041.7,820.6 L1042.1,833.3 L1042.5,825.4 L1042.9,839.1 L1043.3,833.4 L1043.7,840.3 L1044.1,841.9 L1044.5,846.3 L1044.9,846.5 L1045.3,827.9 L1045.7,839.9 L1046.1,804.1 L1046.5,830.5 L1046.9,812.9 L1047.3,819.5 L1047.7,807.8 L1048.1,808.0 L1048.5,818.3 L1048.9,813.2 L1049.3,830.7 L1049.7,811.9 L1050.1,831.3 L1050.5,826.5 L1050.9,833.5 L1051.3,839.1 L1051.7,838.0 L1052.1,844.5 L1052.5,838.2 L1052.9,848.1 L1053.2,844.8 L1053.6,849.5 L1054.0,848.5 L1054.5,841.4 L1054.9,851.3 L1055.3,835.0 L1055.7,841.3 L1056.1,835.2 L1056.5,835.1 L1056.9,834.8 L1057.3,823.5 L1057.7,826.6 L1058.1,801.8 L1058.5,818.2 L1058.9,803.2 L1059.3,810.3 L1059.7,801.4 L1060.1,791.6 L1060.5,803.6 L1060.8,783.8 L1061.2,785.4 L1061.7,796.7 L1062.1,790.0 L1062.5,805.0 L1062.9,798.2 L1063.3,807.4 L1063.7,807.8 L1064.1,804.1 L1064.5,808.6 L1064.9,805.7 L1065.3,812.4 L1065.7,806.1 L1066.1,809.1 L1066.5,807.3 L1066.9,809.4 L1067.3,816.3 L1067.7,806.0 L1068.1,834.5 L1068.5,823.1 L1068.9,842.6 L1069.3,840.1 L1069.7,850.3 L1070.1,852.7 L1070.5,837.3 L1070.9,862.2 L1071.3,833.3 L1071.7,830.3 L1072.1,835.0 L1072.5,831.2 L1072.9,839.2 L1073.3,834.6 L1073.7,840.8 L1074.1,837.8 L1074.5,844.7 L1074.9,844.7 L1075.3,848.7 L1075.7,858.5 L1076.1,842.4 L1076.5,869.6 L1076.9,856.6 L1077.3,875.6 L1077.6,876.7 L1078.1,849.3 L1078.5,860.8 L1078.9,841.5 L1079.3,842.2 L1079.7,848.0 L1080.1,840.1 L1080.5,852.2 L1080.9,851.3 L1081.3,858.0 L1081.7,853.9 L1082.1,857.5 L1082.5,868.0 L1082.9,823.2 L1083.3,828.7 L1083.7,836.9 L1084.1,830.9 L1084.5,853.3 L1084.9,832.5 L1085.3,853.7 L1085.7,851.5 L1086.1,859.1 L1086.5,865.9 L1086.9,864.0 L1087.3,879.8 L1087.7,872.0 L1088.1,897.2 L1088.5,875.1 L1088.9,892.6 L1089.3,892.7 L1089.7,880.2 L1090.1,884.9 L1090.5,852.6 L1090.9,859.1 L1091.3,843.1 L1091.7,846.4 L1092.1,858.4 L1092.5,841.3 L1093.0,859.9 L1093.4,858.4 L1093.8,867.1 L1094.2,872.8 L1094.6,838.4 L1095.0,877.0 L1095.4,838.0 L1095.7,838.3 L1096.1,847.8 L1096.5,846.2 L1096.9,856.6 L1097.3,848.5 L1097.7,869.2 L1098.1,855.3 L1098.5,871.0 L1098.9,875.1 L1099.3,868.2 L1099.7,875.9 L1100.1,842.3 L1100.5,849.5 L1100.9,856.2 L1101.3,846.8 L1101.7,865.3 L1102.1,857.9 L1102.5,867.9 L1102.9,867.1 L1103.3,844.6 L1103.8,849.7 L1104.2,827.7 L1104.6,819.0 L1105.0,818.7 L1105.4,814.9 L1105.8,818.9 L1106.2,813.3 L1106.6,818.7 L1107.0,811.3 L1107.4,817.4 L1107.8,812.4 L1108.2,817.0 L1108.6,814.2 L1109.0,815.3 L1109.4,824.2 L1109.8,818.8 L1110.2,838.1 L1110.6,826.3 L1111.0,832.7 L1111.4,830.7 L1111.8,835.1 L1112.2,837.8 L1112.6,837.5 L1113.0,843.5 L1113.4,839.7 L1113.8,844.9 L1114.2,840.7 L1114.6,846.3 L1115.0,845.0 L1115.4,838.0 L1115.8,840.3 L1116.2,828.3 L1116.6,841.1 L1117.0,823.7 L1117.4,826.7 L1117.8,819.7 L1118.2,819.0 L1118.6,818.8 L1119.0,813.9 L1119.4,815.8 L1119.8,812.2 L1120.2,816.3 L1120.6,806.2 L1121.0,812.1 L1121.4,807.8 L1121.8,807.2 L1122.2,822.7 L1122.6,807.4 L1123.0,828.9 L1123.4,825.2 L1123.8,835.1 L1124.2,838.3 L1124.6,839.1 L1125.0,847.6 L1125.4,840.9 L1125.8,856.4 L1126.2,854.3 L1126.6,853.0 L1127.0,859.3 L1127.4,857.1 L1127.8,859.5 L1128.2,858.0 L1128.6,860.2 L1129.0,857.5 L1129.4,864.7 L1129.8,858.9 L1130.2,863.9 L1130.6,867.2 L1131.0,863.8 L1131.4,869.1 L1131.8,865.1 L1132.2,872.0 L1132.6,869.3 L1133.0,873.9 L1133.4,871.2 L1133.8,875.5 L1134.2,873.5 L1134.6,872.9 L1135.0,877.4 L1135.4,876.7 L1135.8,879.1 L1136.2,875.1 L1136.6,885.7 L1137.0,879.8 L1137.4,884.2 L1137.8,881.3 L1138.2,887.0 L1138.6,882.8 L1139.0,887.9 L1139.4,889.7 L1139.8,876.5 L1140.2,882.9 L1140.6,879.9 L1141.0,877.9 L1141.3,901.2 L1141.7,878.8 L1142.1,901.0 L1142.5,897.5 L1142.9,871.3 L1143.4,868.9 L1143.8,844.7 L1144.2,839.0 L1144.5,846.7 L1144.9,826.8 L1145.3,833.7 L1145.7,830.3 L1146.1,834.5 L1146.5,848.7 L1146.9,840.5 L1147.3,873.2 L1147.8,851.4 L1148.2,871.7 L1148.6,871.9 L1149.0,866.2 L1149.4,875.7 L1149.8,834.5 L1150.2,850.9 L1150.6,844.8 L1151.1,848.0 L1151.5,835.1 L1151.9,841.0 L1152.2,847.3 L1152.6,842.7 L1153.0,869.3 L1153.4,848.2 L1153.8,873.9 L1154.2,876.7 L1154.6,864.0 L1155.0,876.3 L1155.4,841.1 L1155.8,841.5 L1156.2,844.8 L1156.6,845.3 L1157.0,850.1 L1157.4,837.8 L1157.8,855.4 L1158.2,855.4 L1158.6,861.8 L1159.0,860.7 L1159.4,863.3 L1159.8,872.7 L1160.2,868.4 L1160.6,877.3 L1161.0,868.2 L1161.4,882.2 L1161.8,878.8 L1162.2,886.3 L1162.6,881.5 L1163.0,857.3 L1163.4,888.6 L1163.8,855.4 L1164.2,864.3 L1164.6,854.3 L1165.0,839.8 L1165.4,856.5 L1165.8,833.2 L1166.2,828.7 L1166.6,832.0 L1167.0,827.0 L1167.4,830.8 L1167.8,827.4 L1168.3,831.4 L1168.7,826.9 L1169.1,827.1 L1169.5,833.8 L1169.9,836.3 L1170.2,851.9 L1170.6,831.6 L1171.0,870.1 L1171.4,856.8 L1171.8,867.1 L1172.2,868.6 L1172.6,849.8 L1173.0,868.5 L1173.4,822.9 L1173.8,843.1 L1174.2,833.5 L1174.6,832.3 L1175.0,839.6 L1175.4,835.4 L1175.8,848.6 L1176.2,843.1 L1176.6,851.1 L1177.0,852.7 L1177.4,833.3 L1177.8,844.6 L1178.2,815.6 L1178.6,825.8 L1179.0,811.0 L1179.4,809.2 L1179.8,839.7 L1180.2,812.7 L1180.6,838.3 L1181.0,837.5 L1181.4,803.1 L1181.9,814.7 L1182.3,783.4 L1182.7,780.6 L1183.1,789.6 L1183.5,782.9 L1183.9,810.3 L1184.2,803.9 L1184.6,820.2 L1185.0,816.2 L1185.4,822.3 L1185.8,826.1 L1186.2,816.9 L1186.6,835.1 L1187.0,827.7 L1187.4,839.0 L1187.8,839.9 L1188.2,835.4 L1188.6,840.2 L1189.0,837.4 L1189.4,838.4 L1189.8,835.9 L1190.2,841.7 L1190.6,832.9 L1191.0,835.1 L1191.4,840.5 L1191.8,835.0 L1192.2,844.5 L1192.6,841.0 L1193.0,852.4 L1193.4,845.8 L1193.8,854.6 L1194.2,854.3 L1194.6,857.2 L1195.0,866.1 L1195.4,856.4 L1195.8,877.2 L1196.2,870.6 L1196.6,875.1 L1197.0,876.3 L1197.4,871.4 L1197.8,872.6 L1198.2,866.8 L1198.6,872.2 L1199.0,866.2 L1199.4,865.7 L1199.8,863.9 L1200.2,846.5 L1200.6,861.1 L1201.0,828.2 L1201.4,825.5 L1201.8,825.9 L1202.2,808.0 L1202.6,816.9 L1203.0,808.8 L1203.3,806.2 L1203.8,812.0 L1204.2,807.4 L1204.6,820.0 L1205.0,811.9 L1205.4,826.5 L1205.8,821.5 L1206.2,828.7 L1206.6,829.8 L1207.0,823.7 L1207.4,829.1 L1207.8,824.9 L1208.2,829.0 L1208.6,823.9 L1209.0,825.6 L1209.4,839.2 L1209.8,830.5 L1210.2,858.4 L1210.6,841.2 L1211.0,866.7 L1211.4,857.4 L1211.8,871.9 L1212.2,869.5 L1212.6,857.2 L1213.0,868.3 L1213.4,843.8 L1213.8,852.8 L1214.2,843.1 L1214.6,844.6 L1215.0,851.6 L1215.4,837.4 L1215.8,868.4 L1216.2,845.8 L1216.6,867.7 L1217.0,866.6 L1217.4,873.5 L1217.9,870.3 L1218.3,857.1 L1218.7,865.4 L1219.1,855.4 L1219.6,860.9 L1220.0,854.3 L1220.4,852.0 L1220.8,858.7 L1221.2,856.6 L1221.6,861.2 L1222.0,857.7 L1222.4,860.7 L1222.8,861.1 L1223.2,844.1 L1223.6,863.2 L1224.0,844.7 L1224.4,842.7 L1224.8,838.3 L1225.2,834.7 L1225.6,846.2 L1226.0,844.5 L1226.4,858.3 L1226.8,851.9 L1227.2,855.9 L1227.6,854.4 L1228.0,835.2 L1228.4,847.4 L1228.8,831.9 L1229.2,833.2 L1229.6,841.7 L1230.0,831.7 L1230.4,849.4 L1230.8,844.0 L1231.2,847.9 L1231.6,846.5 L1232.0,821.2 L1232.4,850.7 L1232.7,811.6 L1233.1,811.0 L1233.5,828.6 L1233.9,819.8 L1234.3,856.5 L1234.7,847.0 L1235.1,864.8 L1235.5,875.1 L1235.9,860.8 L1236.4,865.4 L1236.8,826.5 L1237.2,830.5 L1237.6,815.8 L1238.0,817.0 L1238.4,829.9 L1238.8,825.3 L1239.2,835.5 L1239.6,836.3 L1240.0,843.1 L1240.4,834.3 L1240.8,803.4 L1241.2,817.5 L1241.6,804.6 L1242.0,806.5 L1242.4,827.7 L1242.8,814.2 L1243.2,834.4 L1243.6,820.9 L1244.0,835.1 L1244.4,838.8 L1244.8,835.6 L1245.2,845.7 L1245.6,838.5 L1246.0,845.1 L1246.4,846.3 L1246.8,843.4 L1247.2,847.5 L1247.6,837.2 L1248.0,840.6 L1248.4,833.7 L1248.8,840.4 L1249.2,834.9 L1249.6,833.5 L1250.0,840.4 L1250.4,836.9 L1250.8,847.6 L1251.2,839.3 L1251.6,856.5 L1252.0,857.5 L1252.4,853.2 L1252.8,857.4 L1253.2,853.3 L1253.6,854.8 L1254.0,847.9 L1254.4,851.3 L1254.8,847.6 L1255.2,847.9 L1255.6,853.3 L1256.0,848.4 L1256.4,872.8 L1256.8,846.7 L1257.2,867.2 L1257.6,866.3 L1257.9,871.9 L1258.3,862.9 L1258.8,829.4 L1259.2,846.5 L1259.6,823.9 L1260.0,824.1 L1260.4,842.0 L1260.8,833.6 L1261.2,861.0 L1261.6,837.7 L1262.0,855.2 L1262.4,854.3 L1262.8,852.6 L1263.2,858.6 L1263.6,855.2 L1264.0,867.2 L1264.4,861.2 L1264.8,867.1 L1265.2,870.4 L1265.6,866.3 L1266.0,881.8 L1266.4,869.9 L1266.8,881.0 L1267.2,883.1 L1267.6,867.3 L1268.0,883.9 L1268.4,850.6 L1268.8,844.7 L1269.2,851.2 L1269.6,850.0 L1270.0,866.0 L1270.4,850.1 L1270.8,871.1 L1271.2,870.3 L1271.6,856.1 L1272.0,864.1 L1272.4,850.2 L1272.8,847.9 L1273.2,859.8 L1273.6,853.9 L1274.0,871.6 L1274.4,858.6 L1274.8,885.1 L1275.2,884.7 L1275.6,844.9 L1276.0,856.8 L1276.4,830.3 L1276.8,831.7 L1277.2,839.7 L1277.6,834.5 L1278.0,857.6 L1278.4,847.4 L1278.8,856.4 L1279.2,857.5 L1279.6,858.6 L1280.0,870.1 L1280.4,867.2 L1280.8,887.2 L1281.2,863.7 L1281.6,882.2 L1282.0,881.2 L1282.4,889.5 L1282.8,889.2 L1283.2,884.4 L1283.6,890.6 L1284.0,882.9 L1284.4,887.7 L1284.9,886.3 L1285.3,887.3 L1285.7,898.3 L1286.1,890.6 L1286.5,903.8 L1286.9,899.8 L1287.3,907.1 L1287.7,903.4 L1288.1,848.1 L1288.5,885.0 L1288.9,860.7 L1289.3,857.0 L1289.7,865.6 L1290.1,861.2 L1290.5,869.9 L1290.9,867.9 L1291.3,871.9 L1291.7,871.1 L1292.1,842.7 L1292.5,854.7 L1292.9,833.5 L1293.3,836.9 L1293.7,851.7 L1294.1,838.2 L1294.5,861.0 L1294.9,861.3 L1295.3,867.1 L1295.7,873.7 L1296.1,870.8 L1296.5,882.9 L1296.9,869.6 L1297.3,882.2 L1297.7,883.1 L1298.1,877.4 L1298.5,882.8 L1298.9,873.4 L1299.3,878.8 L1299.7,866.4 L1300.1,867.1 L1300.5,865.9 L1300.9,846.9 L1301.3,862.7 L1301.7,825.7 L1302.1,842.8 L1302.5,828.7 L1302.9,823.2 L1303.3,824.9 L1303.7,807.1 L1304.1,817.6 L1304.5,811.0 L1304.9,813.6 L1305.3,828.1 L1305.7,813.4 L1306.1,840.2 L1306.5,846.3 L1306.9,839.2 L1307.3,837.2 L1307.7,817.1 L1308.1,837.2 L1308.5,817.7 L1308.9,812.6 L1309.3,815.3 L1309.7,812.2 L1310.1,824.4 L1310.5,821.0 L1310.9,827.6 L1311.3,822.7 L1311.7,830.9 L1312.1,831.9 L1312.5,827.1 L1312.9,828.8 L1313.3,822.2 L1313.7,826.2 L1314.1,820.4 L1314.5,820.7 L1314.9,827.3 L1315.3,821.6 L1315.7,833.5 L1316.1,823.6 L1316.5,838.7 L1316.9,833.7 L1317.3,844.6 L1317.7,844.7 L1318.1,842.3 L1318.5,848.1 L1318.9,845.1 L1319.3,851.9 L1319.7,847.4 L1320.1,851.1 L1320.5,856.5 L1320.9,852.9 L1321.3,859.1 L1321.7,855.6 L1322.1,862.7 L1322.5,860.7 L1322.9,848.0 L1323.3,850.7 L1323.7,809.8 L1324.1,831.4 L1324.5,803.1 L1324.9,799.8 L1325.3,810.1 L1325.7,799.0 L1326.1,836.6 L1326.5,812.2 L1326.9,831.7 L1327.3,835.1 L1327.7,831.7 L1328.1,834.3 L1328.5,819.7 L1328.9,825.5 L1329.3,827.5 L1329.7,809.2 L1330.1,822.9 L1330.5,801.6 L1330.9,812.5 L1331.3,803.0 L1331.7,802.4 L1332.1,825.9 L1332.5,803.4 L1332.9,833.5 L1333.3,823.5 L1333.7,830.3 L1334.1,835.3 L1334.5,830.8 L1334.9,848.3 L1335.3,832.8 L1335.7,844.5 L1336.1,844.7 L1336.5,841.7 L1336.9,845.9 L1337.3,841.5 L1337.7,846.0 L1338.1,843.1 L1338.5,844.5 L1338.9,840.1 L1339.3,843.1 L1339.7,848.8 L1340.1,848.9 L1340.5,854.3 L1340.9,849.1 L1341.3,870.0 L1341.7,858.3 L1342.1,867.0 L1342.5,868.7 L1342.9,859.2 L1343.3,859.4 L1343.7,835.4 L1344.1,848.6 L1344.5,832.8 L1344.9,835.1 L1345.3,833.8 L1345.7,825.1 L1346.1,831.5 L1346.5,814.7 L1346.9,824.0 L1347.3,813.5 L1347.7,816.6 L1348.1,811.0 L1348.5,796.1 L1348.9,807.5 L1349.3,795.6 L1349.6,800.6 L1350.0,788.6 L1350.4,789.9 L1350.9,816.7 L1351.3,788.0 L1351.7,820.8 L1352.1,819.0 L1352.5,821.5 L1352.9,854.2 L1353.3,835.3 L1353.7,857.1 L1354.1,847.6 L1354.5,857.5 L1354.9,855.2 L1355.3,826.4 L1355.7,832.4 L1356.1,822.3 L1356.5,821.6 L1356.9,832.4 L1357.3,827.2 L1357.7,844.4 L1358.1,828.7 L1358.5,843.9 L1358.9,838.9 L1359.3,846.3 L1359.7,853.0 L1360.1,840.6 L1360.5,858.4 L1360.9,857.5 L1361.3,842.2 L1361.7,858.8 L1362.1,826.4 L1362.4,843.8 L1362.8,833.5 L1363.2,831.9 L1363.7,838.7 L1364.1,835.3 L1364.5,849.3 L1364.9,841.1 L1365.3,849.2 L1365.7,851.1 L1366.1,850.8 L1366.5,852.6 L1366.9,848.3 L1367.3,852.3 L1367.7,850.8 L1368.1,852.4 L1368.5,849.8 L1368.9,852.5 L1369.3,850.4 L1369.7,852.7 L1370.1,856.7 L1370.5,853.4 L1370.9,864.6 L1371.3,858.6 L1371.7,864.3 L1372.1,865.5 L1372.5,860.2 L1372.9,879.8 L1373.3,872.4 L1373.7,878.3 L1374.1,865.0 L1374.5,832.3 L1374.9,837.0 L1375.3,811.0 L1375.7,802.3 L1376.1,802.8 L1376.5,792.0 L1376.9,790.2 L1377.3,799.6 L1377.7,797.7 L1378.1,831.0 L1378.5,827.1 L1378.9,818.9 L1379.3,862.5 L1379.7,850.2 L1380.1,859.1 L1380.5,854.8 L1380.9,845.8 L1381.3,852.3 L1381.7,827.2 L1382.1,849.0 L1382.5,819.8 L1382.9,828.0 L1383.3,819.0 L1383.7,813.6 L1384.1,820.1 L1384.5,803.0 L1384.9,818.4 L1385.3,805.6 L1385.7,808.4 L1386.0,803.0 L1386.5,801.5 L1386.9,820.8 L1387.3,795.0 L1387.7,827.0 L1388.1,823.9 L1388.5,819.9 L1388.9,826.6 L1389.3,820.9 L1389.7,826.9 L1390.1,823.6 L1390.5,828.6 L1390.9,822.9 L1391.3,825.5 L1391.7,826.9 L1392.1,823.3 L1392.5,827.7 L1392.9,821.8 L1393.3,825.3 L1393.7,819.6 L1394.1,822.0 L1394.5,820.7 L1394.9,823.1 L1395.3,832.7 L1395.7,815.5 L1396.1,846.8 L1396.5,844.9 L1396.9,851.1 L1397.3,846.5 L1397.7,833.7 L1398.1,844.8 L1398.5,805.5 L1398.9,824.0 L1399.3,811.9 L1399.7,810.9 L1400.1,803.0 L1400.5,800.9 L1400.9,805.7 L1401.3,804.3 L1401.7,810.8 L1402.1,805.4 L1402.5,812.3 L1402.9,806.9 L1403.3,811.0 L1403.7,816.5 L1404.1,812.8 L1404.5,815.9 L1404.9,812.5 L1405.3,818.8 L1405.7,819.0 L1406.1,821.2 L1406.5,837.0 L1406.9,821.6 L1407.3,841.7 L1407.7,841.4 L1408.1,851.1 L1408.5,855.6 L1408.9,852.9 L1409.3,865.7 L1409.7,854.4 L1410.1,868.8 L1410.5,861.1 L1410.9,870.2 L1411.3,870.3 L1411.7,854.7 L1412.1,859.6 L1412.5,842.9 L1412.9,847.9 L1413.3,835.8 L1413.8,833.5 L1414.2,832.3 L1414.6,827.8 L1415.0,834.7 L1415.4,818.6 L1415.8,821.9 L1416.2,819.0 L1416.6,791.8 L1417.0,799.1 L1417.4,783.8 L1417.8,790.4 L1418.2,812.5 L1418.6,793.6 L1419.0,817.1 L1419.4,822.3 L1419.7,818.7 L1420.1,817.5 L1420.5,811.1 L1420.9,817.4 L1421.3,803.7 L1421.7,808.4 L1422.1,803.0 L1422.5,807.3 L1422.9,828.6 L1423.3,812.2 L1423.7,834.5 L1424.2,835.1 L1424.6,834.3 L1425.0,837.3 L1425.4,837.7 L1425.8,842.8 L1426.2,839.5 L1426.6,841.5 L1427.0,846.1 L1427.4,842.3 L1427.8,851.2 L1428.2,846.4 L1428.6,852.7 L1429.0,849.6 L1429.4,852.2 L1429.8,852.7 L1430.2,849.7 L1430.6,853.1 L1431.0,851.5 L1431.4,855.9 L1431.8,849.9 L1432.2,856.2 L1432.6,851.4 L1433.0,857.5 L1433.4,852.3 L1433.8,854.3 L1434.2,856.6 L1434.6,855.3 L1435.0,860.8 L1435.4,855.2 L1435.8,865.4 L1436.2,856.6 L1436.6,865.5 L1437.0,864.4 L1437.4,866.7 L1437.8,867.1 L1438.2,870.3 L1438.6,884.0 L1439.0,876.1 L1439.4,891.7 L1439.8,881.3 L1440.2,889.5 L1440.6,896.4 L1441.0,867.5 L1441.4,870.7 L1441.8,855.9 L1442.2,854.7 L1442.6,859.6 L1443.0,859.0 L1443.4,863.1 L1443.8,858.7 L1444.2,863.9 L1444.6,875.1 L1444.9,869.1 L1445.3,895.9 L1445.7,876.7 L1446.1,889.5 L1446.5,890.7 L1446.9,875.5 L1447.3,888.7 L1447.8,862.5 L1448.2,865.5 L1448.6,875.1 L1449.0,863.4 L1449.4,897.7 L1449.8,874.9 L1450.2,897.1 L1450.6,899.1 L1451.0,897.9 L1451.4,909.8 L1451.8,897.6 L1452.2,921.7 L1452.6,910.6 L1453.0,919.1 L1453.4,908.7 L1453.8,876.1 L1454.2,888.0 L1454.6,863.9 L1455.0,865.7 L1455.4,877.3 L1455.8,861.9 L1456.2,880.5 L1456.6,877.3 L1457.0,881.5 L1457.4,880.1 L1457.8,847.7 L1458.2,862.8 L1458.6,846.3 L1459.0,841.0 L1459.4,846.6 L1459.8,835.6 L1460.2,843.7 L1460.6,830.7 L1461.0,833.5 L1461.4,842.2 L1461.8,840.6 L1462.2,864.4 L1462.6,849.1 L1463.0,860.3 L1463.4,859.1 L1463.8,847.9 L1464.2,856.3 L1464.6,822.3 L1465.0,823.9 L1465.4,837.7 L1465.8,826.4 L1466.2,862.6 L1466.6,831.0 L1467.0,853.4 L1467.4,854.3 L1467.8,835.6 L1468.2,859.9 L1468.6,826.6 L1469.0,823.9 L1469.4,833.5 L1469.8,830.9 L1470.2,860.5 L1470.6,846.9 L1471.0,866.6 L1471.4,870.3 L1471.8,857.4 L1472.2,866.6 L1472.6,853.2 L1473.0,851.0 L1473.4,834.6 L1473.8,836.7 L1474.2,848.2 L1474.6,848.3 L1475.0,882.4 L1475.4,841.1 L1475.8,871.6 L1476.2,871.9 L1476.6,863.3 L1477.0,877.2 L1477.4,852.5 L1477.8,863.8 L1478.2,844.0 L1478.6,844.7 L1479.0,843.2 L1479.4,839.9 L1479.8,844.7 L1480.2,833.8 L1480.6,838.0 L1481.0,833.5 L1481.4,834.1 L1481.8,860.4 L1482.2,846.9 L1482.6,868.6 L1483.0,867.2 L1483.4,878.3 L1483.8,881.5 L1484.2,875.4 L1484.6,880.3 L1485.0,876.5 L1485.4,880.2 L1485.8,877.1 L1486.2,885.4 L1486.6,879.9 L1487.0,858.7 L1487.4,868.3 L1487.8,827.3 L1488.2,827.1 L1488.6,826.4 L1489.0,800.0 L1489.5,819.0 L1489.9,808.9 L1490.3,807.8 L1490.7,816.8 L1491.1,811.9 L1491.5,823.9 L1491.8,815.3 L1492.2,837.5 L1492.6,833.1 L1493.0,838.3 L1493.4,843.1 L1493.8,838.6 L1494.2,850.0 L1494.6,843.0 L1495.0,851.4 L1495.4,851.1 L1495.8,851.7 L1496.2,867.2 L1496.6,855.9 L1497.0,872.1 L1497.4,867.9 L1497.8,871.9 L1498.2,870.9 L1498.6,863.0 L1499.0,872.2 L1499.4,853.2 L1499.8,861.8 L1500.2,855.9 L1500.6,844.4 L1501.0,847.4 L1501.4,833.5 L1501.8,842.9 L1502.2,830.1 L1502.6,828.7 L1503.0,840.9 L1503.4,838.4 L1503.8,852.8 L1504.2,845.0 L1504.6,866.3 L1505.0,871.9 L1505.4,863.8 L1505.8,865.9 L1506.2,843.6 L1506.6,854.0 L1507.0,843.7 L1507.4,844.7 L1507.8,845.4 L1508.2,835.0 L1508.6,849.6 L1509.0,831.1 L1509.4,834.7 L1509.8,831.9 L1510.2,833.2 L1510.6,841.6 L1511.0,839.4 L1511.4,858.1 L1511.8,847.3 L1512.2,854.3 L1512.6,853.9 L1513.0,842.2 L1513.4,849.9 L1513.8,827.1 L1514.2,836.6 L1514.6,823.3 L1514.9,823.9 L1515.4,838.0 L1515.8,830.5 L1516.2,857.9 L1516.6,841.3 L1517.0,863.7 L1517.4,858.3 L1517.8,867.1 L1518.2,868.5 L1518.6,867.0 L1519.0,873.4 L1519.4,868.3 L1519.8,876.0 L1520.2,875.1 L1520.6,871.0 L1521.0,877.7 L1521.4,841.7 L1521.8,865.3 L1522.2,852.0 L1522.6,852.7 L1523.0,862.7 L1523.4,859.1 L1523.8,882.8 L1524.2,872.4 L1524.6,886.7 L1525.0,883.1 L1525.4,880.3 L1525.8,903.0 L1526.2,889.8 L1526.6,897.5 L1527.0,892.6 L1527.4,857.6 L1527.8,877.3 L1528.2,857.5 L1528.7,842.5 L1529.1,865.1 L1529.6,825.2 L1530.0,831.9 L1530.4,838.8 L1530.8,838.7 L1531.2,851.1 L1531.6,843.3 L1532.0,856.1 L1532.4,857.5 L1532.8,851.6 L1533.2,858.7 L1533.6,846.6 L1534.0,849.9 L1534.4,836.2 L1534.8,838.3 L1535.2,845.5 L1535.6,840.6 L1536.0,862.4 L1536.4,830.9 L1536.8,872.0 L1537.2,865.3 L1537.6,875.8 L1538.0,878.3 L1538.4,866.5 L1538.8,886.5 L1539.2,852.3 L1539.5,863.7 L1539.9,854.3 L1540.3,852.8 L1540.8,868.4 L1541.2,854.5 L1541.6,870.3 L1542.0,860.0 L1542.4,874.6 L1542.8,875.1 L1543.2,871.3 L1543.6,870.4 L1544.0,861.4 L1544.4,867.7 L1544.8,859.4 L1545.2,860.7 L1545.6,874.3 L1546.0,867.1 L1546.4,879.5 L1546.8,883.1 L1547.2,884.6 L1547.6,892.5 L1548.0,875.1 L1548.4,899.1 L1548.8,893.3 L1549.2,899.1 L1549.6,900.6 L1550.0,866.4 L1550.4,871.9 L1550.8,855.9 L1551.2,852.3 L1551.6,858.4 L1552.0,849.2 L1552.4,851.0 L1552.8,844.9 L1553.2,844.7 L1553.6,856.3 L1554.0,845.9 L1554.4,870.0 L1554.8,870.3 L1555.2,855.2 L1555.6,860.0 L1556.0,844.8 L1556.4,845.4 L1556.8,827.9 L1557.2,823.9 L1557.6,827.2 L1558.0,820.4 L1558.4,827.2 L1558.8,819.3 L1559.2,826.1 L1559.6,822.3 L1560.0,811.5 L1560.4,836.1 L1560.8,833.3 L1561.2,849.5 L1561.6,850.0 L1562.0,819.9 L1562.4,860.8 L1562.8,816.3 L1563.2,826.0 L1563.6,812.6 L1564.0,804.6 L1564.4,808.4 L1564.8,791.5 L1565.2,800.8 L1565.6,785.2 L1566.0,785.4 L1566.4,789.5 L1566.8,785.8 L1567.2,798.3 L1567.6,792.7 L1568.0,799.3 L1568.4,796.6 L1568.8,796.5 L1569.2,801.9 L1569.6,797.6 L1570.0,802.8 L1570.4,796.7 L1570.8,801.4 L1571.2,807.8 L1571.6,804.1 L1572.0,822.4 L1572.4,814.1 L1572.8,821.9 L1573.2,825.5 L1573.6,822.6 L1574.0,830.3 L1574.4,822.3 L1574.8,832.4 L1575.2,827.4 L1575.6,831.9 L1576.0,827.3 L1576.4,803.0 L1576.8,804.0 L1577.2,812.8 L1577.6,800.3 L1578.0,817.5 L1578.4,814.3 L1578.8,817.4 L1579.2,821.8 L1579.6,789.5 L1580.0,790.2 L1580.4,800.3 L1580.8,778.8 L1581.2,815.6 L1581.6,807.8 L1582.0,819.0 L1582.4,821.1 L1582.8,820.9 L1583.2,833.3 L1583.6,819.4 L1584.0,831.7 L1584.4,826.8 L1584.8,835.0 L1585.2,835.1 L1585.6,830.9 L1586.0,835.2 L1586.4,830.0 L1586.8,836.2 L1587.2,825.1 L1587.6,829.8 L1588.0,824.2 L1588.4,827.1 L1588.8,832.0 L1589.2,832.6 L1589.6,837.2 L1590.0,832.8 L1590.4,845.1 L1590.8,842.5 L1591.2,849.6 L1591.6,849.5 L1592.0,844.5 L1592.4,849.8 L1592.8,836.6 L1593.2,843.4 L1593.6,836.0 L1594.0,836.7 L1594.4,839.8 L1594.9,837.4 L1595.3,847.3 L1595.7,839.7 L1596.1,851.2 L1596.5,844.0 L1596.9,855.0 L1597.3,854.3 L1597.7,855.3 L1598.1,863.6 L1598.5,854.3 L1598.9,876.4 L1599.3,863.5 L1599.7,879.2 L1600.1,874.4 L1600.5,879.9 L1600.9,881.5 L1601.3,874.5 L1601.7,879.8 L1602.1,875.9 L1602.5,879.8 L1602.9,876.7 L1603.3,866.0 L1603.7,870.1 L1604.1,848.3 L1604.5,839.9 L1604.9,840.7 L1605.3,834.8 L1605.7,839.2 L1606.1,825.5 L1606.5,835.8 L1606.9,828.2 L1607.3,830.7 L1607.7,827.1 L1608.1,822.2 L1608.5,829.2 L1608.9,823.4 L1609.3,828.6 L1609.7,825.4 L1610.1,828.7 L1610.5,833.9 L1610.9,834.1 L1611.3,848.4 L1611.7,844.7 L1612.1,819.3 L1612.5,807.8 L1612.9,814.4 L1613.3,810.3 L1613.7,831.5 L1614.1,816.3 L1614.5,828.0 L1614.9,825.5 L1615.3,816.6 L1615.7,832.7 L1616.1,809.8 L1616.5,807.8 L1616.9,813.7 L1617.3,807.9 L1617.7,821.7 L1618.1,817.2 L1618.5,825.1 L1618.9,823.9 L1619.3,814.8 L1619.7,828.5 L1620.1,807.7 L1620.5,819.9 L1620.9,805.9 L1621.3,806.2 L1621.7,816.5 L1622.1,814.0 L1622.5,838.4 L1622.9,809.6 L1623.3,833.1 L1623.7,831.9 L1624.1,830.5 L1624.5,842.6 L1624.9,837.0 L1625.3,853.3 L1625.7,843.1 L1626.1,847.9 L1626.5,850.8 L1626.8,848.9 L1627.2,853.9 L1627.6,851.1 L1628.0,854.3 L1628.4,855.9 L1628.8,836.4 L1629.2,835.8 L1629.6,828.7 L1630.0,831.1 L1630.4,856.5 L1630.8,836.1 L1631.3,863.2 L1631.7,859.1 L1632.1,853.9 L1632.5,857.8 L1632.9,849.5 L1633.3,857.3 L1633.7,842.4 L1634.1,847.9 L1634.5,842.5 L1634.9,841.5 L1635.3,841.4 L1635.7,833.9 L1636.1,836.4 L1636.5,831.6 L1636.9,838.6 L1637.3,827.4 L1637.7,831.0 L1638.1,827.1 L1638.5,828.6 L1638.9,838.8 L1639.3,827.3 L1639.7,842.6 L1640.1,839.6 L1640.5,849.5 L1640.9,851.5 L1641.3,825.8 L1641.7,831.6 L1642.1,815.8 L1642.5,804.8 L1642.9,810.3 L1643.2,784.8 L1643.6,803.0 L1644.0,791.8 L1644.4,786.6 L1644.8,789.3 L1645.3,776.5 L1645.7,782.7 L1646.1,778.2 L1646.5,778.9 L1646.9,814.5 L1647.3,796.6 L1647.7,807.8 L1648.1,816.0 L1648.5,802.9 L1648.9,835.5 L1649.3,808.4 L1649.7,829.4 L1650.1,833.5 L1650.5,833.1 L1650.9,841.1 L1651.3,837.7 L1651.7,848.8 L1652.1,842.6 L1652.5,847.4 L1652.9,845.1 L1653.3,849.5 L1653.7,854.6 L1654.1,851.0 L1654.5,872.7 L1654.9,857.5 L1655.3,865.8 L1655.7,868.7 L1656.1,859.2 L1656.5,865.8 L1656.9,832.8 L1657.3,862.2 L1657.7,848.2 L1658.1,844.7 L1658.5,845.4 L1658.9,836.8 L1659.3,842.4 L1659.7,828.0 L1660.1,838.1 L1660.5,830.2 L1660.9,828.5 L1661.3,825.5 L1661.7,825.4 L1662.1,842.3 L1662.5,831.6 L1662.9,844.9 L1663.3,841.0 L1663.7,851.1 L1664.1,859.2 L1664.5,850.8 L1664.9,860.3 L1665.3,862.3 L1665.7,843.9 L1666.1,845.8 L1666.5,821.0 L1666.9,814.2 L1667.3,824.3 L1667.7,804.6 L1668.1,835.3 L1668.5,827.0 L1668.9,848.5 L1669.3,846.3 L1669.7,843.2 L1670.1,864.1 L1670.5,843.3 L1670.9,884.1 L1671.3,868.2 L1671.7,873.5 L1672.1,880.9 L1672.5,874.4 L1672.9,885.4 L1673.3,872.4 L1673.7,886.5 L1674.1,884.7 L1674.5,881.3 L1674.9,889.4 L1675.3,887.9 L1675.7,894.6 L1676.1,889.0 L1676.5,895.5 L1676.9,892.3 L1677.3,895.9 L1677.7,893.3 L1678.1,877.3 L1678.5,906.6 L1678.9,864.8 L1679.3,876.7 L1679.7,863.9 L1680.1,861.8 L1680.5,867.1 L1680.9,861.3 L1681.3,867.6 L1681.7,863.2 L1682.1,865.5 L1682.5,870.5 L1682.9,872.7 L1683.3,885.8 L1683.7,875.3 L1684.1,891.0 L1684.5,889.5 L1684.9,872.9 L1685.3,896.6 L1685.7,860.1 L1686.1,857.5 L1686.5,856.5 L1687.0,825.0 L1687.4,844.2 L1687.8,828.2 L1688.2,822.3 L1688.6,835.7 L1689.0,833.3 L1689.4,850.6 L1689.7,843.1 L1690.1,851.1 L1690.5,854.9 L1690.9,848.8 L1691.3,855.2 L1691.7,851.4 L1692.1,856.2 L1692.5,852.1 L1692.9,860.7 L1693.3,857.5 L1693.7,857.0 L1694.1,865.2 L1694.5,859.3 L1694.9,876.7 L1695.3,864.1 L1695.7,875.7 L1696.1,873.5 L1696.5,876.7 L1696.9,880.1 L1697.3,880.8 L1697.7,888.6 L1698.1,880.6 L1698.5,889.8 L1698.9,891.1 L1699.3,876.0 L1699.7,898.7 L1700.1,871.2 L1700.5,865.5 L1700.9,876.1 L1701.3,872.2 L1701.7,883.1 L1702.1,875.0 L1702.5,894.2 L1702.9,884.3 L1703.3,897.8 L1703.7,899.1 L1704.1,891.1 L1704.5,905.6 L1704.9,873.5 L1705.3,890.1 L1705.7,873.1 L1706.1,870.3 L1706.5,871.0 L1706.9,856.9 L1707.3,866.4 L1707.7,845.9 L1708.1,853.6 L1708.5,844.7 L1708.9,841.8 L1709.3,842.6 L1709.7,833.6 L1710.1,847.1 L1710.5,820.5 L1710.9,832.4 L1711.3,822.2 L1711.7,822.3 L1712.1,830.2 L1712.5,812.2 L1712.9,844.4 L1713.3,838.2 L1713.7,857.2 L1714.1,857.5 L1714.5,844.6 L1714.9,856.0 L1715.3,832.4 L1715.7,841.8 L1716.1,810.9 L1716.5,834.5 L1716.9,809.3 L1717.3,812.6 L1717.7,817.3 L1718.1,813.9 L1718.5,820.1 L1718.9,818.6 L1719.3,823.3 L1719.7,822.3 L1720.1,825.7 L1720.5,835.4 L1720.9,827.6 L1721.3,846.8 L1721.7,832.7 L1722.1,844.7 L1722.5,848.3 L1722.9,842.5 L1723.3,848.7 L1723.8,845.1 L1724.2,851.7 L1724.6,847.6 L1725.0,850.6 L1725.4,851.1 L1725.8,842.5 L1726.2,850.2 L1726.6,823.4 L1727.0,838.0 L1727.4,826.0 L1727.8,823.9 L1728.2,835.0 L1728.6,829.4 L1729.0,866.3 L1729.4,840.9 L1729.8,863.7 L1730.2,859.1 L1730.6,851.7 L1731.0,854.7 L1731.4,825.9 L1731.8,855.3 L1732.2,839.6 L1732.6,836.7 L1733.0,840.7 L1733.4,836.5 L1733.8,848.0 L1734.2,837.0 L1734.6,850.2 L1735.0,845.1 L1735.4,852.7 L1735.8,851.1 L1736.2,850.8 L1736.6,858.0 L1737.0,852.1 L1737.4,857.5 L1737.8,856.6 L1738.2,859.1 L1738.6,867.5 L1739.0,818.5 L1739.4,859.9 L1739.8,839.9 L1740.1,823.4 L1740.5,835.0 L1740.9,797.2 L1741.3,820.8 L1741.7,807.8 L1742.1,801.7 L1742.5,804.2 L1742.9,798.7 L1743.3,804.5 L1743.7,791.5 L1744.2,794.2 L1744.6,791.8 L1745.0,792.2 L1745.4,812.4 L1745.8,793.2 L1746.2,824.2 L1746.6,814.0 L1747.0,819.0 L1747.4,826.4 L1747.8,818.7 L1748.2,852.9 L1748.6,821.7 L1749.0,842.6 L1749.4,844.7 L1749.8,830.9 L1750.2,841.0 L1750.7,815.8 L1751.0,819.6 L1751.4,850.2 L1751.8,830.2 L1752.2,844.5 L1752.6,847.9 L1753.0,848.7 L1753.4,858.1 L1753.8,848.8 L1754.2,868.8 L1754.6,855.5 L1755.0,865.3 L1755.4,863.3 L1755.8,867.1 L1756.2,869.5 L1756.6,865.7 L1757.0,879.5 L1757.4,868.6 L1757.8,879.9 L1758.2,879.9 L1758.6,871.1 L1759.0,881.6 L1759.4,855.5 L1759.8,864.6 L1760.2,854.5 L1760.6,854.3 L1761.0,857.9 L1761.4,855.3 L1761.8,879.2 L1762.2,864.6 L1762.6,869.5 L1763.0,871.9 L1763.4,873.7 L1763.8,888.3 L1764.2,868.2 L1764.6,895.9 L1765.0,890.6 L1765.4,899.1 L1765.8,899.5 L1766.2,894.4 L1766.6,900.8 L1767.0,894.1 L1767.4,901.7 L1767.8,893.1 L1768.2,899.8 L1768.6,895.9 L1769.0,876.9 L1769.4,892.4 L1769.8,849.0 L1770.2,847.9 L1770.6,855.9 L1771.0,848.5 L1771.4,860.0 L1771.8,848.1 L1772.2,866.9 L1772.6,860.5 L1773.0,864.2 L1773.4,865.5 L1773.8,863.1 L1774.2,872.5 L1774.6,875.0 L1775.0,882.9 L1775.4,876.6 L1775.8,890.9 L1776.2,885.7 L1776.6,896.7 L1777.0,892.1 L1777.4,897.5 L1777.8,888.4 L1778.2,832.3 L1778.6,855.0 L1779.0,839.9 L1779.4,842.5 L1779.8,860.7 L1780.2,832.6 L1780.6,860.9 L1781.0,859.4 L1781.4,870.3 L1781.8,875.0 L1782.2,871.3 L1782.6,876.9 L1783.0,876.7 L1783.4,881.0 L1783.8,883.1 L1784.2,870.3 L1784.6,895.3 L1785.0,840.0 L1785.4,861.3 L1785.8,843.0 L1786.2,841.5 L1786.6,843.0 L1787.0,829.9 L1787.4,844.7 L1787.8,827.9 L1788.2,839.0 L1788.6,822.4 L1789.0,824.4 L1789.4,820.7 L1789.8,821.7 L1790.2,837.2 L1790.6,818.3 L1791.0,844.8 L1791.4,835.7 L1791.8,849.5 L1792.2,843.0 L1792.6,824.1 L1793.0,841.0 L1793.4,804.0 L1793.8,814.8 L1794.2,801.4 L1794.6,802.3 L1795.0,809.9 L1795.4,807.0 L1795.8,826.2 L1796.2,811.0 L1796.6,828.4 L1797.0,823.2 L1797.4,831.9 L1797.8,834.7 L1798.2,833.1 L1798.6,836.7 L1799.0,832.8 L1799.4,841.1 L1799.8,838.1 L1800.2,846.5 L1800.6,844.7 L1801.0,846.2 L1801.4,856.5 L1801.8,841.1 L1802.2,862.2 L1802.6,859.4 L1803.0,869.8 L1803.4,867.8 L1803.8,873.5 L1804.2,874.7 L1804.6,873.7 L1805.0,877.3 L1805.4,872.7 L1805.8,876.9 L1806.2,871.9 L1806.6,876.9 L1807.0,871.8 L1807.4,878.8 L1807.8,875.8 L1808.2,878.2 L1808.6,876.7 L1809.0,862.6 L1809.4,876.9 L1809.8,835.0 L1810.2,839.3 L1810.6,809.1 L1811.0,804.6 L1811.4,809.0 L1811.8,796.9 L1812.2,818.8 L1812.6,808.0 L1813.0,826.0 L1813.4,825.5 L1813.8,821.6 L1814.2,825.5 L1814.6,819.7 L1815.0,822.5 L1815.4,818.3 L1815.8,823.4 L1816.2,819.0 L1816.6,819.0 L1817.0,835.9 L1817.4,829.3 L1817.8,842.4 L1818.2,847.9 L1818.6,834.7 L1819.0,835.3 L1819.5,801.7 L1819.9,824.3 L1820.3,799.9 L1820.7,808.5 L1821.1,793.4 L1821.5,793.6 L1821.9,811.3 L1822.3,792.5 L1822.7,825.7 L1823.0,806.5 L1823.4,821.1 L1823.8,819.0 L1824.2,817.7 L1824.6,844.3 L1825.0,824.1 L1825.4,835.1 L1825.8,833.7 L1826.2,821.0 L1826.6,827.3 L1827.0,819.7 L1827.4,821.3 L1827.8,815.8 L1828.2,810.1 L1828.6,816.9 L1829.0,803.6 L1829.4,808.6 L1829.8,803.0 L1830.2,804.4 L1830.6,813.7 L1831.0,809.8 L1831.4,815.7 L1831.8,813.0 L1832.2,823.3 L1832.6,823.9 L1833.0,822.5 L1833.4,835.4 L1833.8,826.0 L1834.2,844.4 L1834.6,832.4 L1835.0,840.6 L1835.4,838.6 L1836.9,838.4"/>
</g>
<g fill="#262626" font-size="50.6px">
<text x="188.5" y="1417.2" text-anchor="middle">0</text>
<text x="517.9" y="1417.2" text-anchor="middle">2000</text>
<text x="847.3" y="1417.2" text-anchor="middle">4000</text>
<text x="1176.6" y="1417.2" text-anchor="middle">6000</text>
<text x="1506.0" y="1417.2" text-anchor="middle">8000</text>
<text x="1835.4" y="1417.2" text-anchor="middle">10000</text>
<text x="166.9" y="66.3" text-anchor="end">20</text>
<text x="166.9" y="228.8" text-anchor="end">10</text>
<text x="166.9" y="391.3" text-anchor="end">0</text>
<text x="166.9" y="553.8" text-anchor="end">-10</text>
<text x="166.9" y="716.2" text-anchor="end">-20</text>
<text x="166.9" y="878.7" text-anchor="end">-30</text>
<text x="166.9" y="1041.2" text-anchor="end">-40</text>
<text x="166.9" y="1203.7" text-anchor="end">-50</text>
<text x="166.9" y="1366.2" text-anchor="end">-60</text>
</g>
<text x="1012" y="1490.8" text-anchor="middle" font-size="55.7px" fill="#262626">iteration</text>
<text transform="translate(66.3,696.4) rotate(-90)" text-anchor="middle" font-size="55.7px" fill="#262626">MSD [dB]</text>
<rect x="1397.5" y="85.5" width="398.0" height="450.9" fill="#fff" stroke="#262626" stroke-width="2.5"/>
<g font-size="45.6px" fill="#000">
<path d="M1413,123.6 H1565.2" stroke="#0072BD" stroke-width="2.5" fill="none"/>
<text x="1575.7" y="141.8">mu=0.005</text>
<path d="M1413,186.1 H1565.2" stroke="#D95319" stroke-width="2.5" fill="none"/>
<text x="1575.7" y="204.3">mu=0.008</text>
<path d="M1413,248.5 H1565.2" stroke="#EDB120" stroke-width="2.5" fill="none"/>
<text x="1575.7" y="266.7">mu=0.010</text>
<path d="M1413,311.0 H1565.2" stroke="#7E2F8E" stroke-width="2.5" fill="none"/>
<text x="1575.7" y="329.2">mu=0.013</text>
<path d="M1413,373.5 H1565.2" stroke="#77AC30" stroke-width="2.5" fill="none"/>
<text x="1575.7" y="391.7">mu=0.017</text>
<path d="M1413,436.0 H1565.2" stroke="#4DBEEE" stroke-width="2.5" fill="none"/>
<text x="1575.7" y="454.2">mu=0.022</text>
<path d="M1413,498.4 H1565.2" stroke="#A2142F" stroke-width="2.5" fill="none"/>
<text x="1575.7" y="516.6">mu=0.025</text>
</g>
</svg></body></html>
